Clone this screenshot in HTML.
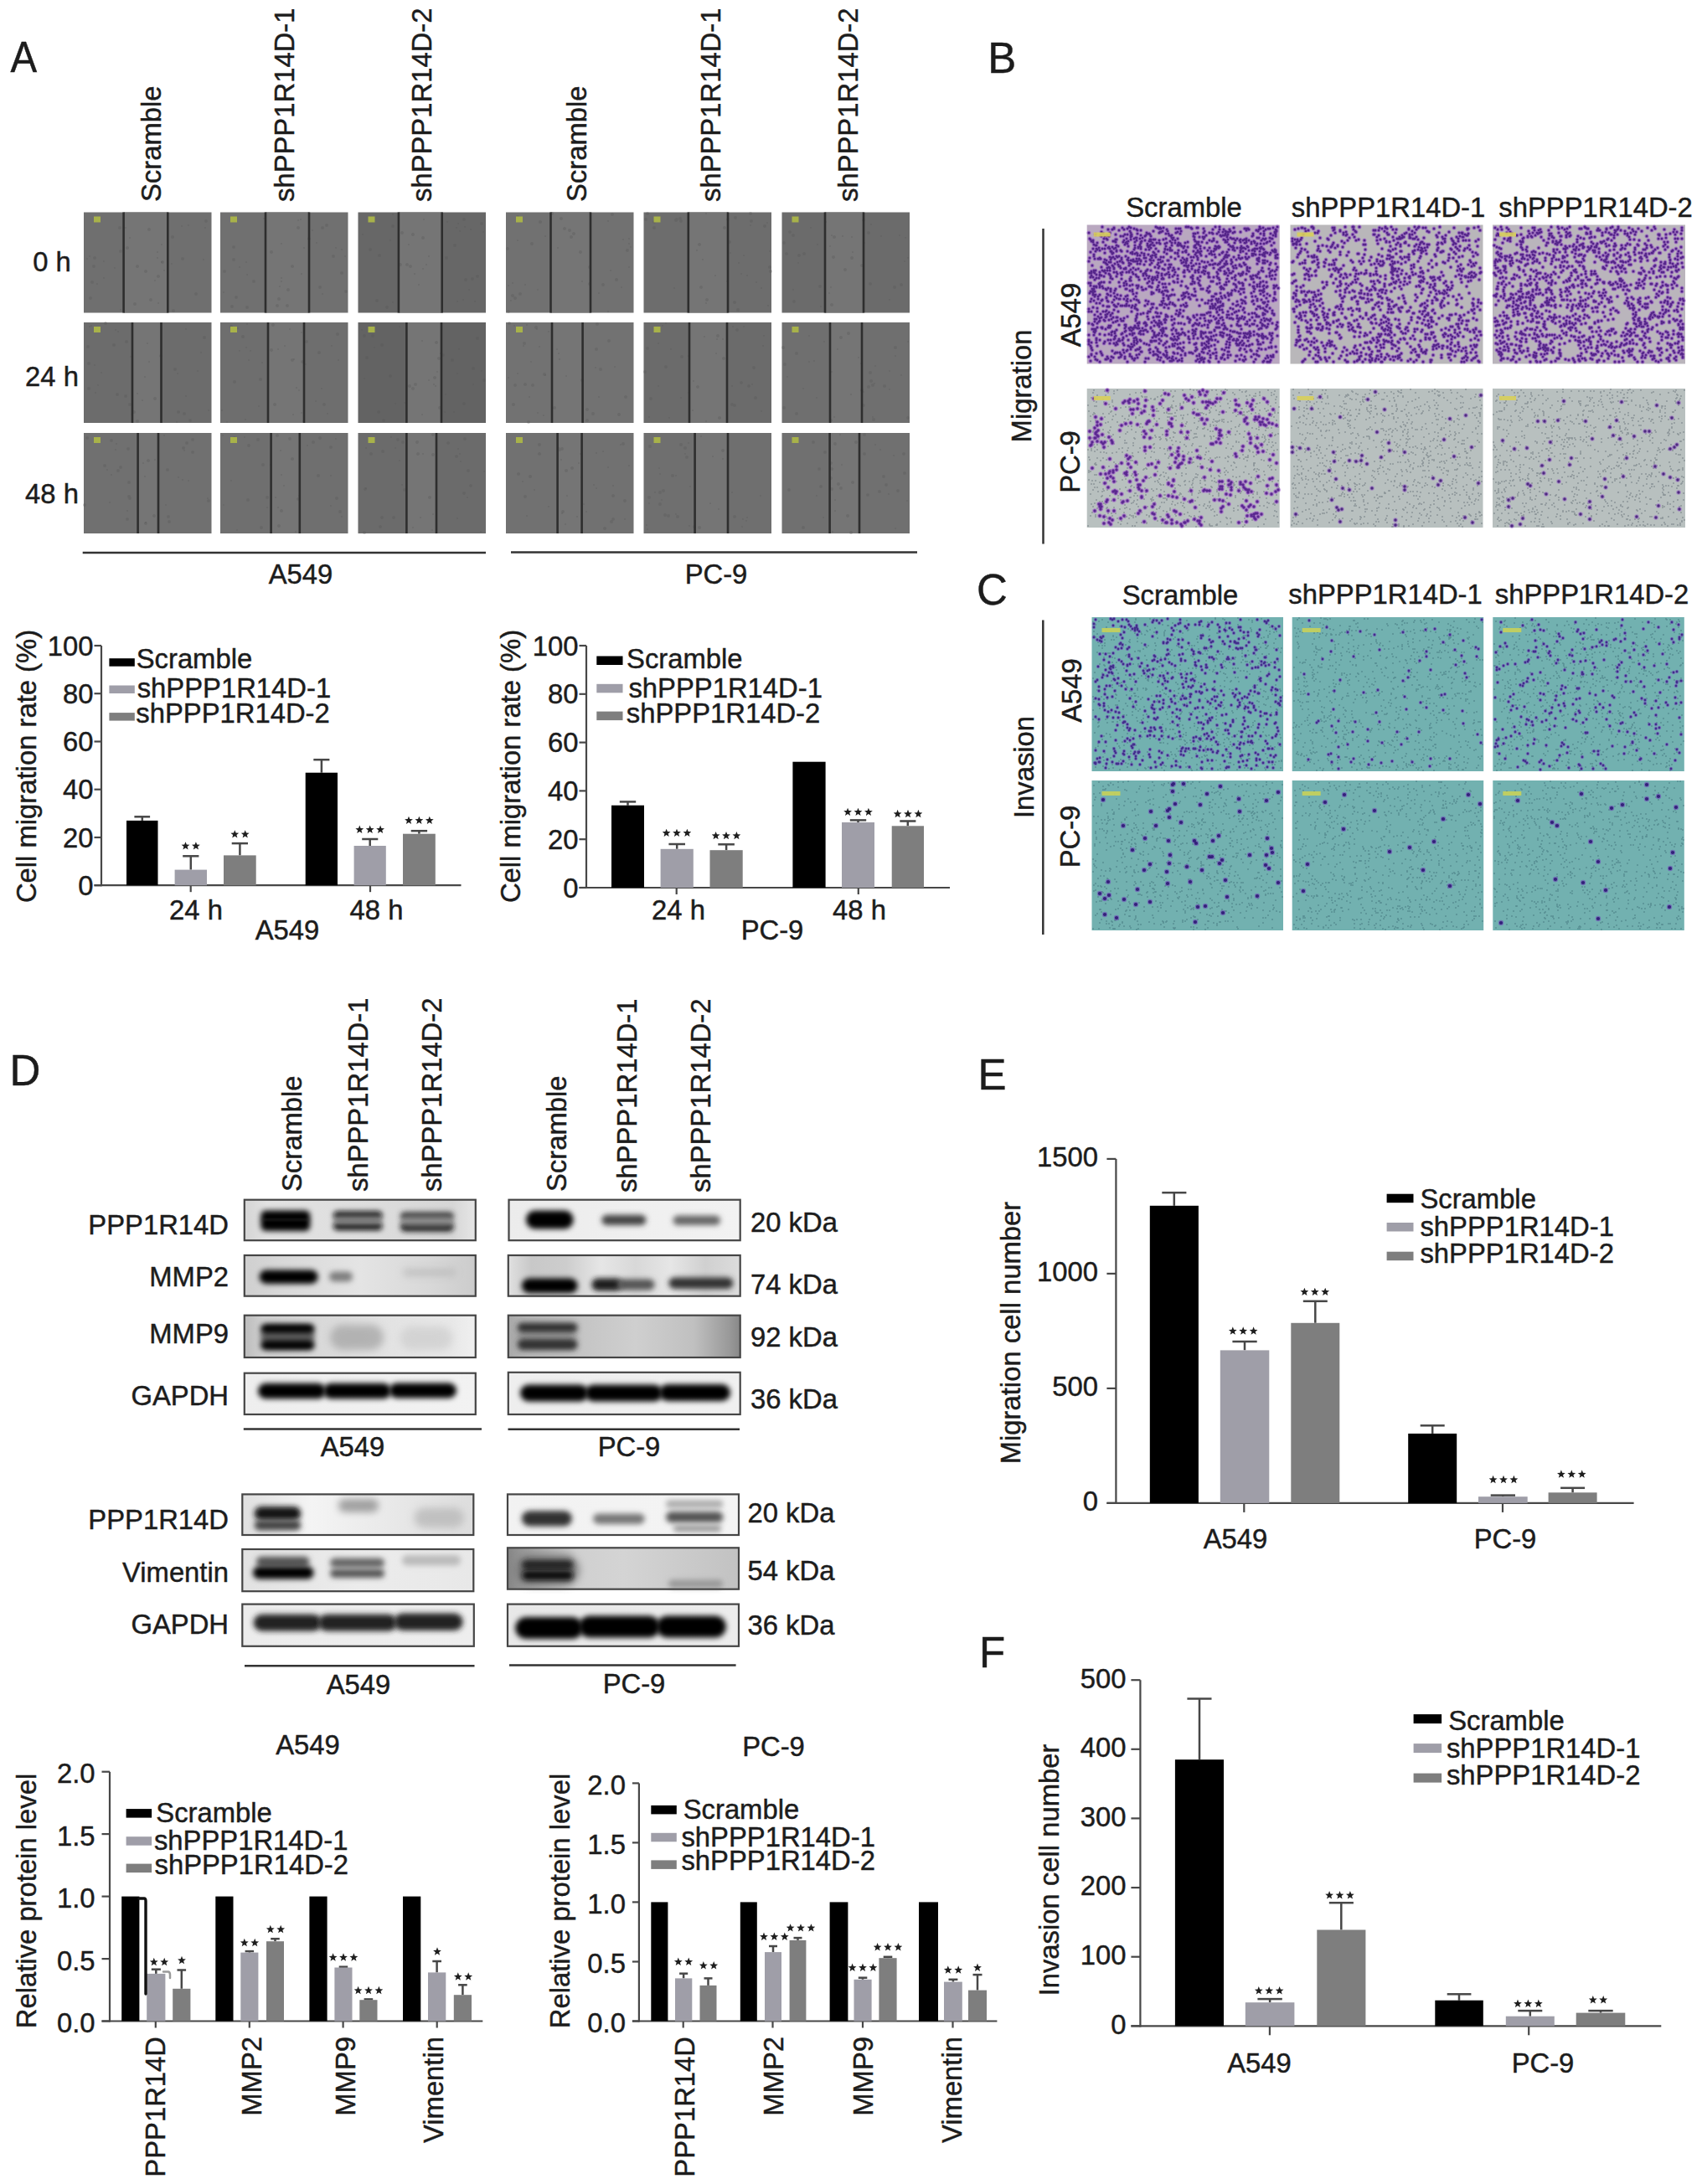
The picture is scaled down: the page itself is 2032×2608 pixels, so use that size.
<!DOCTYPE html><html><head><meta charset="utf-8"><style>html,body{margin:0;padding:0;background:#fff;}body{width:2032px;height:2608px;overflow:hidden;font-family:"Liberation Sans",sans-serif;}svg{display:block}</style></head><body><svg width="2032" height="2608" viewBox="0 0 2032 2608" font-family="'Liberation Sans', sans-serif"><defs><filter id="blur3" x="-30%" y="-100%" width="160%" height="300%"><feGaussianBlur stdDeviation="3"/></filter><filter id="blur5" x="-30%" y="-100%" width="160%" height="300%"><feGaussianBlur stdDeviation="5"/></filter><filter id="blur8" x="-30%" y="-100%" width="160%" height="300%"><feGaussianBlur stdDeviation="8"/></filter><filter id="bl1_5" x="-50%" y="-100%" width="200%" height="300%"><feGaussianBlur stdDeviation="1.5"/></filter><filter id="bl2" x="-50%" y="-100%" width="200%" height="300%"><feGaussianBlur stdDeviation="2"/></filter><filter id="bl3" x="-50%" y="-100%" width="200%" height="300%"><feGaussianBlur stdDeviation="3"/></filter><filter id="bl4" x="-50%" y="-100%" width="200%" height="300%"><feGaussianBlur stdDeviation="4"/></filter><filter id="bl5" x="-50%" y="-100%" width="200%" height="300%"><feGaussianBlur stdDeviation="5"/></filter><filter id="bl6" x="-50%" y="-100%" width="200%" height="300%"><feGaussianBlur stdDeviation="6"/></filter><filter id="bl8" x="-50%" y="-100%" width="200%" height="300%"><feGaussianBlur stdDeviation="8"/></filter><linearGradient id="g1" x1="0" y1="0" x2="1" y2="0"><stop offset="0" stop-color="#d4d4d4"/><stop offset="0.1" stop-color="#e2e2e2"/><stop offset="0.5" stop-color="#dedede"/><stop offset="0.9" stop-color="#d6d6d6"/><stop offset="1" stop-color="#e6e6e6"/></linearGradient><linearGradient id="g2" x1="0" y1="0" x2="1" y2="0"><stop offset="0" stop-color="#cfcfcf"/><stop offset="0.15" stop-color="#d8d8d8"/><stop offset="0.5" stop-color="#e4e4e4"/><stop offset="0.8" stop-color="#d8d8d8"/><stop offset="1" stop-color="#cccccc"/></linearGradient><linearGradient id="g3" x1="0" y1="0" x2="1" y2="0"><stop offset="0" stop-color="#bcbcbc"/><stop offset="0.08" stop-color="#d0d0d0"/><stop offset="0.3" stop-color="#d8d8d8"/><stop offset="0.6" stop-color="#e2e2e2"/><stop offset="0.9" stop-color="#e8e8e8"/><stop offset="1" stop-color="#f0f0f0"/></linearGradient><linearGradient id="g4" x1="0" y1="0" x2="1" y2="0"><stop offset="0" stop-color="#eeeeee"/><stop offset="1" stop-color="#f2f2f2"/></linearGradient><linearGradient id="g5" x1="0" y1="0" x2="1" y2="0"><stop offset="0" stop-color="#e0e0e0"/><stop offset="0.3" stop-color="#f4f4f4"/><stop offset="0.6" stop-color="#eaeaea"/><stop offset="1" stop-color="#dddddd"/></linearGradient><linearGradient id="g6" x1="0" y1="0" x2="1" y2="0"><stop offset="0" stop-color="#e2e2e2"/><stop offset="0.5" stop-color="#ececec"/><stop offset="1" stop-color="#e8e8e8"/></linearGradient><linearGradient id="g7" x1="0" y1="0" x2="1" y2="0"><stop offset="0" stop-color="#ececec"/><stop offset="1" stop-color="#eeeeee"/></linearGradient><linearGradient id="g8" x1="0" y1="0" x2="1" y2="0"><stop offset="0" stop-color="#ececec"/><stop offset="1" stop-color="#f2f2f2"/></linearGradient><linearGradient id="g9" x1="0" y1="0" x2="1" y2="0"><stop offset="0" stop-color="#e0e0e0"/><stop offset="0.1" stop-color="#c8c8c8"/><stop offset="0.25" stop-color="#cdcdcd"/><stop offset="0.4" stop-color="#e6e6e6"/><stop offset="0.55" stop-color="#d8d8d8"/><stop offset="0.7" stop-color="#e6e6e6"/><stop offset="0.85" stop-color="#d0d0d0"/><stop offset="1" stop-color="#dcdcdc"/></linearGradient><linearGradient id="g10" x1="0" y1="0" x2="1" y2="0"><stop offset="0" stop-color="#a8a8a8"/><stop offset="0.08" stop-color="#b8b8b8"/><stop offset="0.3" stop-color="#c4c4c4"/><stop offset="0.55" stop-color="#cfcfcf"/><stop offset="0.8" stop-color="#c0c0c0"/><stop offset="0.95" stop-color="#9a9a9a"/><stop offset="1" stop-color="#888"/></linearGradient><linearGradient id="g11" x1="0" y1="0" x2="1" y2="0"><stop offset="0" stop-color="#eeeeee"/><stop offset="1" stop-color="#f0f0f0"/></linearGradient><linearGradient id="g12" x1="0" y1="0" x2="1" y2="0"><stop offset="0" stop-color="#f2f2f2"/><stop offset="1" stop-color="#f4f4f4"/></linearGradient><linearGradient id="g13" x1="0" y1="0" x2="1" y2="0"><stop offset="0" stop-color="#858585"/><stop offset="0.12" stop-color="#a8a8a8"/><stop offset="0.3" stop-color="#d0d0d0"/><stop offset="0.5" stop-color="#d4d4d4"/><stop offset="0.7" stop-color="#cdcdcd"/><stop offset="1" stop-color="#c2c2c2"/></linearGradient><linearGradient id="g14" x1="0" y1="0" x2="1" y2="0"><stop offset="0" stop-color="#e8e8e8"/><stop offset="1" stop-color="#ececec"/></linearGradient></defs><rect width="2032" height="2608" fill="#fff"/><text transform="translate(12.6,86.4) scale(0.93,1.03)" font-size="51" text-anchor="start" fill="#1c1c1c" stroke="#1c1c1c" stroke-width="0.45">A</text>
<text transform="translate(1179.3,87.0) scale(1,1.03)" font-size="51" text-anchor="start" fill="#1c1c1c" stroke="#1c1c1c" stroke-width="0.45">B</text>
<text transform="translate(1166.0,722.0) scale(1,1.03)" font-size="51" text-anchor="start" fill="#1c1c1c" stroke="#1c1c1c" stroke-width="0.45">C</text>
<text transform="translate(11.5,1296.3) scale(1,1.03)" font-size="51" text-anchor="start" fill="#1c1c1c" stroke="#1c1c1c" stroke-width="0.45">D</text>
<text transform="translate(1167.5,1300.5) scale(1,1.03)" font-size="51" text-anchor="start" fill="#1c1c1c" stroke="#1c1c1c" stroke-width="0.45">E</text>
<text transform="translate(1168.9,1990.5) scale(1,1.03)" font-size="51" text-anchor="start" fill="#1c1c1c" stroke="#1c1c1c" stroke-width="0.45">F</text>
<rect x="100.0" y="253.5" width="152.5" height="120.0" fill="#6f6f6f"/>
<rect x="147.6" y="253.5" width="52.7" height="120.0" fill="#757575"/>
<path d="M150 272h0M189 362h0M107 306h0M137 320h0M225 269h0M196 323h0M188 301h0M185 335h0M116 339h0M155 284h0M144 370h0M124 312h0M188 308h0M243 310h0M104 309h0M193 313h0M217 270h0M245 272h0M124 332h0M193 292h0M205 315h0" stroke="#555" stroke-width="2" stroke-linecap="round" opacity="0.3"/>
<path d="M112 318h0M108 356h0M164 318h0M189 330h0M194 313h0M218 309h0M206 283h0M180 358h0M178 274h0M246 264h0M152 296h0M110 337h0M144 300h0M161 363h0M113 308h0M234 351h0M207 371h0M174 324h0M143 272h0" stroke="#555" stroke-width="4" stroke-linecap="round" opacity="0.3"/>
<line x1="147.6" y1="253.5" x2="147.6" y2="373.5" stroke="#2e2e2e" stroke-width="2.6"/>
<line x1="200.3" y1="253.5" x2="200.3" y2="373.5" stroke="#2e2e2e" stroke-width="2.6"/>
<rect x="112.0" y="258.5" width="8.0" height="7.0" fill="#a8b24a"/>
<rect x="263.0" y="253.5" width="152.5" height="120.0" fill="#707070"/>
<rect x="317.0" y="253.5" width="52.0" height="120.0" fill="#757575"/>
<path d="M333 357h0M324 301h0M349 318h0M356 272h0M408 326h0M282 355h0M279 295h0M295 367h0M369 285h0M344 346h0M413 348h0M303 336h0M331 365h0M279 310h0M390 269h0M382 343h0M398 306h0M277 366h0M268 324h0M385 272h0M343 365h0" stroke="#555" stroke-width="4" stroke-linecap="round" opacity="0.3"/>
<path d="M359 262h0M412 306h0M315 261h0M356 263h0M336 291h0M336 336h0M286 319h0M378 290h0M401 296h0M360 327h0M385 351h0M294 313h0M408 298h0M295 328h0M336 332h0M334 342h0M373 275h0M363 296h0M267 349h0" stroke="#555" stroke-width="2" stroke-linecap="round" opacity="0.3"/>
<line x1="317.0" y1="253.5" x2="317.0" y2="373.5" stroke="#2e2e2e" stroke-width="2.6"/>
<line x1="369.0" y1="253.5" x2="369.0" y2="373.5" stroke="#2e2e2e" stroke-width="2.6"/>
<rect x="275.0" y="258.5" width="8.0" height="7.0" fill="#a8b24a"/>
<rect x="427.5" y="253.5" width="152.5" height="120.0" fill="#676767"/>
<rect x="475.9" y="253.5" width="51.8" height="120.0" fill="#757575"/>
<path d="M577 277h0M433 280h0M553 358h0M509 316h0M560 346h0M545 272h0M500 340h0M547 267h0M466 287h0M505 321h0M495 327h0M567 360h0M555 271h0M488 292h0M546 360h0M562 274h0M512 306h0M506 262h0M469 361h0M534 265h0M549 276h0M469 256h0" stroke="#555" stroke-width="2" stroke-linecap="round" opacity="0.3"/>
<path d="M543 293h0M554 262h0M564 333h0M478 316h0M533 308h0M505 284h0M493 280h0M570 330h0M450 359h0M462 367h0M453 305h0M480 278h0M442 298h0M486 316h0M575 267h0M469 270h0M556 334h0M490 318h0" stroke="#555" stroke-width="4" stroke-linecap="round" opacity="0.3"/>
<line x1="475.9" y1="253.5" x2="475.9" y2="373.5" stroke="#2e2e2e" stroke-width="2.6"/>
<line x1="527.7" y1="253.5" x2="527.7" y2="373.5" stroke="#2e2e2e" stroke-width="2.6"/>
<rect x="439.5" y="258.5" width="8.0" height="7.0" fill="#a8b24a"/>
<rect x="604.0" y="253.5" width="152.5" height="120.0" fill="#717171"/>
<rect x="657.5" y="253.5" width="47.5" height="120.0" fill="#757575"/>
<path d="M726 264h0M744 286h0M612 338h0M751 285h0M726 372h0M607 341h0M751 291h0M753 295h0M666 296h0M695 336h0M751 319h0M610 359h0M618 287h0M642 346h0M651 282h0M627 340h0M715 350h0M742 343h0M729 323h0" stroke="#555" stroke-width="2" stroke-linecap="round" opacity="0.3"/>
<path d="M615 356h0M607 372h0M635 291h0M685 279h0M680 275h0M682 283h0M621 351h0M704 319h0M731 256h0M670 261h0M736 334h0M674 273h0M606 297h0M659 255h0M645 265h0M693 301h0M704 339h0M720 340h0M612 353h0M618 259h0M749 299h0" stroke="#555" stroke-width="4" stroke-linecap="round" opacity="0.3"/>
<line x1="657.5" y1="253.5" x2="657.5" y2="373.5" stroke="#2e2e2e" stroke-width="2.6"/>
<line x1="705.0" y1="253.5" x2="705.0" y2="373.5" stroke="#2e2e2e" stroke-width="2.6"/>
<rect x="616.0" y="258.5" width="8.0" height="7.0" fill="#a8b24a"/>
<rect x="768.5" y="253.5" width="152.5" height="120.0" fill="#6d6d6d"/>
<rect x="821.8" y="253.5" width="47.2" height="120.0" fill="#757575"/>
<path d="M854 329h0M843 255h0M882 314h0M805 344h0M885 327h0M868 336h0M916 266h0M839 310h0M917 365h0M919 300h0M903 337h0M872 302h0M832 299h0M896 269h0M909 344h0M888 305h0M892 329h0M843 362h0" stroke="#555" stroke-width="2" stroke-linecap="round" opacity="0.3"/>
<path d="M869 262h0M807 263h0M881 370h0M897 264h0M781 272h0M771 262h0M871 289h0M919 319h0M813 264h0M781 265h0M913 270h0M844 358h0M773 255h0M896 255h0M877 361h0M808 262h0M920 324h0M812 261h0M865 272h0M835 292h0M878 260h0M837 343h0" stroke="#555" stroke-width="4" stroke-linecap="round" opacity="0.3"/>
<line x1="821.8" y1="253.5" x2="821.8" y2="373.5" stroke="#2e2e2e" stroke-width="2.6"/>
<line x1="869.0" y1="253.5" x2="869.0" y2="373.5" stroke="#2e2e2e" stroke-width="2.6"/>
<rect x="780.5" y="258.5" width="8.0" height="7.0" fill="#a8b24a"/>
<rect x="933.5" y="253.5" width="152.5" height="120.0" fill="#6b6b6b"/>
<rect x="985.0" y="253.5" width="46.0" height="120.0" fill="#757575"/>
<path d="M960 303h0M979 342h0M996 283h0M1031 263h0M1017 308h0M1068 343h0M1009 322h0M948 360h0M995 307h0M954 305h0M993 364h0M1076 340h0M1029 317h0M936 290h0M939 303h0M943 277h0M947 281h0M1039 339h0M1037 278h0" stroke="#555" stroke-width="4" stroke-linecap="round" opacity="0.3"/>
<path d="M1018 301h0M1084 308h0M1017 283h0M986 265h0M990 350h0M992 343h0M991 294h0M953 314h0M1062 358h0M1080 312h0M1081 284h0M968 272h0M947 346h0M1052 282h0M1032 290h0M1040 268h0M980 366h0M993 281h0M976 292h0M1006 282h0M1074 281h0" stroke="#555" stroke-width="2" stroke-linecap="round" opacity="0.3"/>
<line x1="985.0" y1="253.5" x2="985.0" y2="373.5" stroke="#2e2e2e" stroke-width="2.6"/>
<line x1="1031.0" y1="253.5" x2="1031.0" y2="373.5" stroke="#2e2e2e" stroke-width="2.6"/>
<rect x="945.5" y="258.5" width="8.0" height="7.0" fill="#a8b24a"/>
<rect x="100.0" y="385.0" width="152.5" height="120.0" fill="#6c6c6c"/>
<rect x="158.0" y="385.0" width="34.5" height="120.0" fill="#757575"/>
<path d="M212 446h0M176 410h0M117 460h0M236 443h0M109 389h0M164 470h0M211 504h0M113 436h0M114 469h0M157 495h0M107 390h0M222 393h0M156 426h0M240 421h0M121 445h0M222 473h0M170 478h0M178 432h0M138 394h0M173 450h0M249 490h0M141 396h0" stroke="#555" stroke-width="2" stroke-linecap="round" opacity="0.3"/>
<path d="M136 412h0M244 403h0M160 492h0M151 408h0M106 464h0M227 502h0M126 386h0M185 476h0M155 483h0M150 473h0M106 434h0M213 492h0M140 471h0M105 414h0M209 441h0M220 494h0M192 425h0M164 503h0" stroke="#555" stroke-width="4" stroke-linecap="round" opacity="0.3"/>
<line x1="158.0" y1="385.0" x2="158.0" y2="505.0" stroke="#2e2e2e" stroke-width="2.6"/>
<line x1="192.5" y1="385.0" x2="192.5" y2="505.0" stroke="#2e2e2e" stroke-width="2.6"/>
<rect x="112.0" y="390.0" width="8.0" height="7.0" fill="#a8b24a"/>
<rect x="263.0" y="385.0" width="152.5" height="120.0" fill="#6e6e6e"/>
<rect x="320.0" y="385.0" width="43.0" height="120.0" fill="#757575"/>
<path d="M290 402h0M381 421h0M349 430h0M280 456h0M387 483h0M366 408h0M276 390h0M324 418h0M311 453h0M326 388h0M361 432h0M328 483h0M403 399h0" stroke="#555" stroke-width="4" stroke-linecap="round" opacity="0.3"/>
<path d="M357 466h0M294 415h0M299 419h0M313 433h0M340 413h0M362 503h0M265 490h0M391 494h0M396 413h0M293 501h0M404 430h0M332 417h0M297 430h0M271 504h0M354 463h0M346 393h0M384 464h0M360 397h0M365 435h0M295 387h0M351 429h0M284 392h0M360 493h0M350 495h0M286 419h0M377 479h0M309 485h0" stroke="#555" stroke-width="2" stroke-linecap="round" opacity="0.3"/>
<line x1="320.0" y1="385.0" x2="320.0" y2="505.0" stroke="#2e2e2e" stroke-width="2.6"/>
<line x1="363.0" y1="385.0" x2="363.0" y2="505.0" stroke="#2e2e2e" stroke-width="2.6"/>
<rect x="275.0" y="390.0" width="8.0" height="7.0" fill="#a8b24a"/>
<rect x="427.5" y="385.0" width="152.5" height="120.0" fill="#636363"/>
<rect x="485.4" y="385.0" width="41.6" height="120.0" fill="#757575"/>
<path d="M575 443h0M520 461h0M565 459h0M447 415h0M435 452h0M526 422h0M504 407h0M522 444h0M483 481h0M546 446h0M542 492h0M432 394h0M472 482h0M532 471h0M504 495h0M518 459h0M477 390h0M531 492h0M548 417h0M512 454h0" stroke="#555" stroke-width="2" stroke-linecap="round" opacity="0.3"/>
<path d="M525 487h0M521 409h0M456 412h0M570 404h0M529 424h0M519 451h0M493 464h0M496 459h0M554 482h0M445 401h0M435 401h0M458 502h0M438 427h0M452 492h0M565 440h0M489 461h0M524 428h0M466 449h0M540 430h0M578 454h0" stroke="#555" stroke-width="4" stroke-linecap="round" opacity="0.3"/>
<line x1="485.4" y1="385.0" x2="485.4" y2="505.0" stroke="#2e2e2e" stroke-width="2.6"/>
<line x1="527.0" y1="385.0" x2="527.0" y2="505.0" stroke="#2e2e2e" stroke-width="2.6"/>
<rect x="439.5" y="390.0" width="8.0" height="7.0" fill="#a8b24a"/>
<rect x="604.0" y="385.0" width="152.5" height="120.0" fill="#727272"/>
<rect x="659.0" y="385.0" width="36.6" height="120.0" fill="#757575"/>
<path d="M655 396h0M632 474h0M715 474h0M668 429h0M625 413h0M651 448h0M667 422h0M629 388h0M711 439h0M665 417h0M642 493h0M614 389h0M641 393h0M607 451h0M649 496h0M618 446h0M644 414h0M634 432h0M676 449h0M734 438h0" stroke="#555" stroke-width="2" stroke-linecap="round" opacity="0.3"/>
<path d="M650 447h0M701 502h0M627 459h0M608 386h0M636 460h0M701 489h0M613 483h0M695 454h0M626 410h0M727 407h0M615 460h0M713 387h0M717 441h0M631 504h0M640 391h0M739 495h0M712 417h0M708 494h0M747 474h0M662 487h0" stroke="#555" stroke-width="4" stroke-linecap="round" opacity="0.3"/>
<line x1="659.0" y1="385.0" x2="659.0" y2="505.0" stroke="#2e2e2e" stroke-width="2.6"/>
<line x1="695.6" y1="385.0" x2="695.6" y2="505.0" stroke="#2e2e2e" stroke-width="2.6"/>
<rect x="616.0" y="390.0" width="8.0" height="7.0" fill="#a8b24a"/>
<rect x="768.5" y="385.0" width="152.5" height="120.0" fill="#6b6b6b"/>
<rect x="823.0" y="385.0" width="45.0" height="120.0" fill="#757575"/>
<path d="M855 422h0M828 455h0M791 389h0M863 405h0M875 390h0M874 461h0M799 499h0M786 410h0M775 498h0M841 402h0M898 459h0M888 390h0M822 469h0M795 386h0M813 475h0M856 405h0M911 413h0M786 461h0M843 503h0M909 491h0M801 417h0M827 490h0M912 401h0M822 425h0" stroke="#555" stroke-width="2" stroke-linecap="round" opacity="0.3"/>
<path d="M880 394h0M902 475h0M894 461h0M814 426h0M773 416h0M777 476h0M885 457h0M877 484h0M770 444h0M874 483h0M859 499h0M864 428h0M833 462h0M900 439h0M795 438h0M857 401h0" stroke="#555" stroke-width="4" stroke-linecap="round" opacity="0.3"/>
<line x1="823.0" y1="385.0" x2="823.0" y2="505.0" stroke="#2e2e2e" stroke-width="2.6"/>
<line x1="868.0" y1="385.0" x2="868.0" y2="505.0" stroke="#2e2e2e" stroke-width="2.6"/>
<rect x="780.5" y="390.0" width="8.0" height="7.0" fill="#a8b24a"/>
<rect x="933.5" y="385.0" width="152.5" height="120.0" fill="#6f6f6f"/>
<rect x="991.0" y="385.0" width="38.0" height="120.0" fill="#757575"/>
<path d="M1031 468h0M975 475h0M1025 427h0M984 408h0M959 464h0M1045 437h0M966 432h0M1062 465h0M1000 417h0M1062 443h0M1028 434h0M1069 425h0M993 444h0M940 450h0M1042 498h0M1016 471h0M996 498h0M1084 408h0M1044 458h0M972 431h0M1076 448h0M966 401h0" stroke="#555" stroke-width="2" stroke-linecap="round" opacity="0.3"/>
<path d="M1043 501h0M992 502h0M951 494h0M936 487h0M1039 445h0M1004 403h0M935 415h0M1040 455h0M1037 462h0M1069 415h0M1042 460h0M1013 398h0M1031 484h0M937 435h0M1029 466h0M951 422h0M1084 499h0M1056 461h0" stroke="#555" stroke-width="4" stroke-linecap="round" opacity="0.3"/>
<line x1="991.0" y1="385.0" x2="991.0" y2="505.0" stroke="#2e2e2e" stroke-width="2.6"/>
<line x1="1029.0" y1="385.0" x2="1029.0" y2="505.0" stroke="#2e2e2e" stroke-width="2.6"/>
<rect x="945.5" y="390.0" width="8.0" height="7.0" fill="#a8b24a"/>
<rect x="100.0" y="517.0" width="152.5" height="120.0" fill="#707070"/>
<rect x="164.6" y="517.0" width="24.4" height="120.0" fill="#757575"/>
<path d="M198 603h0M171 553h0M218 573h0M173 569h0M196 520h0M139 530h0M220 538h0M131 600h0M213 570h0M185 549h0M225 574h0M138 537h0M165 636h0M128 561h0M174 624h0M133 567h0M152 610h0M248 595h0" stroke="#555" stroke-width="2" stroke-linecap="round" opacity="0.3"/>
<path d="M154 593h0M141 562h0M249 598h0M101 603h0M155 595h0M200 561h0M230 525h0M219 535h0M133 526h0M230 540h0M153 536h0M202 623h0M174 625h0M125 556h0M201 617h0M104 523h0M223 529h0M152 620h0M144 558h0M184 616h0M154 576h0M177 550h0" stroke="#555" stroke-width="4" stroke-linecap="round" opacity="0.3"/>
<line x1="164.6" y1="517.0" x2="164.6" y2="637.0" stroke="#2e2e2e" stroke-width="2.6"/>
<line x1="189.0" y1="517.0" x2="189.0" y2="637.0" stroke="#2e2e2e" stroke-width="2.6"/>
<rect x="112.0" y="522.0" width="8.0" height="7.0" fill="#a8b24a"/>
<rect x="263.0" y="517.0" width="152.5" height="120.0" fill="#6f6f6f"/>
<rect x="323.6" y="517.0" width="34.2" height="120.0" fill="#757575"/>
<path d="M314 555h0M382 523h0M346 524h0M280 523h0M356 596h0M296 597h0M402 595h0M395 534h0M349 548h0M380 568h0M331 520h0M297 532h0M374 528h0M333 628h0M312 630h0M319 594h0M336 610h0M406 611h0M308 525h0" stroke="#555" stroke-width="4" stroke-linecap="round" opacity="0.3"/>
<path d="M283 633h0M357 592h0M358 539h0M395 568h0M292 522h0M329 594h0M339 580h0M353 635h0M336 567h0M276 574h0M358 568h0M367 532h0M267 603h0M332 606h0M319 606h0M401 524h0M266 520h0M323 555h0M408 617h0M335 538h0M395 604h0" stroke="#555" stroke-width="2" stroke-linecap="round" opacity="0.3"/>
<line x1="323.6" y1="517.0" x2="323.6" y2="637.0" stroke="#2e2e2e" stroke-width="2.6"/>
<line x1="357.8" y1="517.0" x2="357.8" y2="637.0" stroke="#2e2e2e" stroke-width="2.6"/>
<rect x="275.0" y="522.0" width="8.0" height="7.0" fill="#a8b24a"/>
<rect x="427.5" y="517.0" width="152.5" height="120.0" fill="#6b6b6b"/>
<rect x="485.4" y="517.0" width="35.6" height="120.0" fill="#757575"/>
<path d="M554 589h0M470 618h0M481 528h0M475 525h0M499 542h0M517 519h0M498 528h0M545 545h0M562 580h0M457 539h0M483 585h0M435 636h0M559 562h0M443 542h0M517 543h0M436 584h0M535 529h0M513 594h0M456 618h0M454 629h0M555 524h0" stroke="#555" stroke-width="4" stroke-linecap="round" opacity="0.3"/>
<path d="M516 633h0M485 599h0M550 551h0M477 550h0M517 614h0M472 535h0M549 542h0M505 542h0M546 619h0M547 536h0M480 579h0M493 630h0M467 522h0M578 563h0M502 618h0M558 594h0M574 635h0M437 583h0M437 535h0" stroke="#555" stroke-width="2" stroke-linecap="round" opacity="0.3"/>
<line x1="485.4" y1="517.0" x2="485.4" y2="637.0" stroke="#2e2e2e" stroke-width="2.6"/>
<line x1="521.0" y1="517.0" x2="521.0" y2="637.0" stroke="#2e2e2e" stroke-width="2.6"/>
<rect x="439.5" y="522.0" width="8.0" height="7.0" fill="#a8b24a"/>
<rect x="604.0" y="517.0" width="152.5" height="120.0" fill="#717171"/>
<rect x="665.6" y="517.0" width="29.0" height="120.0" fill="#757575"/>
<path d="M746 598h0M676 562h0M722 631h0M732 592h0M671 536h0M667 536h0M644 531h0M644 542h0M744 530h0M668 537h0M627 593h0M672 611h0M633 569h0M730 623h0M683 559h0M732 620h0M619 566h0" stroke="#555" stroke-width="4" stroke-linecap="round" opacity="0.3"/>
<path d="M694 570h0M624 575h0M671 613h0M675 626h0M629 616h0M746 620h0M751 556h0M677 592h0M655 605h0M712 583h0M691 553h0M741 531h0M700 611h0M689 617h0M670 549h0M726 558h0M638 585h0M732 580h0M712 541h0M720 539h0M697 602h0M693 542h0M709 579h0" stroke="#555" stroke-width="2" stroke-linecap="round" opacity="0.3"/>
<line x1="665.6" y1="517.0" x2="665.6" y2="637.0" stroke="#2e2e2e" stroke-width="2.6"/>
<line x1="694.6" y1="517.0" x2="694.6" y2="637.0" stroke="#2e2e2e" stroke-width="2.6"/>
<rect x="616.0" y="522.0" width="8.0" height="7.0" fill="#a8b24a"/>
<rect x="768.5" y="517.0" width="152.5" height="120.0" fill="#6f6f6f"/>
<rect x="829.6" y="517.0" width="39.4" height="120.0" fill="#757575"/>
<path d="M790 597h0M775 601h0M823 628h0M887 620h0M837 521h0M773 632h0M807 614h0M772 627h0M848 601h0M822 529h0M858 608h0M788 566h0M851 545h0M874 588h0M892 618h0M807 568h0M824 581h0M818 542h0M886 629h0M891 622h0M908 592h0M863 548h0M787 559h0M782 588h0" stroke="#555" stroke-width="2" stroke-linecap="round" opacity="0.3"/>
<path d="M798 616h0M788 602h0M813 531h0M863 538h0M809 617h0M776 533h0M792 586h0M794 615h0M829 629h0M820 546h0M877 617h0M818 535h0M803 568h0M775 594h0M835 630h0M788 588h0" stroke="#555" stroke-width="4" stroke-linecap="round" opacity="0.3"/>
<line x1="829.6" y1="517.0" x2="829.6" y2="637.0" stroke="#2e2e2e" stroke-width="2.6"/>
<line x1="869.0" y1="517.0" x2="869.0" y2="637.0" stroke="#2e2e2e" stroke-width="2.6"/>
<rect x="780.5" y="522.0" width="8.0" height="7.0" fill="#a8b24a"/>
<rect x="933.5" y="517.0" width="152.5" height="120.0" fill="#707070"/>
<rect x="990.6" y="517.0" width="35.4" height="120.0" fill="#757575"/>
<path d="M1001 578h0M1072 586h0M971 528h0M1032 542h0M1004 583h0M985 540h0M1080 565h0M959 630h0M1018 576h0M1012 616h0M1036 591h0M1058 579h0M997 530h0M1050 587h0M992 571h0M978 560h0M993 584h0M1032 519h0M992 553h0M1055 569h0M1022 528h0M1079 542h0M942 585h0M980 581h0M1016 636h0M993 560h0" stroke="#555" stroke-width="4" stroke-linecap="round" opacity="0.3"/>
<path d="M1061 590h0M1005 555h0M1067 544h0M1051 537h0M1026 559h0M1045 531h0M1083 598h0M997 597h0M975 592h0M994 635h0M997 610h0M983 618h0M1069 631h0M1003 519h0" stroke="#555" stroke-width="2" stroke-linecap="round" opacity="0.3"/>
<line x1="990.6" y1="517.0" x2="990.6" y2="637.0" stroke="#2e2e2e" stroke-width="2.6"/>
<line x1="1026.0" y1="517.0" x2="1026.0" y2="637.0" stroke="#2e2e2e" stroke-width="2.6"/>
<rect x="945.5" y="522.0" width="8.0" height="7.0" fill="#a8b24a"/>
<text transform="translate(192.0,241.0) rotate(-90) scale(1,1.025)" font-size="32.8" text-anchor="start" fill="#1c1c1c" stroke="#1c1c1c" stroke-width="0.45">Scramble</text>
<text transform="translate(350.7,241.0) rotate(-90) scale(1,1.025)" font-size="32.8" text-anchor="start" fill="#1c1c1c" stroke="#1c1c1c" stroke-width="0.45">shPPP1R14D-1</text>
<text transform="translate(515.3,241.0) rotate(-90) scale(1,1.025)" font-size="32.8" text-anchor="start" fill="#1c1c1c" stroke="#1c1c1c" stroke-width="0.45">shPPP1R14D-2</text>
<text transform="translate(699.8,241.0) rotate(-90) scale(1,1.025)" font-size="32.8" text-anchor="start" fill="#1c1c1c" stroke="#1c1c1c" stroke-width="0.45">Scramble</text>
<text transform="translate(860.2,241.0) rotate(-90) scale(1,1.025)" font-size="32.8" text-anchor="start" fill="#1c1c1c" stroke="#1c1c1c" stroke-width="0.45">shPPP1R14D-1</text>
<text transform="translate(1024.1,241.0) rotate(-90) scale(1,1.025)" font-size="32.8" text-anchor="start" fill="#1c1c1c" stroke="#1c1c1c" stroke-width="0.45">shPPP1R14D-2</text>
<text transform="translate(62.0,324.0) scale(1,1.025)" font-size="32.8" text-anchor="middle" fill="#1c1c1c" stroke="#1c1c1c" stroke-width="0.45">0 h</text>
<text transform="translate(62.0,461.2) scale(1,1.025)" font-size="32.8" text-anchor="middle" fill="#1c1c1c" stroke="#1c1c1c" stroke-width="0.45">24 h</text>
<text transform="translate(62.0,600.5) scale(1,1.025)" font-size="32.8" text-anchor="middle" fill="#1c1c1c" stroke="#1c1c1c" stroke-width="0.45">48 h</text>
<line x1="98.7" y1="660.0" x2="580.0" y2="660.0" stroke="#333" stroke-width="2.5"/>
<line x1="610.0" y1="659.5" x2="1095.0" y2="659.5" stroke="#333" stroke-width="2.5"/>
<text transform="translate(359.0,697.0) scale(1,1.025)" font-size="32.8" text-anchor="middle" fill="#1c1c1c" stroke="#1c1c1c" stroke-width="0.45">A549</text>
<text transform="translate(855.0,697.0) scale(1,1.025)" font-size="32.8" text-anchor="middle" fill="#1c1c1c" stroke="#1c1c1c" stroke-width="0.45">PC-9</text>
<line x1="121.0" y1="771.0" x2="121.0" y2="1058.3" stroke="#474747" stroke-width="2.2"/>
<line x1="112.5" y1="1057.2" x2="550.5" y2="1057.2" stroke="#474747" stroke-width="2.2"/>
<line x1="112.5" y1="1057.2" x2="121.0" y2="1057.2" stroke="#474747" stroke-width="2.2"/>
<text transform="translate(111.5,1068.7) scale(1,1.025)" font-size="32.8" text-anchor="end" fill="#1c1c1c" stroke="#1c1c1c" stroke-width="0.45">0</text>
<line x1="112.5" y1="1000.0" x2="121.0" y2="1000.0" stroke="#474747" stroke-width="2.2"/>
<text transform="translate(111.5,1011.5) scale(1,1.025)" font-size="32.8" text-anchor="end" fill="#1c1c1c" stroke="#1c1c1c" stroke-width="0.45">20</text>
<line x1="112.5" y1="942.7" x2="121.0" y2="942.7" stroke="#474747" stroke-width="2.2"/>
<text transform="translate(111.5,954.2) scale(1,1.025)" font-size="32.8" text-anchor="end" fill="#1c1c1c" stroke="#1c1c1c" stroke-width="0.45">40</text>
<line x1="112.5" y1="885.5" x2="121.0" y2="885.5" stroke="#474747" stroke-width="2.2"/>
<text transform="translate(111.5,897.0) scale(1,1.025)" font-size="32.8" text-anchor="end" fill="#1c1c1c" stroke="#1c1c1c" stroke-width="0.45">60</text>
<line x1="112.5" y1="828.2" x2="121.0" y2="828.2" stroke="#474747" stroke-width="2.2"/>
<text transform="translate(111.5,839.7) scale(1,1.025)" font-size="32.8" text-anchor="end" fill="#1c1c1c" stroke="#1c1c1c" stroke-width="0.45">80</text>
<line x1="112.5" y1="771.0" x2="121.0" y2="771.0" stroke="#474747" stroke-width="2.2"/>
<text transform="translate(111.5,782.5) scale(1,1.025)" font-size="32.8" text-anchor="end" fill="#1c1c1c" stroke="#1c1c1c" stroke-width="0.45">100</text>
<line x1="227.7" y1="1057.2" x2="227.7" y2="1065.2" stroke="#474747" stroke-width="2.2"/>
<line x1="442.0" y1="1057.2" x2="442.0" y2="1065.2" stroke="#474747" stroke-width="2.2"/>
<line x1="169.8" y1="979.9" x2="169.8" y2="975.3" stroke="#474747" stroke-width="2.5"/>
<line x1="160.4" y1="975.3" x2="179.1" y2="975.3" stroke="#474747" stroke-width="2.5"/>
<rect x="151.0" y="979.9" width="37.5" height="77.3" fill="#000"/>
<line x1="227.8" y1="1038.6" x2="227.8" y2="1022.3" stroke="#474747" stroke-width="2.5"/>
<line x1="218.2" y1="1022.3" x2="237.4" y2="1022.3" stroke="#474747" stroke-width="2.5"/>
<rect x="208.6" y="1038.6" width="38.4" height="18.6" fill="#9f9ea8"/>
<line x1="286.4" y1="1021.4" x2="286.4" y2="1007.1" stroke="#474747" stroke-width="2.5"/>
<line x1="276.7" y1="1007.1" x2="296.0" y2="1007.1" stroke="#474747" stroke-width="2.5"/>
<rect x="267.0" y="1021.4" width="38.7" height="35.8" fill="#7e7e7e"/>
<line x1="383.9" y1="922.7" x2="383.9" y2="907.2" stroke="#474747" stroke-width="2.5"/>
<line x1="374.3" y1="907.2" x2="393.4" y2="907.2" stroke="#474747" stroke-width="2.5"/>
<rect x="364.7" y="922.7" width="38.3" height="134.5" fill="#000"/>
<line x1="441.7" y1="1010.0" x2="441.7" y2="1002.0" stroke="#474747" stroke-width="2.5"/>
<line x1="432.2" y1="1002.0" x2="451.3" y2="1002.0" stroke="#474747" stroke-width="2.5"/>
<rect x="422.6" y="1010.0" width="38.2" height="47.2" fill="#9f9ea8"/>
<line x1="500.4" y1="995.7" x2="500.4" y2="992.2" stroke="#474747" stroke-width="2.5"/>
<line x1="490.7" y1="992.2" x2="510.1" y2="992.2" stroke="#474747" stroke-width="2.5"/>
<rect x="481.0" y="995.7" width="38.8" height="61.5" fill="#7e7e7e"/>
<rect x="130.4" y="786.2" width="30.4" height="9.5" fill="#000"/>
<text transform="translate(162.7,797.5) scale(1,1.025)" font-size="32.8" text-anchor="start" fill="#1c1c1c" stroke="#1c1c1c" stroke-width="0.45">Scramble</text>
<rect x="130.4" y="818.5" width="30.4" height="9.5" fill="#9f9ea8"/>
<text transform="translate(163.7,833.0) scale(1,1.025)" font-size="32.8" text-anchor="start" fill="#1c1c1c" stroke="#1c1c1c" stroke-width="0.45">shPPP1R14D-1</text>
<rect x="130.4" y="851.1" width="30.4" height="9.5" fill="#7e7e7e"/>
<text transform="translate(162.3,863.4) scale(1,1.025)" font-size="32.8" text-anchor="start" fill="#1c1c1c" stroke="#1c1c1c" stroke-width="0.45">shPPP1R14D-2</text>
<path d="M221.5,1005.2L222.8,1008.6L226.4,1008.8L223.6,1011.1L224.6,1014.6L221.5,1012.6L218.4,1014.6L219.4,1011.1L216.6,1008.8L220.2,1008.6ZM233.9,1005.2L235.2,1008.6L238.8,1008.8L236.0,1011.1L237.0,1014.6L233.9,1012.6L230.8,1014.6L231.8,1011.1L229.0,1008.8L232.6,1008.6Z" fill="#1e1e1e"/>
<path d="M280.3,991.2L281.6,994.6L285.2,994.8L282.4,997.1L283.4,1000.6L280.3,998.6L277.2,1000.6L278.2,997.1L275.4,994.8L279.0,994.6ZM292.7,991.2L294.0,994.6L297.6,994.8L294.8,997.1L295.8,1000.6L292.7,998.6L289.6,1000.6L290.6,997.1L287.8,994.8L291.4,994.6Z" fill="#1e1e1e"/>
<path d="M429.3,985.6L430.6,989.0L434.2,989.2L431.4,991.5L432.4,995.0L429.3,993.0L426.2,995.0L427.2,991.5L424.4,989.2L428.0,989.0ZM441.7,985.6L443.0,989.0L446.6,989.2L443.8,991.5L444.8,995.0L441.7,993.0L438.6,995.0L439.6,991.5L436.8,989.2L440.4,989.0ZM454.1,985.6L455.4,989.0L459.0,989.2L456.2,991.5L457.2,995.0L454.1,993.0L451.0,995.0L452.0,991.5L449.2,989.2L452.8,989.0Z" fill="#1e1e1e"/>
<path d="M488.0,974.7L489.3,978.1L492.9,978.3L490.1,980.6L491.1,984.1L488.0,982.1L484.9,984.1L485.9,980.6L483.1,978.3L486.7,978.1ZM500.4,974.7L501.7,978.1L505.3,978.3L502.5,980.6L503.5,984.1L500.4,982.1L497.3,984.1L498.3,980.6L495.5,978.3L499.1,978.1ZM512.8,974.7L514.1,978.1L517.7,978.3L514.9,980.6L515.9,984.1L512.8,982.1L509.7,984.1L510.7,980.6L507.9,978.3L511.5,978.1Z" fill="#1e1e1e"/>
<text transform="translate(42.5,915.0) rotate(-90) scale(1,1.025)" font-size="32.8" text-anchor="middle" fill="#1c1c1c" stroke="#1c1c1c" stroke-width="0.45">Cell migration rate (%)</text>
<text transform="translate(234.0,1097.5) scale(1,1.025)" font-size="32.8" text-anchor="middle" fill="#1c1c1c" stroke="#1c1c1c" stroke-width="0.45">24 h</text>
<text transform="translate(449.5,1097.5) scale(1,1.025)" font-size="32.8" text-anchor="middle" fill="#1c1c1c" stroke="#1c1c1c" stroke-width="0.45">48 h</text>
<text transform="translate(343.0,1121.5) scale(1,1.025)" font-size="32.8" text-anchor="middle" fill="#1c1c1c" stroke="#1c1c1c" stroke-width="0.45">A549</text>
<line x1="700.0" y1="771.0" x2="700.0" y2="1061.1" stroke="#474747" stroke-width="2.2"/>
<line x1="691.5" y1="1060.0" x2="1134.0" y2="1060.0" stroke="#474747" stroke-width="2.2"/>
<line x1="691.5" y1="1060.0" x2="700.0" y2="1060.0" stroke="#474747" stroke-width="2.2"/>
<text transform="translate(690.5,1071.5) scale(1,1.025)" font-size="32.8" text-anchor="end" fill="#1c1c1c" stroke="#1c1c1c" stroke-width="0.45">0</text>
<line x1="691.5" y1="1002.2" x2="700.0" y2="1002.2" stroke="#474747" stroke-width="2.2"/>
<text transform="translate(690.5,1013.7) scale(1,1.025)" font-size="32.8" text-anchor="end" fill="#1c1c1c" stroke="#1c1c1c" stroke-width="0.45">20</text>
<line x1="691.5" y1="944.4" x2="700.0" y2="944.4" stroke="#474747" stroke-width="2.2"/>
<text transform="translate(690.5,955.9) scale(1,1.025)" font-size="32.8" text-anchor="end" fill="#1c1c1c" stroke="#1c1c1c" stroke-width="0.45">40</text>
<line x1="691.5" y1="886.6" x2="700.0" y2="886.6" stroke="#474747" stroke-width="2.2"/>
<text transform="translate(690.5,898.1) scale(1,1.025)" font-size="32.8" text-anchor="end" fill="#1c1c1c" stroke="#1c1c1c" stroke-width="0.45">60</text>
<line x1="691.5" y1="828.8" x2="700.0" y2="828.8" stroke="#474747" stroke-width="2.2"/>
<text transform="translate(690.5,840.3) scale(1,1.025)" font-size="32.8" text-anchor="end" fill="#1c1c1c" stroke="#1c1c1c" stroke-width="0.45">80</text>
<line x1="691.5" y1="771.0" x2="700.0" y2="771.0" stroke="#474747" stroke-width="2.2"/>
<text transform="translate(690.5,782.5) scale(1,1.025)" font-size="32.8" text-anchor="end" fill="#1c1c1c" stroke="#1c1c1c" stroke-width="0.45">100</text>
<line x1="807.7" y1="1060.0" x2="807.7" y2="1068.0" stroke="#474747" stroke-width="2.2"/>
<line x1="1024.8" y1="1060.0" x2="1024.8" y2="1068.0" stroke="#474747" stroke-width="2.2"/>
<line x1="749.5" y1="961.7" x2="749.5" y2="957.4" stroke="#474747" stroke-width="2.5"/>
<line x1="739.8" y1="957.4" x2="759.2" y2="957.4" stroke="#474747" stroke-width="2.5"/>
<rect x="730.0" y="961.7" width="39.0" height="98.3" fill="#000"/>
<line x1="808.2" y1="1013.8" x2="808.2" y2="1008.0" stroke="#474747" stroke-width="2.5"/>
<line x1="798.4" y1="1008.0" x2="818.0" y2="1008.0" stroke="#474747" stroke-width="2.5"/>
<rect x="788.6" y="1013.8" width="39.2" height="46.2" fill="#9f9ea8"/>
<line x1="867.1" y1="1015.2" x2="867.1" y2="1008.3" stroke="#474747" stroke-width="2.5"/>
<line x1="857.3" y1="1008.3" x2="876.9" y2="1008.3" stroke="#474747" stroke-width="2.5"/>
<rect x="847.5" y="1015.2" width="39.2" height="44.8" fill="#7e7e7e"/>
<rect x="946.4" y="909.7" width="39.2" height="150.3" fill="#000"/>
<line x1="1024.5" y1="982.0" x2="1024.5" y2="979.4" stroke="#474747" stroke-width="2.5"/>
<line x1="1014.8" y1="979.4" x2="1034.2" y2="979.4" stroke="#474747" stroke-width="2.5"/>
<rect x="1005.0" y="982.0" width="39.0" height="78.0" fill="#9f9ea8"/>
<line x1="1083.8" y1="986.3" x2="1083.8" y2="980.5" stroke="#474747" stroke-width="2.5"/>
<line x1="1074.3" y1="980.5" x2="1093.4" y2="980.5" stroke="#474747" stroke-width="2.5"/>
<rect x="1064.7" y="986.3" width="38.3" height="73.7" fill="#7e7e7e"/>
<rect x="712.3" y="783.5" width="31.2" height="10.5" fill="#000"/>
<text transform="translate(748.1,798.2) scale(1,1.025)" font-size="32.8" text-anchor="start" fill="#1c1c1c" stroke="#1c1c1c" stroke-width="0.45">Scramble</text>
<rect x="712.3" y="816.8" width="31.2" height="10.5" fill="#9f9ea8"/>
<text transform="translate(750.4,832.9) scale(1,1.025)" font-size="32.8" text-anchor="start" fill="#1c1c1c" stroke="#1c1c1c" stroke-width="0.45">shPPP1R14D-1</text>
<rect x="712.3" y="849.6" width="31.2" height="10.5" fill="#7e7e7e"/>
<text transform="translate(747.8,863.4) scale(1,1.025)" font-size="32.8" text-anchor="start" fill="#1c1c1c" stroke="#1c1c1c" stroke-width="0.45">shPPP1R14D-2</text>
<path d="M795.6,989.7L796.9,993.1L800.5,993.3L797.7,995.6L798.7,999.1L795.6,997.1L792.5,999.1L793.5,995.6L790.7,993.3L794.3,993.1ZM808.0,989.7L809.3,993.1L812.9,993.3L810.1,995.6L811.1,999.1L808.0,997.1L804.9,999.1L805.9,995.6L803.1,993.3L806.7,993.1ZM820.4,989.7L821.7,993.1L825.3,993.3L822.5,995.6L823.5,999.1L820.4,997.1L817.3,999.1L818.3,995.6L815.5,993.3L819.1,993.1Z" fill="#1e1e1e"/>
<path d="M854.6,992.9L855.9,996.3L859.5,996.5L856.7,998.8L857.7,1002.3L854.6,1000.3L851.5,1002.3L852.5,998.8L849.7,996.5L853.3,996.3ZM867.0,992.9L868.3,996.3L871.9,996.5L869.1,998.8L870.1,1002.3L867.0,1000.3L863.9,1002.3L864.9,998.8L862.1,996.5L865.7,996.3ZM879.4,992.9L880.7,996.3L884.3,996.5L881.5,998.8L882.5,1002.3L879.4,1000.3L876.3,1002.3L877.3,998.8L874.5,996.5L878.1,996.3Z" fill="#1e1e1e"/>
<path d="M1012.1,964.7L1013.4,968.1L1017.0,968.3L1014.2,970.6L1015.2,974.1L1012.1,972.1L1009.0,974.1L1010.0,970.6L1007.2,968.3L1010.8,968.1ZM1024.5,964.7L1025.8,968.1L1029.4,968.3L1026.6,970.6L1027.6,974.1L1024.5,972.1L1021.4,974.1L1022.4,970.6L1019.6,968.3L1023.2,968.1ZM1036.9,964.7L1038.2,968.1L1041.8,968.3L1039.0,970.6L1040.0,974.1L1036.9,972.1L1033.8,974.1L1034.8,970.6L1032.0,968.3L1035.6,968.1Z" fill="#1e1e1e"/>
<path d="M1071.6,966.8L1072.9,970.2L1076.5,970.4L1073.7,972.7L1074.7,976.2L1071.6,974.2L1068.5,976.2L1069.5,972.7L1066.7,970.4L1070.3,970.2ZM1084.0,966.8L1085.3,970.2L1088.9,970.4L1086.1,972.7L1087.1,976.2L1084.0,974.2L1080.9,976.2L1081.9,972.7L1079.1,970.4L1082.7,970.2ZM1096.4,966.8L1097.7,970.2L1101.3,970.4L1098.5,972.7L1099.5,976.2L1096.4,974.2L1093.3,976.2L1094.3,972.7L1091.5,970.4L1095.1,970.2Z" fill="#1e1e1e"/>
<text transform="translate(621.0,915.0) rotate(-90) scale(1,1.025)" font-size="32.8" text-anchor="middle" fill="#1c1c1c" stroke="#1c1c1c" stroke-width="0.45">Cell migration rate (%)</text>
<text transform="translate(810.0,1097.5) scale(1,1.025)" font-size="32.8" text-anchor="middle" fill="#1c1c1c" stroke="#1c1c1c" stroke-width="0.45">24 h</text>
<text transform="translate(1026.0,1097.5) scale(1,1.025)" font-size="32.8" text-anchor="middle" fill="#1c1c1c" stroke="#1c1c1c" stroke-width="0.45">48 h</text>
<text transform="translate(922.0,1121.5) scale(1,1.025)" font-size="32.8" text-anchor="middle" fill="#1c1c1c" stroke="#1c1c1c" stroke-width="0.45">PC-9</text>
<text transform="translate(1413.5,258.7) scale(1,1.025)" font-size="32.8" text-anchor="middle" fill="#1c1c1c" stroke="#1c1c1c" stroke-width="0.45">Scramble</text>
<text transform="translate(1657.5,258.7) scale(1,1.025)" font-size="32.8" text-anchor="middle" fill="#1c1c1c" stroke="#1c1c1c" stroke-width="0.45">shPPP1R14D-1</text>
<text transform="translate(1905.0,258.7) scale(1,1.025)" font-size="32.8" text-anchor="middle" fill="#1c1c1c" stroke="#1c1c1c" stroke-width="0.45">shPPP1R14D-2</text>
<line x1="1245.5" y1="273.0" x2="1245.5" y2="649.5" stroke="#333" stroke-width="2.5"/>
<text transform="translate(1230.5,461.0) rotate(-90) scale(1,1.025)" font-size="32.8" text-anchor="middle" fill="#1c1c1c" stroke="#1c1c1c" stroke-width="0.45">Migration</text>
<text transform="translate(1290.0,376.0) rotate(-90) scale(1,1.025)" font-size="32.8" text-anchor="middle" fill="#1c1c1c" stroke="#1c1c1c" stroke-width="0.45">A549</text>
<text transform="translate(1289.0,551.5) rotate(-90) scale(1,1.025)" font-size="32.8" text-anchor="middle" fill="#1c1c1c" stroke="#1c1c1c" stroke-width="0.45">PC-9</text>
<rect x="1297.7" y="268.5" width="230.0" height="166.0" fill="#b9a8c0"/>
<rect x="1540.5" y="268.5" width="230.0" height="166.0" fill="#b9b7ba"/>
<rect x="1782.0" y="268.5" width="230.0" height="166.0" fill="#bab5bc"/>
<path d="M1309 297h0M1344 320h0M1386 277h0M1370 374h0M1340 406h0M1429 387h0M1357 341h0M1454 327h0M1300 406h0M1475 317h0M1309 409h0M1437 278h0M1355 289h0M1479 305h0M1506 392h0M1319 383h0M1389 392h0M1487 316h0M1510 383h0M1467 405h0M1442 344h0M1312 384h0M1397 353h0M1509 291h0M1472 278h0M1459 401h0M1359 359h0M1519 374h0M1423 311h0M1313 328h0M1393 303h0M1370 293h0M1459 379h0M1353 310h0M1379 319h0M1500 293h0M1427 325h0M1484 359h0M1472 298h0M1450 367h0M1404 395h0M1488 289h0M1365 329h0M1346 280h0M1363 302h0M1458 343h0M1325 323h0M1406 329h0M1338 282h0M1302 431h0M1469 284h0M1462 429h0M1427 288h0M1410 341h0M1422 272h0M1508 375h0M1442 422h0M1447 311h0M1355 293h0M1306 396h0M1489 319h0M1509 298h0M1477 405h0M1467 323h0M1341 404h0M1372 330h0M1424 330h0M1488 309h0M1309 362h0M1442 403h0M1459 417h0M1513 351h0M1413 296h0M1367 365h0M1318 382h0M1337 342h0M1519 285h0M1309 342h0M1343 388h0M1300 407h0M1493 398h0M1396 316h0M1449 354h0M1395 325h0M1399 378h0M1486 417h0M1337 318h0M1400 362h0M1378 302h0M1319 323h0M1404 428h0M1505 411h0M1520 426h0M1440 402h0M1313 380h0M1437 319h0M1429 425h0M1408 375h0M1367 326h0M1500 275h0M1342 380h0M1401 284h0M1449 331h0M1431 338h0M1326 300h0M1501 359h0M1325 410h0M1321 356h0M1357 350h0M1425 307h0M1429 289h0M1416 366h0M1318 337h0M1316 342h0M1495 360h0M1461 393h0M1326 431h0M1463 287h0M1487 334h0M1338 426h0M1427 396h0M1331 396h0M1313 309h0M1384 273h0M1434 305h0M1367 385h0M1396 414h0M1440 412h0M1427 419h0M1496 298h0M1468 326h0M1472 381h0M1486 290h0M1384 390h0M1514 387h0M1310 368h0M1322 359h0M1481 289h0M1509 380h0M1357 302h0M1401 406h0M1431 289h0M1304 288h0M1481 301h0M1425 317h0M1455 332h0M1332 412h0M1421 382h0M1482 424h0M1303 326h0M1334 352h0M1497 400h0M1308 300h0M1485 381h0M1388 348h0M1335 407h0M1389 412h0M1438 283h0M1374 306h0M1502 366h0M1310 298h0M1381 346h0M1430 333h0M1380 271h0M1431 325h0M1304 345h0M1523 278h0M1333 379h0M1361 315h0M1413 313h0M1524 276h0M1426 395h0M1497 396h0M1443 373h0M1382 316h0M1479 412h0M1512 381h0M1368 394h0M1467 353h0M1443 327h0M1424 336h0M1313 325h0M1383 310h0M1353 327h0M1330 272h0M1497 344h0M1400 363h0M1368 298h0M1315 319h0M1369 388h0M1424 422h0M1377 420h0M1432 283h0M1340 365h0M1523 328h0M1475 340h0M1496 281h0M1409 416h0M1362 312h0M1305 297h0M1360 385h0M1349 335h0M1446 302h0M1466 427h0M1436 283h0M1483 412h0M1377 293h0M1342 357h0M1498 374h0M1508 305h0M1374 392h0M1446 336h0M1453 325h0M1313 338h0M1310 372h0M1375 351h0M1435 312h0M1404 273h0M1509 362h0M1523 280h0M1438 388h0M1374 286h0M1335 294h0M1473 285h0M1484 339h0M1448 368h0M1374 391h0M1358 386h0M1472 396h0M1370 396h0M1521 344h0M1330 272h0M1407 377h0M1475 329h0M1523 307h0M1471 285h0M1306 292h0M1313 352h0M1425 300h0M1512 330h0M1333 299h0M1466 420h0M1336 275h0M1476 310h0M1522 351h0M1443 326h0M1481 345h0M1373 417h0M1324 389h0M1314 375h0M1391 410h0M1313 362h0M1392 419h0M1513 372h0M1350 311h0M1359 341h0M1352 303h0M1471 375h0M1367 432h0M1428 296h0M1495 411h0M1360 392h0M1486 316h0M1375 349h0M1501 297h0M1454 367h0M1402 364h0M1499 304h0M1499 329h0M1476 410h0M1341 410h0M1525 319h0M1305 289h0M1520 272h0M1506 295h0M1466 286h0M1338 381h0M1320 326h0M1507 387h0M1499 429h0M1307 309h0M1479 382h0M1308 352h0M1352 340h0M1323 274h0M1524 322h0M1498 290h0M1410 293h0M1397 299h0M1455 294h0M1467 352h0M1325 328h0M1412 419h0M1379 305h0M1518 414h0M1465 315h0M1340 313h0M1315 277h0M1382 272h0M1455 376h0M1390 322h0M1394 428h0M1387 333h0M1392 294h0M1525 271h0M1437 421h0M1357 369h0M1385 310h0M1345 289h0M1490 398h0M1505 279h0M1457 323h0M1446 359h0M1371 428h0M1468 409h0M1415 366h0M1525 308h0M1442 391h0M1385 386h0M1389 356h0M1438 380h0M1373 372h0M1422 307h0M1438 313h0M1505 347h0M1463 355h0M1407 306h0M1332 421h0M1419 355h0M1419 402h0M1354 298h0M1485 345h0M1444 405h0M1502 411h0M1309 332h0M1488 403h0M1328 295h0M1357 287h0M1380 401h0M1418 344h0M1389 432h0M1457 343h0M1408 400h0M1471 295h0M1453 330h0M1417 309h0M1383 326h0M1386 273h0M1345 363h0M1313 299h0M1462 315h0M1373 310h0M1488 285h0M1443 410h0M1345 339h0M1479 371h0M1384 278h0M1400 330h0M1461 318h0M1392 376h0M1483 328h0M1387 364h0M1509 302h0M1519 386h0M1384 378h0M1374 282h0M1471 332h0M1419 351h0M1503 393h0M1305 367h0M1393 347h0M1501 342h0M1411 353h0M1486 379h0M1467 336h0M1309 381h0M1425 395h0M1474 290h0M1350 283h0M1484 287h0M1320 393h0M1427 279h0M1454 386h0M1409 279h0M1456 338h0M1432 432h0M1484 412h0M1333 325h0M1417 271h0M1523 315h0M1359 321h0M1357 410h0M1425 353h0M1395 279h0M1369 411h0M1481 409h0M1358 303h0M1311 357h0M1384 346h0M1410 365h0M1382 400h0M1345 419h0M1425 279h0M1427 323h0M1362 399h0M1366 386h0M1481 366h0M1402 422h0M1400 413h0M1313 341h0M1444 278h0M1495 282h0M1434 300h0M1508 361h0M1481 351h0M1452 380h0M1366 305h0M1489 294h0M1507 304h0M1322 286h0M1477 425h0M1393 377h0M1358 417h0M1455 296h0M1313 383h0M1309 406h0M1366 308h0M1431 322h0M1426 295h0M1506 323h0M1490 295h0M1480 429h0M1388 276h0M1386 374h0M1350 359h0M1321 346h0M1464 340h0M1453 289h0M1487 290h0M1508 432h0M1512 356h0M1365 327h0M1469 351h0M1510 286h0M1409 410h0M1435 358h0M1320 293h0M1361 415h0M1491 307h0M1509 276h0M1435 427h0M1378 423h0M1448 279h0M1375 343h0M1356 391h0M1340 398h0M1367 282h0M1426 286h0M1424 398h0M1434 345h0M1307 354h0M1322 375h0M1330 364h0M1379 331h0M1450 297h0M1338 423h0M1375 407h0M1497 348h0M1333 286h0M1498 289h0M1412 357h0M1326 346h0M1337 357h0M1414 330h0M1344 336h0M1346 291h0M1354 412h0M1413 415h0M1303 423h0M1410 399h0M1429 382h0M1352 392h0M1334 313h0M1307 334h0M1417 318h0M1501 284h0M1430 308h0M1434 398h0M1460 281h0M1355 368h0M1522 277h0M1439 383h0M1484 326h0M1483 345h0M1508 272h0M1512 337h0M1392 285h0M1355 389h0M1453 295h0M1378 293h0M1344 306h0M1479 348h0M1412 397h0M1505 392h0M1444 303h0M1441 408h0M1477 285h0M1462 327h0M1336 427h0M1452 391h0M1330 405h0M1511 417h0M1468 405h0M1481 366h0M1398 404h0M1477 412h0M1513 289h0M1519 398h0M1357 406h0M1352 303h0M1403 309h0M1411 418h0M1455 386h0M1388 397h0M1479 381h0M1513 404h0M1392 285h0M1447 406h0M1376 367h0M1489 399h0M1301 350h0M1303 288h0M1483 338h0M1436 345h0M1376 305h0M1380 407h0M1440 318h0M1320 314h0M1458 342h0M1449 401h0M1327 381h0M1309 404h0M1341 314h0M1516 329h0M1350 415h0M1438 415h0M1389 351h0M1516 353h0M1523 301h0M1487 297h0M1419 271h0M1339 424h0M1402 402h0M1356 328h0M1323 360h0M1495 354h0M1385 421h0M1502 378h0M1317 372h0M1400 426h0M1381 378h0M1443 331h0M1418 380h0M1505 351h0M1382 429h0M1313 406h0M1454 361h0M1401 392h0M1501 389h0M1469 276h0M1373 293h0M1515 415h0M1332 366h0M1430 278h0M1388 392h0M1445 316h0M1472 318h0M1423 339h0M1521 376h0M1482 380h0M1386 427h0M1460 382h0M1362 297h0M1430 404h0M1479 327h0M1331 354h0M1498 297h0M1467 298h0M1370 279h0M1367 333h0M1518 426h0M1342 321h0M1513 302h0M1372 342h0M1324 313h0M1389 333h0M1517 314h0M1346 418h0M1401 406h0M1444 397h0M1371 295h0M1471 347h0M1426 379h0M1470 315h0M1382 419h0M1419 317h0M1442 313h0M1474 277h0M1487 362h0M1380 423h0M1360 310h0M1315 359h0M1470 380h0M1393 401h0M1325 320h0M1445 427h0M1443 383h0M1475 334h0M1512 391h0M1377 334h0M1482 327h0M1342 412h0M1420 355h0M1451 417h0M1330 325h0M1315 337h0M1413 409h0M1451 364h0M1391 363h0M1362 407h0M1478 406h0M1334 379h0M1470 352h0M1503 416h0M1468 403h0M1446 413h0M1329 385h0M1459 370h0M1362 281h0M1436 404h0M1361 305h0M1350 286h0M1452 428h0M1481 329h0M1458 282h0M1489 323h0M1300 372h0M1331 315h0M1313 343h0M1425 401h0M1309 405h0M1325 307h0M1442 326h0M1375 363h0M1349 399h0M1347 406h0M1482 358h0M1307 397h0M1306 352h0M1396 281h0M1442 388h0M1432 335h0M1415 366h0M1351 411h0M1525 401h0M1517 324h0M1523 282h0M1408 292h0M1402 381h0M1460 344h0M1377 301h0M1391 316h0M1344 390h0M1416 342h0M1459 302h0M1360 361h0M1458 428h0M1469 424h0M1508 388h0M1462 281h0M1346 273h0M1495 387h0M1442 313h0M1380 297h0M1443 431h0M1369 278h0M1339 328h0M1503 401h0M1403 287h0M1324 295h0M1475 347h0M1407 404h0M1329 288h0M1427 353h0M1347 311h0M1304 418h0M1460 424h0M1521 341h0M1465 333h0M1483 407h0M1330 273h0M1348 365h0M1385 272h0M1487 398h0M1404 278h0M1501 357h0M1316 323h0M1441 414h0M1409 374h0M1346 310h0M1504 332h0M1323 366h0M1328 303h0M1403 365h0M1444 385h0M1399 281h0M1463 279h0M1461 309h0M1446 383h0M1406 293h0M1505 368h0M1314 309h0M1523 308h0M1388 398h0M1486 373h0M1467 277h0M1321 429h0M1481 277h0M1311 309h0M1510 306h0M1452 421h0M1444 419h0M1359 295h0M1304 393h0M1323 428h0M1460 301h0M1482 297h0M1501 419h0M1300 408h0M1425 404h0M1413 371h0M1434 400h0M1317 279h0M1423 318h0M1389 272h0M1468 274h0M1487 402h0M1403 290h0M1447 304h0M1397 288h0M1520 359h0M1379 286h0M1465 408h0M1491 287h0M1383 320h0M1472 294h0M1437 429h0M1473 272h0M1317 289h0M1456 367h0M1438 376h0M1507 389h0M1480 418h0M1489 387h0M1307 381h0M1492 340h0M1498 300h0M1513 342h0M1459 311h0M1368 327h0M1373 286h0M1400 429h0M1448 422h0M1472 406h0M1524 392h0M1362 311h0M1393 274h0M1352 414h0M1508 324h0M1474 396h0M1501 399h0M1371 372h0M1336 357h0M1447 358h0M1512 337h0M1506 382h0M1518 285h0M1348 317h0M1505 273h0M1359 386h0M1523 299h0M1399 382h0M1456 391h0M1470 311h0M1358 275h0M1456 304h0M1358 427h0M1445 366h0M1448 367h0M1457 320h0M1314 281h0M1303 329h0M1332 289h0M1411 428h0M1455 315h0M1474 299h0M1322 320h0M1392 382h0M1400 388h0M1488 275h0M1487 307h0M1493 401h0M1451 315h0M1302 301h0M1504 296h0M1449 366h0M1449 300h0M1332 286h0M1522 333h0M1447 363h0M1350 281h0M1303 409h0M1329 427h0M1382 388h0M1331 398h0M1357 330h0M1418 289h0M1480 317h0M1386 394h0M1350 302h0M1349 333h0M1382 374h0M1406 411h0M1311 378h0M1489 309h0M1306 342h0M1326 345h0M1461 286h0M1326 348h0M1339 308h0M1399 290h0M1315 329h0M1406 422h0M1425 282h0M1350 391h0M1427 411h0M1517 409h0M1354 298h0M1495 305h0M1318 313h0M1509 345h0M1465 283h0M1402 322h0M1346 378h0M1381 290h0M1522 349h0M1340 272h0M1447 354h0M1305 347h0M1467 358h0M1353 351h0M1436 376h0M1332 401h0M1513 390h0M1493 330h0M1504 300h0M1351 367h0M1503 284h0M1349 276h0M1399 293h0M1343 392h0M1432 423h0M1391 381h0M1303 424h0M1352 348h0M1415 424h0M1411 431h0M1440 306h0M1488 303h0M1526 344h0M1351 426h0M1372 336h0M1377 379h0M1305 331h0M1336 405h0M1300 369h0M1358 344h0M1427 386h0M1331 309h0M1327 426h0M1333 293h0M1313 308h0M1338 365h0M1402 337h0M1500 378h0M1494 426h0M1360 423h0M1392 279h0M1506 287h0M1304 317h0M1395 356h0M1492 401h0M1447 354h0M1326 310h0M1448 365h0M1481 416h0M1517 302h0M1341 383h0M1357 309h0M1316 391h0M1441 347h0M1452 400h0M1302 348h0M1453 385h0M1446 300h0M1516 398h0M1352 340h0M1516 304h0M1392 426h0M1503 308h0M1466 329h0M1450 395h0M1329 307h0M1348 314h0M1308 293h0M1391 339h0M1317 365h0M1513 364h0M1380 385h0M1399 299h0M1409 273h0M1452 297h0M1383 426h0M1473 406h0M1445 373h0M1459 427h0M1344 395h0M1368 312h0M1485 368h0M1492 412h0M1433 303h0M1303 357h0M1464 315h0M1316 271h0M1339 383h0M1301 308h0M1360 386h0M1523 274h0M1333 325h0M1418 322h0M1394 348h0M1358 279h0M1319 297h0M1320 372h0M1457 313h0M1479 389h0M1377 350h0M1342 421h0M1426 279h0M1334 383h0M1387 387h0M1352 400h0M1481 286h0M1432 301h0M1460 401h0M1479 308h0M1321 378h0M1427 293h0M1343 365h0M1324 373h0M1354 312h0M1395 357h0M1463 276h0M1463 306h0M1365 374h0M1456 370h0M1504 304h0M1370 378h0M1359 296h0M1351 395h0M1487 387h0M1516 399h0M1370 322h0M1463 280h0M1437 285h0M1311 354h0M1334 421h0M1498 345h0M1344 290h0M1414 355h0M1382 387h0M1419 396h0M1324 282h0M1387 349h0M1357 379h0M1350 322h0M1407 386h0M1474 331h0M1401 421h0M1511 371h0M1323 344h0M1444 316h0M1308 429h0M1505 291h0M1405 371h0M1367 282h0M1469 395h0M1399 284h0M1389 286h0M1517 279h0M1365 395h0M1330 288h0M1316 297h0M1420 405h0M1338 299h0M1473 339h0M1376 290h0M1355 428h0M1326 313h0M1467 415h0M1504 347h0M1516 368h0M1365 346h0M1462 389h0M1329 302h0M1516 288h0M1484 325h0M1356 312h0M1406 431h0M1333 409h0M1372 298h0M1468 326h0M1342 338h0M1485 410h0M1430 272h0M1472 369h0M1503 425h0M1374 408h0M1485 314h0M1382 331h0M1379 332h0M1325 307h0M1505 337h0M1443 414h0M1470 310h0M1508 401h0M1524 388h0M1470 402h0M1357 377h0M1386 407h0M1330 358h0M1376 403h0M1378 407h0M1491 413h0M1331 422h0M1468 380h0M1447 278h0M1496 359h0M1403 325h0M1477 397h0M1496 305h0M1377 311h0M1322 323h0M1306 400h0M1351 282h0M1315 391h0M1345 345h0M1391 400h0M1515 321h0M1443 415h0M1406 416h0M1466 321h0M1497 363h0M1324 366h0M1487 355h0M1450 304h0M1382 329h0M1516 383h0M1328 419h0M1433 341h0M1462 340h0M1321 355h0M1485 398h0M1380 307h0M1468 400h0M1349 414h0M1524 341h0M1386 385h0M1510 303h0M1368 324h0M1465 301h0M1423 352h0M1451 294h0M1516 432h0M1427 399h0M1341 418h0M1424 394h0M1496 329h0M1509 304h0M1305 352h0M1503 416h0M1516 353h0M1510 361h0M1395 368h0M1358 315h0M1395 354h0M1406 285h0M1301 326h0M1462 392h0M1353 312h0M1416 299h0M1436 417h0M1345 365h0M1463 392h0M1461 386h0M1361 406h0M1509 279h0M1513 342h0M1319 282h0M1480 380h0M1332 345h0M1444 432h0M1376 395h0M1355 303h0M1336 337h0M1439 320h0M1336 306h0M1319 302h0M1399 428h0M1410 424h0M1406 303h0M1433 294h0M1338 282h0M1458 427h0M1391 328h0M1396 328h0M1456 334h0M1334 411h0M1429 272h0M1492 389h0M1380 373h0M1508 336h0M1397 319h0M1425 378h0M1466 424h0M1333 330h0M1492 399h0M1433 380h0M1377 424h0M1424 336h0M1341 289h0M1503 400h0M1306 323h0M1502 327h0M1420 421h0M1444 348h0M1375 333h0M1437 398h0M1359 331h0M1387 329h0M1506 358h0M1362 324h0M1485 296h0M1456 274h0M1343 280h0M1482 294h0M1351 280h0M1359 389h0M1462 418h0M1514 360h0M1508 285h0M1509 341h0M1343 392h0M1494 333h0M1435 429h0M1308 280h0M1328 274h0M1460 373h0M1325 297h0M1519 329h0M1521 341h0M1388 312h0M1352 428h0M1525 385h0M1339 300h0M1334 327h0M1466 280h0M1420 381h0M1307 342h0M1478 364h0M1402 413h0M1436 325h0M1389 423h0M1494 419h0M1426 294h0M1339 333h0M1456 271h0M1481 398h0M1416 271h0M1480 338h0M1451 363h0M1464 337h0M1517 425h0M1510 370h0M1371 332h0M1360 417h0M1479 398h0M1485 431h0M1455 322h0M1471 313h0M1438 296h0M1494 350h0M1362 420h0M1333 394h0M1429 417h0M1432 340h0M1511 285h0M1475 287h0M1362 289h0M1497 342h0M1464 312h0M1465 376h0M1322 351h0M1463 305h0M1448 316h0M1383 420h0M1513 432h0M1396 363h0M1482 393h0M1403 410h0M1390 424h0M1407 290h0M1469 294h0M1453 279h0M1523 358h0M1467 292h0M1444 331h0M1356 403h0M1307 348h0M1319 408h0M1502 276h0M1464 326h0M1511 301h0M1331 402h0M1327 301h0M1413 325h0M1337 421h0M1407 398h0M1356 418h0M1350 417h0M1438 428h0M1474 373h0M1420 409h0M1400 286h0M1506 401h0M1454 391h0M1352 346h0M1486 426h0M1508 297h0M1454 360h0M1391 298h0M1331 347h0M1411 314h0M1433 297h0M1500 330h0M1517 430h0M1331 365h0M1518 333h0M1423 321h0M1306 304h0M1328 317h0M1442 362h0M1514 382h0M1382 424h0M1443 359h0M1495 379h0M1381 368h0M1368 428h0M1520 281h0M1302 360h0M1346 353h0M1326 406h0M1451 381h0M1509 431h0M1453 386h0M1300 278h0M1396 427h0M1370 363h0M1302 338h0M1504 366h0M1486 273h0M1346 300h0M1488 287h0M1510 314h0M1499 354h0M1457 281h0M1487 429h0M1325 391h0M1361 294h0M1382 378h0M1515 432h0M1336 388h0M1424 329h0M1503 312h0M1332 296h0M1333 366h0M1481 296h0M1413 364h0M1426 337h0M1423 273h0M1313 339h0M1353 393h0M1354 404h0M1354 285h0M1473 307h0M1451 406h0M1402 352h0M1508 368h0M1341 282h0M1318 324h0M1320 376h0M1395 320h0M1415 422h0M1355 296h0M1369 323h0M1505 385h0M1397 297h0M1310 290h0M1491 375h0M1335 372h0M1414 325h0M1323 391h0M1462 353h0M1449 285h0M1504 271h0M1350 335h0M1345 285h0M1455 432h0M1375 314h0M1451 307h0M1390 382h0M1397 296h0M1316 358h0M1524 420h0M1413 350h0M1451 351h0M1482 318h0M1511 402h0M1407 293h0M1409 291h0M1455 383h0M1430 429h0M1310 386h0M1481 289h0M1372 279h0M1431 388h0M1378 383h0M1383 386h0M1301 285h0M1464 411h0M1444 296h0M1497 387h0M1326 332h0M1451 271h0M1309 328h0M1497 432h0M1372 418h0M1477 411h0M1433 428h0M1445 424h0M1428 302h0M1417 349h0M1376 331h0M1415 366h0M1350 315h0M1413 352h0M1394 378h0M1342 357h0M1362 395h0M1459 397h0M1417 311h0M1509 353h0M1384 318h0M1391 385h0M1485 349h0M1465 305h0M1402 328h0M1369 329h0M1470 389h0M1347 308h0M1477 377h0M1453 373h0M1456 315h0M1313 329h0M1307 426h0M1418 379h0M1518 401h0M1352 325h0M1324 399h0M1466 350h0M1383 314h0M1410 386h0M1502 408h0M1496 342h0M1395 321h0M1520 300h0M1335 316h0M1508 409h0M1375 408h0M1501 340h0M1343 396h0M1384 290h0M1504 342h0M1390 367h0M1357 274h0M1388 332h0M1302 331h0M1472 324h0M1453 372h0M1342 274h0M1452 369h0M1366 303h0M1493 418h0M1352 365h0M1430 323h0M1308 323h0M1445 368h0M1415 290h0M1370 338h0M1382 417h0M1326 430h0M1354 409h0M1355 366h0M1385 277h0M1480 402h0M1361 396h0M1408 430h0M1312 332h0M1351 372h0M1476 407h0M1424 333h0M1480 287h0M1358 392h0M1399 431h0M1320 345h0M1348 271h0M1321 285h0M1383 341h0M1414 317h0M1458 354h0M1522 298h0M1415 350h0M1384 410h0M1347 413h0M1381 325h0M1439 362h0M1364 284h0M1516 330h0M1326 377h0M1420 324h0M1374 407h0M1376 338h0M1516 329h0M1391 297h0M1449 378h0M1401 336h0M1352 398h0M1403 405h0M1384 389h0M1306 306h0M1517 381h0M1452 351h0M1406 302h0M1358 375h0M1330 370h0M1338 353h0M1371 360h0M1409 370h0M1330 321h0M1453 359h0M1439 397h0M1429 306h0M1400 405h0M1428 393h0M1382 343h0M1519 404h0M1447 288h0M1438 276h0M1511 428h0M1464 314h0M1491 299h0M1487 355h0M1303 415h0M1399 405h0M1455 357h0M1495 303h0M1503 325h0M1306 325h0M1315 282h0M1441 290h0M1336 318h0M1363 420h0M1504 411h0M1523 342h0M1480 316h0M1509 402h0M1465 307h0M1438 410h0M1332 384h0M1405 398h0M1403 302h0M1516 316h0M1468 405h0M1356 383h0M1389 307h0M1349 425h0M1306 393h0M1468 412h0M1380 304h0M1378 389h0M1448 336h0M1418 295h0M1507 347h0M1414 398h0M1344 388h0M1380 402h0M1321 315h0M1443 349h0M1385 364h0M1349 341h0M1300 400h0M1357 405h0M1328 396h0M1366 410h0M1477 380h0M1484 341h0M1452 425h0M1342 287h0M1393 353h0M1333 306h0M1496 333h0M1333 300h0M1430 301h0M1407 358h0M1399 352h0M1489 273h0M1510 303h0M1308 395h0M1429 358h0M1476 320h0M1464 307h0M1429 376h0M1384 348h0M1314 375h0M1456 295h0M1424 389h0M1323 406h0M1496 279h0M1356 284h0M1357 284h0M1410 311h0M1368 345h0M1384 398h0M1463 289h0M1350 272h0M1374 288h0M1457 397h0M1525 304h0M1308 393h0M1393 421h0M1388 321h0M1316 424h0M1473 405h0M1407 299h0M1392 415h0M1392 378h0M1426 345h0M1430 310h0M1426 411h0M1318 330h0M1499 429h0M1303 372h0M1443 407h0M1406 292h0M1368 386h0M1464 304h0M1445 377h0M1448 274h0M1400 323h0M1435 325h0M1329 379h0M1365 399h0M1326 389h0M1315 422h0M1305 388h0M1383 300h0M1389 352h0M1393 290h0M1418 319h0M1518 333h0M1398 307h0M1519 323h0M1446 405h0M1389 393h0M1363 288h0M1309 343h0M1497 303h0M1399 394h0M1362 295h0M1503 309h0M1426 338h0M1307 342h0M1507 320h0M1432 386h0M1314 420h0M1324 319h0M1461 274h0M1385 291h0M1407 273h0M1334 307h0M1318 285h0M1344 354h0M1331 404h0M1394 311h0M1354 407h0M1310 391h0M1435 410h0M1322 281h0M1456 366h0M1463 316h0M1412 301h0M1398 316h0M1432 319h0M1362 375h0M1319 400h0M1412 308h0M1326 353h0M1414 387h0M1384 337h0M1501 315h0M1513 312h0M1484 370h0M1346 432h0M1446 402h0M1426 283h0M1495 299h0M1358 370h0M1344 345h0M1461 286h0M1449 287h0M1407 376h0M1455 277h0M1343 426h0M1388 339h0M1384 383h0M1467 376h0M1391 363h0M1416 301h0M1514 427h0M1475 431h0M1405 406h0M1354 391h0M1461 423h0M1488 413h0M1360 398h0M1407 321h0M1383 400h0M1490 407h0M1451 298h0M1335 363h0M1348 325h0M1323 296h0M1462 307h0M1491 324h0M1492 320h0M1360 334h0M1302 341h0M1386 273h0M1494 331h0M1300 426h0M1351 311h0M1305 287h0M1460 365h0M1414 310h0M1523 414h0M1491 274h0M1460 402h0M1457 360h0M1483 296h0M1422 314h0M1390 301h0M1460 363h0M1476 372h0M1435 420h0M1483 362h0M1373 421h0M1384 287h0M1375 385h0M1510 375h0M1449 422h0M1476 343h0M1404 394h0M1372 288h0M1440 402h0M1356 381h0M1501 291h0M1330 350h0M1400 399h0M1442 299h0M1519 299h0M1317 344h0M1304 348h0M1393 425h0M1393 408h0M1476 365h0M1353 320h0M1414 323h0M1437 432h0M1345 325h0M1302 286h0M1312 339h0M1489 384h0M1518 406h0M1432 365h0M1386 313h0M1440 281h0M1422 331h0M1411 336h0M1465 400h0M1435 289h0M1435 412h0M1523 393h0M1310 413h0M1450 315h0M1508 404h0M1502 311h0M1430 332h0M1367 394h0M1439 324h0M1422 421h0M1428 418h0M1428 431h0M1306 345h0M1425 388h0M1519 371h0M1408 373h0M1420 385h0M1514 273h0M1372 412h0M1313 399h0M1307 376h0M1481 309h0M1386 307h0M1459 356h0M1437 323h0M1432 425h0M1476 425h0M1356 354h0M1387 327h0M1481 299h0M1426 396h0M1511 274h0M1337 407h0M1389 359h0M1509 281h0M1374 296h0M1330 320h0M1458 365h0M1327 400h0M1414 294h0M1485 403h0M1349 423h0M1483 308h0M1300 411h0M1486 286h0M1473 396h0M1443 405h0M1522 324h0M1488 420h0M1371 381h0M1454 408h0M1428 315h0M1357 358h0M1330 410h0M1501 310h0M1457 380h0M1327 397h0M1473 320h0M1322 316h0M1474 346h0M1484 296h0M1324 327h0M1499 297h0M1316 392h0M1320 379h0M1319 310h0M1450 412h0M1392 343h0M1307 326h0M1354 398h0M1461 398h0M1420 384h0M1328 333h0M1366 316h0M1467 305h0M1373 316h0M1495 374h0M1512 343h0M1428 410h0M1358 312h0M1323 352h0M1473 296h0M1397 431h0M1501 331h0M1328 374h0M1467 420h0M1449 320h0M1416 317h0M1400 346h0M1506 417h0M1509 348h0M1518 293h0M1508 374h0M1497 337h0M1524 275h0M1491 403h0M1384 405h0M1348 392h0M1406 337h0M1481 389h0M1320 429h0M1350 331h0M1393 364h0M1501 424h0M1443 330h0M1324 282h0M1417 365h0M1401 430h0M1393 327h0M1394 298h0M1512 366h0M1422 339h0M1356 322h0M1427 304h0M1312 296h0M1378 397h0M1501 309h0M1476 342h0M1421 357h0M1315 379h0M1455 332h0M1507 403h0M1368 281h0M1425 377h0M1350 278h0M1410 276h0M1466 372h0M1363 343h0M1352 301h0M1341 403h0M1402 386h0M1378 401h0M1434 376h0M1388 362h0M1343 428h0M1452 357h0M1444 287h0M1375 308h0M1490 273h0M1400 411h0M1477 387h0M1368 308h0M1459 319h0M1463 327h0M1472 363h0M1484 430h0M1385 430h0M1302 413h0M1306 359h0M1387 395h0M1371 304h0M1477 360h0M1470 350h0M1308 395h0M1349 347h0M1300 312h0M1450 394h0M1444 342h0M1465 379h0M1346 357h0M1435 389h0M1344 321h0M1377 286h0M1378 389h0M1430 299h0M1465 289h0M1469 294h0M1321 311h0M1416 314h0M1500 423h0M1364 392h0M1457 361h0M1357 424h0M1516 273h0M1374 323h0M1345 340h0M1503 274h0M1489 321h0M1303 416h0M1361 305h0M1326 330h0M1327 300h0M1356 364h0M1401 320h0M1419 396h0M1463 326h0M1507 399h0M1427 348h0M1374 292h0M1500 369h0M1307 384h0M1354 357h0M1488 327h0M1412 378h0M1522 301h0M1460 277h0M1362 290h0M1333 356h0M1339 399h0M1321 371h0M1494 291h0M1349 394h0M1406 422h0M1376 335h0M1516 326h0M1518 415h0M1345 359h0M1512 290h0M1492 396h0M1469 368h0M1322 426h0M1477 388h0M1371 381h0M1392 392h0M1309 422h0M1387 401h0M1406 402h0M1368 359h0M1305 350h0M1318 410h0M1453 339h0M1520 424h0M1516 284h0M1459 388h0M1437 273h0M1508 342h0M1434 402h0M1362 275h0M1508 314h0M1309 293h0M1525 390h0M1347 294h0M1503 378h0M1431 292h0M1393 424h0M1300 338h0M1313 432h0M1465 277h0M1457 350h0M1411 294h0M1415 400h0M1360 309h0M1404 375h0M1428 415h0M1415 354h0M1523 305h0M1303 324h0M1370 291h0M1394 276h0M1508 349h0M1498 383h0M1465 393h0M1368 389h0M1346 360h0M1434 396h0M1338 326h0M1486 401h0M1521 290h0M1347 288h0M1463 391h0M1446 397h0M1416 362h0M1508 376h0M1448 366h0M1411 393h0M1429 291h0M1396 339h0M1397 361h0M1381 334h0M1396 331h0M1519 285h0M1304 387h0M1389 343h0M1433 330h0M1354 273h0M1497 423h0M1364 346h0M1373 280h0M1501 406h0M1354 312h0M1457 400h0M1406 333h0M1480 410h0M1494 289h0M1434 430h0M1461 345h0M1332 280h0M1465 282h0M1483 378h0M1407 415h0M1510 370h0M1322 366h0M1395 311h0M1510 389h0M1327 308h0M1377 363h0M1373 342h0M1484 300h0M1462 324h0M1513 425h0M1374 369h0M1325 337h0M1441 374h0M1377 276h0M1328 361h0M1338 320h0M1439 416h0M1416 312h0M1432 315h0M1477 296h0M1359 342h0M1505 297h0M1343 292h0M1348 324h0M1389 394h0M1391 347h0M1389 396h0M1504 339h0M1508 311h0M1521 356h0M1454 332h0M1361 292h0M1500 329h0M1458 345h0M1419 304h0M1340 325h0M1454 359h0M1300 386h0M1398 282h0M1358 305h0M1486 360h0M1374 311h0M1366 316h0M1378 399h0M1478 384h0M1500 376h0M1325 278h0M1337 312h0M1419 404h0M1432 340h0M1354 430h0M1470 326h0M1310 430h0M1358 408h0M1326 376h0M1380 415h0M1367 287h0M1345 401h0M1521 375h0M1454 316h0M1361 285h0M1522 278h0M1438 327h0M1342 341h0M1510 311h0M1415 300h0M1497 288h0M1339 310h0M1464 415h0M1406 277h0M1487 273h0M1372 294h0M1436 397h0M1329 318h0M1492 382h0M1324 382h0M1479 337h0M1330 297h0M1391 291h0M1387 360h0" stroke="#9f6cc6" stroke-width="5.0" stroke-linecap="round" opacity="0.85"/>
<path d="M1309 297h0M1344 320h0M1386 277h0M1370 374h0M1340 406h0M1429 387h0M1357 341h0M1454 327h0M1300 406h0M1475 317h0M1309 409h0M1437 278h0M1355 289h0M1479 305h0M1506 392h0M1319 383h0M1389 392h0M1487 316h0M1510 383h0M1467 405h0M1442 344h0M1312 384h0M1397 353h0M1509 291h0M1472 278h0M1459 401h0M1359 359h0M1519 374h0M1423 311h0M1313 328h0M1393 303h0M1370 293h0M1459 379h0M1353 310h0M1379 319h0M1500 293h0M1427 325h0M1484 359h0M1472 298h0M1450 367h0M1404 395h0M1488 289h0M1365 329h0M1346 280h0M1363 302h0M1458 343h0M1325 323h0M1406 329h0M1338 282h0M1302 431h0M1469 284h0M1462 429h0M1427 288h0M1410 341h0M1422 272h0M1508 375h0M1442 422h0M1447 311h0M1355 293h0M1306 396h0M1489 319h0M1509 298h0M1477 405h0M1467 323h0M1341 404h0M1372 330h0M1424 330h0M1488 309h0M1309 362h0M1442 403h0M1459 417h0M1513 351h0M1413 296h0M1367 365h0M1318 382h0M1337 342h0M1519 285h0M1309 342h0M1343 388h0M1300 407h0M1493 398h0M1396 316h0M1449 354h0M1395 325h0M1399 378h0M1486 417h0M1337 318h0M1400 362h0M1378 302h0M1319 323h0M1404 428h0M1505 411h0M1520 426h0M1440 402h0M1313 380h0M1437 319h0M1429 425h0M1408 375h0M1367 326h0M1500 275h0M1342 380h0M1401 284h0M1449 331h0M1431 338h0M1326 300h0M1501 359h0M1325 410h0M1321 356h0M1357 350h0M1425 307h0M1429 289h0M1416 366h0M1318 337h0M1316 342h0M1495 360h0M1461 393h0M1326 431h0M1463 287h0M1487 334h0M1338 426h0M1427 396h0M1331 396h0M1313 309h0M1384 273h0M1434 305h0M1367 385h0M1396 414h0M1440 412h0M1427 419h0M1496 298h0M1468 326h0M1472 381h0M1486 290h0M1384 390h0M1514 387h0M1310 368h0M1322 359h0M1481 289h0M1509 380h0M1357 302h0M1401 406h0M1431 289h0M1304 288h0M1481 301h0M1425 317h0M1455 332h0M1332 412h0M1421 382h0M1482 424h0M1303 326h0M1334 352h0M1497 400h0M1308 300h0M1485 381h0M1388 348h0M1335 407h0M1389 412h0M1438 283h0M1374 306h0M1502 366h0M1310 298h0M1381 346h0M1430 333h0M1380 271h0M1431 325h0M1304 345h0M1523 278h0M1333 379h0M1361 315h0M1413 313h0M1524 276h0M1426 395h0M1497 396h0M1443 373h0M1382 316h0M1479 412h0M1512 381h0M1368 394h0M1467 353h0M1443 327h0M1424 336h0M1313 325h0M1383 310h0M1353 327h0M1330 272h0M1497 344h0M1400 363h0M1368 298h0M1315 319h0M1369 388h0M1424 422h0M1377 420h0M1432 283h0M1340 365h0M1523 328h0M1475 340h0M1496 281h0M1409 416h0M1362 312h0M1305 297h0M1360 385h0M1349 335h0M1446 302h0M1466 427h0M1436 283h0M1483 412h0M1377 293h0M1342 357h0M1498 374h0M1508 305h0M1374 392h0M1446 336h0M1453 325h0M1313 338h0M1310 372h0M1375 351h0M1435 312h0M1404 273h0M1509 362h0M1523 280h0M1438 388h0M1374 286h0M1335 294h0M1473 285h0M1484 339h0M1448 368h0M1374 391h0M1358 386h0M1472 396h0M1370 396h0M1521 344h0M1330 272h0M1407 377h0M1475 329h0M1523 307h0M1471 285h0M1306 292h0M1313 352h0M1425 300h0M1512 330h0M1333 299h0M1466 420h0M1336 275h0M1476 310h0M1522 351h0M1443 326h0M1481 345h0M1373 417h0M1324 389h0M1314 375h0M1391 410h0M1313 362h0M1392 419h0M1513 372h0M1350 311h0M1359 341h0M1352 303h0M1471 375h0M1367 432h0M1428 296h0M1495 411h0M1360 392h0M1486 316h0M1375 349h0M1501 297h0M1454 367h0M1402 364h0M1499 304h0M1499 329h0M1476 410h0M1341 410h0M1525 319h0M1305 289h0M1520 272h0M1506 295h0M1466 286h0M1338 381h0M1320 326h0M1507 387h0M1499 429h0M1307 309h0M1479 382h0M1308 352h0M1352 340h0M1323 274h0M1524 322h0M1498 290h0M1410 293h0M1397 299h0M1455 294h0M1467 352h0M1325 328h0M1412 419h0M1379 305h0M1518 414h0M1465 315h0M1340 313h0M1315 277h0M1382 272h0M1455 376h0M1390 322h0M1394 428h0M1387 333h0M1392 294h0M1525 271h0M1437 421h0M1357 369h0M1385 310h0M1345 289h0M1490 398h0M1505 279h0M1457 323h0M1446 359h0M1371 428h0M1468 409h0M1415 366h0M1525 308h0M1442 391h0M1385 386h0M1389 356h0M1438 380h0M1373 372h0M1422 307h0M1438 313h0M1505 347h0M1463 355h0M1407 306h0M1332 421h0M1419 355h0M1419 402h0M1354 298h0M1485 345h0M1444 405h0M1502 411h0M1309 332h0M1488 403h0M1328 295h0M1357 287h0M1380 401h0M1418 344h0M1389 432h0M1457 343h0M1408 400h0M1471 295h0M1453 330h0M1417 309h0M1383 326h0M1386 273h0M1345 363h0M1313 299h0M1462 315h0M1373 310h0M1488 285h0M1443 410h0M1345 339h0M1479 371h0M1384 278h0M1400 330h0M1461 318h0M1392 376h0M1483 328h0M1387 364h0M1509 302h0M1519 386h0M1384 378h0M1374 282h0M1471 332h0M1419 351h0M1503 393h0M1305 367h0M1393 347h0M1501 342h0M1411 353h0M1486 379h0M1467 336h0M1309 381h0M1425 395h0M1474 290h0M1350 283h0M1484 287h0M1320 393h0M1427 279h0M1454 386h0M1409 279h0M1456 338h0M1432 432h0M1484 412h0M1333 325h0M1417 271h0M1523 315h0M1359 321h0M1357 410h0M1425 353h0M1395 279h0M1369 411h0M1481 409h0M1358 303h0M1311 357h0M1384 346h0M1410 365h0M1382 400h0M1345 419h0M1425 279h0M1427 323h0M1362 399h0M1366 386h0M1481 366h0M1402 422h0M1400 413h0M1313 341h0M1444 278h0M1495 282h0M1434 300h0M1508 361h0M1481 351h0M1452 380h0M1366 305h0M1489 294h0M1507 304h0M1322 286h0M1477 425h0M1393 377h0M1358 417h0M1455 296h0M1313 383h0M1309 406h0M1366 308h0M1431 322h0M1426 295h0M1506 323h0M1490 295h0M1480 429h0M1388 276h0M1386 374h0M1350 359h0M1321 346h0M1464 340h0M1453 289h0M1487 290h0M1508 432h0M1512 356h0M1365 327h0M1469 351h0M1510 286h0M1409 410h0M1435 358h0M1320 293h0M1361 415h0M1491 307h0M1509 276h0M1435 427h0M1378 423h0M1448 279h0M1375 343h0M1356 391h0M1340 398h0M1367 282h0M1426 286h0M1424 398h0M1434 345h0M1307 354h0M1322 375h0M1330 364h0M1379 331h0M1450 297h0M1338 423h0M1375 407h0M1497 348h0M1333 286h0M1498 289h0M1412 357h0M1326 346h0M1337 357h0M1414 330h0M1344 336h0M1346 291h0M1354 412h0M1413 415h0M1303 423h0M1410 399h0M1429 382h0M1352 392h0M1334 313h0M1307 334h0M1417 318h0M1501 284h0M1430 308h0M1434 398h0M1460 281h0M1355 368h0M1522 277h0M1439 383h0M1484 326h0M1483 345h0M1508 272h0M1512 337h0M1392 285h0M1355 389h0M1453 295h0M1378 293h0M1344 306h0M1479 348h0M1412 397h0M1505 392h0M1444 303h0M1441 408h0M1477 285h0M1462 327h0M1336 427h0M1452 391h0M1330 405h0M1511 417h0M1468 405h0M1481 366h0M1398 404h0M1477 412h0M1513 289h0M1519 398h0M1357 406h0M1352 303h0M1403 309h0M1411 418h0M1455 386h0M1388 397h0M1479 381h0M1513 404h0M1392 285h0M1447 406h0M1376 367h0M1489 399h0M1301 350h0M1303 288h0M1483 338h0M1436 345h0M1376 305h0M1380 407h0M1440 318h0M1320 314h0M1458 342h0M1449 401h0M1327 381h0M1309 404h0M1341 314h0M1516 329h0M1350 415h0M1438 415h0M1389 351h0M1516 353h0M1523 301h0M1487 297h0M1419 271h0M1339 424h0M1402 402h0M1356 328h0M1323 360h0M1495 354h0M1385 421h0M1502 378h0M1317 372h0M1400 426h0M1381 378h0M1443 331h0M1418 380h0M1505 351h0M1382 429h0M1313 406h0M1454 361h0M1401 392h0M1501 389h0M1469 276h0M1373 293h0M1515 415h0M1332 366h0M1430 278h0M1388 392h0M1445 316h0M1472 318h0M1423 339h0M1521 376h0M1482 380h0M1386 427h0M1460 382h0M1362 297h0M1430 404h0M1479 327h0M1331 354h0M1498 297h0M1467 298h0M1370 279h0M1367 333h0M1518 426h0M1342 321h0M1513 302h0M1372 342h0M1324 313h0M1389 333h0M1517 314h0M1346 418h0M1401 406h0M1444 397h0M1371 295h0M1471 347h0M1426 379h0M1470 315h0M1382 419h0M1419 317h0M1442 313h0M1474 277h0M1487 362h0M1380 423h0M1360 310h0M1315 359h0M1470 380h0M1393 401h0M1325 320h0M1445 427h0M1443 383h0M1475 334h0M1512 391h0M1377 334h0M1482 327h0M1342 412h0M1420 355h0M1451 417h0M1330 325h0M1315 337h0M1413 409h0M1451 364h0M1391 363h0M1362 407h0M1478 406h0M1334 379h0M1470 352h0M1503 416h0M1468 403h0M1446 413h0M1329 385h0M1459 370h0M1362 281h0M1436 404h0M1361 305h0M1350 286h0M1452 428h0M1481 329h0M1458 282h0M1489 323h0M1300 372h0M1331 315h0M1313 343h0M1425 401h0M1309 405h0M1325 307h0M1442 326h0M1375 363h0M1349 399h0M1347 406h0M1482 358h0M1307 397h0M1306 352h0M1396 281h0M1442 388h0M1432 335h0M1415 366h0M1351 411h0M1525 401h0M1517 324h0M1523 282h0M1408 292h0M1402 381h0M1460 344h0M1377 301h0M1391 316h0M1344 390h0M1416 342h0M1459 302h0M1360 361h0M1458 428h0M1469 424h0M1508 388h0M1462 281h0M1346 273h0M1495 387h0M1442 313h0M1380 297h0M1443 431h0M1369 278h0M1339 328h0M1503 401h0M1403 287h0M1324 295h0M1475 347h0M1407 404h0M1329 288h0M1427 353h0M1347 311h0M1304 418h0M1460 424h0M1521 341h0M1465 333h0M1483 407h0M1330 273h0M1348 365h0M1385 272h0M1487 398h0M1404 278h0M1501 357h0M1316 323h0M1441 414h0M1409 374h0M1346 310h0M1504 332h0M1323 366h0M1328 303h0M1403 365h0M1444 385h0M1399 281h0M1463 279h0M1461 309h0M1446 383h0M1406 293h0M1505 368h0M1314 309h0M1523 308h0M1388 398h0M1486 373h0M1467 277h0M1321 429h0M1481 277h0M1311 309h0M1510 306h0M1452 421h0M1444 419h0M1359 295h0M1304 393h0M1323 428h0M1460 301h0M1482 297h0M1501 419h0M1300 408h0M1425 404h0M1413 371h0M1434 400h0M1317 279h0M1423 318h0M1389 272h0M1468 274h0M1487 402h0M1403 290h0M1447 304h0M1397 288h0M1520 359h0M1379 286h0M1465 408h0M1491 287h0M1383 320h0M1472 294h0M1437 429h0M1473 272h0M1317 289h0M1456 367h0M1438 376h0M1507 389h0M1480 418h0M1489 387h0M1307 381h0M1492 340h0M1498 300h0M1513 342h0M1459 311h0M1368 327h0M1373 286h0M1400 429h0M1448 422h0M1472 406h0M1524 392h0M1362 311h0M1393 274h0M1352 414h0M1508 324h0M1474 396h0M1501 399h0M1371 372h0M1336 357h0M1447 358h0M1512 337h0M1506 382h0M1518 285h0M1348 317h0M1505 273h0M1359 386h0M1523 299h0M1399 382h0M1456 391h0M1470 311h0M1358 275h0M1456 304h0M1358 427h0M1445 366h0M1448 367h0M1457 320h0M1314 281h0M1303 329h0M1332 289h0M1411 428h0M1455 315h0M1474 299h0M1322 320h0M1392 382h0M1400 388h0M1488 275h0M1487 307h0M1493 401h0M1451 315h0M1302 301h0M1504 296h0M1449 366h0M1449 300h0M1332 286h0M1522 333h0M1447 363h0M1350 281h0M1303 409h0M1329 427h0M1382 388h0M1331 398h0M1357 330h0M1418 289h0M1480 317h0M1386 394h0M1350 302h0M1349 333h0M1382 374h0M1406 411h0M1311 378h0M1489 309h0M1306 342h0M1326 345h0M1461 286h0M1326 348h0M1339 308h0M1399 290h0M1315 329h0M1406 422h0M1425 282h0M1350 391h0M1427 411h0M1517 409h0M1354 298h0M1495 305h0M1318 313h0M1509 345h0M1465 283h0M1402 322h0M1346 378h0M1381 290h0M1522 349h0M1340 272h0M1447 354h0M1305 347h0M1467 358h0M1353 351h0M1436 376h0M1332 401h0M1513 390h0M1493 330h0M1504 300h0M1351 367h0M1503 284h0M1349 276h0M1399 293h0M1343 392h0M1432 423h0M1391 381h0M1303 424h0M1352 348h0M1415 424h0M1411 431h0M1440 306h0M1488 303h0M1526 344h0M1351 426h0M1372 336h0M1377 379h0M1305 331h0M1336 405h0M1300 369h0M1358 344h0M1427 386h0M1331 309h0M1327 426h0M1333 293h0M1313 308h0M1338 365h0M1402 337h0M1500 378h0M1494 426h0M1360 423h0M1392 279h0M1506 287h0M1304 317h0M1395 356h0M1492 401h0M1447 354h0M1326 310h0M1448 365h0M1481 416h0M1517 302h0M1341 383h0M1357 309h0M1316 391h0M1441 347h0M1452 400h0M1302 348h0M1453 385h0M1446 300h0M1516 398h0M1352 340h0M1516 304h0M1392 426h0M1503 308h0M1466 329h0M1450 395h0M1329 307h0M1348 314h0M1308 293h0M1391 339h0M1317 365h0M1513 364h0M1380 385h0M1399 299h0M1409 273h0M1452 297h0M1383 426h0M1473 406h0M1445 373h0M1459 427h0M1344 395h0M1368 312h0M1485 368h0M1492 412h0M1433 303h0M1303 357h0M1464 315h0M1316 271h0M1339 383h0M1301 308h0M1360 386h0M1523 274h0M1333 325h0M1418 322h0M1394 348h0M1358 279h0M1319 297h0M1320 372h0M1457 313h0M1479 389h0M1377 350h0M1342 421h0M1426 279h0M1334 383h0M1387 387h0M1352 400h0M1481 286h0M1432 301h0M1460 401h0M1479 308h0M1321 378h0M1427 293h0M1343 365h0M1324 373h0M1354 312h0M1395 357h0M1463 276h0M1463 306h0M1365 374h0M1456 370h0M1504 304h0M1370 378h0M1359 296h0M1351 395h0M1487 387h0M1516 399h0M1370 322h0M1463 280h0M1437 285h0M1311 354h0M1334 421h0M1498 345h0M1344 290h0M1414 355h0M1382 387h0M1419 396h0M1324 282h0M1387 349h0M1357 379h0M1350 322h0M1407 386h0M1474 331h0M1401 421h0M1511 371h0M1323 344h0M1444 316h0M1308 429h0M1505 291h0M1405 371h0M1367 282h0M1469 395h0M1399 284h0M1389 286h0M1517 279h0M1365 395h0M1330 288h0M1316 297h0M1420 405h0M1338 299h0M1473 339h0M1376 290h0M1355 428h0M1326 313h0M1467 415h0M1504 347h0M1516 368h0M1365 346h0M1462 389h0M1329 302h0M1516 288h0M1484 325h0M1356 312h0M1406 431h0M1333 409h0M1372 298h0M1468 326h0M1342 338h0M1485 410h0M1430 272h0M1472 369h0M1503 425h0M1374 408h0M1485 314h0M1382 331h0M1379 332h0M1325 307h0M1505 337h0M1443 414h0M1470 310h0M1508 401h0M1524 388h0M1470 402h0M1357 377h0M1386 407h0M1330 358h0M1376 403h0M1378 407h0M1491 413h0M1331 422h0M1468 380h0M1447 278h0M1496 359h0M1403 325h0M1477 397h0M1496 305h0M1377 311h0M1322 323h0M1306 400h0M1351 282h0M1315 391h0M1345 345h0M1391 400h0M1515 321h0M1443 415h0M1406 416h0M1466 321h0M1497 363h0M1324 366h0M1487 355h0M1450 304h0M1382 329h0M1516 383h0M1328 419h0M1433 341h0M1462 340h0M1321 355h0M1485 398h0M1380 307h0M1468 400h0M1349 414h0M1524 341h0M1386 385h0M1510 303h0M1368 324h0M1465 301h0M1423 352h0M1451 294h0M1516 432h0M1427 399h0M1341 418h0M1424 394h0M1496 329h0M1509 304h0M1305 352h0M1503 416h0M1516 353h0M1510 361h0M1395 368h0M1358 315h0M1395 354h0M1406 285h0M1301 326h0M1462 392h0M1353 312h0M1416 299h0M1436 417h0M1345 365h0M1463 392h0M1461 386h0M1361 406h0M1509 279h0M1513 342h0M1319 282h0M1480 380h0M1332 345h0M1444 432h0M1376 395h0M1355 303h0M1336 337h0M1439 320h0M1336 306h0M1319 302h0M1399 428h0M1410 424h0M1406 303h0M1433 294h0M1338 282h0M1458 427h0M1391 328h0M1396 328h0M1456 334h0M1334 411h0M1429 272h0M1492 389h0M1380 373h0M1508 336h0M1397 319h0M1425 378h0M1466 424h0M1333 330h0M1492 399h0M1433 380h0M1377 424h0M1424 336h0M1341 289h0M1503 400h0M1306 323h0M1502 327h0M1420 421h0M1444 348h0M1375 333h0M1437 398h0M1359 331h0M1387 329h0M1506 358h0M1362 324h0M1485 296h0M1456 274h0M1343 280h0M1482 294h0M1351 280h0M1359 389h0M1462 418h0M1514 360h0M1508 285h0M1509 341h0M1343 392h0M1494 333h0M1435 429h0M1308 280h0M1328 274h0M1460 373h0M1325 297h0M1519 329h0M1521 341h0M1388 312h0M1352 428h0M1525 385h0M1339 300h0M1334 327h0M1466 280h0M1420 381h0M1307 342h0M1478 364h0M1402 413h0M1436 325h0M1389 423h0M1494 419h0M1426 294h0M1339 333h0M1456 271h0M1481 398h0M1416 271h0M1480 338h0M1451 363h0M1464 337h0M1517 425h0M1510 370h0M1371 332h0M1360 417h0M1479 398h0M1485 431h0M1455 322h0M1471 313h0M1438 296h0M1494 350h0M1362 420h0M1333 394h0M1429 417h0M1432 340h0M1511 285h0M1475 287h0M1362 289h0M1497 342h0M1464 312h0M1465 376h0M1322 351h0M1463 305h0M1448 316h0M1383 420h0M1513 432h0M1396 363h0M1482 393h0M1403 410h0M1390 424h0M1407 290h0M1469 294h0M1453 279h0M1523 358h0M1467 292h0M1444 331h0M1356 403h0M1307 348h0M1319 408h0M1502 276h0M1464 326h0M1511 301h0M1331 402h0M1327 301h0M1413 325h0M1337 421h0M1407 398h0M1356 418h0M1350 417h0M1438 428h0M1474 373h0M1420 409h0M1400 286h0M1506 401h0M1454 391h0M1352 346h0M1486 426h0M1508 297h0M1454 360h0M1391 298h0M1331 347h0M1411 314h0M1433 297h0M1500 330h0M1517 430h0M1331 365h0M1518 333h0M1423 321h0M1306 304h0M1328 317h0M1442 362h0M1514 382h0M1382 424h0M1443 359h0M1495 379h0M1381 368h0M1368 428h0M1520 281h0M1302 360h0M1346 353h0M1326 406h0M1451 381h0M1509 431h0M1453 386h0M1300 278h0M1396 427h0M1370 363h0M1302 338h0M1504 366h0M1486 273h0M1346 300h0M1488 287h0M1510 314h0M1499 354h0M1457 281h0M1487 429h0M1325 391h0M1361 294h0M1382 378h0M1515 432h0M1336 388h0M1424 329h0M1503 312h0M1332 296h0M1333 366h0M1481 296h0M1413 364h0M1426 337h0M1423 273h0M1313 339h0M1353 393h0M1354 404h0M1354 285h0M1473 307h0M1451 406h0M1402 352h0M1508 368h0M1341 282h0M1318 324h0M1320 376h0M1395 320h0M1415 422h0M1355 296h0M1369 323h0M1505 385h0M1397 297h0M1310 290h0M1491 375h0M1335 372h0M1414 325h0M1323 391h0M1462 353h0M1449 285h0M1504 271h0M1350 335h0M1345 285h0M1455 432h0M1375 314h0M1451 307h0M1390 382h0M1397 296h0M1316 358h0M1524 420h0M1413 350h0M1451 351h0M1482 318h0M1511 402h0M1407 293h0M1409 291h0M1455 383h0M1430 429h0M1310 386h0M1481 289h0M1372 279h0M1431 388h0M1378 383h0M1383 386h0M1301 285h0M1464 411h0M1444 296h0M1497 387h0M1326 332h0M1451 271h0M1309 328h0M1497 432h0M1372 418h0M1477 411h0M1433 428h0M1445 424h0M1428 302h0M1417 349h0M1376 331h0M1415 366h0M1350 315h0M1413 352h0M1394 378h0M1342 357h0M1362 395h0M1459 397h0M1417 311h0M1509 353h0M1384 318h0M1391 385h0M1485 349h0M1465 305h0M1402 328h0M1369 329h0M1470 389h0M1347 308h0M1477 377h0M1453 373h0M1456 315h0M1313 329h0M1307 426h0M1418 379h0M1518 401h0M1352 325h0M1324 399h0M1466 350h0M1383 314h0M1410 386h0M1502 408h0M1496 342h0M1395 321h0M1520 300h0M1335 316h0M1508 409h0M1375 408h0M1501 340h0M1343 396h0M1384 290h0M1504 342h0M1390 367h0M1357 274h0M1388 332h0M1302 331h0M1472 324h0M1453 372h0M1342 274h0M1452 369h0M1366 303h0M1493 418h0M1352 365h0M1430 323h0M1308 323h0M1445 368h0M1415 290h0M1370 338h0M1382 417h0M1326 430h0M1354 409h0M1355 366h0M1385 277h0M1480 402h0M1361 396h0M1408 430h0M1312 332h0M1351 372h0M1476 407h0M1424 333h0M1480 287h0M1358 392h0M1399 431h0M1320 345h0M1348 271h0M1321 285h0M1383 341h0M1414 317h0M1458 354h0M1522 298h0M1415 350h0M1384 410h0M1347 413h0M1381 325h0M1439 362h0M1364 284h0M1516 330h0M1326 377h0M1420 324h0M1374 407h0M1376 338h0M1516 329h0M1391 297h0M1449 378h0M1401 336h0M1352 398h0M1403 405h0M1384 389h0M1306 306h0M1517 381h0M1452 351h0M1406 302h0M1358 375h0M1330 370h0M1338 353h0M1371 360h0M1409 370h0M1330 321h0M1453 359h0M1439 397h0M1429 306h0M1400 405h0M1428 393h0M1382 343h0M1519 404h0M1447 288h0M1438 276h0M1511 428h0M1464 314h0M1491 299h0M1487 355h0M1303 415h0M1399 405h0M1455 357h0M1495 303h0M1503 325h0M1306 325h0M1315 282h0M1441 290h0M1336 318h0M1363 420h0M1504 411h0M1523 342h0M1480 316h0M1509 402h0M1465 307h0M1438 410h0M1332 384h0M1405 398h0M1403 302h0M1516 316h0M1468 405h0M1356 383h0M1389 307h0M1349 425h0M1306 393h0M1468 412h0M1380 304h0M1378 389h0M1448 336h0M1418 295h0M1507 347h0M1414 398h0M1344 388h0M1380 402h0M1321 315h0M1443 349h0M1385 364h0M1349 341h0M1300 400h0M1357 405h0M1328 396h0M1366 410h0M1477 380h0M1484 341h0M1452 425h0M1342 287h0M1393 353h0M1333 306h0M1496 333h0M1333 300h0M1430 301h0M1407 358h0M1399 352h0M1489 273h0M1510 303h0M1308 395h0M1429 358h0M1476 320h0M1464 307h0M1429 376h0M1384 348h0M1314 375h0M1456 295h0M1424 389h0M1323 406h0M1496 279h0M1356 284h0M1357 284h0M1410 311h0M1368 345h0M1384 398h0M1463 289h0M1350 272h0M1374 288h0M1457 397h0M1525 304h0M1308 393h0M1393 421h0M1388 321h0M1316 424h0M1473 405h0M1407 299h0M1392 415h0M1392 378h0M1426 345h0M1430 310h0M1426 411h0M1318 330h0M1499 429h0M1303 372h0M1443 407h0M1406 292h0M1368 386h0M1464 304h0M1445 377h0M1448 274h0M1400 323h0M1435 325h0M1329 379h0M1365 399h0M1326 389h0M1315 422h0M1305 388h0M1383 300h0M1389 352h0M1393 290h0M1418 319h0M1518 333h0M1398 307h0M1519 323h0M1446 405h0M1389 393h0M1363 288h0M1309 343h0M1497 303h0M1399 394h0M1362 295h0M1503 309h0M1426 338h0M1307 342h0M1507 320h0M1432 386h0M1314 420h0M1324 319h0M1461 274h0M1385 291h0M1407 273h0M1334 307h0M1318 285h0M1344 354h0M1331 404h0M1394 311h0M1354 407h0M1310 391h0M1435 410h0M1322 281h0M1456 366h0M1463 316h0M1412 301h0M1398 316h0M1432 319h0M1362 375h0M1319 400h0M1412 308h0M1326 353h0M1414 387h0M1384 337h0M1501 315h0M1513 312h0M1484 370h0M1346 432h0M1446 402h0M1426 283h0M1495 299h0M1358 370h0M1344 345h0M1461 286h0M1449 287h0M1407 376h0M1455 277h0M1343 426h0M1388 339h0M1384 383h0M1467 376h0M1391 363h0M1416 301h0M1514 427h0M1475 431h0M1405 406h0M1354 391h0M1461 423h0M1488 413h0M1360 398h0M1407 321h0M1383 400h0M1490 407h0M1451 298h0M1335 363h0M1348 325h0M1323 296h0M1462 307h0M1491 324h0M1492 320h0M1360 334h0M1302 341h0M1386 273h0M1494 331h0M1300 426h0M1351 311h0M1305 287h0M1460 365h0M1414 310h0M1523 414h0M1491 274h0M1460 402h0M1457 360h0M1483 296h0M1422 314h0M1390 301h0M1460 363h0M1476 372h0M1435 420h0M1483 362h0M1373 421h0M1384 287h0M1375 385h0M1510 375h0M1449 422h0M1476 343h0M1404 394h0M1372 288h0M1440 402h0M1356 381h0M1501 291h0M1330 350h0M1400 399h0M1442 299h0M1519 299h0M1317 344h0M1304 348h0M1393 425h0M1393 408h0M1476 365h0M1353 320h0M1414 323h0M1437 432h0M1345 325h0M1302 286h0M1312 339h0M1489 384h0M1518 406h0M1432 365h0M1386 313h0M1440 281h0M1422 331h0M1411 336h0M1465 400h0M1435 289h0M1435 412h0M1523 393h0M1310 413h0M1450 315h0M1508 404h0M1502 311h0M1430 332h0M1367 394h0M1439 324h0M1422 421h0M1428 418h0M1428 431h0M1306 345h0M1425 388h0M1519 371h0M1408 373h0M1420 385h0M1514 273h0M1372 412h0M1313 399h0M1307 376h0M1481 309h0M1386 307h0M1459 356h0M1437 323h0M1432 425h0M1476 425h0M1356 354h0M1387 327h0M1481 299h0M1426 396h0M1511 274h0M1337 407h0M1389 359h0M1509 281h0M1374 296h0M1330 320h0M1458 365h0M1327 400h0M1414 294h0M1485 403h0M1349 423h0M1483 308h0M1300 411h0M1486 286h0M1473 396h0M1443 405h0M1522 324h0M1488 420h0M1371 381h0M1454 408h0M1428 315h0M1357 358h0M1330 410h0M1501 310h0M1457 380h0M1327 397h0M1473 320h0M1322 316h0M1474 346h0M1484 296h0M1324 327h0M1499 297h0M1316 392h0M1320 379h0M1319 310h0M1450 412h0M1392 343h0M1307 326h0M1354 398h0M1461 398h0M1420 384h0M1328 333h0M1366 316h0M1467 305h0M1373 316h0M1495 374h0M1512 343h0M1428 410h0M1358 312h0M1323 352h0M1473 296h0M1397 431h0M1501 331h0M1328 374h0M1467 420h0M1449 320h0M1416 317h0M1400 346h0M1506 417h0M1509 348h0M1518 293h0M1508 374h0M1497 337h0M1524 275h0M1491 403h0M1384 405h0M1348 392h0M1406 337h0M1481 389h0M1320 429h0M1350 331h0M1393 364h0M1501 424h0M1443 330h0M1324 282h0M1417 365h0M1401 430h0M1393 327h0M1394 298h0M1512 366h0M1422 339h0M1356 322h0M1427 304h0M1312 296h0M1378 397h0M1501 309h0M1476 342h0M1421 357h0M1315 379h0M1455 332h0M1507 403h0M1368 281h0M1425 377h0M1350 278h0M1410 276h0M1466 372h0M1363 343h0M1352 301h0M1341 403h0M1402 386h0M1378 401h0M1434 376h0M1388 362h0M1343 428h0M1452 357h0M1444 287h0M1375 308h0M1490 273h0M1400 411h0M1477 387h0M1368 308h0M1459 319h0M1463 327h0M1472 363h0M1484 430h0M1385 430h0M1302 413h0M1306 359h0M1387 395h0M1371 304h0M1477 360h0M1470 350h0M1308 395h0M1349 347h0M1300 312h0M1450 394h0M1444 342h0M1465 379h0M1346 357h0M1435 389h0M1344 321h0M1377 286h0M1378 389h0M1430 299h0M1465 289h0M1469 294h0M1321 311h0M1416 314h0M1500 423h0M1364 392h0M1457 361h0M1357 424h0M1516 273h0M1374 323h0M1345 340h0M1503 274h0M1489 321h0M1303 416h0M1361 305h0M1326 330h0M1327 300h0M1356 364h0M1401 320h0M1419 396h0M1463 326h0M1507 399h0M1427 348h0M1374 292h0M1500 369h0M1307 384h0M1354 357h0M1488 327h0M1412 378h0M1522 301h0M1460 277h0M1362 290h0M1333 356h0M1339 399h0M1321 371h0M1494 291h0M1349 394h0M1406 422h0M1376 335h0M1516 326h0M1518 415h0M1345 359h0M1512 290h0M1492 396h0M1469 368h0M1322 426h0M1477 388h0M1371 381h0M1392 392h0M1309 422h0M1387 401h0M1406 402h0M1368 359h0M1305 350h0M1318 410h0M1453 339h0M1520 424h0M1516 284h0M1459 388h0M1437 273h0M1508 342h0M1434 402h0M1362 275h0M1508 314h0M1309 293h0M1525 390h0M1347 294h0M1503 378h0M1431 292h0M1393 424h0M1300 338h0M1313 432h0M1465 277h0M1457 350h0M1411 294h0M1415 400h0M1360 309h0M1404 375h0M1428 415h0M1415 354h0M1523 305h0M1303 324h0M1370 291h0M1394 276h0M1508 349h0M1498 383h0M1465 393h0M1368 389h0M1346 360h0M1434 396h0M1338 326h0M1486 401h0M1521 290h0M1347 288h0M1463 391h0M1446 397h0M1416 362h0M1508 376h0M1448 366h0M1411 393h0M1429 291h0M1396 339h0M1397 361h0M1381 334h0M1396 331h0M1519 285h0M1304 387h0M1389 343h0M1433 330h0M1354 273h0M1497 423h0M1364 346h0M1373 280h0M1501 406h0M1354 312h0M1457 400h0M1406 333h0M1480 410h0M1494 289h0M1434 430h0M1461 345h0M1332 280h0M1465 282h0M1483 378h0M1407 415h0M1510 370h0M1322 366h0M1395 311h0M1510 389h0M1327 308h0M1377 363h0M1373 342h0M1484 300h0M1462 324h0M1513 425h0M1374 369h0M1325 337h0M1441 374h0M1377 276h0M1328 361h0M1338 320h0M1439 416h0M1416 312h0M1432 315h0M1477 296h0M1359 342h0M1505 297h0M1343 292h0M1348 324h0M1389 394h0M1391 347h0M1389 396h0M1504 339h0M1508 311h0M1521 356h0M1454 332h0M1361 292h0M1500 329h0M1458 345h0M1419 304h0M1340 325h0M1454 359h0M1300 386h0M1398 282h0M1358 305h0M1486 360h0M1374 311h0M1366 316h0M1378 399h0M1478 384h0M1500 376h0M1325 278h0M1337 312h0M1419 404h0M1432 340h0M1354 430h0M1470 326h0M1310 430h0M1358 408h0M1326 376h0M1380 415h0M1367 287h0M1345 401h0M1521 375h0M1454 316h0M1361 285h0M1522 278h0M1438 327h0M1342 341h0M1510 311h0M1415 300h0M1497 288h0M1339 310h0M1464 415h0M1406 277h0M1487 273h0M1372 294h0M1436 397h0M1329 318h0M1492 382h0M1324 382h0M1479 337h0M1330 297h0M1391 291h0M1387 360h0" stroke="#55268a" stroke-width="3.0" stroke-linecap="round" opacity="1.0"/>
<path d="M1667 336h0M1723 285h0M1617 422h0M1738 420h0M1715 357h0M1720 363h0M1569 312h0M1565 412h0M1615 337h0M1664 287h0M1702 399h0M1722 413h0M1699 331h0M1647 402h0M1619 323h0M1658 391h0M1742 328h0M1699 336h0M1737 394h0M1668 329h0M1611 284h0M1587 427h0M1551 402h0M1662 360h0M1664 337h0M1668 285h0M1750 287h0M1574 379h0M1687 401h0M1699 421h0M1554 272h0M1596 397h0M1577 357h0M1717 296h0M1662 416h0M1711 335h0M1651 316h0M1760 397h0M1696 320h0M1708 349h0M1723 329h0M1742 381h0M1644 362h0M1724 356h0M1760 272h0M1745 386h0M1653 408h0M1689 278h0M1615 313h0M1644 283h0M1643 320h0M1679 327h0M1763 425h0M1707 404h0M1560 291h0M1765 406h0M1759 306h0M1593 274h0M1604 280h0M1662 319h0M1610 390h0M1698 386h0M1649 346h0M1607 277h0M1648 370h0M1585 410h0M1741 409h0M1727 350h0M1582 314h0M1709 430h0M1568 272h0M1622 327h0M1678 289h0M1617 320h0M1582 427h0M1676 404h0M1557 358h0M1708 430h0M1754 287h0M1627 432h0M1663 426h0M1600 275h0M1756 313h0M1669 329h0M1673 422h0M1756 413h0M1601 403h0M1637 423h0M1600 330h0M1674 309h0M1703 376h0M1564 420h0M1559 383h0M1768 400h0M1646 399h0M1762 421h0M1663 315h0M1660 429h0M1708 379h0M1733 337h0M1669 408h0M1588 410h0M1548 358h0M1672 294h0M1751 342h0M1584 337h0M1676 340h0M1543 285h0M1704 292h0M1742 299h0M1596 366h0M1764 304h0M1559 383h0M1567 307h0M1642 430h0M1616 322h0M1650 297h0M1722 300h0M1565 372h0M1645 419h0M1566 391h0M1694 330h0M1571 370h0M1714 347h0M1649 382h0M1680 339h0M1745 432h0M1668 324h0M1593 373h0M1709 311h0M1699 432h0M1631 423h0M1641 376h0M1738 303h0M1621 430h0M1557 320h0M1650 391h0M1685 421h0M1694 271h0M1559 276h0M1640 275h0M1661 373h0M1588 409h0M1636 426h0M1623 371h0M1665 313h0M1719 271h0M1599 322h0M1742 352h0M1610 369h0M1725 288h0M1719 334h0M1661 339h0M1642 431h0M1750 419h0M1709 384h0M1574 276h0M1730 380h0M1685 321h0M1603 420h0M1663 274h0M1619 327h0M1558 429h0M1747 402h0M1725 398h0M1721 290h0M1546 286h0M1733 405h0M1659 309h0M1736 290h0M1616 271h0M1724 365h0M1766 396h0M1752 427h0M1561 392h0M1594 323h0M1620 431h0M1556 341h0M1571 432h0M1655 384h0M1660 395h0M1619 337h0M1711 384h0M1743 321h0M1734 390h0M1672 337h0M1671 283h0M1564 321h0M1570 278h0M1705 389h0M1682 304h0M1706 404h0M1682 307h0M1670 334h0M1603 295h0M1581 313h0M1658 280h0M1675 398h0M1722 291h0M1568 307h0M1691 292h0M1547 351h0M1544 312h0M1629 304h0M1543 313h0M1598 323h0M1636 329h0M1616 274h0M1732 390h0M1654 271h0M1595 416h0M1646 304h0M1728 415h0M1570 352h0M1669 290h0M1615 371h0M1695 372h0M1683 332h0M1558 273h0M1732 411h0M1747 283h0M1716 298h0M1621 303h0M1737 403h0M1601 364h0M1695 308h0M1629 287h0M1723 300h0M1573 316h0M1687 374h0M1661 409h0M1713 304h0M1663 298h0M1597 294h0M1560 327h0M1743 377h0M1562 306h0M1676 356h0M1549 286h0M1670 368h0M1561 396h0M1597 366h0M1662 326h0M1756 335h0M1638 358h0M1732 430h0M1716 358h0M1705 374h0M1759 428h0M1714 306h0M1671 342h0M1595 397h0M1592 385h0M1653 340h0M1702 388h0M1766 432h0M1723 313h0M1644 328h0M1548 347h0M1663 320h0M1566 349h0M1558 298h0M1643 327h0M1656 356h0M1630 292h0M1669 428h0M1606 327h0M1615 391h0M1654 399h0M1544 292h0M1589 330h0M1642 364h0M1760 374h0M1677 405h0M1618 276h0M1759 357h0M1674 281h0M1711 331h0M1688 316h0M1750 330h0M1605 415h0M1593 314h0M1653 429h0M1569 305h0M1722 283h0M1636 397h0M1704 399h0M1569 415h0M1623 402h0M1649 415h0M1651 312h0M1577 351h0M1554 297h0M1740 363h0M1738 295h0M1651 346h0M1567 313h0M1751 388h0M1658 369h0M1737 425h0M1677 279h0M1740 297h0M1597 293h0M1658 365h0M1647 347h0M1574 387h0M1664 321h0M1731 423h0M1751 430h0M1558 333h0M1644 312h0M1711 417h0M1574 352h0M1761 414h0M1644 287h0M1646 354h0M1720 301h0M1606 430h0M1545 369h0M1564 392h0M1638 420h0M1593 413h0M1594 278h0M1762 328h0M1704 276h0M1659 358h0M1565 364h0M1643 324h0M1730 382h0M1570 288h0M1602 374h0M1761 427h0M1738 291h0M1721 394h0M1649 432h0M1678 290h0M1591 292h0M1680 372h0M1736 272h0M1722 416h0M1670 369h0M1544 369h0M1681 395h0M1659 289h0M1593 376h0M1722 359h0M1623 427h0M1674 309h0M1670 409h0M1626 341h0M1673 430h0M1687 300h0M1674 323h0M1649 386h0M1547 353h0M1613 368h0M1728 346h0M1685 317h0M1600 353h0M1663 307h0M1715 351h0M1623 312h0M1732 417h0M1755 311h0M1559 373h0M1548 409h0M1696 325h0M1642 381h0M1696 365h0M1566 306h0M1600 276h0M1668 419h0M1648 354h0M1606 346h0M1754 350h0M1622 303h0M1752 394h0M1562 275h0M1701 367h0M1690 352h0M1645 406h0M1679 278h0M1571 417h0M1666 297h0M1702 420h0M1738 375h0M1725 285h0M1647 402h0M1702 272h0M1557 361h0M1758 371h0M1741 288h0M1673 300h0M1553 377h0M1689 417h0M1716 283h0M1739 358h0M1702 299h0M1765 358h0M1692 385h0M1646 315h0M1638 386h0M1594 296h0M1652 377h0M1558 314h0M1762 314h0M1652 411h0M1718 278h0M1701 371h0M1652 378h0M1660 300h0M1700 291h0M1658 386h0M1654 333h0M1667 274h0M1748 376h0M1578 409h0M1679 391h0M1714 407h0M1600 337h0M1697 350h0M1666 413h0M1558 328h0M1620 422h0M1746 428h0M1605 354h0M1566 329h0M1559 352h0M1759 394h0M1625 315h0M1753 279h0M1733 409h0M1662 411h0M1745 323h0M1691 283h0M1560 416h0M1625 347h0M1762 302h0M1686 280h0M1669 390h0M1578 394h0M1761 404h0M1721 424h0M1704 359h0M1729 401h0M1685 379h0M1737 397h0M1608 432h0M1556 280h0M1617 283h0M1757 329h0M1630 409h0M1663 373h0M1642 345h0M1759 315h0M1661 348h0M1574 294h0M1657 400h0M1640 280h0M1754 293h0M1742 278h0M1689 294h0M1601 339h0M1713 341h0M1637 336h0M1660 316h0M1758 301h0M1572 359h0M1622 387h0M1551 380h0M1625 421h0M1610 341h0M1614 357h0M1606 379h0M1646 361h0M1705 376h0M1576 300h0M1584 378h0M1620 418h0M1595 310h0M1584 294h0M1697 364h0M1639 369h0M1691 342h0M1563 330h0M1756 331h0M1687 285h0M1717 411h0M1600 304h0M1572 382h0M1658 425h0M1760 412h0M1756 406h0M1548 291h0M1763 412h0M1682 371h0M1641 339h0M1575 359h0M1605 290h0M1739 364h0M1741 318h0M1673 315h0M1730 304h0M1561 349h0M1661 403h0M1588 301h0M1686 276h0M1561 385h0M1655 289h0M1649 423h0M1631 361h0M1637 352h0M1552 414h0M1673 327h0M1667 303h0M1550 390h0M1579 362h0M1546 274h0M1580 376h0M1681 431h0M1692 355h0M1552 406h0M1650 306h0M1592 384h0M1582 382h0M1682 386h0M1757 318h0M1697 335h0M1678 313h0M1748 427h0M1757 325h0M1728 380h0M1732 400h0M1645 335h0M1722 377h0M1664 412h0M1550 273h0M1648 286h0M1733 285h0M1742 307h0M1573 393h0M1696 337h0M1677 360h0M1647 337h0M1698 289h0M1699 421h0M1715 358h0M1622 286h0M1563 358h0M1741 411h0M1584 392h0M1725 348h0M1736 301h0M1618 354h0M1707 343h0M1637 307h0M1652 385h0M1624 378h0M1654 272h0M1760 317h0M1666 426h0M1589 281h0M1589 295h0M1735 354h0M1552 315h0M1658 299h0M1595 367h0M1568 355h0M1689 285h0M1666 321h0M1711 370h0M1584 385h0M1726 281h0M1637 316h0M1648 412h0M1669 391h0M1715 315h0M1682 331h0M1650 356h0M1693 298h0M1732 297h0M1625 425h0M1550 394h0M1579 392h0M1544 291h0M1621 390h0M1654 427h0M1733 298h0M1750 415h0M1670 356h0M1587 370h0M1616 395h0M1672 405h0M1562 408h0M1657 373h0M1596 383h0M1574 319h0M1712 273h0M1617 348h0M1650 392h0M1559 353h0M1601 366h0M1745 329h0M1741 390h0M1603 360h0M1753 373h0M1568 355h0M1654 379h0M1608 418h0M1683 282h0M1728 414h0M1611 386h0M1737 413h0M1558 406h0M1599 400h0M1698 346h0M1759 363h0M1709 379h0M1633 351h0M1657 305h0M1700 382h0M1658 363h0M1693 272h0M1643 428h0M1600 404h0M1723 400h0M1739 312h0M1753 331h0M1644 425h0M1666 381h0M1567 271h0M1602 288h0M1729 311h0M1759 380h0M1586 386h0M1614 356h0M1560 405h0M1720 365h0M1699 326h0M1571 323h0M1710 362h0M1573 310h0M1650 273h0M1553 343h0M1573 415h0M1572 392h0M1767 370h0M1630 429h0M1601 425h0M1613 339h0M1614 376h0M1742 382h0M1584 431h0M1706 353h0M1735 288h0M1678 398h0M1718 380h0M1557 348h0M1603 369h0M1632 344h0M1664 366h0M1744 316h0M1734 419h0M1571 329h0M1767 320h0M1558 311h0M1656 273h0M1600 347h0M1697 296h0M1570 324h0M1723 413h0M1552 401h0M1733 376h0M1749 393h0M1553 286h0M1689 294h0M1693 379h0M1595 348h0M1590 412h0M1685 382h0M1683 280h0M1743 397h0M1659 366h0M1654 393h0M1663 315h0M1659 305h0M1544 355h0M1739 387h0M1673 345h0M1658 382h0M1696 290h0M1601 321h0M1623 350h0M1609 432h0M1708 331h0M1701 420h0M1579 372h0M1759 331h0M1741 401h0M1636 327h0M1647 388h0M1745 419h0M1716 299h0M1572 376h0M1635 311h0M1698 324h0M1548 406h0M1713 413h0M1576 427h0M1690 359h0M1607 339h0M1764 294h0M1676 283h0M1762 392h0M1726 392h0M1583 310h0M1551 360h0M1561 301h0M1582 420h0M1579 293h0M1629 401h0M1565 398h0M1665 400h0M1619 277h0M1565 388h0M1657 394h0M1587 316h0M1590 408h0M1701 296h0M1706 277h0M1648 312h0M1715 387h0M1697 302h0M1552 374h0M1699 272h0M1732 416h0M1624 355h0M1690 420h0M1653 276h0M1666 338h0M1618 334h0M1592 321h0M1711 414h0M1646 407h0M1571 354h0M1711 397h0M1630 298h0M1760 369h0M1690 327h0M1568 363h0M1634 415h0M1692 393h0M1671 392h0M1573 432h0M1674 367h0M1585 285h0M1702 388h0M1693 312h0M1653 395h0M1687 418h0M1563 396h0M1545 372h0M1663 283h0M1637 379h0M1739 283h0M1658 399h0M1569 415h0M1755 326h0M1590 294h0M1592 338h0M1702 422h0M1669 425h0M1639 377h0M1543 338h0M1548 292h0M1725 289h0M1549 288h0M1695 336h0M1563 348h0M1627 432h0M1553 300h0M1559 360h0M1760 396h0M1568 358h0M1623 429h0M1702 368h0M1600 341h0M1662 332h0M1670 285h0M1638 430h0M1633 352h0M1713 402h0M1709 332h0M1703 303h0M1682 273h0M1586 299h0M1622 390h0M1547 412h0M1563 424h0M1757 370h0M1732 423h0M1644 409h0M1550 397h0M1689 396h0M1576 284h0M1661 369h0M1698 300h0M1671 427h0M1695 342h0M1637 346h0M1582 416h0M1624 412h0M1670 416h0M1745 386h0M1644 310h0M1670 321h0M1730 277h0M1686 325h0M1637 358h0M1765 431h0M1623 426h0M1587 398h0M1652 394h0M1667 292h0M1646 281h0M1583 429h0M1628 292h0M1641 280h0M1680 307h0M1592 374h0M1752 273h0M1704 365h0M1653 339h0M1545 327h0M1661 325h0M1767 326h0M1734 402h0M1722 350h0M1655 407h0M1569 307h0M1545 350h0M1645 425h0M1753 336h0M1655 288h0M1713 355h0M1580 413h0M1552 302h0M1650 432h0M1574 314h0M1721 325h0M1752 274h0M1596 321h0M1734 287h0M1695 414h0M1763 401h0M1554 349h0M1592 290h0M1597 390h0M1672 292h0M1607 281h0M1752 393h0M1649 426h0M1764 304h0M1600 301h0M1684 367h0M1660 396h0M1662 321h0M1694 424h0M1554 349h0M1574 392h0M1640 406h0M1694 426h0M1673 367h0M1763 401h0M1619 287h0M1751 281h0M1751 422h0M1692 424h0M1680 391h0M1677 307h0M1560 391h0M1645 291h0M1669 313h0M1712 403h0M1641 344h0M1640 328h0M1718 414h0M1610 386h0M1591 272h0M1697 396h0M1617 432h0M1705 323h0M1714 407h0M1574 418h0M1641 315h0M1628 356h0M1662 318h0M1556 373h0M1705 383h0M1632 409h0M1546 291h0M1547 360h0M1661 307h0M1661 271h0M1558 377h0M1657 358h0M1697 419h0M1569 404h0M1615 420h0M1721 427h0M1713 334h0M1661 397h0M1556 358h0M1671 387h0M1620 369h0M1709 332h0M1697 417h0M1626 356h0M1652 406h0M1604 317h0M1631 376h0M1577 429h0M1656 389h0M1672 285h0M1764 366h0M1646 275h0M1598 325h0M1689 299h0M1652 314h0M1670 382h0M1660 392h0M1683 284h0M1754 327h0M1735 308h0M1689 271h0M1729 343h0M1645 351h0M1627 308h0M1699 372h0M1555 314h0M1753 316h0M1757 430h0M1572 307h0M1581 343h0M1607 380h0M1743 282h0M1548 289h0M1572 369h0M1742 414h0M1574 297h0M1746 383h0M1715 281h0M1682 274h0M1709 399h0M1615 271h0M1708 432h0M1683 330h0M1617 402h0M1761 330h0M1592 432h0M1639 342h0M1613 388h0M1762 393h0M1702 405h0M1750 425h0M1663 333h0M1544 356h0M1623 271h0M1767 320h0M1753 273h0M1624 397h0M1695 380h0M1653 285h0M1730 394h0M1650 362h0M1724 351h0M1650 349h0M1709 390h0M1618 396h0M1627 380h0M1628 416h0M1755 396h0M1629 327h0M1640 368h0M1550 359h0M1752 281h0M1706 387h0M1713 339h0M1569 409h0M1741 387h0M1625 350h0M1646 429h0M1684 429h0M1748 299h0M1717 332h0M1678 362h0M1710 319h0M1696 330h0M1719 350h0M1688 432h0M1606 271h0M1745 356h0M1689 405h0M1744 333h0M1766 334h0M1707 405h0M1624 339h0M1625 326h0M1636 408h0M1556 431h0M1721 361h0M1688 319h0M1715 412h0M1629 351h0M1592 311h0M1687 301h0M1543 328h0M1672 300h0M1665 323h0M1602 390h0M1624 391h0M1712 331h0M1550 407h0M1667 364h0M1635 417h0M1745 367h0M1683 337h0M1672 405h0M1572 407h0M1613 311h0M1551 288h0M1603 356h0M1755 298h0M1608 331h0M1687 328h0M1694 295h0M1552 364h0M1706 292h0M1553 379h0M1579 337h0M1562 328h0M1741 418h0M1713 374h0M1675 353h0M1732 319h0M1634 381h0M1760 326h0M1640 336h0M1590 328h0M1721 301h0M1650 317h0M1673 396h0M1569 349h0M1585 375h0M1696 306h0M1595 320h0M1617 415h0M1740 399h0M1632 345h0M1563 334h0M1587 407h0M1611 349h0M1554 382h0M1659 400h0M1706 391h0M1654 329h0M1560 360h0M1717 290h0M1565 382h0M1649 399h0M1635 430h0M1740 323h0M1664 366h0M1644 403h0M1702 403h0M1600 352h0M1665 365h0M1578 409h0M1668 390h0M1710 371h0M1749 280h0M1592 275h0M1573 299h0M1665 344h0M1647 272h0M1662 312h0M1579 390h0M1740 323h0M1689 393h0M1652 415h0M1576 387h0M1747 416h0M1734 341h0M1658 408h0M1628 312h0M1550 304h0M1574 421h0M1612 328h0M1763 382h0M1608 424h0M1638 428h0M1604 278h0M1746 283h0M1721 367h0M1765 361h0M1756 421h0M1691 274h0M1698 394h0M1586 286h0M1558 359h0M1566 408h0M1636 432h0M1708 340h0M1584 340h0M1680 410h0M1744 323h0M1548 378h0M1698 375h0M1724 402h0M1684 404h0M1571 424h0M1693 286h0M1581 374h0M1612 422h0M1606 349h0M1656 423h0M1671 424h0M1742 392h0M1666 278h0M1592 376h0M1569 375h0M1621 333h0M1728 407h0M1711 343h0M1664 430h0M1746 278h0M1569 377h0M1587 393h0M1698 297h0M1748 432h0M1691 430h0M1724 347h0M1729 423h0M1700 284h0M1580 344h0M1574 347h0M1565 388h0M1591 422h0M1567 373h0M1688 303h0M1682 310h0M1618 413h0M1554 348h0M1659 340h0M1543 288h0M1733 344h0M1608 344h0M1554 284h0M1730 394h0M1587 322h0M1560 322h0M1660 392h0M1657 408h0M1768 362h0M1552 292h0M1695 292h0M1746 279h0M1555 432h0M1634 360h0M1677 290h0M1618 330h0M1709 397h0M1699 300h0M1647 419h0M1767 275h0M1699 345h0M1662 407h0M1564 367h0M1614 393h0M1704 338h0M1577 394h0M1701 362h0M1711 424h0M1598 382h0M1725 314h0M1747 321h0M1759 365h0M1762 414h0M1719 331h0M1646 366h0M1724 338h0M1746 306h0M1660 294h0M1581 318h0M1671 371h0M1632 400h0M1666 381h0M1562 324h0M1547 296h0M1735 292h0M1677 332h0M1694 412h0M1730 427h0M1715 316h0M1617 355h0M1734 287h0M1744 379h0M1677 336h0M1643 386h0M1741 285h0M1726 336h0M1593 272h0M1639 368h0M1555 272h0M1600 336h0M1637 385h0M1607 328h0M1656 309h0M1640 392h0M1657 280h0M1621 363h0M1595 333h0M1669 330h0M1584 412h0M1557 417h0M1564 360h0M1666 337h0M1684 414h0M1615 280h0M1588 413h0M1678 393h0M1631 323h0M1698 363h0M1749 297h0M1620 382h0M1567 374h0M1617 383h0M1610 301h0M1603 388h0M1703 418h0M1600 387h0M1653 342h0M1549 307h0M1712 345h0M1765 271h0M1633 357h0M1555 412h0M1576 365h0M1604 332h0M1648 317h0M1581 379h0M1684 284h0M1762 288h0M1593 316h0M1625 350h0M1747 287h0M1672 372h0M1601 328h0M1643 414h0M1718 348h0M1558 328h0M1727 341h0M1631 374h0M1552 375h0M1697 289h0M1637 409h0M1602 356h0M1621 360h0M1631 326h0M1751 383h0M1768 325h0M1648 330h0M1738 330h0M1696 299h0M1665 314h0M1749 330h0M1758 362h0M1620 360h0M1753 383h0M1729 362h0M1682 293h0M1611 394h0M1662 322h0M1767 396h0M1696 407h0M1700 333h0M1758 417h0M1694 341h0M1656 278h0M1648 401h0M1547 335h0M1599 369h0M1623 369h0M1745 337h0M1568 273h0M1731 346h0M1642 275h0M1566 271h0M1745 278h0M1615 347h0M1672 307h0M1688 374h0M1765 286h0M1609 287h0M1608 305h0M1726 399h0M1548 366h0M1639 404h0M1663 328h0M1655 347h0M1585 379h0M1731 376h0M1545 336h0M1716 292h0M1657 381h0M1663 324h0M1546 385h0M1580 368h0M1661 388h0M1568 428h0M1712 412h0M1584 387h0M1635 424h0M1642 346h0M1704 295h0M1745 324h0M1743 294h0M1570 366h0M1597 342h0M1588 388h0M1709 382h0M1573 278h0M1674 284h0M1704 359h0M1729 353h0M1608 280h0M1701 378h0M1750 331h0M1574 425h0M1715 416h0M1654 350h0M1630 398h0M1599 428h0M1590 316h0M1730 308h0M1706 315h0M1635 347h0M1752 296h0M1548 342h0M1710 359h0" stroke="#9f6cc6" stroke-width="5.0" stroke-linecap="round" opacity="0.85"/>
<path d="M1667 336h0M1723 285h0M1617 422h0M1738 420h0M1715 357h0M1720 363h0M1569 312h0M1565 412h0M1615 337h0M1664 287h0M1702 399h0M1722 413h0M1699 331h0M1647 402h0M1619 323h0M1658 391h0M1742 328h0M1699 336h0M1737 394h0M1668 329h0M1611 284h0M1587 427h0M1551 402h0M1662 360h0M1664 337h0M1668 285h0M1750 287h0M1574 379h0M1687 401h0M1699 421h0M1554 272h0M1596 397h0M1577 357h0M1717 296h0M1662 416h0M1711 335h0M1651 316h0M1760 397h0M1696 320h0M1708 349h0M1723 329h0M1742 381h0M1644 362h0M1724 356h0M1760 272h0M1745 386h0M1653 408h0M1689 278h0M1615 313h0M1644 283h0M1643 320h0M1679 327h0M1763 425h0M1707 404h0M1560 291h0M1765 406h0M1759 306h0M1593 274h0M1604 280h0M1662 319h0M1610 390h0M1698 386h0M1649 346h0M1607 277h0M1648 370h0M1585 410h0M1741 409h0M1727 350h0M1582 314h0M1709 430h0M1568 272h0M1622 327h0M1678 289h0M1617 320h0M1582 427h0M1676 404h0M1557 358h0M1708 430h0M1754 287h0M1627 432h0M1663 426h0M1600 275h0M1756 313h0M1669 329h0M1673 422h0M1756 413h0M1601 403h0M1637 423h0M1600 330h0M1674 309h0M1703 376h0M1564 420h0M1559 383h0M1768 400h0M1646 399h0M1762 421h0M1663 315h0M1660 429h0M1708 379h0M1733 337h0M1669 408h0M1588 410h0M1548 358h0M1672 294h0M1751 342h0M1584 337h0M1676 340h0M1543 285h0M1704 292h0M1742 299h0M1596 366h0M1764 304h0M1559 383h0M1567 307h0M1642 430h0M1616 322h0M1650 297h0M1722 300h0M1565 372h0M1645 419h0M1566 391h0M1694 330h0M1571 370h0M1714 347h0M1649 382h0M1680 339h0M1745 432h0M1668 324h0M1593 373h0M1709 311h0M1699 432h0M1631 423h0M1641 376h0M1738 303h0M1621 430h0M1557 320h0M1650 391h0M1685 421h0M1694 271h0M1559 276h0M1640 275h0M1661 373h0M1588 409h0M1636 426h0M1623 371h0M1665 313h0M1719 271h0M1599 322h0M1742 352h0M1610 369h0M1725 288h0M1719 334h0M1661 339h0M1642 431h0M1750 419h0M1709 384h0M1574 276h0M1730 380h0M1685 321h0M1603 420h0M1663 274h0M1619 327h0M1558 429h0M1747 402h0M1725 398h0M1721 290h0M1546 286h0M1733 405h0M1659 309h0M1736 290h0M1616 271h0M1724 365h0M1766 396h0M1752 427h0M1561 392h0M1594 323h0M1620 431h0M1556 341h0M1571 432h0M1655 384h0M1660 395h0M1619 337h0M1711 384h0M1743 321h0M1734 390h0M1672 337h0M1671 283h0M1564 321h0M1570 278h0M1705 389h0M1682 304h0M1706 404h0M1682 307h0M1670 334h0M1603 295h0M1581 313h0M1658 280h0M1675 398h0M1722 291h0M1568 307h0M1691 292h0M1547 351h0M1544 312h0M1629 304h0M1543 313h0M1598 323h0M1636 329h0M1616 274h0M1732 390h0M1654 271h0M1595 416h0M1646 304h0M1728 415h0M1570 352h0M1669 290h0M1615 371h0M1695 372h0M1683 332h0M1558 273h0M1732 411h0M1747 283h0M1716 298h0M1621 303h0M1737 403h0M1601 364h0M1695 308h0M1629 287h0M1723 300h0M1573 316h0M1687 374h0M1661 409h0M1713 304h0M1663 298h0M1597 294h0M1560 327h0M1743 377h0M1562 306h0M1676 356h0M1549 286h0M1670 368h0M1561 396h0M1597 366h0M1662 326h0M1756 335h0M1638 358h0M1732 430h0M1716 358h0M1705 374h0M1759 428h0M1714 306h0M1671 342h0M1595 397h0M1592 385h0M1653 340h0M1702 388h0M1766 432h0M1723 313h0M1644 328h0M1548 347h0M1663 320h0M1566 349h0M1558 298h0M1643 327h0M1656 356h0M1630 292h0M1669 428h0M1606 327h0M1615 391h0M1654 399h0M1544 292h0M1589 330h0M1642 364h0M1760 374h0M1677 405h0M1618 276h0M1759 357h0M1674 281h0M1711 331h0M1688 316h0M1750 330h0M1605 415h0M1593 314h0M1653 429h0M1569 305h0M1722 283h0M1636 397h0M1704 399h0M1569 415h0M1623 402h0M1649 415h0M1651 312h0M1577 351h0M1554 297h0M1740 363h0M1738 295h0M1651 346h0M1567 313h0M1751 388h0M1658 369h0M1737 425h0M1677 279h0M1740 297h0M1597 293h0M1658 365h0M1647 347h0M1574 387h0M1664 321h0M1731 423h0M1751 430h0M1558 333h0M1644 312h0M1711 417h0M1574 352h0M1761 414h0M1644 287h0M1646 354h0M1720 301h0M1606 430h0M1545 369h0M1564 392h0M1638 420h0M1593 413h0M1594 278h0M1762 328h0M1704 276h0M1659 358h0M1565 364h0M1643 324h0M1730 382h0M1570 288h0M1602 374h0M1761 427h0M1738 291h0M1721 394h0M1649 432h0M1678 290h0M1591 292h0M1680 372h0M1736 272h0M1722 416h0M1670 369h0M1544 369h0M1681 395h0M1659 289h0M1593 376h0M1722 359h0M1623 427h0M1674 309h0M1670 409h0M1626 341h0M1673 430h0M1687 300h0M1674 323h0M1649 386h0M1547 353h0M1613 368h0M1728 346h0M1685 317h0M1600 353h0M1663 307h0M1715 351h0M1623 312h0M1732 417h0M1755 311h0M1559 373h0M1548 409h0M1696 325h0M1642 381h0M1696 365h0M1566 306h0M1600 276h0M1668 419h0M1648 354h0M1606 346h0M1754 350h0M1622 303h0M1752 394h0M1562 275h0M1701 367h0M1690 352h0M1645 406h0M1679 278h0M1571 417h0M1666 297h0M1702 420h0M1738 375h0M1725 285h0M1647 402h0M1702 272h0M1557 361h0M1758 371h0M1741 288h0M1673 300h0M1553 377h0M1689 417h0M1716 283h0M1739 358h0M1702 299h0M1765 358h0M1692 385h0M1646 315h0M1638 386h0M1594 296h0M1652 377h0M1558 314h0M1762 314h0M1652 411h0M1718 278h0M1701 371h0M1652 378h0M1660 300h0M1700 291h0M1658 386h0M1654 333h0M1667 274h0M1748 376h0M1578 409h0M1679 391h0M1714 407h0M1600 337h0M1697 350h0M1666 413h0M1558 328h0M1620 422h0M1746 428h0M1605 354h0M1566 329h0M1559 352h0M1759 394h0M1625 315h0M1753 279h0M1733 409h0M1662 411h0M1745 323h0M1691 283h0M1560 416h0M1625 347h0M1762 302h0M1686 280h0M1669 390h0M1578 394h0M1761 404h0M1721 424h0M1704 359h0M1729 401h0M1685 379h0M1737 397h0M1608 432h0M1556 280h0M1617 283h0M1757 329h0M1630 409h0M1663 373h0M1642 345h0M1759 315h0M1661 348h0M1574 294h0M1657 400h0M1640 280h0M1754 293h0M1742 278h0M1689 294h0M1601 339h0M1713 341h0M1637 336h0M1660 316h0M1758 301h0M1572 359h0M1622 387h0M1551 380h0M1625 421h0M1610 341h0M1614 357h0M1606 379h0M1646 361h0M1705 376h0M1576 300h0M1584 378h0M1620 418h0M1595 310h0M1584 294h0M1697 364h0M1639 369h0M1691 342h0M1563 330h0M1756 331h0M1687 285h0M1717 411h0M1600 304h0M1572 382h0M1658 425h0M1760 412h0M1756 406h0M1548 291h0M1763 412h0M1682 371h0M1641 339h0M1575 359h0M1605 290h0M1739 364h0M1741 318h0M1673 315h0M1730 304h0M1561 349h0M1661 403h0M1588 301h0M1686 276h0M1561 385h0M1655 289h0M1649 423h0M1631 361h0M1637 352h0M1552 414h0M1673 327h0M1667 303h0M1550 390h0M1579 362h0M1546 274h0M1580 376h0M1681 431h0M1692 355h0M1552 406h0M1650 306h0M1592 384h0M1582 382h0M1682 386h0M1757 318h0M1697 335h0M1678 313h0M1748 427h0M1757 325h0M1728 380h0M1732 400h0M1645 335h0M1722 377h0M1664 412h0M1550 273h0M1648 286h0M1733 285h0M1742 307h0M1573 393h0M1696 337h0M1677 360h0M1647 337h0M1698 289h0M1699 421h0M1715 358h0M1622 286h0M1563 358h0M1741 411h0M1584 392h0M1725 348h0M1736 301h0M1618 354h0M1707 343h0M1637 307h0M1652 385h0M1624 378h0M1654 272h0M1760 317h0M1666 426h0M1589 281h0M1589 295h0M1735 354h0M1552 315h0M1658 299h0M1595 367h0M1568 355h0M1689 285h0M1666 321h0M1711 370h0M1584 385h0M1726 281h0M1637 316h0M1648 412h0M1669 391h0M1715 315h0M1682 331h0M1650 356h0M1693 298h0M1732 297h0M1625 425h0M1550 394h0M1579 392h0M1544 291h0M1621 390h0M1654 427h0M1733 298h0M1750 415h0M1670 356h0M1587 370h0M1616 395h0M1672 405h0M1562 408h0M1657 373h0M1596 383h0M1574 319h0M1712 273h0M1617 348h0M1650 392h0M1559 353h0M1601 366h0M1745 329h0M1741 390h0M1603 360h0M1753 373h0M1568 355h0M1654 379h0M1608 418h0M1683 282h0M1728 414h0M1611 386h0M1737 413h0M1558 406h0M1599 400h0M1698 346h0M1759 363h0M1709 379h0M1633 351h0M1657 305h0M1700 382h0M1658 363h0M1693 272h0M1643 428h0M1600 404h0M1723 400h0M1739 312h0M1753 331h0M1644 425h0M1666 381h0M1567 271h0M1602 288h0M1729 311h0M1759 380h0M1586 386h0M1614 356h0M1560 405h0M1720 365h0M1699 326h0M1571 323h0M1710 362h0M1573 310h0M1650 273h0M1553 343h0M1573 415h0M1572 392h0M1767 370h0M1630 429h0M1601 425h0M1613 339h0M1614 376h0M1742 382h0M1584 431h0M1706 353h0M1735 288h0M1678 398h0M1718 380h0M1557 348h0M1603 369h0M1632 344h0M1664 366h0M1744 316h0M1734 419h0M1571 329h0M1767 320h0M1558 311h0M1656 273h0M1600 347h0M1697 296h0M1570 324h0M1723 413h0M1552 401h0M1733 376h0M1749 393h0M1553 286h0M1689 294h0M1693 379h0M1595 348h0M1590 412h0M1685 382h0M1683 280h0M1743 397h0M1659 366h0M1654 393h0M1663 315h0M1659 305h0M1544 355h0M1739 387h0M1673 345h0M1658 382h0M1696 290h0M1601 321h0M1623 350h0M1609 432h0M1708 331h0M1701 420h0M1579 372h0M1759 331h0M1741 401h0M1636 327h0M1647 388h0M1745 419h0M1716 299h0M1572 376h0M1635 311h0M1698 324h0M1548 406h0M1713 413h0M1576 427h0M1690 359h0M1607 339h0M1764 294h0M1676 283h0M1762 392h0M1726 392h0M1583 310h0M1551 360h0M1561 301h0M1582 420h0M1579 293h0M1629 401h0M1565 398h0M1665 400h0M1619 277h0M1565 388h0M1657 394h0M1587 316h0M1590 408h0M1701 296h0M1706 277h0M1648 312h0M1715 387h0M1697 302h0M1552 374h0M1699 272h0M1732 416h0M1624 355h0M1690 420h0M1653 276h0M1666 338h0M1618 334h0M1592 321h0M1711 414h0M1646 407h0M1571 354h0M1711 397h0M1630 298h0M1760 369h0M1690 327h0M1568 363h0M1634 415h0M1692 393h0M1671 392h0M1573 432h0M1674 367h0M1585 285h0M1702 388h0M1693 312h0M1653 395h0M1687 418h0M1563 396h0M1545 372h0M1663 283h0M1637 379h0M1739 283h0M1658 399h0M1569 415h0M1755 326h0M1590 294h0M1592 338h0M1702 422h0M1669 425h0M1639 377h0M1543 338h0M1548 292h0M1725 289h0M1549 288h0M1695 336h0M1563 348h0M1627 432h0M1553 300h0M1559 360h0M1760 396h0M1568 358h0M1623 429h0M1702 368h0M1600 341h0M1662 332h0M1670 285h0M1638 430h0M1633 352h0M1713 402h0M1709 332h0M1703 303h0M1682 273h0M1586 299h0M1622 390h0M1547 412h0M1563 424h0M1757 370h0M1732 423h0M1644 409h0M1550 397h0M1689 396h0M1576 284h0M1661 369h0M1698 300h0M1671 427h0M1695 342h0M1637 346h0M1582 416h0M1624 412h0M1670 416h0M1745 386h0M1644 310h0M1670 321h0M1730 277h0M1686 325h0M1637 358h0M1765 431h0M1623 426h0M1587 398h0M1652 394h0M1667 292h0M1646 281h0M1583 429h0M1628 292h0M1641 280h0M1680 307h0M1592 374h0M1752 273h0M1704 365h0M1653 339h0M1545 327h0M1661 325h0M1767 326h0M1734 402h0M1722 350h0M1655 407h0M1569 307h0M1545 350h0M1645 425h0M1753 336h0M1655 288h0M1713 355h0M1580 413h0M1552 302h0M1650 432h0M1574 314h0M1721 325h0M1752 274h0M1596 321h0M1734 287h0M1695 414h0M1763 401h0M1554 349h0M1592 290h0M1597 390h0M1672 292h0M1607 281h0M1752 393h0M1649 426h0M1764 304h0M1600 301h0M1684 367h0M1660 396h0M1662 321h0M1694 424h0M1554 349h0M1574 392h0M1640 406h0M1694 426h0M1673 367h0M1763 401h0M1619 287h0M1751 281h0M1751 422h0M1692 424h0M1680 391h0M1677 307h0M1560 391h0M1645 291h0M1669 313h0M1712 403h0M1641 344h0M1640 328h0M1718 414h0M1610 386h0M1591 272h0M1697 396h0M1617 432h0M1705 323h0M1714 407h0M1574 418h0M1641 315h0M1628 356h0M1662 318h0M1556 373h0M1705 383h0M1632 409h0M1546 291h0M1547 360h0M1661 307h0M1661 271h0M1558 377h0M1657 358h0M1697 419h0M1569 404h0M1615 420h0M1721 427h0M1713 334h0M1661 397h0M1556 358h0M1671 387h0M1620 369h0M1709 332h0M1697 417h0M1626 356h0M1652 406h0M1604 317h0M1631 376h0M1577 429h0M1656 389h0M1672 285h0M1764 366h0M1646 275h0M1598 325h0M1689 299h0M1652 314h0M1670 382h0M1660 392h0M1683 284h0M1754 327h0M1735 308h0M1689 271h0M1729 343h0M1645 351h0M1627 308h0M1699 372h0M1555 314h0M1753 316h0M1757 430h0M1572 307h0M1581 343h0M1607 380h0M1743 282h0M1548 289h0M1572 369h0M1742 414h0M1574 297h0M1746 383h0M1715 281h0M1682 274h0M1709 399h0M1615 271h0M1708 432h0M1683 330h0M1617 402h0M1761 330h0M1592 432h0M1639 342h0M1613 388h0M1762 393h0M1702 405h0M1750 425h0M1663 333h0M1544 356h0M1623 271h0M1767 320h0M1753 273h0M1624 397h0M1695 380h0M1653 285h0M1730 394h0M1650 362h0M1724 351h0M1650 349h0M1709 390h0M1618 396h0M1627 380h0M1628 416h0M1755 396h0M1629 327h0M1640 368h0M1550 359h0M1752 281h0M1706 387h0M1713 339h0M1569 409h0M1741 387h0M1625 350h0M1646 429h0M1684 429h0M1748 299h0M1717 332h0M1678 362h0M1710 319h0M1696 330h0M1719 350h0M1688 432h0M1606 271h0M1745 356h0M1689 405h0M1744 333h0M1766 334h0M1707 405h0M1624 339h0M1625 326h0M1636 408h0M1556 431h0M1721 361h0M1688 319h0M1715 412h0M1629 351h0M1592 311h0M1687 301h0M1543 328h0M1672 300h0M1665 323h0M1602 390h0M1624 391h0M1712 331h0M1550 407h0M1667 364h0M1635 417h0M1745 367h0M1683 337h0M1672 405h0M1572 407h0M1613 311h0M1551 288h0M1603 356h0M1755 298h0M1608 331h0M1687 328h0M1694 295h0M1552 364h0M1706 292h0M1553 379h0M1579 337h0M1562 328h0M1741 418h0M1713 374h0M1675 353h0M1732 319h0M1634 381h0M1760 326h0M1640 336h0M1590 328h0M1721 301h0M1650 317h0M1673 396h0M1569 349h0M1585 375h0M1696 306h0M1595 320h0M1617 415h0M1740 399h0M1632 345h0M1563 334h0M1587 407h0M1611 349h0M1554 382h0M1659 400h0M1706 391h0M1654 329h0M1560 360h0M1717 290h0M1565 382h0M1649 399h0M1635 430h0M1740 323h0M1664 366h0M1644 403h0M1702 403h0M1600 352h0M1665 365h0M1578 409h0M1668 390h0M1710 371h0M1749 280h0M1592 275h0M1573 299h0M1665 344h0M1647 272h0M1662 312h0M1579 390h0M1740 323h0M1689 393h0M1652 415h0M1576 387h0M1747 416h0M1734 341h0M1658 408h0M1628 312h0M1550 304h0M1574 421h0M1612 328h0M1763 382h0M1608 424h0M1638 428h0M1604 278h0M1746 283h0M1721 367h0M1765 361h0M1756 421h0M1691 274h0M1698 394h0M1586 286h0M1558 359h0M1566 408h0M1636 432h0M1708 340h0M1584 340h0M1680 410h0M1744 323h0M1548 378h0M1698 375h0M1724 402h0M1684 404h0M1571 424h0M1693 286h0M1581 374h0M1612 422h0M1606 349h0M1656 423h0M1671 424h0M1742 392h0M1666 278h0M1592 376h0M1569 375h0M1621 333h0M1728 407h0M1711 343h0M1664 430h0M1746 278h0M1569 377h0M1587 393h0M1698 297h0M1748 432h0M1691 430h0M1724 347h0M1729 423h0M1700 284h0M1580 344h0M1574 347h0M1565 388h0M1591 422h0M1567 373h0M1688 303h0M1682 310h0M1618 413h0M1554 348h0M1659 340h0M1543 288h0M1733 344h0M1608 344h0M1554 284h0M1730 394h0M1587 322h0M1560 322h0M1660 392h0M1657 408h0M1768 362h0M1552 292h0M1695 292h0M1746 279h0M1555 432h0M1634 360h0M1677 290h0M1618 330h0M1709 397h0M1699 300h0M1647 419h0M1767 275h0M1699 345h0M1662 407h0M1564 367h0M1614 393h0M1704 338h0M1577 394h0M1701 362h0M1711 424h0M1598 382h0M1725 314h0M1747 321h0M1759 365h0M1762 414h0M1719 331h0M1646 366h0M1724 338h0M1746 306h0M1660 294h0M1581 318h0M1671 371h0M1632 400h0M1666 381h0M1562 324h0M1547 296h0M1735 292h0M1677 332h0M1694 412h0M1730 427h0M1715 316h0M1617 355h0M1734 287h0M1744 379h0M1677 336h0M1643 386h0M1741 285h0M1726 336h0M1593 272h0M1639 368h0M1555 272h0M1600 336h0M1637 385h0M1607 328h0M1656 309h0M1640 392h0M1657 280h0M1621 363h0M1595 333h0M1669 330h0M1584 412h0M1557 417h0M1564 360h0M1666 337h0M1684 414h0M1615 280h0M1588 413h0M1678 393h0M1631 323h0M1698 363h0M1749 297h0M1620 382h0M1567 374h0M1617 383h0M1610 301h0M1603 388h0M1703 418h0M1600 387h0M1653 342h0M1549 307h0M1712 345h0M1765 271h0M1633 357h0M1555 412h0M1576 365h0M1604 332h0M1648 317h0M1581 379h0M1684 284h0M1762 288h0M1593 316h0M1625 350h0M1747 287h0M1672 372h0M1601 328h0M1643 414h0M1718 348h0M1558 328h0M1727 341h0M1631 374h0M1552 375h0M1697 289h0M1637 409h0M1602 356h0M1621 360h0M1631 326h0M1751 383h0M1768 325h0M1648 330h0M1738 330h0M1696 299h0M1665 314h0M1749 330h0M1758 362h0M1620 360h0M1753 383h0M1729 362h0M1682 293h0M1611 394h0M1662 322h0M1767 396h0M1696 407h0M1700 333h0M1758 417h0M1694 341h0M1656 278h0M1648 401h0M1547 335h0M1599 369h0M1623 369h0M1745 337h0M1568 273h0M1731 346h0M1642 275h0M1566 271h0M1745 278h0M1615 347h0M1672 307h0M1688 374h0M1765 286h0M1609 287h0M1608 305h0M1726 399h0M1548 366h0M1639 404h0M1663 328h0M1655 347h0M1585 379h0M1731 376h0M1545 336h0M1716 292h0M1657 381h0M1663 324h0M1546 385h0M1580 368h0M1661 388h0M1568 428h0M1712 412h0M1584 387h0M1635 424h0M1642 346h0M1704 295h0M1745 324h0M1743 294h0M1570 366h0M1597 342h0M1588 388h0M1709 382h0M1573 278h0M1674 284h0M1704 359h0M1729 353h0M1608 280h0M1701 378h0M1750 331h0M1574 425h0M1715 416h0M1654 350h0M1630 398h0M1599 428h0M1590 316h0M1730 308h0M1706 315h0M1635 347h0M1752 296h0M1548 342h0M1710 359h0" stroke="#55268a" stroke-width="3.0" stroke-linecap="round" opacity="1.0"/>
<path d="M2001 430h0M1938 313h0M1875 281h0M1873 392h0M1855 300h0M1906 416h0M1836 402h0M1879 342h0M1982 319h0M1885 429h0M1853 358h0M1931 325h0M1926 339h0M1972 361h0M1948 363h0M1866 323h0M1787 395h0M1903 348h0M1943 281h0M1812 387h0M1980 353h0M2003 410h0M1876 326h0M1882 395h0M1888 387h0M2008 392h0M1900 391h0M1896 365h0M1912 361h0M1807 362h0M1994 310h0M1959 312h0M1945 316h0M1919 396h0M1791 407h0M1909 391h0M1824 282h0M1836 373h0M1875 394h0M1817 369h0M1930 309h0M1908 420h0M1935 305h0M1950 370h0M1870 383h0M1956 381h0M1833 427h0M1990 341h0M1993 431h0M1862 301h0M1839 350h0M1817 309h0M1949 274h0M1922 337h0M1944 312h0M1892 305h0M1788 411h0M1867 318h0M1995 330h0M1906 293h0M1969 419h0M1836 279h0M1813 376h0M1907 330h0M1945 306h0M1921 338h0M1816 396h0M1826 400h0M1956 341h0M1886 304h0M1821 394h0M1882 295h0M1820 361h0M1960 276h0M1993 384h0M1972 339h0M1883 286h0M1843 412h0M1848 416h0M1972 420h0M1816 339h0M1972 321h0M1839 274h0M1905 360h0M1832 312h0M1927 298h0M1962 412h0M1879 292h0M1944 361h0M1845 311h0M1948 419h0M1863 365h0M1834 346h0M1915 320h0M1921 358h0M1794 290h0M1878 294h0M1907 367h0M1925 414h0M1921 395h0M1810 412h0M1994 366h0M1971 360h0M1882 296h0M1893 386h0M1964 415h0M1901 424h0M1868 274h0M1880 358h0M1959 308h0M1790 388h0M1815 355h0M1959 307h0M2000 280h0M1818 367h0M1830 278h0M1905 327h0M1874 335h0M1983 317h0M1940 362h0M1848 418h0M1842 319h0M1828 384h0M1932 271h0M1794 403h0M1980 285h0M1834 340h0M1972 321h0M2000 285h0M1989 280h0M1920 428h0M1947 419h0M1863 425h0M1988 315h0M1958 419h0M1832 334h0M1958 363h0M1991 341h0M1885 298h0M1846 412h0M1843 416h0M1965 363h0M1852 271h0M1811 405h0M2001 426h0M1847 422h0M1884 330h0M1989 403h0M1937 317h0M1827 363h0M1855 305h0M1982 330h0M1785 272h0M1909 275h0M1910 275h0M1890 371h0M1906 306h0M1974 428h0M1968 421h0M2004 330h0M1907 338h0M1962 298h0M1835 344h0M1907 431h0M1860 271h0M1901 368h0M1974 324h0M1921 425h0M2004 362h0M1807 360h0M1822 316h0M1851 331h0M1878 428h0M1903 359h0M1875 359h0M1968 355h0M1900 327h0M1826 305h0M1804 317h0M1793 338h0M1913 289h0M1955 344h0M1925 340h0M1964 381h0M1811 359h0M1844 391h0M1868 307h0M1792 430h0M1811 311h0M1994 279h0M1877 341h0M1938 397h0M2004 322h0M1803 305h0M1785 314h0M1924 415h0M1806 314h0M1985 366h0M1874 282h0M1797 306h0M1923 280h0M1898 403h0M1785 317h0M1877 369h0M1950 380h0M1882 325h0M1926 345h0M1994 356h0M1916 378h0M1893 350h0M1853 351h0M2004 402h0M1878 340h0M1882 312h0M1893 363h0M1807 377h0M1944 302h0M1840 277h0M1891 380h0M1877 366h0M1921 278h0M1796 353h0M1993 385h0M1885 313h0M1814 375h0M1957 334h0M1803 315h0M1944 395h0M1789 304h0M1985 385h0M1804 317h0M1873 348h0M1790 420h0M1904 313h0M1913 422h0M1946 410h0M1981 378h0M1797 321h0M1915 338h0M1833 281h0M1980 379h0M1852 347h0M1837 417h0M1965 424h0M1871 353h0M1857 327h0M1999 428h0M2009 418h0M1895 377h0M1989 340h0M1992 400h0M1848 329h0M1940 297h0M1842 302h0M1808 418h0M2009 403h0M1898 391h0M1939 342h0M1902 291h0M1839 326h0M1838 412h0M1961 422h0M1960 302h0M1894 406h0M1966 307h0M1893 366h0M1786 310h0M1952 378h0M1885 363h0M1903 327h0M1803 391h0M1959 341h0M1958 405h0M1940 401h0M2002 277h0M1997 344h0M1960 390h0M1806 366h0M1804 389h0M1861 331h0M1846 402h0M1929 319h0M1951 301h0M1965 368h0M1957 370h0M2007 383h0M1889 366h0M1965 403h0M2002 382h0M1898 334h0M1794 397h0M1881 334h0M1796 351h0M1987 315h0M1952 393h0M1900 328h0M1989 372h0M1965 305h0M1890 309h0M1965 367h0M1873 333h0M1832 305h0M1940 321h0M1808 333h0M1886 431h0M1871 336h0M2004 387h0M1888 335h0M1823 368h0M1862 378h0M1961 336h0M1870 283h0M1832 371h0M1966 293h0M2005 419h0M1867 358h0M1936 324h0M1867 387h0M1894 341h0M1911 289h0M1890 318h0M1822 355h0M1943 356h0M1897 379h0M1879 430h0M1832 272h0M1912 383h0M1870 335h0M1861 310h0M1963 410h0M1847 362h0M1888 292h0M1950 357h0M2008 418h0M1988 313h0M1809 402h0M1943 279h0M1804 411h0M1900 343h0M2004 398h0M1835 385h0M1871 346h0M1855 307h0M1852 315h0M1911 402h0M1937 296h0M1999 421h0M1974 324h0M1972 374h0M1791 332h0M1942 359h0M1998 399h0M1973 429h0M1862 418h0M1785 400h0M1804 351h0M1884 282h0M1928 398h0M1835 310h0M1958 356h0M1788 320h0M1997 315h0M1849 344h0M1984 402h0M1871 378h0M1790 281h0M1794 409h0M1826 279h0M1803 283h0M1849 364h0M1932 317h0M1900 324h0M1915 288h0M1925 271h0M1993 304h0M1909 301h0M1884 313h0M1929 397h0M1975 428h0M1887 360h0M1863 317h0M1899 428h0M1797 392h0M1857 367h0M1844 387h0M1785 286h0M1989 284h0M1874 379h0M1792 421h0M1831 426h0M1882 365h0M1920 285h0M1898 392h0M1962 390h0M1899 277h0M1957 287h0M1999 371h0M1950 369h0M1912 412h0M1798 332h0M1833 367h0M1845 419h0M1947 340h0M1868 389h0M1966 282h0M1991 410h0M1790 296h0M1991 403h0M1850 400h0M1915 311h0M1939 338h0M1816 408h0M1946 310h0M1881 381h0M1868 312h0M1903 424h0M1805 311h0M1893 430h0M2008 272h0M1929 293h0M2009 427h0M1801 416h0M1846 429h0M1814 416h0M1900 354h0M1825 350h0M1956 361h0M2006 357h0M1988 292h0M1951 368h0M1984 325h0M1889 402h0M1842 331h0M1975 376h0M1895 273h0M1957 338h0M1838 333h0M1815 407h0M1964 427h0M1936 297h0M1880 432h0M1784 326h0M1818 298h0M1846 371h0M1799 411h0M1881 299h0M1807 356h0M1863 352h0M1808 328h0M1898 284h0M1897 407h0M1917 291h0M1927 284h0M1816 272h0M1904 299h0M1847 290h0M1986 294h0M1936 401h0M1886 365h0M1859 403h0M1816 348h0M1825 349h0M1796 343h0M1991 360h0M1924 395h0M1928 424h0M1816 313h0M1945 365h0M1979 396h0M1859 298h0M1846 335h0M1932 373h0M1924 280h0M1986 385h0M1989 370h0M1930 414h0M1953 373h0M1793 274h0M1946 408h0M1871 305h0M1884 407h0M1955 292h0M1830 304h0M1952 311h0M1985 337h0M1828 338h0M1816 413h0M1789 338h0M1870 277h0M1834 431h0M1978 339h0M1981 418h0M1978 388h0M1912 353h0M1946 368h0M2004 300h0M1976 317h0M1872 364h0M2003 310h0M1976 377h0M1992 319h0M1934 414h0M1984 384h0M1974 373h0M1909 302h0M1901 429h0M1998 277h0M1853 309h0M1974 300h0M1957 302h0M1861 428h0M1812 365h0M1846 393h0M1799 380h0M1842 426h0M1858 379h0M1790 423h0M1927 419h0M1952 280h0M1985 378h0M1863 282h0M1931 280h0M1838 278h0M1823 392h0M1844 430h0M1847 400h0M1950 375h0M1921 293h0M1971 420h0M1904 301h0M1803 312h0M2004 322h0M1847 356h0M1792 398h0M1960 320h0M1791 416h0M1967 394h0M1832 425h0M1929 276h0M2006 384h0M1928 275h0M1832 399h0M1787 302h0M1800 365h0M1815 398h0M1886 397h0M1990 428h0M1827 330h0M1963 324h0M1996 325h0M1926 312h0M1947 316h0M1879 388h0M1971 293h0M1823 305h0M1957 380h0M1946 401h0M1837 351h0M1785 328h0M1920 313h0M1964 305h0M1884 381h0M1834 378h0M1874 278h0M1808 376h0M1970 381h0M1979 378h0M1960 406h0M1919 357h0M1820 309h0M1803 288h0M1873 318h0M1911 405h0M1845 415h0M1972 302h0M1917 302h0M1799 306h0M1830 272h0M1790 401h0M1980 410h0M1801 274h0M1978 331h0M1862 384h0M1904 324h0M1818 289h0M1945 417h0M1793 307h0M1879 402h0M1815 358h0M1967 363h0M1862 421h0M1961 432h0M1852 349h0M1886 407h0M1924 360h0M1900 415h0M1864 292h0M1824 310h0M1806 429h0M1909 400h0M1887 355h0M1876 391h0M1980 432h0M1893 339h0M1971 339h0M1830 348h0M1853 312h0M1959 327h0M1925 320h0M1810 397h0M1959 385h0M1922 299h0M1897 405h0M1961 366h0M1927 298h0M1796 408h0M1788 312h0M1874 384h0M1941 411h0M1994 314h0M1807 426h0M1914 350h0M1797 418h0M1839 395h0M1830 314h0M1815 357h0M1848 363h0M1946 307h0M1814 354h0M1874 343h0M1867 297h0M1888 313h0M1869 429h0M1876 401h0M1812 368h0M1845 308h0M1853 335h0M1929 337h0M1979 296h0M1977 341h0M1963 334h0M1842 415h0M1945 425h0M1951 427h0M1863 319h0M1984 406h0M1985 341h0M1822 298h0M1852 338h0M1871 345h0M1792 326h0M1899 279h0M1893 417h0M1932 424h0M1978 351h0M1789 280h0M1914 407h0M1859 292h0M1956 358h0M1890 291h0M1909 363h0M1945 417h0M1801 405h0M1857 338h0M1862 401h0M1884 282h0M1891 295h0M1788 279h0M1870 344h0M1784 293h0M1988 359h0M2006 358h0M2000 383h0M1872 279h0M1817 399h0M1934 319h0M1821 374h0M1994 311h0M2009 357h0M1831 300h0M1945 421h0M1830 309h0M1816 304h0M1835 338h0M1838 378h0M1838 314h0M1879 298h0M1796 285h0M1785 380h0M1795 348h0M1985 370h0M1853 336h0M1881 322h0M1831 324h0M1807 370h0M1829 353h0M1941 351h0M1951 397h0M1885 305h0M1794 383h0M1867 318h0M1891 408h0M1975 311h0M1919 422h0M1889 339h0M2000 410h0M1993 385h0M1835 278h0M1789 420h0M1907 414h0M2000 309h0M2003 315h0M1824 315h0M2009 423h0M1864 349h0M1866 308h0M1900 422h0M1923 412h0M1828 353h0M1991 363h0M1963 401h0M1884 382h0M1940 342h0M1902 402h0M1983 430h0M1867 380h0M1908 408h0M1838 346h0M1842 401h0M1945 272h0M1959 326h0M1802 365h0M1923 340h0M1845 327h0M1837 402h0M1870 386h0M1936 410h0M1991 295h0M1843 287h0M1827 333h0M1946 419h0M1918 294h0M1869 294h0M1847 364h0M1897 298h0M1846 416h0M1926 368h0M1857 319h0M1956 273h0M1932 425h0M1928 278h0M1792 398h0M1826 339h0M1938 419h0M1890 335h0M1939 412h0M1939 421h0M1961 425h0M1841 380h0M1998 318h0M1854 421h0M2006 393h0M1864 404h0M1799 272h0M1798 325h0M1839 410h0M1885 408h0M1894 331h0M1861 278h0M1887 425h0M2004 421h0M1806 342h0M1972 295h0M1951 386h0M2007 279h0M1943 399h0M1824 283h0M2005 399h0M1823 341h0M1818 285h0M1893 358h0M1975 271h0M1864 282h0M1909 297h0M1859 428h0M1830 381h0M2003 285h0M1974 326h0M1829 377h0M1976 298h0M1829 352h0M1830 353h0M2008 275h0M1881 303h0M1822 366h0M1942 410h0M2002 324h0M1824 419h0M1921 414h0M1817 398h0M1811 292h0M1811 329h0M1878 377h0M1996 340h0M1915 337h0M1871 313h0M1785 312h0M1947 400h0M1939 342h0M1877 301h0M1839 432h0M1849 344h0M1834 425h0M1815 348h0M1787 345h0M1888 273h0M1818 351h0M1891 320h0M1796 323h0M1863 287h0M1919 306h0M1904 385h0M1787 351h0M1928 415h0M1940 406h0M1934 307h0M1968 393h0M1894 420h0M1795 418h0M1865 358h0M1964 298h0M1896 273h0M1792 425h0M1834 340h0M1811 422h0M1899 409h0M1846 346h0M1840 366h0M1944 363h0M1916 321h0M1999 274h0M1822 379h0M2004 408h0M1840 423h0M1887 363h0M1930 371h0M1983 416h0M1855 415h0M1855 381h0M1820 374h0M1852 432h0M1934 333h0M2001 289h0M1953 376h0M1788 345h0M1810 432h0M1807 373h0M1907 291h0M1995 363h0M1924 313h0M1819 323h0M1792 303h0M1896 334h0M1956 293h0M1831 355h0M1939 321h0M1870 400h0M1838 326h0M1952 304h0M1793 428h0M1991 322h0M1848 345h0M1832 398h0M1984 386h0M1874 407h0M1996 300h0M1935 298h0M2007 399h0M1877 391h0M1850 281h0M1900 283h0M1887 409h0M1910 353h0M1988 298h0M1889 343h0M1869 301h0M1871 358h0M1828 322h0M1903 423h0M1893 327h0M1792 354h0M1862 289h0M1891 370h0M1863 390h0M1927 281h0M1795 356h0M1921 361h0M1836 326h0M1836 372h0M1892 271h0M1955 401h0M2007 423h0M1943 346h0M1844 384h0M1879 323h0M1810 369h0M1945 395h0M1818 304h0M1928 291h0M1984 421h0M1927 313h0M1911 395h0M1989 396h0M1920 382h0M1854 288h0M1910 307h0M2003 306h0M1986 325h0M1827 364h0M1857 431h0M1924 287h0M1854 289h0M1896 356h0M1855 379h0M1885 403h0M1937 312h0M1972 275h0M1837 275h0M2008 285h0M1987 274h0M1942 399h0M1801 358h0M1903 301h0M1904 283h0M1852 379h0M1818 355h0M1814 413h0M1832 421h0M1992 427h0M1848 381h0M1800 428h0M1940 276h0M1815 288h0M1863 422h0M1962 323h0M1967 272h0M1907 334h0M1801 419h0M1933 432h0M1929 371h0M1813 348h0M1987 361h0M1928 345h0M1865 272h0M1833 301h0M1805 279h0M1955 432h0M1942 405h0M1977 309h0M1852 356h0M1835 312h0M1948 398h0M2006 377h0M1863 346h0M1916 366h0M1991 362h0M1791 323h0M1893 272h0M1883 289h0M1844 414h0M1991 289h0M1917 349h0M1796 319h0M1905 339h0M1913 281h0M1923 370h0M1827 362h0M1995 415h0M1923 355h0M1953 344h0M1950 365h0M1932 343h0M1884 332h0M1850 372h0M1982 302h0M1934 335h0M1786 329h0M1902 372h0M1993 377h0M1932 327h0M1964 291h0M1984 350h0M1886 383h0M1907 432h0M1811 281h0M1918 307h0M1835 432h0M1835 311h0M1814 429h0M2004 415h0M1805 411h0M1909 430h0M1884 341h0M1786 364h0M1838 413h0M1966 386h0M1995 364h0M1865 313h0M1856 404h0M1786 352h0M1899 296h0M1941 304h0M1952 298h0M1983 321h0M1814 321h0M2003 331h0M1873 392h0M1801 285h0M1981 323h0M1823 300h0M1952 429h0M1874 386h0M1888 304h0M1855 325h0M1841 399h0M1805 333h0M1950 276h0M2002 370h0M1931 302h0M1787 403h0M1829 283h0M1919 286h0M1817 354h0M1953 277h0M1943 291h0M1869 297h0M1802 357h0M1852 418h0M1930 324h0M1890 359h0M1879 343h0M1977 431h0M1950 410h0M1853 283h0M1834 351h0M1957 389h0M1991 397h0M1852 279h0M1893 324h0M1981 417h0M1906 396h0M1948 355h0M1884 425h0M1964 363h0M2007 295h0M1958 360h0M1857 291h0M1915 411h0M1824 416h0M2007 302h0M1909 349h0M1860 290h0M1844 423h0M1974 425h0M1897 351h0M1798 340h0M1915 431h0M1799 377h0M1795 428h0M1830 383h0M1927 304h0M1888 339h0M1824 335h0M1798 385h0M1900 294h0M1951 382h0M1807 332h0M1812 384h0M1981 281h0M1973 302h0M1904 386h0M1996 412h0M1818 386h0M1881 298h0M1888 422h0M1788 384h0M1907 413h0M1891 311h0M1850 279h0M1822 408h0M1819 419h0M1817 421h0M1796 377h0M1905 367h0M1993 307h0M2009 363h0M1967 311h0M2009 387h0M1891 306h0M1983 361h0M2008 414h0M1953 387h0M1822 405h0M1946 286h0M1800 287h0M1833 394h0M1957 383h0M1835 342h0M1843 390h0M1973 391h0M1857 364h0M1855 359h0M1904 295h0M1805 308h0M1953 401h0M1924 422h0M1880 307h0M1891 319h0M1870 397h0M1857 386h0M1918 274h0M1899 411h0M1930 408h0M1928 432h0M1793 339h0M1829 393h0M1850 378h0M1932 273h0M1923 324h0M1841 375h0M1927 305h0M1945 283h0M1796 414h0M1994 424h0M2009 391h0M1913 356h0M1905 423h0M2002 341h0M1830 358h0M1880 402h0M1992 371h0M1803 357h0M1813 357h0M1969 380h0M1890 296h0M1994 412h0M1894 279h0M1937 335h0M1874 332h0M1846 293h0M1931 354h0M1881 392h0M1898 297h0M1845 361h0M1865 395h0M1916 312h0M1812 372h0M1975 425h0M1969 404h0M1917 310h0M1851 410h0M1846 349h0M1908 273h0M1809 303h0M1964 398h0M1821 400h0M1917 412h0M1951 286h0M1958 386h0M1793 423h0M1850 346h0M1903 360h0M1913 281h0M1977 355h0M1806 352h0M1827 340h0M1947 393h0M1821 317h0M2003 372h0M1826 369h0M1840 283h0M1937 427h0M1800 392h0M1816 280h0M1788 274h0M1949 417h0M1787 295h0M1795 336h0M1857 302h0M1968 287h0M1927 294h0M2008 314h0M1886 378h0M2010 359h0M1798 359h0M1907 419h0M1960 309h0M1871 367h0M1870 281h0M2008 344h0M1816 295h0M1787 418h0M1816 362h0M1998 395h0M1918 317h0M1936 401h0M1831 308h0M1877 367h0M1985 366h0M1844 388h0M1818 288h0M1786 364h0M1915 346h0M1909 301h0M1832 365h0M1875 351h0M1991 346h0M1952 280h0M1895 279h0M1829 301h0M1871 296h0M1995 319h0M1853 282h0M1867 398h0M1907 415h0M1923 375h0M1881 406h0M1886 293h0M1835 400h0M1938 346h0M1931 339h0M1917 277h0M1889 338h0M1970 408h0M1835 379h0M1852 328h0M1965 329h0M1991 349h0M1792 410h0M1985 349h0M1889 428h0M1871 320h0M1815 419h0M1965 356h0M1949 406h0M1981 348h0M1881 375h0M1827 307h0M1938 431h0M1792 297h0M1853 383h0M1814 331h0M1924 393h0M2009 406h0M1827 361h0M1921 360h0M1935 412h0M1841 364h0M1971 376h0M1784 353h0M1969 303h0M1873 430h0M1887 359h0M1919 408h0M1887 416h0M1852 279h0M1894 278h0M1852 407h0M2003 303h0M1821 328h0M1886 293h0M1966 296h0M1810 351h0M1976 273h0M1828 282h0M1973 379h0M1839 416h0M1823 350h0M1949 368h0M1799 278h0M1826 424h0M1987 319h0M1795 373h0M1961 396h0M1960 405h0M1870 387h0M1787 383h0M1885 430h0M1962 344h0M1944 365h0M1923 272h0M1835 312h0M1943 419h0M1926 393h0M1928 294h0M1842 365h0M1954 338h0M1941 325h0M1855 298h0M1878 364h0M1809 421h0M1786 389h0M1862 422h0M1849 275h0M1935 342h0M1828 376h0M1913 278h0M1821 340h0M1804 355h0M1873 318h0M1954 390h0M1799 367h0M2008 369h0M2007 308h0M1834 323h0M1837 296h0M1842 352h0M1967 396h0M1793 395h0M1928 314h0M1786 410h0M1814 312h0M1853 400h0M1998 419h0M1797 309h0M1816 289h0M1814 322h0M1795 318h0M1977 310h0M1899 408h0M1788 388h0M1907 275h0M1985 399h0M1807 426h0M1914 373h0M1832 275h0M1943 386h0M1825 276h0M1914 320h0M1862 411h0M1912 290h0M1942 387h0M1912 425h0M1892 376h0M1797 319h0M1852 340h0M1900 289h0M1940 279h0M1841 365h0M1789 324h0M1967 389h0M1869 298h0M1954 411h0M1802 338h0M1908 383h0M1830 404h0M1922 400h0M1998 381h0M1936 319h0M1846 331h0M1967 367h0M1847 417h0M1901 429h0M2008 348h0M1936 336h0M1902 299h0M1867 337h0M1952 296h0M1829 375h0M1891 413h0M1788 342h0M1972 393h0M1864 354h0M1874 271h0M1802 307h0M1981 302h0M1849 361h0M1861 273h0M1964 332h0M1850 304h0M1896 295h0M1858 288h0M1827 356h0M1858 288h0M1981 280h0M1877 318h0M1797 318h0M1884 382h0M1843 332h0M1988 373h0M1885 305h0M1962 421h0M1838 408h0M1869 348h0M1790 310h0M1838 303h0M1971 425h0M1856 400h0M1852 365h0M1917 399h0M1902 350h0M1945 347h0M1914 319h0M1818 307h0M2003 366h0M1788 301h0M1916 353h0M2008 417h0M1800 401h0M2006 391h0M1999 332h0M1926 381h0M1964 387h0M1969 325h0M1964 367h0M2001 323h0M1924 410h0M1956 383h0M1817 296h0M1856 376h0M1791 377h0M1811 302h0M1847 359h0M1946 424h0M1917 419h0M1946 292h0M1866 306h0M1886 317h0M1979 416h0M1827 432h0M2001 333h0M1982 424h0M1957 326h0M1891 285h0M1819 399h0M1854 384h0M1881 386h0M1849 285h0M1935 312h0M1830 346h0M1896 415h0M1942 341h0M1884 368h0M1813 319h0M1920 423h0M1920 304h0M2003 399h0M1834 330h0M1792 394h0M1833 404h0M1946 396h0M1912 310h0M1918 273h0M1901 396h0M1816 341h0M1906 295h0M1830 369h0M1823 295h0M1834 422h0M1987 289h0M1914 337h0M1791 311h0M1931 274h0M2001 317h0M1863 424h0M1816 292h0M1891 321h0M1856 365h0M1999 338h0M1794 331h0M1977 341h0M1798 311h0M1835 327h0M1856 379h0M1947 278h0M1817 404h0M1982 398h0M1824 383h0M1801 380h0M1834 407h0M1975 346h0M1948 424h0M1986 375h0M1816 345h0M1803 285h0M1935 340h0M1831 424h0M1850 358h0M1895 300h0M2009 393h0M1986 319h0M1990 418h0M1997 299h0M1819 284h0M1804 384h0M1795 346h0M1864 389h0M1795 387h0M2001 319h0M1875 391h0M1853 408h0M2009 307h0M1890 294h0M1910 334h0M2004 388h0M2008 402h0M1970 332h0M1992 429h0M1823 351h0M1876 371h0M1918 313h0M1983 343h0M1959 387h0M1958 308h0M1794 402h0M1941 392h0M1965 303h0M1982 374h0M1997 361h0M1980 280h0M1821 360h0M1935 333h0M1800 414h0M1800 414h0M1837 385h0M1918 309h0M1858 310h0M1848 290h0M1941 313h0M1998 336h0M1843 387h0M1988 330h0M1950 324h0M2009 319h0M1792 271h0M1907 372h0M1849 338h0M1876 329h0M1827 359h0M1935 275h0M1983 313h0M1891 306h0M1936 336h0M1804 430h0M1880 324h0M1975 318h0M1963 339h0M1810 364h0M1847 303h0M2008 422h0M1891 401h0M1935 320h0M1813 365h0M1827 393h0M1918 306h0M1960 427h0M1892 428h0M1886 273h0M1888 328h0M1991 355h0M2001 297h0M1871 273h0M1796 386h0M1791 306h0M1785 384h0M1941 293h0M1994 411h0M1996 404h0M1908 384h0M1812 375h0M1864 325h0M1855 284h0M1967 394h0M1786 354h0M1789 359h0M1822 426h0M1856 355h0M1843 417h0M1786 320h0M1835 391h0M1868 410h0M1858 291h0M1887 284h0M1818 355h0M1914 305h0M1825 355h0M1885 349h0M1936 293h0M1787 281h0M1964 384h0M1819 324h0M1854 420h0M1877 386h0M1803 277h0M1835 374h0M1885 412h0M1970 378h0M2009 426h0M1984 285h0M1874 294h0" stroke="#9f6cc6" stroke-width="5.0" stroke-linecap="round" opacity="0.85"/>
<path d="M2001 430h0M1938 313h0M1875 281h0M1873 392h0M1855 300h0M1906 416h0M1836 402h0M1879 342h0M1982 319h0M1885 429h0M1853 358h0M1931 325h0M1926 339h0M1972 361h0M1948 363h0M1866 323h0M1787 395h0M1903 348h0M1943 281h0M1812 387h0M1980 353h0M2003 410h0M1876 326h0M1882 395h0M1888 387h0M2008 392h0M1900 391h0M1896 365h0M1912 361h0M1807 362h0M1994 310h0M1959 312h0M1945 316h0M1919 396h0M1791 407h0M1909 391h0M1824 282h0M1836 373h0M1875 394h0M1817 369h0M1930 309h0M1908 420h0M1935 305h0M1950 370h0M1870 383h0M1956 381h0M1833 427h0M1990 341h0M1993 431h0M1862 301h0M1839 350h0M1817 309h0M1949 274h0M1922 337h0M1944 312h0M1892 305h0M1788 411h0M1867 318h0M1995 330h0M1906 293h0M1969 419h0M1836 279h0M1813 376h0M1907 330h0M1945 306h0M1921 338h0M1816 396h0M1826 400h0M1956 341h0M1886 304h0M1821 394h0M1882 295h0M1820 361h0M1960 276h0M1993 384h0M1972 339h0M1883 286h0M1843 412h0M1848 416h0M1972 420h0M1816 339h0M1972 321h0M1839 274h0M1905 360h0M1832 312h0M1927 298h0M1962 412h0M1879 292h0M1944 361h0M1845 311h0M1948 419h0M1863 365h0M1834 346h0M1915 320h0M1921 358h0M1794 290h0M1878 294h0M1907 367h0M1925 414h0M1921 395h0M1810 412h0M1994 366h0M1971 360h0M1882 296h0M1893 386h0M1964 415h0M1901 424h0M1868 274h0M1880 358h0M1959 308h0M1790 388h0M1815 355h0M1959 307h0M2000 280h0M1818 367h0M1830 278h0M1905 327h0M1874 335h0M1983 317h0M1940 362h0M1848 418h0M1842 319h0M1828 384h0M1932 271h0M1794 403h0M1980 285h0M1834 340h0M1972 321h0M2000 285h0M1989 280h0M1920 428h0M1947 419h0M1863 425h0M1988 315h0M1958 419h0M1832 334h0M1958 363h0M1991 341h0M1885 298h0M1846 412h0M1843 416h0M1965 363h0M1852 271h0M1811 405h0M2001 426h0M1847 422h0M1884 330h0M1989 403h0M1937 317h0M1827 363h0M1855 305h0M1982 330h0M1785 272h0M1909 275h0M1910 275h0M1890 371h0M1906 306h0M1974 428h0M1968 421h0M2004 330h0M1907 338h0M1962 298h0M1835 344h0M1907 431h0M1860 271h0M1901 368h0M1974 324h0M1921 425h0M2004 362h0M1807 360h0M1822 316h0M1851 331h0M1878 428h0M1903 359h0M1875 359h0M1968 355h0M1900 327h0M1826 305h0M1804 317h0M1793 338h0M1913 289h0M1955 344h0M1925 340h0M1964 381h0M1811 359h0M1844 391h0M1868 307h0M1792 430h0M1811 311h0M1994 279h0M1877 341h0M1938 397h0M2004 322h0M1803 305h0M1785 314h0M1924 415h0M1806 314h0M1985 366h0M1874 282h0M1797 306h0M1923 280h0M1898 403h0M1785 317h0M1877 369h0M1950 380h0M1882 325h0M1926 345h0M1994 356h0M1916 378h0M1893 350h0M1853 351h0M2004 402h0M1878 340h0M1882 312h0M1893 363h0M1807 377h0M1944 302h0M1840 277h0M1891 380h0M1877 366h0M1921 278h0M1796 353h0M1993 385h0M1885 313h0M1814 375h0M1957 334h0M1803 315h0M1944 395h0M1789 304h0M1985 385h0M1804 317h0M1873 348h0M1790 420h0M1904 313h0M1913 422h0M1946 410h0M1981 378h0M1797 321h0M1915 338h0M1833 281h0M1980 379h0M1852 347h0M1837 417h0M1965 424h0M1871 353h0M1857 327h0M1999 428h0M2009 418h0M1895 377h0M1989 340h0M1992 400h0M1848 329h0M1940 297h0M1842 302h0M1808 418h0M2009 403h0M1898 391h0M1939 342h0M1902 291h0M1839 326h0M1838 412h0M1961 422h0M1960 302h0M1894 406h0M1966 307h0M1893 366h0M1786 310h0M1952 378h0M1885 363h0M1903 327h0M1803 391h0M1959 341h0M1958 405h0M1940 401h0M2002 277h0M1997 344h0M1960 390h0M1806 366h0M1804 389h0M1861 331h0M1846 402h0M1929 319h0M1951 301h0M1965 368h0M1957 370h0M2007 383h0M1889 366h0M1965 403h0M2002 382h0M1898 334h0M1794 397h0M1881 334h0M1796 351h0M1987 315h0M1952 393h0M1900 328h0M1989 372h0M1965 305h0M1890 309h0M1965 367h0M1873 333h0M1832 305h0M1940 321h0M1808 333h0M1886 431h0M1871 336h0M2004 387h0M1888 335h0M1823 368h0M1862 378h0M1961 336h0M1870 283h0M1832 371h0M1966 293h0M2005 419h0M1867 358h0M1936 324h0M1867 387h0M1894 341h0M1911 289h0M1890 318h0M1822 355h0M1943 356h0M1897 379h0M1879 430h0M1832 272h0M1912 383h0M1870 335h0M1861 310h0M1963 410h0M1847 362h0M1888 292h0M1950 357h0M2008 418h0M1988 313h0M1809 402h0M1943 279h0M1804 411h0M1900 343h0M2004 398h0M1835 385h0M1871 346h0M1855 307h0M1852 315h0M1911 402h0M1937 296h0M1999 421h0M1974 324h0M1972 374h0M1791 332h0M1942 359h0M1998 399h0M1973 429h0M1862 418h0M1785 400h0M1804 351h0M1884 282h0M1928 398h0M1835 310h0M1958 356h0M1788 320h0M1997 315h0M1849 344h0M1984 402h0M1871 378h0M1790 281h0M1794 409h0M1826 279h0M1803 283h0M1849 364h0M1932 317h0M1900 324h0M1915 288h0M1925 271h0M1993 304h0M1909 301h0M1884 313h0M1929 397h0M1975 428h0M1887 360h0M1863 317h0M1899 428h0M1797 392h0M1857 367h0M1844 387h0M1785 286h0M1989 284h0M1874 379h0M1792 421h0M1831 426h0M1882 365h0M1920 285h0M1898 392h0M1962 390h0M1899 277h0M1957 287h0M1999 371h0M1950 369h0M1912 412h0M1798 332h0M1833 367h0M1845 419h0M1947 340h0M1868 389h0M1966 282h0M1991 410h0M1790 296h0M1991 403h0M1850 400h0M1915 311h0M1939 338h0M1816 408h0M1946 310h0M1881 381h0M1868 312h0M1903 424h0M1805 311h0M1893 430h0M2008 272h0M1929 293h0M2009 427h0M1801 416h0M1846 429h0M1814 416h0M1900 354h0M1825 350h0M1956 361h0M2006 357h0M1988 292h0M1951 368h0M1984 325h0M1889 402h0M1842 331h0M1975 376h0M1895 273h0M1957 338h0M1838 333h0M1815 407h0M1964 427h0M1936 297h0M1880 432h0M1784 326h0M1818 298h0M1846 371h0M1799 411h0M1881 299h0M1807 356h0M1863 352h0M1808 328h0M1898 284h0M1897 407h0M1917 291h0M1927 284h0M1816 272h0M1904 299h0M1847 290h0M1986 294h0M1936 401h0M1886 365h0M1859 403h0M1816 348h0M1825 349h0M1796 343h0M1991 360h0M1924 395h0M1928 424h0M1816 313h0M1945 365h0M1979 396h0M1859 298h0M1846 335h0M1932 373h0M1924 280h0M1986 385h0M1989 370h0M1930 414h0M1953 373h0M1793 274h0M1946 408h0M1871 305h0M1884 407h0M1955 292h0M1830 304h0M1952 311h0M1985 337h0M1828 338h0M1816 413h0M1789 338h0M1870 277h0M1834 431h0M1978 339h0M1981 418h0M1978 388h0M1912 353h0M1946 368h0M2004 300h0M1976 317h0M1872 364h0M2003 310h0M1976 377h0M1992 319h0M1934 414h0M1984 384h0M1974 373h0M1909 302h0M1901 429h0M1998 277h0M1853 309h0M1974 300h0M1957 302h0M1861 428h0M1812 365h0M1846 393h0M1799 380h0M1842 426h0M1858 379h0M1790 423h0M1927 419h0M1952 280h0M1985 378h0M1863 282h0M1931 280h0M1838 278h0M1823 392h0M1844 430h0M1847 400h0M1950 375h0M1921 293h0M1971 420h0M1904 301h0M1803 312h0M2004 322h0M1847 356h0M1792 398h0M1960 320h0M1791 416h0M1967 394h0M1832 425h0M1929 276h0M2006 384h0M1928 275h0M1832 399h0M1787 302h0M1800 365h0M1815 398h0M1886 397h0M1990 428h0M1827 330h0M1963 324h0M1996 325h0M1926 312h0M1947 316h0M1879 388h0M1971 293h0M1823 305h0M1957 380h0M1946 401h0M1837 351h0M1785 328h0M1920 313h0M1964 305h0M1884 381h0M1834 378h0M1874 278h0M1808 376h0M1970 381h0M1979 378h0M1960 406h0M1919 357h0M1820 309h0M1803 288h0M1873 318h0M1911 405h0M1845 415h0M1972 302h0M1917 302h0M1799 306h0M1830 272h0M1790 401h0M1980 410h0M1801 274h0M1978 331h0M1862 384h0M1904 324h0M1818 289h0M1945 417h0M1793 307h0M1879 402h0M1815 358h0M1967 363h0M1862 421h0M1961 432h0M1852 349h0M1886 407h0M1924 360h0M1900 415h0M1864 292h0M1824 310h0M1806 429h0M1909 400h0M1887 355h0M1876 391h0M1980 432h0M1893 339h0M1971 339h0M1830 348h0M1853 312h0M1959 327h0M1925 320h0M1810 397h0M1959 385h0M1922 299h0M1897 405h0M1961 366h0M1927 298h0M1796 408h0M1788 312h0M1874 384h0M1941 411h0M1994 314h0M1807 426h0M1914 350h0M1797 418h0M1839 395h0M1830 314h0M1815 357h0M1848 363h0M1946 307h0M1814 354h0M1874 343h0M1867 297h0M1888 313h0M1869 429h0M1876 401h0M1812 368h0M1845 308h0M1853 335h0M1929 337h0M1979 296h0M1977 341h0M1963 334h0M1842 415h0M1945 425h0M1951 427h0M1863 319h0M1984 406h0M1985 341h0M1822 298h0M1852 338h0M1871 345h0M1792 326h0M1899 279h0M1893 417h0M1932 424h0M1978 351h0M1789 280h0M1914 407h0M1859 292h0M1956 358h0M1890 291h0M1909 363h0M1945 417h0M1801 405h0M1857 338h0M1862 401h0M1884 282h0M1891 295h0M1788 279h0M1870 344h0M1784 293h0M1988 359h0M2006 358h0M2000 383h0M1872 279h0M1817 399h0M1934 319h0M1821 374h0M1994 311h0M2009 357h0M1831 300h0M1945 421h0M1830 309h0M1816 304h0M1835 338h0M1838 378h0M1838 314h0M1879 298h0M1796 285h0M1785 380h0M1795 348h0M1985 370h0M1853 336h0M1881 322h0M1831 324h0M1807 370h0M1829 353h0M1941 351h0M1951 397h0M1885 305h0M1794 383h0M1867 318h0M1891 408h0M1975 311h0M1919 422h0M1889 339h0M2000 410h0M1993 385h0M1835 278h0M1789 420h0M1907 414h0M2000 309h0M2003 315h0M1824 315h0M2009 423h0M1864 349h0M1866 308h0M1900 422h0M1923 412h0M1828 353h0M1991 363h0M1963 401h0M1884 382h0M1940 342h0M1902 402h0M1983 430h0M1867 380h0M1908 408h0M1838 346h0M1842 401h0M1945 272h0M1959 326h0M1802 365h0M1923 340h0M1845 327h0M1837 402h0M1870 386h0M1936 410h0M1991 295h0M1843 287h0M1827 333h0M1946 419h0M1918 294h0M1869 294h0M1847 364h0M1897 298h0M1846 416h0M1926 368h0M1857 319h0M1956 273h0M1932 425h0M1928 278h0M1792 398h0M1826 339h0M1938 419h0M1890 335h0M1939 412h0M1939 421h0M1961 425h0M1841 380h0M1998 318h0M1854 421h0M2006 393h0M1864 404h0M1799 272h0M1798 325h0M1839 410h0M1885 408h0M1894 331h0M1861 278h0M1887 425h0M2004 421h0M1806 342h0M1972 295h0M1951 386h0M2007 279h0M1943 399h0M1824 283h0M2005 399h0M1823 341h0M1818 285h0M1893 358h0M1975 271h0M1864 282h0M1909 297h0M1859 428h0M1830 381h0M2003 285h0M1974 326h0M1829 377h0M1976 298h0M1829 352h0M1830 353h0M2008 275h0M1881 303h0M1822 366h0M1942 410h0M2002 324h0M1824 419h0M1921 414h0M1817 398h0M1811 292h0M1811 329h0M1878 377h0M1996 340h0M1915 337h0M1871 313h0M1785 312h0M1947 400h0M1939 342h0M1877 301h0M1839 432h0M1849 344h0M1834 425h0M1815 348h0M1787 345h0M1888 273h0M1818 351h0M1891 320h0M1796 323h0M1863 287h0M1919 306h0M1904 385h0M1787 351h0M1928 415h0M1940 406h0M1934 307h0M1968 393h0M1894 420h0M1795 418h0M1865 358h0M1964 298h0M1896 273h0M1792 425h0M1834 340h0M1811 422h0M1899 409h0M1846 346h0M1840 366h0M1944 363h0M1916 321h0M1999 274h0M1822 379h0M2004 408h0M1840 423h0M1887 363h0M1930 371h0M1983 416h0M1855 415h0M1855 381h0M1820 374h0M1852 432h0M1934 333h0M2001 289h0M1953 376h0M1788 345h0M1810 432h0M1807 373h0M1907 291h0M1995 363h0M1924 313h0M1819 323h0M1792 303h0M1896 334h0M1956 293h0M1831 355h0M1939 321h0M1870 400h0M1838 326h0M1952 304h0M1793 428h0M1991 322h0M1848 345h0M1832 398h0M1984 386h0M1874 407h0M1996 300h0M1935 298h0M2007 399h0M1877 391h0M1850 281h0M1900 283h0M1887 409h0M1910 353h0M1988 298h0M1889 343h0M1869 301h0M1871 358h0M1828 322h0M1903 423h0M1893 327h0M1792 354h0M1862 289h0M1891 370h0M1863 390h0M1927 281h0M1795 356h0M1921 361h0M1836 326h0M1836 372h0M1892 271h0M1955 401h0M2007 423h0M1943 346h0M1844 384h0M1879 323h0M1810 369h0M1945 395h0M1818 304h0M1928 291h0M1984 421h0M1927 313h0M1911 395h0M1989 396h0M1920 382h0M1854 288h0M1910 307h0M2003 306h0M1986 325h0M1827 364h0M1857 431h0M1924 287h0M1854 289h0M1896 356h0M1855 379h0M1885 403h0M1937 312h0M1972 275h0M1837 275h0M2008 285h0M1987 274h0M1942 399h0M1801 358h0M1903 301h0M1904 283h0M1852 379h0M1818 355h0M1814 413h0M1832 421h0M1992 427h0M1848 381h0M1800 428h0M1940 276h0M1815 288h0M1863 422h0M1962 323h0M1967 272h0M1907 334h0M1801 419h0M1933 432h0M1929 371h0M1813 348h0M1987 361h0M1928 345h0M1865 272h0M1833 301h0M1805 279h0M1955 432h0M1942 405h0M1977 309h0M1852 356h0M1835 312h0M1948 398h0M2006 377h0M1863 346h0M1916 366h0M1991 362h0M1791 323h0M1893 272h0M1883 289h0M1844 414h0M1991 289h0M1917 349h0M1796 319h0M1905 339h0M1913 281h0M1923 370h0M1827 362h0M1995 415h0M1923 355h0M1953 344h0M1950 365h0M1932 343h0M1884 332h0M1850 372h0M1982 302h0M1934 335h0M1786 329h0M1902 372h0M1993 377h0M1932 327h0M1964 291h0M1984 350h0M1886 383h0M1907 432h0M1811 281h0M1918 307h0M1835 432h0M1835 311h0M1814 429h0M2004 415h0M1805 411h0M1909 430h0M1884 341h0M1786 364h0M1838 413h0M1966 386h0M1995 364h0M1865 313h0M1856 404h0M1786 352h0M1899 296h0M1941 304h0M1952 298h0M1983 321h0M1814 321h0M2003 331h0M1873 392h0M1801 285h0M1981 323h0M1823 300h0M1952 429h0M1874 386h0M1888 304h0M1855 325h0M1841 399h0M1805 333h0M1950 276h0M2002 370h0M1931 302h0M1787 403h0M1829 283h0M1919 286h0M1817 354h0M1953 277h0M1943 291h0M1869 297h0M1802 357h0M1852 418h0M1930 324h0M1890 359h0M1879 343h0M1977 431h0M1950 410h0M1853 283h0M1834 351h0M1957 389h0M1991 397h0M1852 279h0M1893 324h0M1981 417h0M1906 396h0M1948 355h0M1884 425h0M1964 363h0M2007 295h0M1958 360h0M1857 291h0M1915 411h0M1824 416h0M2007 302h0M1909 349h0M1860 290h0M1844 423h0M1974 425h0M1897 351h0M1798 340h0M1915 431h0M1799 377h0M1795 428h0M1830 383h0M1927 304h0M1888 339h0M1824 335h0M1798 385h0M1900 294h0M1951 382h0M1807 332h0M1812 384h0M1981 281h0M1973 302h0M1904 386h0M1996 412h0M1818 386h0M1881 298h0M1888 422h0M1788 384h0M1907 413h0M1891 311h0M1850 279h0M1822 408h0M1819 419h0M1817 421h0M1796 377h0M1905 367h0M1993 307h0M2009 363h0M1967 311h0M2009 387h0M1891 306h0M1983 361h0M2008 414h0M1953 387h0M1822 405h0M1946 286h0M1800 287h0M1833 394h0M1957 383h0M1835 342h0M1843 390h0M1973 391h0M1857 364h0M1855 359h0M1904 295h0M1805 308h0M1953 401h0M1924 422h0M1880 307h0M1891 319h0M1870 397h0M1857 386h0M1918 274h0M1899 411h0M1930 408h0M1928 432h0M1793 339h0M1829 393h0M1850 378h0M1932 273h0M1923 324h0M1841 375h0M1927 305h0M1945 283h0M1796 414h0M1994 424h0M2009 391h0M1913 356h0M1905 423h0M2002 341h0M1830 358h0M1880 402h0M1992 371h0M1803 357h0M1813 357h0M1969 380h0M1890 296h0M1994 412h0M1894 279h0M1937 335h0M1874 332h0M1846 293h0M1931 354h0M1881 392h0M1898 297h0M1845 361h0M1865 395h0M1916 312h0M1812 372h0M1975 425h0M1969 404h0M1917 310h0M1851 410h0M1846 349h0M1908 273h0M1809 303h0M1964 398h0M1821 400h0M1917 412h0M1951 286h0M1958 386h0M1793 423h0M1850 346h0M1903 360h0M1913 281h0M1977 355h0M1806 352h0M1827 340h0M1947 393h0M1821 317h0M2003 372h0M1826 369h0M1840 283h0M1937 427h0M1800 392h0M1816 280h0M1788 274h0M1949 417h0M1787 295h0M1795 336h0M1857 302h0M1968 287h0M1927 294h0M2008 314h0M1886 378h0M2010 359h0M1798 359h0M1907 419h0M1960 309h0M1871 367h0M1870 281h0M2008 344h0M1816 295h0M1787 418h0M1816 362h0M1998 395h0M1918 317h0M1936 401h0M1831 308h0M1877 367h0M1985 366h0M1844 388h0M1818 288h0M1786 364h0M1915 346h0M1909 301h0M1832 365h0M1875 351h0M1991 346h0M1952 280h0M1895 279h0M1829 301h0M1871 296h0M1995 319h0M1853 282h0M1867 398h0M1907 415h0M1923 375h0M1881 406h0M1886 293h0M1835 400h0M1938 346h0M1931 339h0M1917 277h0M1889 338h0M1970 408h0M1835 379h0M1852 328h0M1965 329h0M1991 349h0M1792 410h0M1985 349h0M1889 428h0M1871 320h0M1815 419h0M1965 356h0M1949 406h0M1981 348h0M1881 375h0M1827 307h0M1938 431h0M1792 297h0M1853 383h0M1814 331h0M1924 393h0M2009 406h0M1827 361h0M1921 360h0M1935 412h0M1841 364h0M1971 376h0M1784 353h0M1969 303h0M1873 430h0M1887 359h0M1919 408h0M1887 416h0M1852 279h0M1894 278h0M1852 407h0M2003 303h0M1821 328h0M1886 293h0M1966 296h0M1810 351h0M1976 273h0M1828 282h0M1973 379h0M1839 416h0M1823 350h0M1949 368h0M1799 278h0M1826 424h0M1987 319h0M1795 373h0M1961 396h0M1960 405h0M1870 387h0M1787 383h0M1885 430h0M1962 344h0M1944 365h0M1923 272h0M1835 312h0M1943 419h0M1926 393h0M1928 294h0M1842 365h0M1954 338h0M1941 325h0M1855 298h0M1878 364h0M1809 421h0M1786 389h0M1862 422h0M1849 275h0M1935 342h0M1828 376h0M1913 278h0M1821 340h0M1804 355h0M1873 318h0M1954 390h0M1799 367h0M2008 369h0M2007 308h0M1834 323h0M1837 296h0M1842 352h0M1967 396h0M1793 395h0M1928 314h0M1786 410h0M1814 312h0M1853 400h0M1998 419h0M1797 309h0M1816 289h0M1814 322h0M1795 318h0M1977 310h0M1899 408h0M1788 388h0M1907 275h0M1985 399h0M1807 426h0M1914 373h0M1832 275h0M1943 386h0M1825 276h0M1914 320h0M1862 411h0M1912 290h0M1942 387h0M1912 425h0M1892 376h0M1797 319h0M1852 340h0M1900 289h0M1940 279h0M1841 365h0M1789 324h0M1967 389h0M1869 298h0M1954 411h0M1802 338h0M1908 383h0M1830 404h0M1922 400h0M1998 381h0M1936 319h0M1846 331h0M1967 367h0M1847 417h0M1901 429h0M2008 348h0M1936 336h0M1902 299h0M1867 337h0M1952 296h0M1829 375h0M1891 413h0M1788 342h0M1972 393h0M1864 354h0M1874 271h0M1802 307h0M1981 302h0M1849 361h0M1861 273h0M1964 332h0M1850 304h0M1896 295h0M1858 288h0M1827 356h0M1858 288h0M1981 280h0M1877 318h0M1797 318h0M1884 382h0M1843 332h0M1988 373h0M1885 305h0M1962 421h0M1838 408h0M1869 348h0M1790 310h0M1838 303h0M1971 425h0M1856 400h0M1852 365h0M1917 399h0M1902 350h0M1945 347h0M1914 319h0M1818 307h0M2003 366h0M1788 301h0M1916 353h0M2008 417h0M1800 401h0M2006 391h0M1999 332h0M1926 381h0M1964 387h0M1969 325h0M1964 367h0M2001 323h0M1924 410h0M1956 383h0M1817 296h0M1856 376h0M1791 377h0M1811 302h0M1847 359h0M1946 424h0M1917 419h0M1946 292h0M1866 306h0M1886 317h0M1979 416h0M1827 432h0M2001 333h0M1982 424h0M1957 326h0M1891 285h0M1819 399h0M1854 384h0M1881 386h0M1849 285h0M1935 312h0M1830 346h0M1896 415h0M1942 341h0M1884 368h0M1813 319h0M1920 423h0M1920 304h0M2003 399h0M1834 330h0M1792 394h0M1833 404h0M1946 396h0M1912 310h0M1918 273h0M1901 396h0M1816 341h0M1906 295h0M1830 369h0M1823 295h0M1834 422h0M1987 289h0M1914 337h0M1791 311h0M1931 274h0M2001 317h0M1863 424h0M1816 292h0M1891 321h0M1856 365h0M1999 338h0M1794 331h0M1977 341h0M1798 311h0M1835 327h0M1856 379h0M1947 278h0M1817 404h0M1982 398h0M1824 383h0M1801 380h0M1834 407h0M1975 346h0M1948 424h0M1986 375h0M1816 345h0M1803 285h0M1935 340h0M1831 424h0M1850 358h0M1895 300h0M2009 393h0M1986 319h0M1990 418h0M1997 299h0M1819 284h0M1804 384h0M1795 346h0M1864 389h0M1795 387h0M2001 319h0M1875 391h0M1853 408h0M2009 307h0M1890 294h0M1910 334h0M2004 388h0M2008 402h0M1970 332h0M1992 429h0M1823 351h0M1876 371h0M1918 313h0M1983 343h0M1959 387h0M1958 308h0M1794 402h0M1941 392h0M1965 303h0M1982 374h0M1997 361h0M1980 280h0M1821 360h0M1935 333h0M1800 414h0M1800 414h0M1837 385h0M1918 309h0M1858 310h0M1848 290h0M1941 313h0M1998 336h0M1843 387h0M1988 330h0M1950 324h0M2009 319h0M1792 271h0M1907 372h0M1849 338h0M1876 329h0M1827 359h0M1935 275h0M1983 313h0M1891 306h0M1936 336h0M1804 430h0M1880 324h0M1975 318h0M1963 339h0M1810 364h0M1847 303h0M2008 422h0M1891 401h0M1935 320h0M1813 365h0M1827 393h0M1918 306h0M1960 427h0M1892 428h0M1886 273h0M1888 328h0M1991 355h0M2001 297h0M1871 273h0M1796 386h0M1791 306h0M1785 384h0M1941 293h0M1994 411h0M1996 404h0M1908 384h0M1812 375h0M1864 325h0M1855 284h0M1967 394h0M1786 354h0M1789 359h0M1822 426h0M1856 355h0M1843 417h0M1786 320h0M1835 391h0M1868 410h0M1858 291h0M1887 284h0M1818 355h0M1914 305h0M1825 355h0M1885 349h0M1936 293h0M1787 281h0M1964 384h0M1819 324h0M1854 420h0M1877 386h0M1803 277h0M1835 374h0M1885 412h0M1970 378h0M2009 426h0M1984 285h0M1874 294h0" stroke="#55268a" stroke-width="3.0" stroke-linecap="round" opacity="1.0"/>
<rect x="1297.7" y="464.0" width="230.0" height="166.0" fill="#b8c0bf"/>
<path d="M1438 548h0M1400 487h0M1391 542h0M1393 493h0M1308 499h0M1317 584h0M1321 549h0M1455 477h0M1369 560h0M1491 566h0M1345 606h0M1432 611h0M1387 472h0M1306 525h0M1356 516h0M1509 528h0M1518 469h0M1457 623h0M1501 560h0M1437 469h0M1306 466h0M1523 477h0M1497 555h0M1470 578h0M1402 497h0M1470 512h0M1378 530h0M1448 592h0M1380 612h0M1403 583h0M1404 527h0M1445 628h0M1499 486h0M1427 605h0M1520 532h0M1486 496h0M1319 522h0M1447 574h0M1457 528h0M1321 617h0M1412 499h0M1483 578h0M1314 550h0M1327 491h0M1526 518h0M1306 578h0M1334 504h0M1352 628h0M1386 579h0M1324 569h0M1465 466h0M1469 592h0M1526 510h0M1366 465h0M1497 553h0M1444 493h0M1350 558h0M1414 622h0M1421 471h0M1435 582h0M1413 496h0M1394 498h0M1404 541h0M1504 604h0M1443 539h0M1501 590h0M1319 559h0M1347 479h0M1383 491h0M1425 572h0M1372 503h0M1464 519h0M1299 484h0M1403 614h0M1312 513h0M1470 503h0M1476 582h0M1363 490h0M1395 571h0M1385 578h0M1423 552h0M1375 596h0M1352 544h0M1326 561h0M1445 515h0M1328 616h0M1426 621h0M1362 610h0M1393 624h0M1416 566h0M1436 512h0M1498 504h0M1497 545h0M1361 510h0M1412 593h0M1319 498h0M1401 516h0M1351 601h0M1316 608h0M1395 494h0M1453 546h0M1455 590h0M1300 564h0M1316 592h0M1344 486h0M1348 486h0M1488 473h0M1380 522h0M1412 604h0M1381 608h0M1438 520h0M1387 600h0M1345 562h0M1367 547h0M1524 506h0M1422 514h0M1321 600h0M1509 604h0M1374 489h0M1354 598h0M1309 480h0M1521 616h0M1474 471h0M1384 554h0M1424 577h0M1512 507h0M1489 527h0M1499 532h0M1427 618h0M1455 592h0M1319 562h0M1386 617h0M1446 522h0M1478 584h0M1482 587h0M1508 474h0M1329 519h0M1415 509h0M1333 540h0M1480 538h0M1362 506h0M1514 483h0M1330 530h0M1484 585h0M1304 523h0M1421 465h0M1303 602h0M1409 589h0M1440 535h0M1424 600h0M1423 579h0M1402 579h0M1410 600h0M1308 617h0M1396 513h0M1480 583h0M1462 559h0M1330 552h0M1390 493h0M1378 535h0M1455 580h0M1305 605h0M1445 604h0M1413 481h0M1424 582h0M1504 469h0M1497 554h0M1391 620h0M1430 510h0M1425 523h0M1414 522h0M1302 563h0M1414 531h0M1385 568h0M1496 594h0M1395 570h0M1448 504h0M1447 628h0M1453 504h0M1418 612h0M1337 584h0M1310 537h0M1476 570h0M1346 559h0M1343 607h0M1444 606h0M1459 471h0M1354 523h0M1300 546h0M1506 615h0M1458 467h0M1403 493h0M1347 509h0M1346 538h0M1384 572h0M1318 536h0M1381 584h0M1390 625h0M1513 531h0M1523 481h0M1326 492h0M1366 466h0M1519 575h0M1432 586h0M1418 495h0M1307 485h0M1445 477h0M1397 487h0M1355 613h0M1451 547h0M1380 549h0M1376 523h0M1476 558h0M1445 492h0M1445 479h0M1438 623h0M1330 467h0M1466 504h0M1489 477h0M1424 489h0M1518 511h0M1335 592h0M1368 591h0M1433 557h0M1362 469h0M1419 520h0M1416 520h0M1496 590h0M1463 599h0M1474 542h0M1469 479h0M1300 491h0M1367 474h0M1320 505h0M1366 560h0M1444 599h0M1472 544h0M1372 617h0M1494 570h0M1322 606h0M1386 511h0M1430 557h0M1332 554h0M1415 555h0M1358 592h0M1487 546h0M1356 589h0M1307 567h0M1525 537h0M1456 502h0M1407 550h0M1363 624h0M1438 573h0M1382 563h0M1355 589h0M1524 474h0M1494 494h0M1512 491h0M1406 601h0M1327 528h0M1377 509h0M1430 567h0M1344 518h0M1451 485h0M1409 580h0M1524 581h0M1389 595h0M1374 596h0M1505 575h0M1512 540h0M1324 483h0M1453 471h0M1438 488h0M1478 495h0M1473 610h0M1455 589h0M1423 589h0M1343 618h0M1355 524h0M1349 608h0M1482 488h0M1501 519h0M1433 544h0M1484 496h0M1360 496h0M1305 585h0M1397 494h0M1392 565h0M1411 568h0M1455 495h0M1310 582h0M1359 477h0M1334 466h0M1465 619h0M1325 592h0M1442 471h0M1453 477h0M1429 495h0M1414 575h0M1409 489h0M1394 502h0M1308 555h0M1343 500h0M1380 549h0M1374 546h0M1470 536h0M1410 590h0M1427 475h0M1355 628h0M1507 534h0M1426 499h0M1388 620h0M1363 473h0M1504 468h0M1341 566h0M1460 523h0M1387 593h0M1358 555h0M1464 586h0M1325 486h0M1524 502h0M1525 617h0M1324 494h0M1412 500h0M1518 472h0M1527 486h0M1377 597h0M1382 474h0M1447 582h0M1379 476h0M1443 477h0M1428 518h0M1417 504h0M1412 518h0M1456 495h0M1392 521h0M1472 493h0M1489 492h0M1398 486h0M1386 524h0M1438 511h0M1299 537h0M1483 623h0M1436 570h0M1400 599h0M1462 578h0M1497 561h0M1322 527h0M1305 469h0M1462 564h0M1385 525h0M1394 625h0M1502 629h0M1403 614h0M1513 508h0M1346 625h0M1452 480h0M1487 597h0M1399 620h0M1481 589h0M1465 477h0M1381 503h0M1389 466h0M1464 618h0M1408 591h0M1495 621h0M1383 549h0M1351 616h0M1418 620h0M1394 538h0M1376 594h0M1439 503h0M1464 600h0M1486 619h0M1372 616h0M1455 495h0M1374 476h0M1407 579h0M1367 622h0M1512 511h0M1389 579h0M1510 521h0M1480 518h0M1499 530h0M1465 595h0M1388 519h0M1449 501h0M1421 583h0M1346 516h0M1459 503h0M1470 624h0M1427 598h0M1520 602h0M1415 625h0M1401 540h0M1429 547h0M1409 528h0M1514 520h0M1372 571h0M1323 469h0M1324 565h0M1468 518h0M1452 508h0M1446 581h0M1517 556h0M1457 565h0M1437 494h0M1361 535h0M1515 525h0M1444 590h0M1381 592h0M1413 601h0M1378 500h0M1361 612h0M1519 495h0M1456 492h0M1485 522h0M1489 546h0M1400 580h0M1473 552h0M1365 561h0M1366 596h0M1403 541h0M1385 617h0M1402 610h0M1469 515h0M1359 566h0M1487 468h0M1485 548h0M1476 575h0M1500 512h0M1321 576h0M1393 525h0M1522 467h0M1393 596h0M1418 518h0M1319 615h0M1439 579h0M1349 594h0M1356 617h0M1461 501h0M1384 500h0M1368 559h0M1409 482h0M1500 563h0M1395 547h0M1438 602h0M1326 510h0M1413 544h0M1480 547h0M1376 614h0M1463 465h0M1473 577h0M1414 621h0M1313 576h0M1309 597h0M1476 528h0M1302 503h0M1401 479h0M1342 612h0M1353 570h0M1426 505h0M1323 504h0M1339 622h0M1410 513h0M1503 510h0M1484 596h0M1368 542h0M1511 525h0M1447 466h0M1323 567h0M1521 498h0M1522 520h0M1449 521h0M1328 480h0M1355 589h0M1425 466h0M1479 528h0M1354 582h0M1522 603h0M1399 494h0M1350 581h0M1495 475h0M1369 624h0M1357 602h0M1318 601h0M1327 521h0M1340 497h0M1523 529h0M1335 595h0M1399 526h0M1368 505h0M1445 547h0M1394 536h0M1363 516h0M1306 479h0M1325 574h0M1340 535h0M1482 533h0M1385 535h0M1435 493h0M1299 628h0M1347 535h0M1475 594h0M1344 572h0M1316 599h0M1508 519h0M1452 490h0M1367 583h0M1397 609h0M1518 556h0M1487 586h0M1510 523h0M1394 558h0M1377 531h0M1440 540h0M1305 559h0M1468 487h0M1309 485h0M1431 543h0M1509 563h0M1515 520h0M1441 559h0M1328 541h0M1382 574h0M1324 557h0M1491 515h0M1359 540h0M1491 537h0M1308 553h0M1509 550h0M1485 564h0M1417 515h0M1510 527h0M1480 579h0M1345 529h0M1404 502h0M1467 546h0M1338 552h0M1303 475h0M1425 546h0M1492 472h0M1514 466h0M1478 604h0M1442 604h0M1446 609h0M1303 536h0M1491 505h0M1403 517h0M1504 472h0M1446 551h0M1434 533h0M1300 573h0M1503 561h0M1368 492h0M1498 553h0M1349 486h0M1430 489h0M1470 623h0M1511 620h0M1416 533h0M1444 490h0M1340 573h0M1303 578h0M1504 496h0M1433 588h0M1488 485h0M1305 516h0M1511 525h0M1449 532h0M1501 617h0M1317 547h0M1305 495h0M1330 606h0M1353 529h0M1425 483h0M1386 585h0M1310 547h0M1318 480h0M1511 514h0M1488 467h0M1488 502h0M1382 622h0M1338 597h0M1432 500h0M1408 558h0M1426 616h0M1323 613h0M1513 537h0M1455 568h0M1486 627h0M1327 613h0M1415 524h0M1371 478h0M1403 603h0M1390 569h0M1492 538h0M1310 537h0M1393 492h0M1523 519h0M1356 498h0M1308 615h0M1329 497h0M1352 566h0M1363 519h0M1369 477h0M1515 528h0M1428 566h0M1504 594h0M1437 604h0M1453 481h0M1433 496h0M1499 473h0M1433 577h0M1440 607h0M1446 524h0M1354 481h0M1472 469h0M1442 471h0M1514 556h0M1319 621h0M1469 619h0M1415 525h0M1473 579h0M1403 467h0M1393 597h0M1452 576h0M1423 549h0M1324 517h0M1450 571h0M1414 546h0M1300 562h0M1480 507h0M1334 619h0M1372 525h0M1446 568h0M1453 585h0M1490 546h0M1518 497h0M1327 598h0M1395 547h0M1331 561h0M1470 581h0M1516 558h0M1475 510h0M1485 492h0M1343 603h0M1469 592h0M1429 522h0M1353 532h0M1503 513h0M1526 574h0M1311 587h0M1375 598h0M1401 625h0M1349 615h0M1464 535h0M1385 605h0M1467 582h0M1439 543h0M1420 575h0M1389 564h0M1395 512h0M1349 471h0M1500 501h0M1501 588h0M1343 569h0M1338 487h0M1446 487h0M1444 627h0M1491 592h0M1333 560h0M1422 599h0M1466 482h0M1396 545h0M1476 527h0M1443 549h0M1373 514h0M1370 605h0M1522 491h0M1489 550h0M1480 466h0M1394 488h0M1369 474h0M1372 571h0M1526 493h0M1442 513h0M1419 540h0M1353 545h0M1424 552h0M1507 530h0M1301 522h0M1461 504h0M1413 480h0M1416 506h0M1392 624h0M1424 574h0M1524 591h0M1351 509h0M1521 601h0M1466 564h0M1487 557h0M1509 574h0M1323 533h0M1351 601h0M1335 624h0M1304 612h0M1399 621h0M1465 626h0M1416 559h0M1343 526h0M1346 586h0M1446 569h0M1488 623h0M1435 571h0M1453 615h0M1357 552h0M1307 554h0M1431 589h0M1379 520h0M1307 494h0M1411 565h0M1398 467h0M1313 506h0M1363 585h0M1456 569h0M1302 590h0M1423 532h0M1473 607h0M1310 476h0M1466 582h0M1404 626h0M1525 581h0M1472 569h0M1433 493h0M1455 525h0M1444 626h0M1362 488h0M1497 473h0M1384 607h0M1381 554h0M1423 591h0M1352 541h0M1457 485h0M1353 600h0M1500 543h0M1514 490h0M1330 574h0M1475 519h0M1510 478h0M1503 494h0M1422 617h0M1476 497h0M1338 626h0M1459 519h0M1326 627h0M1307 512h0M1438 574h0M1306 493h0M1430 594h0M1516 542h0M1412 466h0M1405 622h0M1429 512h0M1396 498h0M1305 515h0M1364 594h0M1433 502h0M1469 519h0M1440 507h0M1438 521h0M1474 553h0M1435 500h0M1443 467h0M1345 551h0M1486 515h0M1399 602h0M1309 567h0M1301 549h0M1429 466h0M1410 496h0M1450 611h0M1459 606h0M1390 621h0M1377 611h0M1405 490h0M1490 612h0M1437 512h0M1456 480h0M1499 573h0M1415 574h0M1322 619h0M1318 540h0M1492 539h0M1518 561h0M1369 615h0M1473 580h0M1351 580h0M1316 587h0M1414 606h0M1421 585h0M1509 626h0M1395 472h0M1479 509h0M1375 584h0M1330 470h0M1472 561h0M1372 495h0M1420 552h0M1512 595h0M1499 470h0M1389 487h0M1480 577h0M1515 580h0M1426 518h0M1521 538h0M1527 583h0M1497 556h0M1379 600h0M1429 570h0M1480 569h0M1456 480h0M1450 575h0M1367 485h0M1475 510h0M1358 553h0M1343 546h0M1318 586h0M1383 576h0M1306 514h0M1489 546h0M1359 479h0M1351 568h0M1372 513h0M1506 549h0M1401 522h0M1352 481h0M1368 588h0M1385 522h0M1323 516h0M1364 515h0M1507 522h0M1381 491h0M1522 610h0M1490 544h0M1453 503h0M1503 529h0M1369 625h0M1495 511h0M1367 517h0M1312 524h0M1390 536h0M1459 501h0M1466 530h0M1317 571h0M1404 616h0M1390 591h0M1307 601h0M1414 614h0M1431 474h0M1345 542h0M1325 514h0M1418 599h0M1375 539h0M1348 619h0M1519 528h0M1491 491h0M1510 475h0M1456 546h0M1432 533h0M1399 486h0M1499 571h0M1469 581h0M1321 577h0M1352 550h0M1445 509h0M1308 502h0M1466 545h0M1433 554h0M1444 600h0M1308 574h0M1314 540h0M1329 485h0M1445 521h0M1357 624h0M1350 550h0M1513 600h0M1483 468h0M1496 540h0M1309 555h0M1521 471h0M1416 627h0M1387 485h0M1400 531h0M1309 515h0M1344 582h0M1348 496h0M1478 492h0M1466 551h0M1483 495h0M1336 554h0M1320 472h0M1420 525h0M1445 507h0M1420 616h0M1449 508h0M1385 590h0M1397 538h0M1310 531h0M1328 478h0M1424 621h0M1484 629h0M1522 493h0M1524 611h0M1457 596h0M1351 513h0M1353 616h0M1337 608h0M1302 616h0M1377 586h0M1387 625h0M1321 541h0M1307 539h0M1465 522h0M1319 467h0M1386 567h0M1484 543h0M1453 596h0M1304 574h0M1307 534h0M1455 578h0M1311 507h0M1470 556h0M1310 607h0M1321 607h0M1378 540h0M1318 624h0M1323 468h0M1374 570h0M1503 575h0M1391 591h0M1500 482h0M1399 556h0M1423 540h0M1320 602h0M1394 558h0M1404 485h0M1523 561h0M1504 481h0M1341 600h0M1343 529h0M1463 547h0M1342 504h0M1424 530h0M1328 501h0M1315 593h0M1440 495h0M1507 503h0M1509 587h0M1345 617h0M1379 575h0M1474 579h0M1419 587h0M1393 611h0M1501 577h0M1379 477h0M1433 574h0M1389 610h0M1384 522h0M1313 599h0M1498 560h0M1347 501h0M1426 488h0M1353 618h0M1514 584h0M1317 477h0M1518 534h0M1515 601h0M1451 503h0M1423 553h0M1340 540h0M1510 567h0M1363 612h0M1452 627h0M1501 599h0M1475 592h0M1514 511h0M1404 485h0M1463 468h0M1392 524h0M1354 592h0M1453 587h0M1395 487h0M1510 488h0M1448 608h0M1425 552h0M1310 472h0M1397 607h0M1526 624h0M1448 597h0M1526 581h0M1474 492h0M1409 484h0M1490 615h0M1337 522h0M1508 573h0M1393 526h0M1306 531h0M1446 558h0M1464 492h0M1302 497h0M1494 521h0M1404 497h0M1359 605h0M1431 617h0M1485 495h0M1466 602h0M1453 626h0M1411 551h0M1464 562h0M1399 484h0M1478 609h0M1452 523h0M1411 505h0M1399 590h0M1479 476h0M1401 473h0M1415 579h0M1396 554h0M1360 578h0M1453 627h0M1452 466h0M1307 582h0M1519 517h0M1513 606h0M1523 508h0M1430 496h0M1503 575h0M1427 522h0M1317 494h0M1390 587h0M1390 600h0M1393 573h0M1434 619h0M1336 536h0M1432 603h0M1322 585h0M1301 526h0M1412 539h0M1397 523h0M1402 517h0M1504 490h0M1491 515h0M1348 497h0M1455 503h0M1317 513h0M1448 515h0M1501 482h0M1333 575h0M1450 616h0M1498 521h0M1303 538h0M1356 499h0M1417 480h0M1378 477h0M1418 542h0M1427 570h0M1381 488h0M1350 594h0M1511 501h0M1388 511h0M1372 501h0M1463 567h0M1400 474h0M1332 495h0M1386 473h0M1358 597h0M1332 613h0M1497 587h0M1517 485h0M1397 620h0M1364 510h0M1391 595h0M1328 527h0M1388 624h0M1404 566h0M1336 508h0M1472 533h0M1477 515h0M1428 629h0M1369 467h0M1439 574h0M1483 488h0M1307 498h0M1499 493h0M1315 498h0M1431 503h0M1356 469h0M1364 474h0M1434 582h0" stroke="#4d5862" stroke-width="2" stroke-linecap="round" opacity="0.4"/>
<rect x="1540.5" y="464.0" width="230.0" height="166.0" fill="#b8c0bf"/>
<path d="M1710 467h0M1664 580h0M1699 552h0M1589 495h0M1740 625h0M1762 573h0M1680 581h0M1685 506h0M1655 525h0M1724 511h0M1762 512h0M1649 593h0M1563 608h0M1635 524h0M1591 507h0M1665 574h0M1672 577h0M1663 554h0M1733 502h0M1744 487h0M1688 592h0M1700 600h0M1624 617h0M1702 506h0M1698 550h0M1726 505h0M1551 589h0M1738 573h0M1736 504h0M1629 603h0M1668 566h0M1767 497h0M1606 536h0M1694 475h0M1686 511h0M1544 618h0M1750 617h0M1754 595h0M1586 482h0M1654 490h0M1697 602h0M1754 603h0M1683 602h0M1623 490h0M1673 510h0M1727 628h0M1717 517h0M1643 534h0M1611 594h0M1606 516h0M1580 579h0M1646 606h0M1662 629h0M1595 539h0M1564 537h0M1737 520h0M1655 607h0M1747 622h0M1635 522h0M1593 550h0M1703 616h0M1721 532h0M1769 563h0M1690 533h0M1663 629h0M1681 581h0M1700 547h0M1746 474h0M1669 473h0M1710 505h0M1716 488h0M1590 582h0M1610 493h0M1681 525h0M1587 514h0M1594 551h0M1725 598h0M1643 598h0M1625 547h0M1573 621h0M1629 563h0M1706 623h0M1751 579h0M1660 554h0M1565 613h0M1601 539h0M1568 503h0M1694 602h0M1616 594h0M1543 578h0M1737 561h0M1725 542h0M1636 494h0M1572 505h0M1644 494h0M1743 546h0M1544 472h0M1689 573h0M1594 546h0M1761 496h0M1752 541h0M1674 617h0M1605 553h0M1739 589h0M1743 621h0M1696 485h0M1676 629h0M1587 608h0M1588 563h0M1701 483h0M1706 485h0M1633 491h0M1579 553h0M1762 471h0M1630 471h0M1664 500h0M1560 620h0M1582 544h0M1747 570h0M1684 465h0M1583 507h0M1603 531h0M1599 472h0M1659 525h0M1691 607h0M1593 485h0M1680 600h0M1707 533h0M1739 476h0M1625 483h0M1560 549h0M1668 488h0M1642 572h0M1742 542h0M1718 574h0M1761 598h0M1687 626h0M1667 613h0M1606 499h0M1582 566h0M1576 534h0M1730 521h0M1693 576h0M1603 537h0M1578 520h0M1739 489h0M1719 575h0M1614 477h0M1658 602h0M1573 475h0M1641 473h0M1657 560h0M1700 537h0M1744 481h0M1587 505h0M1594 563h0M1551 489h0M1683 524h0M1543 535h0M1671 580h0M1767 505h0M1674 568h0M1612 573h0M1766 528h0M1574 547h0M1655 619h0M1555 625h0M1635 499h0M1675 537h0M1558 536h0M1716 615h0M1617 511h0M1669 552h0M1652 563h0M1627 477h0M1698 493h0M1734 590h0M1698 582h0M1722 491h0M1610 579h0M1575 569h0M1745 607h0M1717 484h0M1601 547h0M1716 578h0M1659 479h0M1696 557h0M1708 527h0M1740 500h0M1665 599h0M1567 572h0M1564 619h0M1633 586h0M1687 521h0M1672 552h0M1738 534h0M1676 507h0M1573 532h0M1629 474h0M1579 547h0M1637 491h0M1624 480h0M1657 573h0M1568 476h0M1756 556h0M1707 606h0M1606 474h0M1633 625h0M1668 489h0M1612 529h0M1719 472h0M1633 601h0M1672 578h0M1611 503h0M1701 562h0M1582 470h0M1581 497h0M1693 557h0M1549 566h0M1624 572h0M1626 538h0M1675 474h0M1691 592h0M1749 616h0M1565 541h0M1710 568h0M1562 478h0M1704 614h0M1620 625h0M1618 501h0M1611 549h0M1765 597h0M1736 503h0M1748 585h0M1691 580h0M1679 495h0M1670 593h0M1724 523h0M1555 611h0M1616 558h0M1763 499h0M1640 498h0M1565 559h0M1583 515h0M1637 479h0M1658 496h0M1653 544h0M1708 539h0M1583 557h0M1726 500h0M1605 488h0M1713 494h0M1696 588h0M1601 493h0M1650 532h0M1761 487h0M1713 484h0M1752 567h0M1609 506h0M1724 604h0M1725 599h0M1689 487h0M1706 619h0M1680 582h0M1713 624h0M1641 563h0M1599 517h0M1559 601h0M1667 504h0M1584 550h0M1560 488h0M1584 536h0M1582 585h0M1675 515h0M1746 512h0M1712 602h0M1673 561h0M1644 610h0M1758 590h0M1727 550h0M1578 480h0M1636 510h0M1589 560h0M1553 551h0M1584 612h0M1732 599h0M1640 626h0M1580 488h0M1634 512h0M1764 620h0M1694 619h0M1542 540h0M1720 527h0M1558 590h0M1734 578h0M1572 535h0M1562 494h0M1567 499h0M1672 525h0M1701 580h0M1608 489h0M1560 480h0M1733 583h0M1655 515h0M1673 491h0M1710 581h0M1653 589h0M1573 627h0M1585 473h0M1732 519h0M1718 607h0M1574 511h0M1732 623h0M1708 616h0M1674 563h0M1766 558h0M1720 513h0M1573 556h0M1572 592h0M1557 497h0M1625 529h0M1668 627h0M1667 532h0M1612 502h0M1732 466h0M1769 575h0M1767 478h0M1767 612h0M1601 592h0M1723 580h0M1548 544h0M1693 596h0M1679 532h0M1569 482h0M1609 591h0M1738 583h0M1576 587h0M1667 485h0M1624 556h0M1754 593h0M1742 501h0M1706 545h0M1598 513h0M1622 542h0M1645 560h0M1653 550h0M1675 544h0M1663 514h0M1611 534h0M1692 513h0M1718 473h0M1566 590h0M1755 547h0M1618 569h0M1594 549h0M1590 532h0M1716 507h0M1662 516h0M1757 600h0M1617 577h0M1704 480h0M1594 573h0M1581 556h0M1630 611h0M1675 539h0M1766 592h0M1623 533h0M1618 584h0M1615 468h0M1613 496h0M1719 552h0M1576 614h0M1544 465h0M1697 615h0M1679 484h0M1623 566h0M1580 609h0M1649 512h0M1762 617h0M1664 470h0M1667 483h0M1578 566h0M1595 616h0M1562 590h0M1591 526h0M1745 530h0M1759 567h0M1558 582h0M1548 533h0M1686 612h0M1728 567h0M1640 570h0M1570 581h0M1718 495h0M1639 562h0M1632 521h0M1663 494h0M1744 626h0M1575 537h0M1712 550h0M1712 598h0M1731 595h0M1706 553h0M1749 539h0M1554 565h0M1726 519h0M1628 599h0M1594 506h0M1714 535h0M1628 480h0M1620 587h0M1699 562h0M1712 524h0M1687 541h0M1716 577h0M1603 556h0M1577 514h0M1545 571h0M1659 586h0M1695 613h0M1686 504h0M1713 470h0M1605 585h0M1680 505h0M1741 528h0M1760 602h0M1617 604h0M1717 596h0M1550 594h0M1572 584h0M1719 531h0M1681 549h0M1602 486h0M1690 513h0M1627 593h0M1632 608h0M1646 623h0M1654 577h0M1581 584h0M1748 530h0M1731 508h0M1545 476h0M1680 574h0M1638 568h0M1560 500h0M1741 612h0M1548 615h0M1618 602h0M1556 595h0M1542 627h0M1575 565h0M1751 546h0M1740 546h0M1681 588h0M1765 589h0M1680 563h0M1671 545h0M1656 624h0M1668 539h0M1734 553h0M1665 575h0M1593 503h0M1612 622h0M1604 496h0M1546 568h0M1544 537h0M1765 509h0M1729 563h0M1586 595h0M1587 624h0M1739 568h0M1545 590h0M1608 556h0M1769 518h0M1666 512h0M1681 513h0M1723 565h0M1684 587h0M1742 517h0M1632 513h0M1545 625h0M1691 494h0M1756 538h0M1610 582h0M1698 628h0M1665 528h0M1642 628h0M1684 564h0M1744 473h0M1676 628h0M1740 560h0M1769 615h0M1737 524h0M1644 610h0M1751 588h0M1551 577h0M1624 620h0M1708 539h0M1577 515h0M1701 608h0M1648 556h0M1559 609h0M1688 604h0M1659 561h0M1634 521h0M1695 601h0M1733 469h0M1732 481h0M1560 484h0M1578 471h0M1604 479h0M1629 591h0M1667 609h0M1683 557h0M1678 606h0M1651 512h0M1582 523h0M1756 572h0M1722 535h0M1550 511h0M1576 493h0M1544 577h0M1645 620h0M1690 543h0M1606 568h0M1679 529h0M1759 585h0M1690 469h0M1653 497h0M1751 591h0M1737 516h0M1556 530h0M1706 550h0M1572 524h0M1619 477h0M1700 548h0M1687 626h0M1701 534h0M1767 552h0M1619 489h0M1724 551h0M1630 577h0M1761 620h0M1607 472h0M1625 626h0M1761 533h0M1708 544h0M1699 556h0M1729 562h0M1593 576h0M1572 604h0M1706 589h0M1581 613h0M1653 469h0M1619 523h0M1587 574h0M1748 507h0M1649 593h0M1559 523h0M1741 554h0M1699 540h0M1567 622h0M1568 603h0M1716 558h0M1609 577h0M1617 550h0M1584 587h0M1767 495h0M1766 493h0M1737 488h0M1566 471h0M1625 618h0M1721 561h0M1619 604h0M1571 508h0M1738 518h0M1750 539h0M1697 530h0M1695 577h0M1665 479h0M1692 587h0M1680 518h0M1685 617h0M1568 620h0M1596 583h0M1564 518h0M1662 537h0M1700 609h0M1572 572h0M1614 620h0M1550 478h0M1700 624h0M1607 482h0M1706 518h0M1569 564h0M1609 471h0M1675 516h0M1717 542h0M1736 525h0M1594 494h0M1626 558h0M1653 588h0M1592 614h0M1722 594h0M1702 577h0M1658 586h0M1763 486h0M1675 536h0M1612 535h0M1595 543h0M1751 547h0M1629 617h0M1608 473h0M1769 625h0M1668 514h0M1737 591h0M1616 598h0M1663 609h0M1565 545h0M1768 488h0M1606 564h0M1724 559h0M1557 487h0M1554 566h0M1687 559h0M1721 513h0M1703 512h0M1591 523h0M1716 533h0M1755 553h0M1595 611h0M1567 468h0M1651 496h0M1579 600h0M1628 625h0M1628 522h0M1643 623h0M1637 484h0M1550 534h0M1605 593h0M1554 529h0M1557 491h0M1693 622h0M1672 469h0M1659 527h0M1747 581h0M1589 554h0M1602 590h0M1752 600h0M1758 559h0M1674 580h0M1617 625h0M1621 518h0M1675 504h0M1625 554h0M1666 569h0M1704 579h0M1600 485h0M1584 576h0M1714 497h0M1548 594h0M1663 626h0M1674 491h0M1543 622h0M1570 597h0M1640 526h0M1638 575h0M1588 558h0M1719 609h0M1711 526h0M1637 487h0M1626 549h0M1661 575h0M1656 616h0M1739 561h0M1562 562h0M1556 505h0M1575 538h0M1668 582h0M1560 578h0M1687 579h0M1549 561h0M1649 494h0M1591 522h0M1651 502h0M1572 602h0M1588 494h0M1550 549h0M1544 583h0M1712 478h0M1756 616h0M1618 581h0M1542 535h0M1549 606h0M1752 555h0M1765 503h0M1749 536h0M1550 615h0M1609 495h0M1676 609h0M1704 544h0M1585 599h0M1580 562h0M1551 567h0M1628 480h0M1719 558h0M1704 541h0M1664 475h0M1559 572h0M1554 557h0M1632 489h0M1768 590h0M1702 569h0M1671 532h0M1612 511h0M1644 591h0M1607 544h0M1547 592h0M1610 472h0M1764 526h0M1651 558h0M1650 477h0M1664 539h0M1652 514h0M1612 490h0M1684 555h0M1612 496h0M1597 580h0M1713 582h0M1741 598h0M1697 536h0M1558 540h0M1574 586h0M1716 467h0M1755 596h0M1562 465h0M1717 501h0M1762 614h0M1754 614h0M1623 494h0M1766 612h0M1598 550h0M1635 492h0M1652 477h0M1749 555h0M1746 629h0M1742 616h0M1738 549h0M1633 536h0M1739 618h0M1590 565h0M1675 520h0M1671 596h0M1610 509h0M1605 590h0M1669 499h0M1558 536h0M1764 580h0M1635 470h0M1751 541h0M1746 530h0M1571 566h0M1766 474h0M1577 504h0M1706 562h0M1670 628h0M1542 528h0M1739 576h0M1721 551h0M1735 572h0M1605 482h0M1688 575h0M1673 469h0M1692 486h0M1712 549h0M1708 611h0M1603 619h0M1584 586h0M1567 518h0M1699 491h0M1668 530h0M1769 484h0M1555 519h0M1613 598h0M1618 578h0M1664 498h0M1618 541h0M1717 521h0M1594 618h0M1681 521h0M1758 493h0M1698 510h0M1654 589h0M1652 525h0M1754 556h0M1620 497h0M1548 505h0M1643 488h0M1622 494h0M1679 561h0M1715 488h0M1632 487h0M1751 553h0M1626 591h0M1741 507h0M1713 465h0M1642 488h0M1688 553h0M1682 628h0M1725 553h0M1650 593h0M1613 518h0M1665 478h0M1725 586h0M1658 540h0M1583 482h0M1694 489h0M1669 534h0M1738 622h0M1722 498h0M1560 480h0M1680 497h0M1644 607h0M1581 566h0M1722 584h0M1724 623h0M1677 489h0M1681 480h0M1552 504h0M1717 472h0M1745 619h0M1641 551h0M1609 544h0M1755 615h0M1618 626h0M1762 511h0M1619 470h0M1647 547h0M1731 515h0M1723 577h0M1647 559h0M1713 516h0M1715 501h0M1747 616h0M1762 596h0M1756 476h0M1685 496h0M1552 479h0M1555 573h0M1732 547h0M1675 608h0M1645 563h0M1609 559h0M1658 513h0M1718 468h0M1662 538h0M1580 580h0M1638 513h0M1721 543h0M1760 574h0M1593 595h0M1698 554h0M1708 603h0M1588 551h0M1614 530h0M1650 504h0M1654 621h0M1623 606h0M1631 501h0M1572 543h0M1669 467h0M1716 606h0M1615 517h0M1682 551h0M1722 617h0M1697 513h0M1628 597h0M1621 471h0M1642 485h0M1614 528h0M1618 598h0M1615 610h0M1638 610h0M1734 575h0M1747 481h0M1554 571h0M1622 520h0M1750 465h0M1766 611h0M1622 551h0M1630 608h0M1554 536h0M1564 507h0M1587 532h0M1599 592h0M1647 601h0M1692 535h0M1662 485h0M1675 590h0M1576 575h0M1546 599h0M1564 471h0M1635 484h0M1703 543h0M1672 509h0M1636 466h0M1554 536h0M1699 553h0M1593 542h0M1614 590h0M1647 593h0M1670 626h0M1729 579h0M1740 469h0M1641 594h0M1545 607h0M1558 525h0M1737 588h0M1758 516h0M1686 479h0M1561 517h0M1629 579h0M1602 580h0M1767 616h0M1577 541h0M1568 489h0M1551 469h0M1678 508h0M1616 587h0M1682 493h0M1687 606h0M1675 473h0M1679 524h0M1697 494h0M1706 570h0M1656 473h0M1655 566h0M1551 588h0M1752 523h0M1694 475h0M1734 616h0M1559 507h0M1682 501h0M1548 626h0M1706 490h0M1767 493h0M1552 518h0M1631 554h0M1744 473h0M1680 612h0M1769 569h0M1591 502h0M1761 474h0M1551 486h0M1642 615h0M1743 556h0M1562 573h0M1710 549h0M1687 587h0M1559 538h0M1590 594h0M1546 579h0M1591 621h0M1680 528h0M1579 613h0M1766 570h0M1561 488h0M1727 562h0M1748 600h0M1542 509h0M1627 474h0M1575 600h0M1604 500h0M1612 508h0M1690 477h0M1757 622h0M1646 566h0M1654 519h0M1606 552h0M1642 505h0M1583 466h0M1568 575h0M1742 628h0M1682 542h0M1687 534h0M1599 499h0M1667 491h0M1730 535h0M1683 534h0M1545 557h0M1574 567h0M1551 549h0M1547 583h0M1723 469h0M1746 526h0M1721 511h0M1658 607h0M1679 621h0M1648 551h0M1547 617h0M1731 580h0M1716 592h0M1646 470h0M1603 588h0M1645 595h0M1695 593h0M1663 593h0M1757 600h0M1556 560h0M1670 468h0M1584 514h0M1705 557h0M1764 518h0M1599 620h0M1549 557h0M1619 530h0M1730 591h0M1631 547h0M1580 507h0M1552 498h0M1630 477h0M1569 616h0M1566 485h0M1649 528h0M1732 607h0M1623 489h0M1662 521h0M1623 584h0M1662 494h0M1579 476h0M1550 623h0M1543 534h0M1698 570h0M1567 505h0M1574 488h0M1614 610h0M1589 569h0M1687 560h0M1559 569h0M1743 591h0M1627 580h0M1673 466h0M1609 502h0M1746 486h0M1622 535h0M1749 604h0M1702 536h0M1614 467h0M1585 475h0M1644 495h0M1569 539h0M1658 519h0M1643 472h0M1707 487h0M1715 481h0M1716 526h0M1706 468h0M1759 487h0M1700 522h0M1741 496h0M1627 479h0M1556 496h0M1660 512h0M1759 583h0M1754 488h0M1546 487h0M1623 578h0M1762 620h0M1564 480h0M1750 565h0M1651 538h0M1613 542h0M1620 579h0M1734 540h0M1612 476h0M1610 506h0M1724 475h0M1681 516h0M1677 513h0M1548 538h0M1766 574h0M1712 589h0M1579 466h0M1652 534h0M1701 535h0M1572 480h0M1710 568h0M1705 546h0M1650 527h0M1722 621h0M1685 540h0M1591 505h0M1597 534h0M1728 478h0M1678 552h0M1551 499h0M1576 553h0M1678 509h0M1661 468h0M1748 526h0" stroke="#4d5862" stroke-width="2" stroke-linecap="round" opacity="0.4"/>
<rect x="1782.0" y="464.0" width="230.0" height="166.0" fill="#b8c0bf"/>
<path d="M1908 592h0M1889 501h0M1788 510h0M1933 488h0M1841 466h0M1854 562h0M1957 539h0M1933 504h0M1789 576h0M1804 502h0M1988 497h0M1941 511h0M1948 478h0M2007 537h0M1950 542h0M1797 587h0M1819 555h0M1944 506h0M1894 484h0M1912 524h0M1788 609h0M1860 608h0M1904 515h0M1870 611h0M1953 593h0M1935 469h0M1976 514h0M1911 589h0M1998 492h0M1813 538h0M1881 597h0M1796 489h0M1866 611h0M1842 502h0M1959 513h0M1938 599h0M2007 527h0M1797 551h0M1853 511h0M1861 597h0M1957 554h0M1933 547h0M1887 482h0M1938 543h0M1863 616h0M1976 547h0M1876 523h0M1824 481h0M1825 609h0M1986 590h0M1921 628h0M1903 622h0M1972 557h0M1795 529h0M1968 487h0M1848 476h0M1802 626h0M1792 621h0M1861 500h0M1804 539h0M1907 586h0M1911 469h0M1999 501h0M1887 522h0M1975 627h0M1803 599h0M1796 481h0M1971 503h0M1953 484h0M1938 475h0M2005 561h0M1914 563h0M1998 571h0M1985 537h0M1988 591h0M1885 467h0M1907 609h0M1865 570h0M2004 561h0M1984 487h0M2008 577h0M1795 513h0M1874 531h0M1828 469h0M1893 606h0M1882 582h0M1952 597h0M1804 497h0M1815 564h0M1810 566h0M1864 485h0M1987 525h0M1840 575h0M1880 613h0M1998 612h0M1819 589h0M1867 558h0M1925 576h0M1957 570h0M1845 550h0M1788 512h0M1985 485h0M1826 612h0M1938 500h0M1817 515h0M1972 565h0M1835 528h0M1920 511h0M2002 620h0M1884 496h0M1899 477h0M1882 615h0M1869 542h0M1930 572h0M1928 614h0M1997 492h0M1818 601h0M1985 604h0M1998 626h0M1914 562h0M1887 541h0M1804 569h0M1935 604h0M1842 530h0M1791 553h0M1903 481h0M1992 501h0M1920 628h0M1900 518h0M1955 610h0M1974 505h0M1852 509h0M1789 603h0M1872 626h0M1983 503h0M1787 558h0M1944 517h0M1900 603h0M1824 486h0M1986 591h0M1879 593h0M1944 627h0M1907 581h0M1991 517h0M1894 579h0M1935 603h0M1980 535h0M1929 519h0M1853 560h0M2005 478h0M1843 563h0M1960 523h0M1914 549h0M1954 628h0M1798 479h0M1859 520h0M1849 523h0M1829 597h0M1832 584h0M1872 534h0M1792 491h0M1835 628h0M1980 603h0M1852 623h0M1917 563h0M1797 628h0M1911 580h0M1971 550h0M1796 585h0M1867 502h0M1939 548h0M1827 476h0M1961 587h0M1910 628h0M1937 466h0M1786 564h0M1820 591h0M1879 627h0M1903 511h0M1847 523h0M1833 527h0M1887 525h0M1964 628h0M1972 617h0M1980 613h0M1963 550h0M1788 628h0M1927 510h0M1961 499h0M1825 566h0M1801 613h0M1980 575h0M2006 476h0M1851 591h0M1787 589h0M1792 561h0M1804 565h0M1795 600h0M1787 603h0M2006 517h0M1946 465h0M1793 532h0M1832 493h0M1948 576h0M1964 628h0M1813 588h0M1924 560h0M1853 625h0M1855 565h0M1810 621h0M1946 621h0M1849 538h0M1912 480h0M1843 494h0M1996 581h0M1904 537h0M1818 572h0M1939 471h0M1940 479h0M1954 577h0M1957 508h0M1925 472h0M1928 572h0M1894 595h0M1853 576h0M1900 616h0M1971 569h0M1934 512h0M1874 475h0M1890 563h0M1943 620h0M1899 532h0M1802 607h0M1832 478h0M1799 514h0M1962 475h0M1879 611h0M1970 596h0M1829 489h0M1876 555h0M1924 481h0M1993 552h0M1873 556h0M1828 541h0M1807 551h0M1985 606h0M1891 547h0M1931 538h0M1860 565h0M1833 476h0M1811 478h0M1868 483h0M1791 544h0M1861 585h0M1899 491h0M1936 553h0M1942 593h0M2004 580h0M1879 571h0M2004 543h0M1785 586h0M1861 585h0M1824 509h0M1793 599h0M1954 591h0M1958 608h0M1882 608h0M1805 466h0M2010 597h0M1972 469h0M1948 479h0M1866 465h0M1810 490h0M1948 561h0M1810 528h0M1877 601h0M1933 520h0M1834 614h0M1846 536h0M1937 617h0M1855 509h0M1813 497h0M1815 499h0M1921 613h0M1882 500h0M1876 569h0M1810 557h0M1844 571h0M1988 488h0M1869 506h0M1849 544h0M1834 592h0M1999 505h0M1919 501h0M1898 475h0M1836 497h0M1909 500h0M1984 485h0M1890 625h0M1962 503h0M1885 480h0M1986 585h0M1786 545h0M1817 616h0M1878 598h0M1996 506h0M1911 468h0M1969 521h0M1942 479h0M1789 586h0M1859 614h0M1815 531h0M2000 468h0M1916 597h0M1890 491h0M1948 499h0M1799 552h0M1950 508h0M1836 612h0M1981 498h0M1856 504h0M1846 601h0M1826 548h0M1923 465h0M1809 594h0M1931 468h0M1862 550h0M1853 516h0M2009 559h0M1957 619h0M1837 628h0M1962 486h0M1829 473h0M1990 479h0M1975 554h0M1805 504h0M1960 613h0M1890 602h0M2005 552h0M1796 575h0M1877 567h0M1881 626h0M1881 525h0M1970 617h0M2007 578h0M1798 574h0M1904 578h0M2010 516h0M1994 602h0M1896 498h0M1842 482h0M1969 500h0M1828 623h0M1996 510h0M1880 533h0M1977 618h0M1962 627h0M1918 623h0M1881 615h0M2009 618h0M1793 575h0M1877 524h0M1950 520h0M1877 523h0M1915 571h0M1997 562h0M1801 518h0M1928 498h0M1915 467h0M1797 609h0M1921 557h0M2004 484h0M1970 526h0M1819 617h0M1956 620h0M1893 485h0M1876 467h0M1899 547h0M1989 526h0M2003 627h0M1987 624h0M1971 627h0M1848 560h0M1967 481h0M1842 472h0M1987 591h0M1900 608h0M1871 528h0M1883 601h0M1880 523h0M1950 524h0M1810 490h0M1956 574h0M1945 561h0M1920 545h0M1850 597h0M1802 577h0M1887 479h0M1957 571h0M1863 500h0M1827 588h0M1936 566h0M2005 572h0M1822 533h0M1992 516h0M1974 468h0M1943 529h0M1838 582h0M1790 491h0M1959 557h0M1967 569h0M1783 528h0M1894 528h0M1813 615h0M1813 474h0M1807 537h0M1817 486h0M1799 556h0M1981 564h0M1943 517h0M1799 538h0M1856 532h0M1886 482h0M1859 468h0M1933 609h0M1942 620h0M1830 542h0M1840 602h0M1983 594h0M1957 586h0M1908 484h0M1886 506h0M1897 521h0M1958 486h0M1930 528h0M2008 569h0M1789 549h0M1867 528h0M1952 620h0M1869 520h0M2003 574h0M1818 586h0M1958 599h0M1824 568h0M1950 539h0M1885 506h0M1856 605h0M1922 469h0M1783 572h0M1932 588h0M1872 625h0M1840 615h0M1996 511h0M1975 581h0M1793 613h0M1845 505h0M1998 516h0M1830 608h0M1821 573h0M1940 495h0M1835 565h0M1926 480h0M1973 492h0M1924 598h0M1808 620h0M1812 592h0M1795 594h0M1815 573h0M1897 491h0M1803 544h0M1855 601h0M1903 485h0M1944 493h0M1967 626h0M1934 511h0M2008 623h0M1856 545h0M1811 612h0M1914 502h0M1975 552h0M1944 496h0M1927 621h0M1908 563h0M1985 583h0M1962 580h0M1846 510h0M1837 541h0M1873 610h0M1821 482h0M1985 579h0M2010 525h0M1877 587h0M1890 496h0M1847 536h0M1839 571h0M1931 552h0M1959 500h0M1939 475h0M1858 617h0M1928 574h0M2011 550h0M1845 603h0M1930 556h0M1958 627h0M1926 488h0M1795 555h0M1824 571h0M1867 533h0M1853 603h0M1911 569h0M1887 558h0M2010 570h0M1939 504h0M1885 565h0M2001 476h0M1978 611h0M1786 605h0M1924 619h0M1890 527h0M1993 514h0M1863 489h0M1897 613h0M1828 471h0M1798 582h0M1948 518h0M1841 611h0M1945 595h0M1863 542h0M1834 546h0M1815 558h0M1873 513h0M1787 473h0M1829 577h0M1842 588h0M1865 475h0M1902 492h0M1803 508h0M1899 532h0M1872 569h0M1789 500h0M1841 517h0M1855 601h0M1784 613h0M1861 510h0M1975 581h0M1916 582h0M2011 621h0M1997 538h0M1923 570h0M1786 576h0M1893 617h0M1916 628h0M1930 497h0M1852 508h0M1827 596h0M1971 568h0M1925 475h0M1833 605h0M1799 484h0M1903 467h0M1807 595h0M1968 490h0M1815 555h0M1956 503h0M1894 522h0M1936 515h0M1842 491h0M1838 489h0M1944 606h0M1786 479h0M2004 519h0M1937 517h0M1988 485h0M1839 565h0M1844 527h0M1824 480h0M1859 560h0M1853 541h0M1866 610h0M1896 532h0M1804 502h0M1911 477h0M1977 559h0M1914 486h0M1966 578h0M1970 519h0M1933 556h0M1858 591h0M1789 578h0M1801 625h0M1849 607h0M1796 501h0M1892 560h0M1932 525h0M1911 554h0M1927 510h0M2006 527h0M2006 625h0M1900 617h0M2004 500h0M1934 576h0M1820 520h0M1787 492h0M1936 615h0M1912 581h0M1788 563h0M1855 501h0M1989 580h0M1994 557h0M1841 629h0M1970 488h0M1859 491h0M1877 611h0M1917 599h0M1881 547h0M1944 466h0M1967 539h0M1983 529h0M1991 602h0M1928 600h0M1882 584h0M2002 583h0M1950 467h0M1877 504h0M2000 479h0M1940 628h0M1973 578h0M1896 601h0M1853 521h0M1960 491h0M1992 520h0M1943 469h0M1821 628h0M1797 625h0M1965 566h0M1942 544h0M1843 496h0M1830 562h0M1873 525h0M1853 530h0M1972 517h0M1919 559h0M1943 607h0M1818 491h0M1853 526h0M1879 506h0M1787 537h0M1966 555h0M1805 607h0M1791 481h0M1788 620h0M1791 577h0M1992 537h0M1981 537h0M1838 623h0M1936 611h0M1982 492h0M1868 533h0M1924 604h0M1808 474h0M1878 563h0M1832 623h0M1785 534h0M1977 478h0M1935 559h0M1803 574h0M1783 495h0M1791 604h0M1826 559h0M1954 609h0M1849 574h0M1922 496h0M2009 487h0M1832 611h0M1953 617h0M1949 625h0M1789 618h0M1877 479h0M1852 572h0M1923 565h0M1829 611h0M1842 626h0M1961 527h0M2007 473h0M1948 627h0M1795 553h0M1940 506h0M1971 596h0M2002 475h0M1956 623h0M1861 594h0M1815 493h0M1851 487h0M1913 483h0M1980 598h0M1906 614h0M1947 589h0M1949 593h0M1831 548h0M1901 490h0M1814 502h0M1821 546h0M1833 510h0M1839 574h0M1949 546h0M1970 583h0M1868 547h0M1884 551h0M1789 471h0M1814 544h0M1822 509h0M1857 592h0M1868 564h0M1944 518h0M1890 495h0M2003 518h0M1843 629h0M1870 576h0M1784 532h0M1799 624h0M1864 488h0M1790 595h0M1814 473h0M1969 500h0M1958 590h0M1883 591h0M1788 595h0M1885 479h0M2005 605h0M1794 528h0M1887 484h0M1868 525h0M1994 592h0M1860 479h0M1996 500h0M1883 547h0M1932 613h0M1934 571h0M1863 620h0M1871 498h0M1931 626h0M1912 473h0M1941 544h0M1937 605h0M1860 479h0M1873 523h0M1944 483h0M1802 561h0M1924 522h0M1951 556h0M1869 596h0M1875 503h0M1832 498h0M1988 626h0M1966 489h0M1787 478h0M1977 603h0M1951 496h0M1792 501h0M1873 552h0M1899 467h0M2002 471h0M1874 523h0M1879 582h0M2008 505h0M1926 608h0M1870 518h0M1994 498h0M1892 509h0M1804 580h0M1958 484h0M2009 561h0M1935 515h0M1810 481h0M2009 547h0M1937 530h0M1979 538h0M1897 620h0M1894 516h0M1876 600h0M1915 497h0M1840 565h0M2008 622h0M2007 604h0M1824 507h0M1836 496h0M1787 600h0M1835 609h0M2001 570h0M2000 490h0M1972 557h0M1817 521h0M1977 549h0M1829 560h0M2003 472h0M1814 561h0M1825 577h0M1820 605h0M1948 518h0M1802 621h0M1809 538h0M1836 577h0M1991 628h0M1938 567h0M1808 580h0M1849 498h0M1875 503h0M1982 471h0M1992 588h0M2006 543h0M1808 535h0M1783 537h0M1884 495h0M1937 534h0M1891 601h0M1962 623h0M1824 583h0M1920 604h0M1992 469h0M1821 473h0M1972 578h0M1912 528h0M1837 551h0M1895 474h0M1954 555h0M1822 601h0M1797 481h0M1843 556h0M1819 469h0M1835 568h0M1807 573h0M1985 588h0M1909 479h0M1932 479h0M1891 467h0M1799 595h0M1978 543h0M1825 572h0M1827 594h0M1944 616h0M1876 569h0M2007 612h0M1808 469h0M1993 518h0M1986 581h0M1819 488h0M1913 610h0M1953 556h0M1895 510h0M1891 574h0M1998 599h0M1848 618h0M1934 492h0M1875 496h0M1941 580h0M1797 606h0M1812 590h0M1958 536h0M1852 541h0M1833 619h0M1995 560h0M1851 535h0M1923 506h0M2003 562h0M1913 580h0M1913 626h0M1830 505h0M1951 538h0M2001 481h0M1887 542h0M1864 531h0M1843 492h0M1801 599h0M1977 516h0M1955 531h0M1837 472h0M1972 566h0M1934 492h0M1946 542h0M2003 597h0M1955 526h0M1838 566h0M1827 585h0M1964 549h0M1982 540h0M2009 575h0M2001 466h0M1819 615h0M1880 590h0M1966 478h0M1916 561h0M1862 512h0M1800 502h0M1943 599h0M1939 549h0M1794 593h0M1898 479h0M1985 618h0M1943 587h0M1866 536h0M1810 522h0M1790 602h0M1888 574h0M1928 531h0M1895 570h0M1950 499h0M1966 572h0M1797 561h0M1796 584h0M1978 556h0M1953 547h0M1984 497h0M1865 578h0M1906 587h0M1899 508h0M1868 603h0M1910 552h0M1942 519h0M1901 475h0M1932 557h0M1838 587h0M1973 523h0M1792 476h0M1886 600h0M1809 491h0M1943 475h0M1997 498h0M1920 523h0M1830 540h0M1951 533h0M1904 577h0M1931 473h0M1974 559h0M1934 509h0M1890 503h0M1785 546h0M1959 508h0M1844 589h0M1885 585h0M1792 476h0M1884 577h0M1806 574h0M1908 570h0M1894 604h0M1959 466h0M1816 613h0M1997 537h0M1817 501h0M1891 525h0M1941 554h0M1822 546h0M1830 607h0M1812 469h0M1920 576h0M1815 574h0M1789 588h0M1972 501h0M1862 522h0M1814 570h0M1991 600h0M1790 622h0M1837 511h0M1972 581h0M1996 626h0M1899 557h0M1947 569h0M1875 569h0M1918 582h0M1965 518h0M1940 513h0M1795 472h0M1788 555h0M1987 605h0M1841 538h0M1833 596h0M1929 493h0M1867 542h0M1995 531h0M1838 620h0M1796 487h0M1922 544h0M1998 467h0M1846 478h0M1809 612h0M1833 614h0M1949 502h0M1923 496h0M1946 566h0M1803 594h0M1795 598h0M1871 523h0M1993 513h0M1908 539h0M1859 527h0M1823 482h0M1984 500h0M1943 513h0M1867 479h0M1984 627h0M1833 496h0M1998 605h0M1838 545h0M1920 575h0M2010 589h0M1998 577h0M1887 539h0M1910 566h0M1922 543h0M1964 610h0M1789 552h0M1927 559h0M1828 546h0M1813 528h0M1942 571h0M1955 541h0M1809 473h0M1816 466h0M1992 617h0M1899 589h0M2001 542h0M1968 483h0M1874 624h0M1845 518h0M1879 568h0M1935 531h0M2011 466h0M1878 530h0M1985 619h0M1804 549h0M1896 498h0M1978 549h0M1820 523h0M1919 472h0M1880 614h0M1917 539h0M1905 510h0M1982 556h0M1948 469h0M1996 581h0M1918 489h0M1896 484h0M1973 529h0M1927 521h0M1941 579h0M1983 619h0M1982 490h0M1803 533h0M1939 614h0M2006 627h0M1839 557h0M1836 565h0M1849 572h0M1892 586h0M1809 483h0M1969 567h0M1790 596h0M1957 595h0M1841 602h0M1994 608h0M1871 620h0M1919 601h0M1965 594h0M1851 579h0M1828 480h0M1866 483h0M1835 529h0M1966 602h0M1905 604h0M1922 476h0M1988 493h0M1951 556h0M1960 566h0M1793 588h0M1820 611h0M1799 521h0M1845 603h0M1987 536h0M1973 501h0M1891 490h0M1795 551h0M1951 561h0M1930 606h0M1790 501h0M1793 491h0M1924 543h0M1865 525h0M1866 468h0M1977 569h0M1883 569h0M1923 480h0M1915 605h0M1804 623h0M1790 510h0M1853 484h0M1992 580h0M1946 591h0M1942 541h0M1936 526h0M1789 584h0M2003 580h0" stroke="#4d5862" stroke-width="2" stroke-linecap="round" opacity="0.4"/>
<path d="M1461 469h0M1323 610h0M1314 608h0M1411 508h0M1421 599h0M1330 575h0M1493 485h0M1494 587h0M1430 622h0M1344 506h0M1446 530h0M1407 543h0M1367 534h0M1436 466h0M1404 611h0M1442 484h0M1427 606h0M1392 624h0M1338 619h0M1456 517h0M1489 616h0M1484 533h0M1393 624h0M1399 509h0M1349 586h0M1497 614h0M1325 563h0M1339 553h0M1368 478h0M1308 498h0M1436 480h0M1499 498h0M1360 584h0M1322 571h0M1328 529h0M1459 575h0M1353 489h0M1373 534h0M1450 597h0M1354 479h0M1495 489h0M1404 547h0M1493 523h0M1481 493h0M1467 574h0M1339 508h0M1317 530h0M1459 581h0M1457 581h0M1456 575h0M1342 616h0M1445 481h0M1301 523h0M1370 504h0M1328 528h0M1441 501h0M1488 598h0M1459 584h0M1349 546h0M1347 554h0M1411 628h0M1406 558h0M1456 514h0M1483 604h0M1400 593h0M1469 591h0M1501 535h0M1405 594h0M1304 528h0M1327 526h0M1345 544h0M1440 487h0M1311 521h0M1481 576h0M1518 590h0M1330 610h0M1385 482h0M1379 619h0M1432 622h0M1350 505h0M1494 483h0M1315 528h0M1315 605h0M1431 495h0M1367 606h0M1445 561h0M1470 576h0M1359 613h0M1407 544h0M1456 597h0M1376 605h0M1470 582h0M1343 479h0M1304 559h0M1435 558h0M1520 489h0M1349 477h0M1517 520h0M1358 477h0M1516 572h0M1348 481h0M1363 586h0M1317 558h0M1312 602h0M1498 619h0M1493 524h0M1481 578h0M1407 556h0M1396 506h0M1519 506h0M1498 501h0M1361 610h0M1506 614h0M1448 482h0M1524 599h0M1346 598h0M1396 505h0M1430 546h0M1491 605h0M1526 585h0M1524 553h0M1485 582h0M1329 587h0M1457 529h0M1329 571h0M1411 553h0M1325 619h0M1437 586h0M1329 562h0M1434 627h0M1441 468h0M1520 543h0M1329 571h0M1322 597h0M1456 584h0M1366 515h0M1433 471h0M1458 607h0M1320 566h0M1330 597h0M1367 485h0M1497 617h0M1395 578h0M1358 488h0M1397 559h0M1458 611h0M1479 586h0M1399 543h0M1524 508h0M1457 514h0M1435 500h0M1359 582h0M1326 626h0M1306 476h0M1419 478h0M1393 519h0M1415 624h0M1313 605h0M1460 492h0M1496 478h0M1363 594h0M1367 467h0M1493 529h0M1491 518h0M1359 579h0M1467 602h0M1343 565h0M1485 606h0M1499 620h0M1421 548h0M1497 605h0M1324 624h0M1366 623h0M1315 500h0M1435 501h0M1308 523h0M1318 534h0M1418 622h0M1416 476h0M1325 548h0M1455 562h0M1432 468h0M1502 569h0M1399 625h0M1411 487h0M1438 506h0M1308 517h0M1318 625h0M1361 579h0M1467 579h0M1375 554h0M1310 504h0M1369 586h0M1368 518h0M1398 506h0M1310 520h0M1352 494h0M1350 558h0M1494 616h0M1324 522h0M1452 512h0M1308 518h0M1410 626h0M1425 481h0M1372 503h0M1328 621h0M1401 573h0M1363 493h0M1323 582h0M1452 528h0M1333 557h0M1420 552h0M1484 579h0M1380 558h0M1301 515h0M1414 596h0M1373 523h0M1350 489h0M1314 507h0M1486 501h0M1314 566h0M1345 564h0M1375 514h0M1345 567h0M1378 614h0M1367 538h0M1388 621h0M1513 580h0M1409 614h0M1488 623h0M1339 590h0M1487 584h0M1413 545h0M1455 524h0M1403 552h0M1371 555h0M1309 516h0M1516 495h0M1460 605h0M1438 570h0M1479 484h0M1357 573h0M1464 590h0M1469 578h0M1451 480h0M1320 482h0M1377 490h0M1479 624h0M1316 519h0M1377 496h0M1501 599h0M1395 617h0M1425 493h0M1307 610h0M1443 480h0M1470 585h0M1376 613h0M1414 472h0M1423 474h0M1359 482h0M1501 501h0M1456 520h0M1511 508h0M1385 592h0M1356 552h0M1413 549h0M1503 498h0M1341 481h0M1379 567h0M1429 495h0M1516 549h0M1502 540h0M1504 504h0M1486 503h0M1314 602h0M1483 538h0M1423 598h0M1322 466h0M1402 587h0M1507 504h0M1368 570h0M1519 506h0M1508 500h0M1433 547h0M1333 587h0M1303 531h0M1393 515h0M1513 480h0M1506 531h0M1356 567h0M1434 618h0M1519 506h0M1476 483h0M1508 539h0M1512 589h0M1409 554h0M1395 471h0M1311 514h0M1333 561h0M1366 522h0M1488 499h0M1324 565h0M1489 506h0M1302 532h0M1381 507h0M1444 586h0M1457 476h0M1406 539h0M1402 610h0M1460 598h0M1509 476h0M1501 523h0M1447 551h0M1326 569h0M1391 470h0M1307 511h0M1378 602h0M1329 564h0M1350 558h0M1366 491h0M1344 566h0M1513 501h0M1499 533h0M1331 586h0M1318 617h0M1417 523h0M1448 530h0M1310 527h0M1358 507h0M1407 535h0M1383 552h0M1395 489h0M1332 488h0M1376 486h0M1475 542h0M1440 480h0M1489 481h0M1438 585h0M1388 478h0M1401 574h0M1371 503h0M1363 593h0M1307 523h0M1502 617h0M1453 476h0M1341 599h0M1309 516h0M1505 507h0M1487 575h0M1441 586h0M1493 577h0M1422 586h0M1488 609h0M1519 571h0M1458 520h0M1439 472h0M1509 507h0M1394 615h0M1399 500h0M1395 577h0M1475 478h0M1399 621h0M1347 548h0M1499 613h0M1395 592h0M1355 564h0M1337 514h0M1524 579h0M1432 625h0M1414 624h0M1410 516h0M1340 600h0M1397 535h0M1347 479h0M1310 508h0M1332 589h0M1313 616h0M1489 585h0M1490 588h0M1523 587h0M1426 620h0M1319 528h0M1405 624h0M1319 577h0M1418 516h0M1429 538h0M1501 613h0M1467 516h0M1321 599h0M1476 545h0M1407 558h0M1494 615h0M1365 574h0M1399 580h0M1493 603h0M1475 490h0M1349 575h0M1491 585h0M1369 506h0M1515 505h0" stroke="#a466cc" stroke-width="5.6" stroke-linecap="round" opacity="0.75"/>
<path d="M1461 469h0M1323 610h0M1314 608h0M1411 508h0M1421 599h0M1330 575h0M1493 485h0M1494 587h0M1430 622h0M1344 506h0M1446 530h0M1407 543h0M1367 534h0M1436 466h0M1404 611h0M1442 484h0M1427 606h0M1392 624h0M1338 619h0M1456 517h0M1489 616h0M1484 533h0M1393 624h0M1399 509h0M1349 586h0M1497 614h0M1325 563h0M1339 553h0M1368 478h0M1308 498h0M1436 480h0M1499 498h0M1360 584h0M1322 571h0M1328 529h0M1459 575h0M1353 489h0M1373 534h0M1450 597h0M1354 479h0M1495 489h0M1404 547h0M1493 523h0M1481 493h0M1467 574h0M1339 508h0M1317 530h0M1459 581h0M1457 581h0M1456 575h0M1342 616h0M1445 481h0M1301 523h0M1370 504h0M1328 528h0M1441 501h0M1488 598h0M1459 584h0M1349 546h0M1347 554h0M1411 628h0M1406 558h0M1456 514h0M1483 604h0M1400 593h0M1469 591h0M1501 535h0M1405 594h0M1304 528h0M1327 526h0M1345 544h0M1440 487h0M1311 521h0M1481 576h0M1518 590h0M1330 610h0M1385 482h0M1379 619h0M1432 622h0M1350 505h0M1494 483h0M1315 528h0M1315 605h0M1431 495h0M1367 606h0M1445 561h0M1470 576h0M1359 613h0M1407 544h0M1456 597h0M1376 605h0M1470 582h0M1343 479h0M1304 559h0M1435 558h0M1520 489h0M1349 477h0M1517 520h0M1358 477h0M1516 572h0M1348 481h0M1363 586h0M1317 558h0M1312 602h0M1498 619h0M1493 524h0M1481 578h0M1407 556h0M1396 506h0M1519 506h0M1498 501h0M1361 610h0M1506 614h0M1448 482h0M1524 599h0M1346 598h0M1396 505h0M1430 546h0M1491 605h0M1526 585h0M1524 553h0M1485 582h0M1329 587h0M1457 529h0M1329 571h0M1411 553h0M1325 619h0M1437 586h0M1329 562h0M1434 627h0M1441 468h0M1520 543h0M1329 571h0M1322 597h0M1456 584h0M1366 515h0M1433 471h0M1458 607h0M1320 566h0M1330 597h0M1367 485h0M1497 617h0M1395 578h0M1358 488h0M1397 559h0M1458 611h0M1479 586h0M1399 543h0M1524 508h0M1457 514h0M1435 500h0M1359 582h0M1326 626h0M1306 476h0M1419 478h0M1393 519h0M1415 624h0M1313 605h0M1460 492h0M1496 478h0M1363 594h0M1367 467h0M1493 529h0M1491 518h0M1359 579h0M1467 602h0M1343 565h0M1485 606h0M1499 620h0M1421 548h0M1497 605h0M1324 624h0M1366 623h0M1315 500h0M1435 501h0M1308 523h0M1318 534h0M1418 622h0M1416 476h0M1325 548h0M1455 562h0M1432 468h0M1502 569h0M1399 625h0M1411 487h0M1438 506h0M1308 517h0M1318 625h0M1361 579h0M1467 579h0M1375 554h0M1310 504h0M1369 586h0M1368 518h0M1398 506h0M1310 520h0M1352 494h0M1350 558h0M1494 616h0M1324 522h0M1452 512h0M1308 518h0M1410 626h0M1425 481h0M1372 503h0M1328 621h0M1401 573h0M1363 493h0M1323 582h0M1452 528h0M1333 557h0M1420 552h0M1484 579h0M1380 558h0M1301 515h0M1414 596h0M1373 523h0M1350 489h0M1314 507h0M1486 501h0M1314 566h0M1345 564h0M1375 514h0M1345 567h0M1378 614h0M1367 538h0M1388 621h0M1513 580h0M1409 614h0M1488 623h0M1339 590h0M1487 584h0M1413 545h0M1455 524h0M1403 552h0M1371 555h0M1309 516h0M1516 495h0M1460 605h0M1438 570h0M1479 484h0M1357 573h0M1464 590h0M1469 578h0M1451 480h0M1320 482h0M1377 490h0M1479 624h0M1316 519h0M1377 496h0M1501 599h0M1395 617h0M1425 493h0M1307 610h0M1443 480h0M1470 585h0M1376 613h0M1414 472h0M1423 474h0M1359 482h0M1501 501h0M1456 520h0M1511 508h0M1385 592h0M1356 552h0M1413 549h0M1503 498h0M1341 481h0M1379 567h0M1429 495h0M1516 549h0M1502 540h0M1504 504h0M1486 503h0M1314 602h0M1483 538h0M1423 598h0M1322 466h0M1402 587h0M1507 504h0M1368 570h0M1519 506h0M1508 500h0M1433 547h0M1333 587h0M1303 531h0M1393 515h0M1513 480h0M1506 531h0M1356 567h0M1434 618h0M1519 506h0M1476 483h0M1508 539h0M1512 589h0M1409 554h0M1395 471h0M1311 514h0M1333 561h0M1366 522h0M1488 499h0M1324 565h0M1489 506h0M1302 532h0M1381 507h0M1444 586h0M1457 476h0M1406 539h0M1402 610h0M1460 598h0M1509 476h0M1501 523h0M1447 551h0M1326 569h0M1391 470h0M1307 511h0M1378 602h0M1329 564h0M1350 558h0M1366 491h0M1344 566h0M1513 501h0M1499 533h0M1331 586h0M1318 617h0M1417 523h0M1448 530h0M1310 527h0M1358 507h0M1407 535h0M1383 552h0M1395 489h0M1332 488h0M1376 486h0M1475 542h0M1440 480h0M1489 481h0M1438 585h0M1388 478h0M1401 574h0M1371 503h0M1363 593h0M1307 523h0M1502 617h0M1453 476h0M1341 599h0M1309 516h0M1505 507h0M1487 575h0M1441 586h0M1493 577h0M1422 586h0M1488 609h0M1519 571h0M1458 520h0M1439 472h0M1509 507h0M1394 615h0M1399 500h0M1395 577h0M1475 478h0M1399 621h0M1347 548h0M1499 613h0M1395 592h0M1355 564h0M1337 514h0M1524 579h0M1432 625h0M1414 624h0M1410 516h0M1340 600h0M1397 535h0M1347 479h0M1310 508h0M1332 589h0M1313 616h0M1489 585h0M1490 588h0M1523 587h0M1426 620h0M1319 528h0M1405 624h0M1319 577h0M1418 516h0M1429 538h0M1501 613h0M1467 516h0M1321 599h0M1476 545h0M1407 558h0M1494 615h0M1365 574h0M1399 580h0M1493 603h0M1475 490h0M1349 575h0M1491 585h0M1369 506h0M1515 505h0" stroke="#5a2890" stroke-width="3.4" stroke-linecap="round" opacity="1.0"/>
<path d="M1632 554h0M1750 496h0M1653 489h0M1611 585h0M1596 606h0M1658 529h0M1593 551h0M1619 551h0M1595 572h0M1768 472h0M1598 609h0M1547 614h0M1677 581h0M1736 545h0M1659 538h0M1638 583h0M1590 597h0M1545 488h0M1677 540h0M1644 516h0M1724 525h0M1711 571h0M1666 627h0M1611 550h0M1633 477h0M1602 608h0M1600 498h0M1562 536h0M1758 624h0M1720 574h0M1543 540h0M1625 550h0M1587 562h0M1642 468h0M1603 583h0M1592 540h0M1566 488h0M1666 621h0M1626 544h0M1717 579h0M1576 474h0M1731 500h0M1552 535h0M1765 577h0M1749 618h0M1649 546h0M1757 534h0M1600 623h0M1543 534h0M1677 585h0" stroke="#9a70c4" stroke-width="5.6" stroke-linecap="round" opacity="0.7"/>
<path d="M1632 554h0M1750 496h0M1653 489h0M1611 585h0M1596 606h0M1658 529h0M1593 551h0M1619 551h0M1595 572h0M1768 472h0M1598 609h0M1547 614h0M1677 581h0M1736 545h0M1659 538h0M1638 583h0M1590 597h0M1545 488h0M1677 540h0M1644 516h0M1724 525h0M1711 571h0M1666 627h0M1611 550h0M1633 477h0M1602 608h0M1600 498h0M1562 536h0M1758 624h0M1720 574h0M1543 540h0M1625 550h0M1587 562h0M1642 468h0M1603 583h0M1592 540h0M1566 488h0M1666 621h0M1626 544h0M1717 579h0M1576 474h0M1731 500h0M1552 535h0M1765 577h0M1749 618h0M1649 546h0M1757 534h0M1600 623h0M1543 534h0M1677 585h0" stroke="#4e2a80" stroke-width="3.4" stroke-linecap="round" opacity="1.0"/>
<path d="M2004 588h0M1846 590h0M1851 528h0M1805 628h0M1994 536h0M1996 499h0M1874 555h0M1876 547h0M1913 593h0M1916 572h0M1818 619h0M1801 605h0M1850 549h0M1860 502h0M1808 536h0M1868 596h0M1893 503h0M1898 599h0M1836 503h0M1954 617h0M1936 480h0M1930 502h0M1901 524h0M1980 604h0M1824 578h0M2005 608h0M1801 597h0M2003 573h0M2004 481h0M1815 626h0M1922 510h0M1964 515h0M1806 595h0M1861 575h0M1942 547h0M1827 580h0M1934 524h0M1951 521h0M1867 479h0M1986 566h0M1976 557h0M1887 614h0M1938 569h0M1969 515h0M1999 534h0M1926 520h0M2002 531h0M1898 620h0M1843 565h0M1977 618h0M1898 606h0M1844 503h0M1978 484h0M1823 535h0M1917 582h0M1794 526h0M1994 570h0M1841 556h0" stroke="#9a70c4" stroke-width="5.6" stroke-linecap="round" opacity="0.7"/>
<path d="M2004 588h0M1846 590h0M1851 528h0M1805 628h0M1994 536h0M1996 499h0M1874 555h0M1876 547h0M1913 593h0M1916 572h0M1818 619h0M1801 605h0M1850 549h0M1860 502h0M1808 536h0M1868 596h0M1893 503h0M1898 599h0M1836 503h0M1954 617h0M1936 480h0M1930 502h0M1901 524h0M1980 604h0M1824 578h0M2005 608h0M1801 597h0M2003 573h0M2004 481h0M1815 626h0M1922 510h0M1964 515h0M1806 595h0M1861 575h0M1942 547h0M1827 580h0M1934 524h0M1951 521h0M1867 479h0M1986 566h0M1976 557h0M1887 614h0M1938 569h0M1969 515h0M1999 534h0M1926 520h0M2002 531h0M1898 620h0M1843 565h0M1977 618h0M1898 606h0M1844 503h0M1978 484h0M1823 535h0M1917 582h0M1794 526h0M1994 570h0M1841 556h0" stroke="#4e2a80" stroke-width="3.4" stroke-linecap="round" opacity="1.0"/>
<rect x="1305.7" y="277.5" width="20.0" height="5.0" fill="#d8cf5a" opacity="0.9"/>
<rect x="1305.7" y="473.0" width="20.0" height="5.0" fill="#d8cf5a" opacity="0.9"/>
<rect x="1548.5" y="277.5" width="20.0" height="5.0" fill="#d8cf5a" opacity="0.9"/>
<rect x="1548.5" y="473.0" width="20.0" height="5.0" fill="#d8cf5a" opacity="0.9"/>
<rect x="1790.0" y="277.5" width="20.0" height="5.0" fill="#d8cf5a" opacity="0.9"/>
<rect x="1790.0" y="473.0" width="20.0" height="5.0" fill="#d8cf5a" opacity="0.9"/>
<text transform="translate(1409.0,721.5) scale(1,1.025)" font-size="32.8" text-anchor="middle" fill="#1c1c1c" stroke="#1c1c1c" stroke-width="0.45">Scramble</text>
<text transform="translate(1654.0,720.8) scale(1,1.025)" font-size="32.8" text-anchor="middle" fill="#1c1c1c" stroke="#1c1c1c" stroke-width="0.45">shPPP1R14D-1</text>
<text transform="translate(1900.5,720.8) scale(1,1.025)" font-size="32.8" text-anchor="middle" fill="#1c1c1c" stroke="#1c1c1c" stroke-width="0.45">shPPP1R14D-2</text>
<line x1="1245.3" y1="740.5" x2="1245.3" y2="1116.0" stroke="#333" stroke-width="2.5"/>
<text transform="translate(1234.0,916.0) rotate(-90) scale(1,1.025)" font-size="32.8" text-anchor="middle" fill="#1c1c1c" stroke="#1c1c1c" stroke-width="0.45">Invasion</text>
<text transform="translate(1290.5,824.5) rotate(-90) scale(1,1.025)" font-size="32.8" text-anchor="middle" fill="#1c1c1c" stroke="#1c1c1c" stroke-width="0.45">A549</text>
<text transform="translate(1288.5,999.0) rotate(-90) scale(1,1.025)" font-size="32.8" text-anchor="middle" fill="#1c1c1c" stroke="#1c1c1c" stroke-width="0.45">PC-9</text>
<rect x="1303.5" y="737.0" width="228.5" height="184.0" fill="#72b1b0"/>
<path d="M1475 798h0M1428 746h0M1394 906h0M1432 745h0M1321 876h0M1483 780h0M1531 831h0M1479 844h0M1455 751h0M1441 918h0M1423 920h0M1512 753h0M1407 804h0M1432 905h0M1529 779h0M1438 772h0M1493 750h0M1526 787h0M1342 814h0M1503 838h0M1511 919h0M1465 753h0M1316 771h0M1514 759h0M1473 913h0M1471 849h0M1336 837h0M1527 909h0M1320 754h0M1317 845h0M1481 801h0M1427 806h0M1476 858h0M1468 791h0M1390 914h0M1441 836h0M1471 824h0M1328 791h0M1481 905h0M1498 861h0M1514 761h0M1355 845h0M1507 896h0M1312 742h0M1329 759h0M1341 772h0M1530 909h0M1444 752h0M1478 809h0M1372 877h0M1455 829h0M1358 824h0M1499 782h0M1367 804h0M1435 872h0M1382 791h0M1466 786h0M1452 859h0M1471 880h0M1352 854h0M1363 807h0M1515 781h0M1342 872h0M1351 808h0M1426 780h0M1502 826h0M1332 824h0M1366 844h0M1517 891h0M1337 857h0M1370 898h0M1333 761h0M1391 753h0M1305 832h0M1402 825h0M1329 760h0M1357 785h0M1470 788h0M1341 753h0M1345 865h0M1463 755h0M1439 834h0M1429 894h0M1523 910h0M1464 798h0M1411 762h0M1457 889h0M1430 767h0M1360 895h0M1394 888h0M1489 790h0M1464 870h0M1511 878h0M1368 810h0M1321 749h0M1448 896h0M1522 749h0M1375 831h0M1323 843h0M1440 821h0M1496 863h0M1514 834h0M1320 859h0M1361 777h0M1405 894h0M1390 755h0M1455 886h0M1388 865h0M1511 774h0M1518 791h0M1404 903h0M1308 761h0M1329 893h0M1469 889h0M1356 831h0M1370 748h0M1373 752h0M1315 879h0M1336 857h0M1328 821h0M1445 885h0M1403 761h0M1375 809h0M1420 896h0M1349 786h0M1454 874h0M1485 759h0M1451 739h0M1465 809h0M1475 809h0M1362 863h0M1344 840h0M1422 887h0M1508 768h0M1346 916h0M1444 800h0M1490 917h0M1427 809h0M1408 773h0M1442 743h0M1367 874h0M1479 774h0M1411 850h0M1339 815h0M1399 901h0M1350 880h0M1398 917h0M1453 756h0M1448 856h0M1466 900h0M1351 910h0M1389 882h0M1463 790h0M1522 839h0M1408 883h0M1320 885h0M1322 863h0M1337 860h0M1457 918h0M1395 787h0M1410 832h0M1346 887h0M1504 908h0M1502 786h0M1436 748h0M1402 864h0M1483 878h0M1495 743h0M1512 807h0M1421 884h0M1430 760h0M1482 906h0M1453 851h0M1401 906h0M1462 845h0M1369 788h0M1530 774h0M1457 802h0M1384 811h0M1389 767h0M1387 803h0M1403 901h0M1503 883h0M1494 918h0M1394 859h0M1369 823h0M1428 798h0M1462 920h0M1425 894h0M1428 808h0M1424 781h0M1483 784h0M1381 838h0M1412 880h0M1455 870h0M1449 790h0M1394 747h0M1452 855h0M1389 875h0M1415 832h0M1329 862h0M1522 913h0M1387 803h0M1440 898h0M1467 882h0M1496 889h0M1462 796h0M1407 915h0M1338 907h0M1324 918h0M1429 913h0M1421 857h0M1472 776h0M1511 826h0M1526 888h0M1368 799h0M1461 846h0M1490 846h0M1382 809h0M1469 886h0M1368 918h0M1314 780h0M1361 913h0M1519 913h0M1454 828h0M1352 850h0M1465 904h0M1507 781h0M1317 780h0M1386 887h0M1422 918h0M1371 916h0M1489 868h0M1351 825h0M1329 895h0M1332 842h0M1450 820h0M1452 782h0M1319 764h0M1366 798h0M1392 829h0M1379 776h0M1442 865h0M1346 843h0M1447 909h0M1513 791h0M1403 834h0M1330 740h0M1434 879h0M1444 842h0M1425 893h0M1515 802h0M1407 823h0M1492 872h0M1413 877h0M1451 803h0M1349 793h0M1492 805h0M1370 754h0M1505 823h0M1310 779h0M1365 903h0M1406 817h0M1305 743h0M1412 828h0M1485 914h0M1516 757h0M1521 768h0M1318 879h0M1345 830h0M1367 917h0M1321 891h0M1420 851h0M1403 852h0M1313 793h0M1361 778h0M1325 877h0M1396 878h0M1318 908h0M1344 911h0M1417 897h0M1400 744h0M1432 747h0M1527 835h0M1431 895h0M1345 820h0M1399 856h0M1503 844h0M1528 823h0M1317 788h0M1371 813h0M1515 878h0M1448 844h0M1312 867h0M1336 909h0M1354 877h0M1382 762h0M1519 829h0M1396 903h0M1309 858h0M1331 897h0M1485 801h0M1424 784h0M1513 909h0M1316 879h0M1359 810h0M1422 783h0M1530 844h0M1501 740h0M1307 803h0M1353 901h0M1382 820h0M1348 907h0M1430 869h0M1327 754h0M1472 824h0M1502 812h0M1502 915h0M1451 845h0M1350 753h0M1358 822h0M1440 789h0M1447 890h0M1393 853h0M1413 813h0M1479 826h0M1451 795h0M1503 808h0M1474 787h0M1520 821h0M1392 872h0M1529 825h0M1441 781h0M1442 777h0M1356 847h0M1342 890h0M1388 824h0M1492 791h0M1409 833h0M1313 820h0M1425 889h0M1456 781h0M1473 832h0M1391 785h0M1431 815h0M1438 902h0M1415 806h0M1444 744h0M1517 844h0M1308 746h0M1435 904h0M1373 882h0M1443 864h0M1486 849h0M1337 893h0M1312 771h0M1380 846h0M1388 879h0M1518 748h0M1405 771h0M1392 915h0M1472 786h0M1444 759h0M1433 891h0M1328 818h0M1462 883h0M1401 763h0M1486 842h0M1362 874h0M1461 789h0M1418 775h0M1481 898h0M1317 780h0M1509 825h0M1440 895h0M1475 878h0M1313 846h0M1459 769h0M1478 746h0M1511 770h0M1494 868h0M1470 813h0M1393 783h0M1414 788h0M1395 810h0M1378 739h0M1446 774h0M1472 851h0M1501 837h0M1461 767h0M1321 914h0M1525 870h0M1523 826h0M1449 800h0M1467 883h0M1483 761h0M1356 740h0M1428 895h0M1436 781h0M1349 811h0M1474 793h0M1491 740h0M1380 771h0M1530 908h0M1462 820h0M1505 773h0M1483 901h0M1369 773h0M1379 740h0M1509 841h0M1460 877h0M1424 850h0M1308 893h0M1431 886h0M1373 739h0M1453 787h0M1359 793h0M1385 789h0M1319 807h0M1354 811h0M1436 855h0M1332 829h0M1310 834h0M1324 851h0M1409 794h0M1307 875h0M1311 868h0M1500 773h0M1378 755h0M1345 854h0M1365 858h0M1364 833h0M1463 749h0M1412 841h0M1445 851h0M1347 782h0M1347 912h0M1365 822h0M1510 892h0M1370 812h0M1373 804h0M1382 836h0M1384 812h0M1381 790h0M1458 778h0M1363 880h0M1328 785h0M1414 902h0M1473 802h0M1310 813h0M1496 831h0M1400 861h0M1388 845h0M1483 837h0M1318 835h0M1426 816h0M1405 752h0M1371 811h0M1449 789h0M1416 911h0M1409 800h0M1316 883h0M1482 791h0M1419 752h0M1516 754h0M1419 820h0M1524 830h0M1355 889h0M1374 843h0M1419 745h0M1416 776h0M1468 876h0M1314 768h0M1522 892h0M1503 792h0M1306 759h0M1423 905h0M1310 824h0M1510 766h0M1385 792h0M1403 802h0M1319 771h0M1508 855h0M1387 793h0M1381 799h0M1468 823h0M1379 750h0M1486 885h0M1467 898h0M1426 771h0M1407 772h0M1379 768h0M1489 844h0M1342 798h0M1462 740h0M1421 896h0M1324 845h0M1404 815h0M1464 897h0M1392 801h0M1478 738h0M1384 796h0M1356 739h0M1483 777h0M1433 890h0M1410 909h0M1389 878h0M1529 917h0M1463 805h0M1325 877h0M1444 773h0M1462 891h0M1417 823h0M1407 897h0M1420 835h0M1344 783h0M1460 842h0M1453 897h0M1351 913h0M1478 798h0M1342 748h0M1389 887h0M1509 761h0M1416 916h0M1453 878h0M1315 767h0M1380 912h0M1320 830h0M1480 763h0M1316 740h0M1492 880h0M1337 748h0M1436 757h0M1439 903h0M1355 743h0M1336 891h0M1452 908h0M1523 818h0M1307 912h0M1521 774h0M1451 738h0M1407 838h0M1318 785h0M1454 874h0M1420 899h0M1423 774h0M1332 797h0M1470 749h0M1391 816h0M1329 917h0M1406 910h0M1350 897h0M1443 847h0M1361 847h0M1310 757h0M1359 849h0M1326 851h0M1503 769h0M1439 777h0M1524 777h0M1420 771h0M1398 837h0M1341 854h0M1526 790h0M1512 879h0M1469 814h0M1528 877h0M1370 862h0M1512 835h0M1341 769h0M1363 860h0M1308 916h0M1425 886h0M1415 889h0M1329 806h0M1395 776h0M1511 853h0M1518 748h0M1394 844h0M1331 849h0M1512 783h0M1424 798h0M1348 766h0M1376 874h0M1487 870h0M1427 781h0M1514 832h0M1513 905h0M1333 800h0M1344 806h0M1523 793h0M1413 870h0M1403 799h0M1331 786h0M1385 868h0M1382 915h0M1462 813h0M1489 802h0M1408 822h0M1361 898h0M1388 809h0M1396 782h0M1328 862h0M1395 832h0M1399 803h0M1386 785h0M1390 759h0M1329 902h0M1440 896h0M1437 871h0M1376 815h0M1319 826h0M1487 785h0M1378 839h0M1359 832h0M1490 840h0M1392 870h0M1447 835h0M1322 858h0M1494 752h0M1363 768h0M1330 764h0M1359 795h0M1409 891h0M1457 913h0M1402 783h0M1379 798h0M1453 870h0M1486 901h0M1449 821h0M1337 919h0M1487 790h0M1399 776h0M1498 773h0M1521 903h0M1305 848h0M1397 871h0M1510 792h0M1358 766h0M1451 885h0M1484 760h0M1431 775h0M1493 793h0M1461 877h0M1333 791h0M1444 912h0M1365 775h0M1490 903h0M1319 768h0M1526 774h0M1461 887h0M1526 789h0M1501 818h0M1367 758h0M1521 755h0M1490 883h0M1403 881h0M1330 807h0M1358 861h0M1477 919h0M1419 798h0M1307 760h0M1502 795h0M1363 907h0M1394 846h0M1356 890h0M1409 853h0M1478 885h0M1412 866h0M1316 774h0M1392 850h0M1316 804h0M1477 877h0M1529 891h0M1334 842h0M1388 746h0M1398 898h0M1349 886h0M1306 754h0M1454 919h0M1312 862h0M1368 824h0M1408 865h0M1397 864h0M1382 786h0M1503 775h0M1337 816h0M1397 782h0M1529 881h0M1464 870h0M1486 847h0M1410 883h0M1306 838h0M1417 840h0M1425 885h0M1460 791h0M1380 882h0M1349 767h0M1432 850h0M1494 824h0M1369 853h0M1319 899h0M1405 831h0M1520 751h0M1509 869h0M1412 756h0M1485 762h0M1486 917h0M1491 782h0M1389 897h0M1362 835h0M1362 755h0M1477 843h0M1340 880h0M1346 876h0M1378 786h0M1484 788h0M1517 791h0M1460 863h0M1417 741h0M1402 796h0M1340 886h0M1423 771h0M1358 919h0M1460 781h0M1436 885h0M1443 760h0M1369 773h0M1496 866h0M1416 875h0M1328 913h0M1418 753h0M1410 852h0M1342 909h0M1361 882h0M1477 847h0M1326 880h0M1323 743h0M1349 907h0M1319 795h0M1452 876h0M1395 747h0M1416 878h0M1354 828h0M1438 879h0M1414 884h0M1351 831h0M1306 835h0M1518 894h0M1511 900h0M1506 739h0M1518 826h0M1504 789h0M1501 757h0M1448 802h0M1424 894h0M1461 804h0M1505 802h0M1371 771h0M1495 741h0M1463 746h0M1429 763h0M1365 854h0M1510 917h0M1415 802h0M1441 775h0M1363 757h0M1317 904h0M1481 897h0M1372 801h0M1333 830h0M1349 764h0M1355 778h0M1387 917h0M1467 775h0M1386 830h0M1479 873h0M1385 826h0M1471 891h0M1526 787h0M1341 867h0M1475 785h0M1311 767h0M1369 753h0M1461 836h0M1436 916h0M1344 818h0M1472 798h0M1336 819h0M1318 794h0M1342 854h0M1460 855h0M1523 763h0M1359 777h0M1439 883h0M1443 774h0M1524 754h0M1446 871h0M1451 796h0M1524 813h0M1386 905h0M1381 757h0M1492 890h0M1368 822h0M1311 888h0M1528 800h0M1474 834h0M1524 847h0M1311 891h0M1361 863h0M1441 906h0M1477 828h0M1367 783h0M1513 887h0M1514 771h0M1454 756h0M1334 862h0M1426 787h0M1465 897h0M1452 786h0M1417 887h0M1317 915h0M1491 906h0M1357 842h0M1405 909h0M1520 909h0M1332 834h0M1479 814h0M1353 841h0M1305 810h0M1492 830h0M1508 832h0M1344 770h0M1439 860h0M1429 872h0M1513 772h0M1512 774h0M1381 832h0M1429 919h0M1358 762h0M1494 754h0M1368 772h0M1357 857h0M1389 818h0M1485 840h0M1311 863h0M1516 894h0M1492 906h0M1327 764h0M1440 891h0M1418 820h0M1369 805h0M1426 864h0M1374 805h0M1322 835h0M1522 854h0M1465 881h0M1315 832h0M1390 828h0M1469 911h0M1506 762h0M1426 867h0M1343 822h0M1509 897h0M1485 890h0M1305 859h0M1397 778h0M1346 900h0M1347 751h0M1445 784h0M1349 825h0M1460 739h0M1325 780h0M1496 894h0M1327 813h0M1355 818h0M1418 915h0M1368 807h0M1371 834h0M1521 895h0M1518 851h0M1411 817h0M1408 868h0M1525 838h0M1355 828h0M1467 911h0M1345 782h0M1368 798h0M1499 877h0M1452 865h0M1350 900h0M1487 759h0M1463 746h0M1409 743h0M1525 848h0M1434 816h0M1467 892h0M1511 796h0M1415 885h0M1454 866h0M1508 874h0M1403 876h0M1488 876h0M1441 902h0M1405 880h0M1488 764h0M1323 780h0M1326 905h0M1515 746h0M1522 790h0M1353 793h0M1490 777h0M1401 871h0M1421 869h0M1511 842h0M1390 757h0M1425 812h0M1335 804h0M1430 885h0M1346 821h0M1526 887h0M1390 920h0M1497 887h0M1498 919h0M1307 745h0M1479 769h0M1346 864h0M1457 819h0M1407 828h0M1381 742h0M1400 871h0M1349 825h0M1366 802h0M1481 916h0M1516 749h0M1409 861h0M1385 887h0M1355 756h0M1428 900h0M1518 895h0M1439 893h0M1352 838h0M1324 855h0M1389 819h0M1341 847h0M1350 811h0M1355 831h0M1496 820h0M1334 888h0M1525 852h0" stroke="#3f6f78" stroke-width="2" stroke-linecap="round" opacity="0.5"/>
<rect x="1542.7" y="737.0" width="228.5" height="184.0" fill="#72b1b0"/>
<path d="M1711 765h0M1678 758h0M1637 872h0M1557 914h0M1763 850h0M1754 826h0M1689 895h0M1626 802h0M1691 861h0M1707 805h0M1628 906h0M1717 823h0M1723 909h0M1645 855h0M1550 760h0M1587 827h0M1583 759h0M1691 869h0M1742 901h0M1762 820h0M1565 884h0M1685 877h0M1600 907h0M1740 897h0M1675 918h0M1730 802h0M1567 875h0M1616 839h0M1732 761h0M1578 861h0M1642 914h0M1600 814h0M1718 830h0M1573 803h0M1569 805h0M1746 828h0M1729 853h0M1593 827h0M1617 741h0M1604 880h0M1577 859h0M1711 786h0M1643 826h0M1760 837h0M1702 884h0M1730 912h0M1763 788h0M1567 769h0M1602 755h0M1553 826h0M1715 806h0M1683 809h0M1622 771h0M1712 854h0M1554 901h0M1546 750h0M1750 829h0M1612 805h0M1660 836h0M1724 803h0M1595 885h0M1699 845h0M1682 913h0M1569 813h0M1590 839h0M1549 898h0M1637 786h0M1609 894h0M1664 823h0M1663 885h0M1680 754h0M1732 759h0M1552 917h0M1690 885h0M1560 814h0M1679 880h0M1715 877h0M1577 738h0M1568 898h0M1550 836h0M1714 889h0M1669 858h0M1568 808h0M1760 863h0M1663 803h0M1564 794h0M1712 854h0M1690 860h0M1638 827h0M1628 788h0M1595 799h0M1600 747h0M1674 742h0M1714 893h0M1608 831h0M1675 830h0M1699 820h0M1606 883h0M1724 852h0M1735 749h0M1641 810h0M1557 819h0M1685 783h0M1707 840h0M1594 803h0M1581 857h0M1589 854h0M1691 792h0M1752 911h0M1731 761h0M1599 842h0M1695 870h0M1591 912h0M1623 860h0M1707 780h0M1640 818h0M1688 779h0M1751 740h0M1607 849h0M1611 818h0M1592 752h0M1604 853h0M1641 831h0M1731 762h0M1592 847h0M1615 882h0M1561 860h0M1605 877h0M1604 845h0M1631 753h0M1619 745h0M1631 851h0M1579 851h0M1578 793h0M1623 911h0M1562 847h0M1578 785h0M1680 886h0M1551 772h0M1622 805h0M1590 758h0M1614 849h0M1688 752h0M1564 748h0M1665 809h0M1610 768h0M1653 807h0M1555 792h0M1664 810h0M1559 820h0M1553 803h0M1692 812h0M1544 869h0M1767 788h0M1750 917h0M1659 889h0M1632 837h0M1580 746h0M1663 784h0M1599 817h0M1755 814h0M1553 876h0M1612 748h0M1629 739h0M1759 878h0M1668 914h0M1694 870h0M1754 840h0M1769 903h0M1611 812h0M1730 852h0M1666 809h0M1619 794h0M1718 851h0M1694 818h0M1585 906h0M1653 891h0M1754 761h0M1728 853h0M1736 742h0M1611 751h0M1635 917h0M1628 889h0M1713 889h0M1660 843h0M1674 770h0M1741 919h0M1598 880h0M1724 805h0M1697 907h0M1732 918h0M1748 904h0M1746 814h0M1611 779h0M1581 879h0M1735 793h0M1602 804h0M1610 831h0M1725 768h0M1603 833h0M1694 791h0M1628 770h0M1591 873h0M1625 902h0M1663 822h0M1569 744h0M1715 857h0M1592 848h0M1694 917h0M1731 752h0M1591 868h0M1666 745h0M1750 837h0M1627 833h0M1609 813h0M1668 884h0M1654 797h0M1650 826h0M1632 815h0M1552 791h0M1645 865h0M1637 769h0M1594 835h0M1599 794h0M1633 783h0M1617 777h0M1742 878h0M1750 812h0M1696 753h0M1685 799h0M1699 753h0M1635 872h0M1564 910h0M1718 743h0M1759 798h0M1622 878h0M1688 743h0M1594 856h0M1642 903h0M1624 912h0M1711 891h0M1689 775h0M1642 898h0M1578 850h0M1679 760h0M1676 870h0M1602 783h0M1594 781h0M1588 795h0M1597 908h0M1738 803h0M1564 873h0M1701 780h0M1556 892h0M1646 885h0M1763 917h0M1717 785h0M1744 751h0M1659 869h0M1553 843h0M1589 912h0M1739 802h0M1697 821h0M1770 889h0M1636 757h0M1661 828h0M1581 855h0M1693 878h0M1702 844h0M1703 784h0M1567 851h0M1742 796h0M1753 906h0M1697 872h0M1680 869h0M1677 814h0M1708 852h0M1593 820h0M1578 793h0M1676 752h0M1760 896h0M1746 919h0M1732 752h0M1608 778h0M1695 895h0M1667 785h0M1748 779h0M1704 750h0M1728 759h0M1617 781h0M1687 775h0M1684 787h0M1608 904h0M1681 769h0M1746 810h0M1614 916h0M1752 835h0M1571 811h0M1744 892h0M1547 911h0M1689 787h0M1657 809h0M1745 786h0M1615 884h0M1657 747h0M1636 777h0M1684 806h0M1552 754h0M1570 899h0M1742 886h0M1651 771h0M1628 784h0M1753 886h0M1697 743h0M1647 886h0M1741 914h0M1680 834h0M1590 887h0M1687 914h0M1550 817h0M1621 749h0M1688 808h0M1754 743h0M1769 878h0M1748 867h0M1765 914h0M1738 870h0M1645 890h0M1562 866h0M1642 792h0M1590 914h0M1709 884h0M1679 789h0M1558 791h0M1677 805h0M1707 869h0M1700 908h0M1574 828h0M1674 905h0M1579 874h0M1629 910h0M1555 744h0M1715 843h0M1585 882h0M1603 873h0M1718 811h0M1601 788h0M1669 772h0M1721 779h0M1586 908h0M1667 845h0M1656 745h0M1554 900h0M1723 833h0M1729 809h0M1563 829h0M1622 892h0M1616 764h0M1604 890h0M1678 788h0M1726 802h0M1712 840h0M1756 774h0M1707 870h0M1740 789h0M1592 816h0M1761 739h0M1649 799h0M1655 798h0M1738 899h0M1742 828h0M1677 820h0M1608 831h0M1598 769h0M1713 906h0M1747 794h0M1569 912h0M1610 758h0M1760 860h0M1666 877h0M1595 758h0M1730 761h0M1709 774h0M1753 763h0M1707 883h0M1750 818h0M1578 797h0M1676 910h0M1658 775h0M1644 795h0M1608 863h0M1548 866h0M1548 826h0M1605 867h0M1735 759h0M1665 869h0M1767 817h0M1770 788h0M1744 790h0M1634 811h0M1651 915h0M1672 844h0M1739 858h0M1619 753h0M1587 820h0M1770 743h0M1565 899h0M1642 814h0M1612 790h0M1760 743h0M1689 808h0M1708 754h0M1623 862h0M1737 865h0M1569 778h0M1589 757h0M1591 795h0M1599 858h0M1602 835h0M1547 760h0M1736 880h0M1745 779h0M1693 919h0M1650 752h0M1548 785h0M1656 852h0M1729 779h0M1732 894h0M1728 752h0M1631 759h0M1644 751h0M1596 901h0M1630 808h0M1690 848h0M1675 859h0M1700 775h0M1653 853h0M1576 797h0M1591 918h0M1692 803h0M1588 739h0M1758 772h0M1725 905h0M1749 871h0M1684 914h0M1636 874h0M1749 813h0M1574 776h0M1610 875h0M1576 837h0M1579 756h0M1558 810h0M1691 825h0M1667 850h0M1564 896h0M1736 879h0M1547 811h0M1656 785h0M1768 871h0M1661 814h0M1553 902h0M1727 903h0M1684 754h0M1698 785h0M1606 869h0M1662 884h0M1727 876h0M1661 840h0M1730 918h0M1549 767h0M1646 830h0M1689 790h0M1655 786h0M1593 766h0M1726 805h0M1545 797h0M1678 903h0M1705 773h0M1640 853h0M1738 787h0M1643 764h0M1671 874h0M1699 920h0M1647 861h0M1701 745h0M1716 818h0M1550 901h0M1574 829h0M1631 833h0M1706 773h0M1720 769h0M1659 766h0M1599 758h0M1647 828h0M1765 904h0M1550 774h0M1668 880h0M1653 775h0M1580 918h0M1562 838h0M1736 811h0M1631 839h0M1679 914h0M1752 762h0M1579 750h0M1747 919h0M1550 809h0M1719 822h0M1754 808h0M1705 834h0M1648 783h0M1722 873h0M1754 768h0M1740 797h0M1670 853h0M1705 808h0M1578 891h0M1588 782h0M1579 920h0M1595 869h0M1739 778h0M1711 849h0M1608 806h0M1719 763h0M1694 784h0M1733 816h0M1565 907h0M1680 792h0M1551 823h0M1732 747h0M1726 851h0M1578 872h0M1581 739h0M1708 880h0M1732 757h0M1544 825h0M1699 777h0M1730 916h0M1751 851h0M1568 893h0M1594 773h0M1684 866h0M1583 861h0M1615 857h0M1724 759h0M1675 741h0M1666 834h0M1621 774h0M1592 871h0M1659 864h0M1621 804h0M1584 832h0M1744 834h0M1584 747h0M1573 755h0M1622 813h0M1677 882h0M1644 768h0M1549 740h0M1663 757h0M1572 875h0M1567 806h0M1572 920h0M1761 872h0M1548 756h0M1703 754h0M1601 780h0M1708 811h0M1597 911h0M1569 826h0M1639 802h0M1625 864h0M1572 775h0M1661 890h0M1600 756h0M1689 741h0M1689 912h0M1659 916h0M1650 803h0M1563 854h0M1679 865h0M1719 833h0M1737 754h0M1687 763h0M1575 824h0M1676 797h0M1550 769h0M1557 814h0M1632 880h0M1634 896h0M1575 761h0M1647 917h0M1643 792h0M1667 919h0M1577 872h0M1643 766h0M1699 905h0M1679 912h0M1682 886h0M1611 906h0M1689 756h0M1756 826h0M1722 806h0M1703 840h0M1658 839h0M1576 757h0M1567 888h0M1554 865h0M1699 838h0M1655 853h0M1707 866h0M1763 748h0M1567 810h0M1750 885h0M1550 884h0M1715 914h0M1717 820h0M1622 781h0M1687 767h0M1670 857h0M1730 859h0M1759 805h0M1619 795h0M1703 744h0M1637 760h0M1670 750h0M1619 808h0M1558 828h0M1704 903h0M1662 781h0M1556 829h0M1571 774h0M1551 738h0M1605 804h0M1557 809h0M1568 800h0M1682 803h0M1657 887h0M1571 782h0M1720 803h0M1706 764h0M1546 882h0M1626 918h0M1710 913h0M1633 739h0M1569 756h0M1574 796h0M1761 775h0M1716 779h0M1712 904h0M1759 864h0M1588 859h0M1715 863h0M1680 916h0M1654 899h0M1608 887h0M1618 786h0M1571 875h0M1634 757h0M1583 739h0M1566 797h0M1716 860h0M1692 901h0M1635 914h0M1730 802h0M1700 740h0M1620 919h0M1604 882h0M1681 853h0M1759 758h0M1674 775h0M1572 898h0M1685 908h0M1719 912h0M1726 770h0M1583 892h0M1740 828h0M1709 869h0M1588 751h0M1611 863h0M1767 906h0M1732 798h0M1760 819h0M1560 838h0M1719 777h0M1731 785h0M1602 917h0M1576 776h0M1594 886h0M1552 838h0M1691 917h0M1589 850h0M1569 837h0M1647 770h0M1589 758h0M1733 809h0M1551 868h0M1730 847h0M1725 909h0M1699 892h0M1638 817h0M1594 820h0M1625 830h0M1686 818h0M1607 877h0M1712 880h0M1546 887h0M1633 871h0M1567 803h0M1591 825h0M1581 862h0M1702 859h0M1733 822h0M1666 860h0M1623 904h0M1664 899h0M1567 886h0M1738 831h0M1548 900h0M1579 869h0M1714 755h0M1555 847h0M1719 851h0M1767 862h0M1718 761h0M1559 788h0M1614 853h0M1732 913h0M1638 870h0M1627 868h0M1697 916h0M1561 909h0M1752 755h0M1638 914h0M1728 834h0M1695 765h0M1555 839h0M1708 896h0M1574 795h0M1638 853h0M1561 857h0M1547 868h0M1654 845h0M1691 823h0M1566 900h0M1714 751h0M1557 825h0M1661 840h0M1720 786h0M1617 826h0M1571 772h0M1621 744h0M1750 835h0M1545 877h0M1643 852h0M1649 843h0M1610 775h0M1709 793h0M1700 901h0M1568 871h0M1652 836h0M1674 772h0M1585 857h0M1750 805h0M1652 871h0M1734 834h0M1683 865h0M1640 904h0M1734 815h0M1694 854h0M1558 887h0M1652 889h0M1585 740h0M1578 774h0M1680 744h0M1616 861h0M1760 851h0M1609 816h0M1578 844h0M1594 770h0M1606 856h0M1616 772h0M1755 893h0M1751 792h0M1669 895h0M1586 799h0M1715 820h0M1581 845h0M1704 820h0M1658 868h0M1550 811h0M1762 895h0M1702 781h0M1594 775h0M1558 861h0M1669 820h0M1766 774h0M1741 757h0M1573 831h0M1761 815h0M1739 905h0M1604 882h0M1561 819h0M1587 788h0M1681 766h0M1568 808h0M1739 916h0M1666 896h0M1713 889h0M1606 904h0M1742 791h0M1550 751h0M1722 820h0M1710 740h0M1669 916h0M1632 752h0M1748 910h0M1729 745h0M1602 888h0M1595 884h0M1663 792h0M1735 777h0M1765 750h0M1614 759h0M1695 818h0M1613 861h0M1754 814h0M1740 750h0M1646 871h0M1628 820h0M1594 857h0M1696 741h0M1556 791h0M1557 903h0M1692 779h0M1735 862h0M1635 820h0M1737 911h0M1668 746h0M1718 905h0M1765 786h0M1752 890h0M1611 752h0M1702 760h0M1572 779h0M1733 797h0M1645 823h0M1731 754h0M1712 875h0M1618 835h0M1545 837h0M1595 817h0M1712 920h0M1576 744h0M1638 906h0M1584 757h0M1587 855h0M1576 917h0M1729 771h0M1576 814h0M1655 915h0M1606 848h0M1574 908h0M1570 899h0M1615 794h0M1649 911h0M1671 790h0M1703 783h0M1608 753h0M1679 900h0M1694 887h0M1632 916h0M1682 772h0M1648 866h0M1736 843h0M1633 917h0M1630 883h0M1650 849h0M1700 754h0M1744 892h0M1703 837h0M1555 755h0M1609 828h0M1698 832h0M1672 848h0M1677 744h0M1741 769h0M1718 779h0M1665 880h0M1728 843h0M1595 791h0M1727 903h0M1553 829h0M1648 768h0M1588 837h0M1685 803h0M1721 860h0M1569 763h0M1569 788h0M1631 828h0M1664 774h0M1611 748h0M1614 753h0M1546 916h0M1708 864h0M1735 764h0M1620 880h0M1674 746h0M1603 773h0M1592 812h0M1672 756h0M1707 834h0M1587 903h0M1545 863h0M1617 912h0M1742 878h0M1607 809h0M1756 825h0M1710 770h0M1702 895h0M1724 908h0M1620 830h0M1736 768h0M1606 755h0M1730 763h0M1624 913h0M1564 864h0M1607 904h0M1560 902h0M1737 829h0M1635 904h0M1714 822h0M1665 892h0M1725 777h0M1667 833h0M1608 872h0M1693 823h0M1581 823h0M1661 829h0M1655 786h0M1702 752h0M1732 878h0M1707 824h0M1619 868h0M1765 862h0M1653 885h0M1706 895h0M1602 806h0M1616 741h0M1698 831h0" stroke="#3f6f78" stroke-width="2" stroke-linecap="round" opacity="0.5"/>
<rect x="1782.3" y="737.0" width="228.5" height="184.0" fill="#72b1b0"/>
<path d="M1983 863h0M1918 812h0M1899 801h0M1812 800h0M1823 783h0M1830 745h0M2006 862h0M1826 793h0M1796 742h0M1910 779h0M1846 784h0M1851 810h0M1867 889h0M1938 845h0M1872 828h0M1872 818h0M1876 780h0M1847 839h0M2005 842h0M1947 749h0M1989 739h0M1989 817h0M1836 859h0M2009 765h0M1846 868h0M1949 755h0M1966 842h0M1966 788h0M1988 779h0M1831 916h0M1915 868h0M1960 774h0M1986 769h0M1888 814h0M1990 915h0M1855 917h0M1803 812h0M1812 799h0M1954 757h0M1842 843h0M1855 908h0M1831 828h0M1805 891h0M1941 864h0M1991 817h0M1958 906h0M1907 798h0M1952 739h0M2009 792h0M1926 778h0M1837 886h0M1902 886h0M1994 745h0M1977 883h0M1949 866h0M1971 758h0M1938 874h0M1842 852h0M2002 825h0M1850 788h0M1892 868h0M1820 827h0M1987 799h0M1894 740h0M1915 781h0M1977 837h0M1949 865h0M1829 903h0M1901 915h0M1797 822h0M1908 763h0M1800 857h0M1790 907h0M1830 903h0M1940 752h0M1812 872h0M1814 866h0M1839 763h0M1887 814h0M1864 801h0M1898 846h0M1886 920h0M1978 863h0M1898 788h0M1819 816h0M1845 810h0M2004 749h0M1890 876h0M1945 799h0M1880 901h0M1964 783h0M1878 834h0M1918 744h0M1897 851h0M1955 909h0M1830 873h0M1791 835h0M1918 771h0M1974 784h0M1845 872h0M1803 822h0M1910 814h0M1802 895h0M1827 866h0M1921 883h0M1953 902h0M2009 867h0M1891 797h0M1997 873h0M1870 797h0M1822 758h0M1831 871h0M1997 847h0M1794 812h0M1957 804h0M1867 854h0M1795 882h0M1813 782h0M1918 895h0M1801 816h0M1934 798h0M1879 751h0M1929 784h0M1806 864h0M1841 775h0M1857 754h0M1845 882h0M1920 750h0M2005 742h0M1904 779h0M1977 905h0M1995 774h0M1919 812h0M2007 753h0M1954 897h0M1975 746h0M1953 770h0M1949 791h0M1880 745h0M1815 835h0M1814 763h0M1875 900h0M2005 757h0M1797 819h0M1974 842h0M1824 766h0M1824 892h0M1790 751h0M1946 779h0M1809 738h0M1835 883h0M1905 747h0M1933 833h0M1856 774h0M1816 868h0M1994 781h0M1826 856h0M2001 745h0M1876 750h0M1969 855h0M1983 763h0M1974 913h0M2000 841h0M2007 786h0M1813 776h0M1837 884h0M1816 868h0M1852 824h0M1972 867h0M1847 779h0M1917 778h0M1895 815h0M1901 912h0M1953 889h0M1932 901h0M1793 890h0M1992 852h0M1960 799h0M2006 831h0M1980 831h0M1880 794h0M1935 855h0M1928 817h0M1877 859h0M1785 795h0M1944 900h0M1856 790h0M1906 914h0M1789 783h0M1947 839h0M1990 911h0M1934 800h0M1827 741h0M1937 739h0M1813 903h0M1991 797h0M1793 911h0M1846 777h0M1961 776h0M1963 788h0M1929 795h0M1912 874h0M1954 811h0M1822 750h0M1831 881h0M1872 813h0M1990 833h0M1911 810h0M1868 797h0M1818 779h0M1849 914h0M1856 918h0M1854 828h0M1846 892h0M1983 912h0M1939 798h0M1832 842h0M1951 879h0M1993 909h0M1973 757h0M1916 839h0M1914 913h0M1788 890h0M1957 815h0M1827 850h0M1854 918h0M1978 831h0M1972 761h0M1956 883h0M1898 825h0M1826 758h0M1918 904h0M1903 772h0M1947 845h0M1835 747h0M1920 825h0M1936 822h0M1849 826h0M1790 793h0M1857 908h0M1909 765h0M1963 821h0M1842 767h0M1875 779h0M1996 775h0M1901 897h0M1976 876h0M1828 805h0M1906 859h0M1918 769h0M2005 814h0M2006 795h0M1893 877h0M1946 780h0M1985 891h0M1944 780h0M1937 820h0M1815 820h0M1804 844h0M1795 773h0M1948 772h0M1981 884h0M1906 772h0M1963 801h0M1905 897h0M1945 804h0M1945 801h0M2006 869h0M1802 751h0M1809 805h0M1992 824h0M1888 888h0M1841 913h0M1916 809h0M1941 878h0M1882 767h0M1966 834h0M1814 862h0M2007 794h0M1840 844h0M1887 843h0M1894 841h0M1933 774h0M1850 864h0M1811 796h0M1918 749h0M1858 760h0M1876 859h0M1978 912h0M1878 755h0M1952 883h0M1923 770h0M1979 881h0M1891 799h0M1986 758h0M1954 877h0M1989 903h0M2002 898h0M1852 877h0M1906 801h0M1825 815h0M1968 908h0M1856 769h0M2007 874h0M1934 826h0M1803 858h0M1997 886h0M1881 855h0M1903 880h0M1930 751h0M1826 869h0M1995 880h0M1952 869h0M1784 795h0M1973 819h0M1835 765h0M1817 825h0M1826 912h0M1878 889h0M1794 779h0M1845 831h0M1992 776h0M2002 777h0M1786 785h0M1932 849h0M1912 758h0M1903 848h0M1967 788h0M1965 801h0M1874 897h0M1905 819h0M1895 782h0M1798 906h0M1864 754h0M1887 865h0M2007 889h0M1839 814h0M1994 906h0M1788 782h0M1866 901h0M1867 828h0M1914 907h0M1931 798h0M1856 831h0M1848 826h0M1957 847h0M1953 809h0M1861 807h0M1950 895h0M1862 809h0M1847 880h0M2004 780h0M1986 866h0M1787 862h0M1947 846h0M1939 907h0M1806 895h0M1822 862h0M1788 798h0M1949 791h0M1934 757h0M2006 778h0M1804 886h0M1998 846h0M1986 776h0M1815 802h0M1946 796h0M1890 808h0M1788 777h0M1885 793h0M1932 743h0M1934 851h0M1867 793h0M1788 899h0M1966 901h0M1887 781h0M1858 833h0M1946 857h0M1887 897h0M1931 864h0M1817 813h0M1815 863h0M1861 792h0M1796 746h0M1977 767h0M1863 830h0M1822 814h0M1931 889h0M1921 884h0M1837 780h0M1835 831h0M1901 781h0M1975 749h0M1921 765h0M1858 802h0M1913 872h0M1852 779h0M1889 900h0M1797 835h0M1974 784h0M1863 788h0M1792 913h0M1901 785h0M1811 880h0M1934 767h0M1902 897h0M1891 820h0M1823 849h0M1899 761h0M1955 837h0M1954 761h0M1858 756h0M1884 824h0M1993 771h0M1875 827h0M1963 825h0M1804 900h0M1890 773h0M2004 740h0M1994 740h0M1798 902h0M1801 816h0M1993 785h0M1857 783h0M1929 863h0M1962 776h0M1856 789h0M1868 777h0M1960 836h0M1921 744h0M1880 894h0M1892 790h0M1846 740h0M1886 767h0M1902 811h0M1884 822h0M2009 813h0M1993 914h0M1933 900h0M1853 847h0M1923 773h0M1905 844h0M1999 755h0M1976 754h0M1963 799h0M1837 780h0M1866 762h0M1859 810h0M1978 901h0M1893 916h0M1913 807h0M1819 776h0M1883 893h0M1907 837h0M1865 909h0M1996 913h0M1926 903h0M1816 895h0M1934 795h0M1858 895h0M1860 918h0M1939 870h0M1932 828h0M1853 914h0M1960 912h0M1818 812h0M1824 782h0M1861 760h0M1990 748h0M1934 827h0M2002 743h0M1933 852h0M1856 913h0M1818 743h0M1899 899h0M1797 741h0M1859 746h0M1875 792h0M1864 764h0M1881 850h0M1888 915h0M1899 821h0M1956 848h0M1785 915h0M1958 904h0M1926 871h0M1789 806h0M2007 761h0M1968 780h0M1807 775h0M1800 858h0M1831 823h0M1903 764h0M1982 767h0M2005 765h0M1859 819h0M1929 880h0M1999 827h0M1997 769h0M1880 915h0M1869 846h0M1833 741h0M1925 852h0M1928 744h0M1884 754h0M1793 850h0M1827 850h0M1811 772h0M1881 772h0M1960 919h0M1949 920h0M1790 772h0M1982 879h0M1802 917h0M1889 755h0M1839 785h0M1949 902h0M1832 748h0M1948 787h0M1947 870h0M1803 782h0M1893 785h0M1900 764h0M1899 760h0M1914 898h0M1944 780h0M1913 852h0M1953 819h0M1793 773h0M1808 744h0M1920 865h0M1867 861h0M1822 907h0M1790 790h0M1983 792h0M1869 884h0M1796 912h0M1903 800h0M1936 792h0M1824 884h0M1806 760h0M1936 780h0M1927 799h0M2007 810h0M1795 837h0M1913 809h0M1821 749h0M1810 842h0M1958 870h0M1934 759h0M1798 904h0M1828 854h0M1816 883h0M1966 764h0M1850 853h0M1807 835h0M1795 829h0M1841 771h0M1835 861h0M1905 738h0M2003 894h0M1809 842h0M1914 810h0M1893 882h0M2008 854h0M1819 848h0M1962 805h0M1849 743h0M1955 818h0M1828 785h0M1804 917h0M1959 852h0M1957 894h0M1889 881h0M1877 810h0M1830 874h0M1883 780h0M1799 844h0M1846 819h0M1980 834h0M1814 842h0M1997 866h0M1902 916h0M1920 796h0M1871 742h0M1812 836h0M1955 820h0M1934 841h0M1823 745h0M1895 763h0M1827 803h0M1840 819h0M1907 805h0M1841 789h0M1944 779h0M1982 841h0M1962 773h0M1980 802h0M1806 825h0M1919 894h0M1845 902h0M1787 899h0M1925 794h0M1808 774h0M1972 744h0M1986 815h0M1978 856h0M1802 851h0M1932 908h0M1822 913h0M1871 786h0M1924 813h0M1912 848h0M1849 881h0M1894 752h0M1950 777h0M1866 792h0M1948 868h0M1959 878h0M1817 879h0M1804 818h0M1929 802h0M1797 803h0M1894 806h0M1916 915h0M2003 834h0M2008 760h0M1993 798h0M1861 905h0M1948 890h0M1910 772h0M1799 748h0M2004 768h0M1787 806h0M1847 751h0M1805 869h0M1796 846h0M1855 795h0M1872 910h0M1880 851h0M1906 813h0M1860 895h0M1969 885h0M1888 775h0M1920 769h0M1870 914h0M1936 818h0M1797 911h0M1955 771h0M1814 800h0M1847 787h0M1974 891h0M1818 890h0M1990 789h0M1964 844h0M1993 786h0M1845 806h0M1851 866h0M1865 855h0M1813 827h0M1935 748h0M1932 784h0M1938 857h0M1968 863h0M1951 813h0M1868 747h0M1887 807h0M1947 888h0M1955 893h0M1860 783h0M1900 882h0M1867 884h0M1954 873h0M1814 759h0M1952 768h0M1855 807h0M1894 779h0M1831 873h0M1850 843h0M1910 896h0M1917 797h0M1836 811h0M1856 826h0M1969 920h0M1860 790h0M1829 778h0M1794 882h0M1902 764h0M1784 823h0M1940 844h0M1977 811h0M2002 847h0M1831 851h0M1831 882h0M1855 774h0M1844 819h0M2003 826h0M1929 809h0M1892 814h0M1905 908h0M1992 770h0M1913 856h0M1957 886h0M1949 913h0M1902 886h0M1843 872h0M1908 838h0M1890 769h0M1965 829h0M1823 851h0M1883 807h0M1931 810h0M1793 850h0M1966 779h0M1892 886h0M1951 863h0M1795 775h0M1897 746h0M1914 868h0M1908 745h0M1975 837h0M1910 801h0M1841 812h0M1800 863h0M1888 809h0M1984 811h0M1924 874h0M1898 775h0M1825 839h0M1909 864h0M1882 826h0M1792 919h0M1935 750h0M1862 768h0M1919 818h0M1791 772h0M1978 803h0M1847 752h0M1784 769h0M1941 808h0M1786 742h0M1891 745h0M1990 873h0M1963 767h0M1791 837h0M1810 767h0M1912 901h0M2005 857h0M1939 826h0M1972 897h0M1925 755h0M1970 909h0M1887 919h0M1933 860h0M1966 807h0M1817 850h0M1994 920h0M1999 812h0M1808 883h0M1824 875h0M1850 855h0M1903 841h0M1994 820h0M1945 844h0M1818 746h0M1910 889h0M1873 907h0M1941 759h0M1951 791h0M1857 875h0M1786 780h0M1859 804h0M1986 858h0M1845 836h0M1873 911h0M1943 802h0M1902 858h0M1884 886h0M1902 817h0M1836 809h0M1896 782h0M1976 739h0M1828 866h0M2000 894h0M1986 895h0M1842 813h0M1901 758h0M1937 852h0M1914 918h0M1976 827h0M1882 847h0M1797 770h0M1900 773h0M1805 842h0M1805 788h0M1892 761h0M1991 862h0M1893 883h0M1915 820h0M1920 850h0M1956 789h0M1895 876h0M1810 817h0M1906 909h0M1881 819h0M1870 783h0M1952 757h0M1876 812h0M1884 916h0M1836 834h0M1905 869h0M1786 871h0M1934 789h0M1849 826h0M1859 747h0M1854 841h0M1984 896h0M1827 875h0M1796 887h0M1859 826h0M1833 757h0M1946 879h0M1969 802h0M1924 876h0M1791 749h0M1815 750h0M1837 761h0M1976 816h0M1829 747h0M1903 836h0M1973 806h0M1914 820h0M1922 871h0M1868 837h0M1800 814h0M1810 811h0M1928 774h0M1818 881h0M1946 828h0M1977 871h0M1991 773h0M1986 824h0M1877 788h0M2004 813h0M1887 815h0M1827 832h0M1986 758h0M1899 849h0M1859 836h0M1995 803h0M1990 740h0M1788 912h0M1846 847h0M1823 840h0M1990 813h0M1961 821h0M1896 853h0M1804 832h0M1985 902h0M1901 743h0M1880 827h0M1876 897h0M1862 904h0M1958 852h0M1897 854h0M1945 898h0M1873 810h0M1900 889h0M1808 770h0M1961 743h0M1789 880h0M1859 867h0M1824 829h0M1983 896h0M1956 781h0M1989 916h0M1887 768h0M1818 915h0M1931 877h0M1945 870h0M1801 801h0M1823 872h0M1932 783h0M1942 871h0M1903 772h0M1974 781h0M1872 917h0M1882 780h0M1867 795h0M1833 820h0M1853 793h0M1987 900h0M1934 854h0M1919 852h0M1900 776h0M1895 880h0M1872 853h0M1850 757h0M1843 829h0M1896 762h0M1932 787h0M1843 815h0M2010 885h0M1968 857h0M1946 890h0M1995 743h0M1930 815h0M1843 900h0M1969 894h0M1879 798h0M1964 778h0M1869 883h0M1809 803h0M1956 783h0M1986 845h0M1801 821h0M1899 912h0M1912 746h0M1815 879h0M1922 866h0M1886 842h0M1863 851h0M1873 746h0M1855 760h0M1971 804h0M1892 857h0M1859 827h0M1901 900h0M1918 758h0M1806 835h0M1943 813h0M1861 878h0M1848 897h0M1976 792h0M1888 901h0M1888 874h0M1843 813h0M1999 900h0M1842 863h0M1975 763h0M1928 859h0M1997 782h0M1921 883h0M1787 920h0M1829 755h0M1797 888h0M1801 890h0M1863 770h0M1819 812h0M1843 798h0" stroke="#3f6f78" stroke-width="2" stroke-linecap="round" opacity="0.5"/>
<rect x="1303.5" y="932.0" width="228.5" height="179.0" fill="#72b1b0"/>
<path d="M1478 1019h0M1511 1096h0M1389 1019h0M1316 990h0M1345 1013h0M1319 1068h0M1390 936h0M1384 964h0M1485 995h0M1457 1064h0M1480 981h0M1389 1022h0M1436 1063h0M1440 996h0M1426 1095h0M1500 963h0M1457 1101h0M1358 961h0M1417 969h0M1417 1069h0M1477 1006h0M1373 955h0M1426 988h0M1322 1052h0M1388 1064h0M1528 1089h0M1452 946h0M1362 1104h0M1513 1003h0M1419 1028h0M1434 944h0M1450 1078h0M1519 952h0M1415 1076h0M1378 991h0M1361 1019h0M1345 1087h0M1435 985h0M1305 962h0M1418 934h0M1307 1010h0M1496 960h0M1394 1069h0M1482 1026h0M1318 992h0M1519 1047h0M1514 993h0M1399 1024h0M1326 935h0M1378 1062h0M1454 1094h0M1476 1019h0M1425 951h0M1315 960h0M1357 1079h0M1510 958h0M1390 1107h0M1323 1054h0M1381 1037h0M1378 938h0M1462 1043h0M1356 1096h0M1366 1083h0M1441 1092h0M1306 948h0M1503 1106h0M1445 958h0M1515 984h0M1432 934h0M1323 937h0M1335 1085h0M1434 998h0M1314 1086h0M1513 1033h0M1375 967h0M1513 1044h0M1492 1020h0M1519 1108h0M1459 1086h0M1497 948h0M1385 1069h0M1345 944h0M1501 1048h0M1394 957h0M1339 1008h0M1503 1011h0M1316 1065h0M1517 1030h0M1509 1078h0M1415 1081h0M1370 1039h0M1456 1021h0M1321 1100h0M1504 1049h0M1423 996h0M1475 937h0M1387 978h0M1415 939h0M1463 960h0M1484 985h0M1519 1098h0M1501 976h0M1391 1040h0M1453 1042h0M1447 997h0M1440 1006h0M1314 1046h0M1414 998h0M1473 993h0M1395 1059h0M1307 1008h0M1318 1046h0M1333 954h0M1331 1109h0M1338 1013h0M1437 1067h0M1319 943h0M1356 1008h0M1468 1007h0M1377 954h0M1502 1042h0M1448 986h0M1472 990h0M1455 1078h0M1510 1039h0M1355 1098h0M1439 1104h0M1512 934h0M1488 945h0M1315 1065h0M1408 984h0M1506 980h0M1493 993h0M1314 1058h0M1443 1100h0M1308 952h0M1485 974h0M1512 937h0M1331 1050h0M1467 972h0M1490 1038h0M1357 1033h0M1507 969h0M1448 955h0M1481 981h0M1441 1049h0M1335 1098h0M1376 944h0M1343 978h0M1311 975h0M1346 1071h0M1354 1041h0M1497 972h0M1430 1008h0M1351 991h0M1444 958h0M1454 945h0M1467 1059h0M1503 1042h0M1444 1018h0M1446 939h0M1529 1009h0M1411 1060h0M1506 1046h0M1460 984h0M1341 1020h0M1419 987h0M1482 1054h0M1333 1035h0M1512 1054h0M1388 1017h0M1504 947h0M1348 1006h0M1320 1079h0M1425 985h0M1336 966h0M1475 1059h0M1519 974h0M1337 1081h0M1417 1007h0M1322 983h0M1470 1053h0M1474 958h0M1511 1069h0M1476 1024h0M1450 1052h0M1370 1071h0M1491 1079h0M1425 1086h0M1350 1016h0M1464 1014h0M1389 952h0M1512 1024h0M1493 992h0M1351 1025h0M1423 1069h0M1324 938h0M1450 1047h0M1467 1046h0M1391 1001h0M1454 1051h0M1414 1018h0M1393 1030h0M1335 1061h0M1415 1088h0M1412 943h0M1346 985h0M1415 952h0M1364 998h0M1446 1094h0M1476 987h0M1445 992h0M1359 1068h0M1468 1054h0M1412 1007h0M1397 1006h0M1338 997h0M1429 1081h0M1402 1100h0M1408 1071h0M1489 1002h0M1496 977h0M1413 1086h0M1463 1021h0M1359 1026h0M1358 995h0M1528 1060h0M1339 1005h0M1391 1058h0M1490 985h0M1405 980h0M1390 1051h0M1444 965h0M1476 1080h0M1389 1001h0M1354 1039h0M1387 1047h0M1461 1058h0M1327 1100h0M1351 1003h0M1406 975h0M1350 1108h0M1469 1010h0M1523 990h0M1355 1007h0M1315 961h0M1435 979h0M1430 1025h0M1359 1104h0M1407 1031h0M1402 1005h0M1330 985h0M1321 984h0M1444 1033h0M1442 1108h0M1462 1076h0M1343 1037h0M1449 1102h0M1370 1028h0M1381 977h0M1496 969h0M1444 970h0M1398 1082h0M1313 1086h0M1365 989h0M1403 1065h0M1335 1076h0M1456 949h0M1350 1011h0M1421 1050h0M1431 999h0M1487 1020h0M1381 984h0M1355 1053h0M1529 1046h0M1321 995h0M1376 999h0M1511 1063h0M1418 1020h0M1354 983h0M1474 1057h0M1368 996h0M1422 936h0M1490 1012h0M1502 1073h0M1434 990h0M1400 1057h0M1355 966h0M1369 1007h0M1492 969h0M1309 983h0M1322 1049h0M1490 1073h0M1518 1023h0M1354 1087h0M1442 1000h0M1407 1011h0M1345 976h0M1394 1073h0M1485 961h0M1331 1061h0M1450 1025h0M1377 961h0M1401 1031h0M1377 1054h0M1325 1040h0M1366 1006h0M1460 1033h0M1530 1065h0M1403 1108h0M1474 974h0M1469 994h0M1401 989h0M1332 1005h0M1392 949h0M1313 1076h0M1499 937h0M1409 1065h0M1464 955h0M1516 1010h0M1472 1023h0M1392 1088h0M1521 1000h0M1355 1042h0M1439 1110h0M1343 957h0M1461 963h0M1376 989h0M1462 959h0M1511 1034h0M1349 1079h0M1473 975h0M1334 1028h0M1358 1100h0M1513 996h0M1393 1041h0M1445 1055h0M1393 1002h0M1425 1110h0M1478 951h0M1371 945h0M1458 953h0M1379 1012h0M1464 998h0M1306 938h0M1482 1008h0M1362 1053h0M1435 980h0M1437 1021h0M1481 1065h0M1356 1014h0M1516 1014h0M1327 1074h0M1341 934h0M1496 1096h0M1497 1018h0M1457 1055h0M1531 977h0M1455 964h0M1467 1075h0M1373 960h0M1434 1031h0M1479 974h0M1398 989h0M1383 1088h0M1357 946h0M1345 1041h0M1469 993h0M1409 1031h0M1345 1053h0M1527 960h0M1508 939h0M1520 982h0M1468 977h0M1307 1034h0M1315 979h0M1530 952h0M1419 1062h0M1427 941h0M1475 958h0M1386 1104h0M1530 1004h0M1386 1084h0M1526 960h0M1397 972h0M1411 1077h0M1515 1060h0M1423 987h0M1459 1037h0M1499 1010h0M1330 1109h0M1500 979h0M1456 1101h0M1320 1000h0M1426 1040h0M1386 1047h0M1461 991h0M1337 1041h0M1509 1064h0M1481 1090h0M1305 1041h0M1443 1043h0M1459 1058h0M1473 1087h0M1411 1064h0M1388 1100h0M1431 1024h0M1421 1082h0M1464 972h0M1330 970h0M1494 971h0M1520 1081h0M1335 934h0M1471 1079h0M1390 969h0M1350 1035h0M1421 1035h0M1433 1090h0M1469 1035h0M1516 942h0M1331 1099h0M1356 1011h0M1370 1065h0M1351 1008h0M1472 1068h0M1429 1026h0M1496 965h0M1429 958h0M1432 1073h0M1319 1059h0M1445 1073h0M1466 1072h0M1447 1060h0M1470 1095h0M1313 990h0M1392 1049h0M1494 1079h0M1487 1067h0M1428 996h0M1382 1083h0M1412 1101h0M1448 983h0M1400 1042h0M1501 970h0M1366 1088h0M1357 1110h0M1322 993h0M1508 970h0M1342 1074h0M1313 1102h0M1430 982h0M1506 991h0M1379 1057h0M1333 1053h0M1349 1087h0M1410 1008h0M1460 1041h0M1359 991h0M1499 1059h0M1323 980h0M1511 1021h0M1470 1034h0M1360 942h0M1356 1055h0M1359 1041h0M1371 1020h0M1501 975h0M1434 1029h0M1420 1025h0M1381 1047h0M1311 1049h0M1369 1066h0M1422 1062h0M1463 1088h0M1423 969h0M1308 1063h0M1430 1066h0M1514 1093h0M1494 1000h0M1477 1022h0M1472 1011h0M1315 1059h0M1424 1008h0M1455 1082h0M1471 1083h0M1373 1058h0M1402 1109h0M1315 1098h0M1421 1016h0M1380 1031h0M1401 1108h0M1343 979h0M1466 942h0M1473 1073h0M1325 1108h0M1489 936h0M1461 968h0M1459 1061h0M1417 1032h0M1490 1023h0M1380 1065h0M1444 990h0M1328 967h0M1321 1015h0M1340 1005h0M1453 1040h0M1307 955h0M1458 993h0M1355 957h0M1499 955h0M1324 1103h0M1437 1043h0M1373 1036h0M1436 978h0M1347 1083h0M1343 1092h0M1372 1037h0M1472 1100h0M1441 1026h0M1439 982h0M1425 1084h0M1322 1007h0M1316 983h0M1450 1030h0M1403 1003h0M1520 1086h0M1347 933h0M1484 1054h0M1357 988h0M1442 1100h0M1395 1028h0M1445 1085h0M1401 1103h0M1328 1101h0M1422 1096h0M1514 947h0M1344 1088h0M1349 1106h0M1309 1077h0M1355 1002h0M1372 1101h0M1408 998h0M1428 977h0M1354 989h0M1336 961h0M1447 1075h0M1449 941h0M1347 954h0M1349 1094h0M1456 996h0M1321 1061h0M1409 957h0M1343 943h0M1471 1004h0M1407 1073h0M1454 1001h0M1415 1090h0M1409 1044h0M1331 948h0M1437 1033h0M1344 1042h0M1363 1069h0M1381 1002h0M1517 1067h0M1422 1086h0M1494 1072h0M1471 951h0M1345 1063h0M1451 960h0M1458 995h0M1510 1005h0M1379 1065h0M1325 979h0M1494 1022h0M1339 982h0M1495 982h0M1306 1064h0M1481 1060h0M1483 978h0M1454 1011h0M1441 1046h0M1494 1085h0M1442 997h0M1478 1109h0M1320 942h0M1447 1084h0M1398 1018h0M1477 1107h0M1345 1035h0M1516 1088h0M1320 1054h0M1386 995h0M1312 934h0M1516 954h0M1306 975h0M1445 1023h0M1326 1092h0M1464 1029h0M1483 937h0M1492 1081h0M1519 935h0M1458 970h0M1356 1094h0M1529 1038h0M1474 1046h0M1322 992h0M1477 1003h0M1311 1071h0M1518 1060h0M1430 1037h0M1467 1090h0M1502 958h0M1508 1016h0M1431 1080h0M1356 974h0M1389 1101h0M1457 1024h0M1493 1031h0M1376 1061h0M1448 971h0M1348 1077h0M1381 977h0M1444 1093h0M1397 943h0M1326 1038h0M1320 1040h0M1385 1078h0M1317 943h0M1436 1062h0M1352 1046h0M1528 1024h0M1469 1001h0M1520 1040h0M1485 1014h0M1306 1032h0M1508 1096h0M1389 1102h0M1326 1073h0M1531 1071h0M1460 1015h0M1481 1059h0M1446 998h0M1508 1087h0M1322 971h0M1328 1105h0M1529 956h0M1343 1003h0M1411 984h0M1343 1023h0M1310 1020h0M1511 968h0M1444 1013h0M1308 1055h0M1340 1030h0M1488 1088h0M1420 970h0M1330 972h0M1518 1014h0M1417 1098h0M1495 974h0M1342 1106h0M1405 1067h0M1348 1094h0M1448 1091h0M1341 1019h0M1395 935h0M1376 1030h0M1511 985h0M1376 934h0M1505 1012h0M1434 1034h0M1321 1103h0M1511 1068h0M1414 970h0M1326 1064h0M1354 1057h0M1309 1036h0M1453 1083h0M1481 1015h0M1483 1078h0M1316 1074h0M1430 1098h0M1432 963h0M1514 1067h0M1444 962h0M1463 1100h0M1437 982h0M1401 998h0M1356 985h0M1312 1109h0M1479 978h0M1335 1085h0M1311 1058h0M1350 958h0M1381 1004h0M1408 959h0M1520 949h0M1313 947h0M1475 1041h0M1365 1057h0M1323 977h0M1388 1048h0M1321 1054h0M1347 1069h0M1521 1033h0M1352 968h0M1503 980h0M1508 1102h0M1326 1073h0M1365 1017h0M1453 1051h0M1486 1096h0M1414 1035h0M1530 1004h0M1375 1053h0M1432 983h0M1447 964h0M1374 1078h0M1309 1002h0M1509 948h0M1363 997h0M1377 991h0M1462 1091h0M1445 1024h0M1390 976h0M1516 1014h0M1376 1093h0M1315 1039h0M1500 1049h0M1473 1054h0M1493 938h0M1503 1106h0M1469 1007h0M1524 1088h0M1315 1089h0M1360 1078h0M1389 980h0M1500 938h0M1453 1029h0M1310 1091h0M1377 1061h0M1513 987h0M1308 1093h0M1508 1027h0M1354 1016h0M1508 1051h0M1336 1106h0M1326 1011h0M1428 970h0M1332 1086h0M1454 1043h0M1365 1021h0M1479 939h0M1422 1024h0M1520 1067h0M1437 972h0M1339 1024h0M1480 1063h0M1425 1107h0M1313 1006h0M1340 1015h0M1487 964h0M1347 985h0M1403 1058h0M1419 1018h0M1489 1083h0M1495 970h0M1484 1063h0M1494 1063h0M1505 988h0M1485 950h0M1392 1101h0M1355 967h0M1418 1084h0M1386 1070h0M1506 1001h0M1329 978h0M1331 999h0M1371 956h0M1527 968h0M1494 1029h0M1352 993h0M1522 978h0M1305 1026h0M1319 979h0M1377 1066h0M1315 962h0M1468 1043h0M1433 953h0M1457 947h0M1450 947h0M1406 1072h0M1499 997h0M1414 1021h0M1362 1020h0M1328 992h0M1335 1005h0M1405 1088h0M1407 947h0M1400 1076h0M1342 962h0M1461 943h0M1435 1033h0M1428 1073h0M1419 1050h0M1482 1002h0M1409 1015h0M1325 1037h0M1412 1099h0M1332 1099h0M1484 1030h0M1385 1000h0M1308 1028h0M1331 949h0M1464 962h0M1412 975h0M1317 1030h0M1402 1034h0M1491 951h0M1500 1027h0M1306 1057h0M1393 1100h0M1361 939h0M1518 971h0M1443 1047h0M1352 1000h0M1370 993h0M1359 973h0M1460 1020h0M1423 984h0M1408 992h0M1496 990h0M1393 1055h0M1329 972h0M1408 934h0M1423 1085h0M1436 1007h0M1323 975h0M1452 989h0M1329 1109h0M1466 1100h0M1490 969h0M1309 1000h0M1376 1014h0M1401 950h0M1428 951h0M1447 946h0M1406 1040h0M1508 954h0M1468 1038h0M1516 972h0M1467 1076h0M1329 937h0M1373 1055h0M1506 1059h0M1476 958h0M1521 1084h0M1382 1001h0M1530 1052h0M1454 1068h0M1453 1103h0M1383 1044h0M1487 994h0M1497 991h0M1385 1013h0M1529 1010h0M1449 973h0M1446 1056h0M1428 1082h0M1388 1078h0M1335 940h0M1417 1098h0M1378 989h0M1523 1075h0M1473 1075h0M1480 1080h0M1510 1005h0M1397 1021h0M1392 1057h0M1501 1084h0M1484 977h0M1503 1008h0M1516 1011h0M1387 937h0M1323 1050h0M1427 1095h0M1378 1011h0M1495 1081h0M1464 1088h0M1359 1109h0M1305 1109h0M1340 1102h0M1453 1105h0M1315 1076h0M1435 949h0M1402 992h0M1308 993h0M1330 1010h0M1389 952h0M1445 1049h0M1323 1075h0M1489 978h0M1317 939h0M1429 1108h0M1498 1049h0M1494 1070h0M1415 1100h0M1340 1101h0M1498 971h0M1371 941h0M1452 1014h0M1525 1022h0M1333 1067h0M1425 1094h0M1317 1066h0M1477 1054h0M1422 1056h0M1403 1009h0M1480 1049h0M1417 992h0M1346 996h0M1386 1081h0M1424 934h0M1378 1103h0M1365 983h0M1418 1071h0M1530 1012h0M1406 1000h0M1308 995h0M1380 1076h0M1429 1078h0M1337 1104h0M1368 958h0M1335 1061h0M1377 1096h0M1473 1023h0M1379 1071h0M1365 1028h0M1490 1072h0M1361 1068h0M1392 966h0M1478 1045h0M1376 1083h0M1531 937h0M1431 984h0M1525 1019h0M1438 1016h0M1376 984h0M1422 1107h0M1389 938h0" stroke="#3f6f78" stroke-width="2" stroke-linecap="round" opacity="0.5"/>
<rect x="1542.7" y="932.0" width="228.5" height="179.0" fill="#72b1b0"/>
<path d="M1742 1043h0M1726 960h0M1710 1050h0M1651 1109h0M1611 1013h0M1739 1107h0M1680 1050h0M1547 958h0M1613 1055h0M1609 961h0M1629 984h0M1579 1055h0M1681 953h0M1634 1035h0M1651 937h0M1625 1028h0M1574 1106h0M1751 969h0M1555 937h0M1663 1040h0M1768 994h0M1582 1023h0M1567 1055h0M1749 988h0M1700 1044h0M1723 962h0M1705 992h0M1683 1083h0M1635 1098h0M1671 1082h0M1627 1084h0M1658 1046h0M1762 1058h0M1592 989h0M1546 962h0M1642 1085h0M1760 1094h0M1629 1051h0M1766 1043h0M1564 972h0M1675 1013h0M1715 1061h0M1681 1106h0M1723 1067h0M1669 1082h0M1624 1028h0M1587 1072h0M1641 1105h0M1605 1047h0M1728 1085h0M1732 974h0M1675 994h0M1576 1008h0M1687 1038h0M1627 993h0M1681 1072h0M1755 944h0M1561 1002h0M1689 955h0M1749 1068h0M1733 1101h0M1757 1012h0M1703 997h0M1606 938h0M1576 1019h0M1691 944h0M1683 1075h0M1619 1030h0M1615 995h0M1551 1003h0M1548 1095h0M1644 936h0M1613 982h0M1691 933h0M1646 948h0M1664 999h0M1684 1044h0M1762 1056h0M1753 998h0M1707 1041h0M1701 956h0M1567 958h0M1655 974h0M1604 1071h0M1713 1064h0M1584 1095h0M1756 982h0M1573 1091h0M1724 1027h0M1714 1014h0M1696 1017h0M1555 974h0M1647 1064h0M1765 1047h0M1617 1108h0M1620 1049h0M1722 1052h0M1765 1048h0M1574 1081h0M1676 962h0M1685 1105h0M1580 1108h0M1738 1077h0M1722 1108h0M1608 1076h0M1712 1077h0M1718 1028h0M1572 1069h0M1635 947h0M1714 999h0M1601 983h0M1544 1021h0M1615 1054h0M1751 1093h0M1554 1034h0M1712 1042h0M1740 1045h0M1604 976h0M1607 1006h0M1623 1028h0M1590 1014h0M1646 1076h0M1632 935h0M1749 992h0M1583 1105h0M1579 1070h0M1602 988h0M1649 1078h0M1739 957h0M1556 944h0M1649 948h0M1704 991h0M1684 1027h0M1669 1097h0M1720 934h0M1733 979h0M1723 1101h0M1690 1059h0M1589 1105h0M1737 1043h0M1755 1010h0M1742 1075h0M1548 958h0M1714 1105h0M1590 982h0M1747 1071h0M1576 965h0M1698 938h0M1586 1094h0M1656 981h0M1707 970h0M1594 1067h0M1767 1079h0M1752 1011h0M1547 950h0M1747 942h0M1613 1071h0M1594 1086h0M1680 1041h0M1579 958h0M1714 946h0M1767 1010h0M1697 1060h0M1750 934h0M1730 1048h0M1591 1078h0M1636 947h0M1747 1010h0M1721 934h0M1649 951h0M1587 1054h0M1648 1105h0M1604 1010h0M1562 1088h0M1585 943h0M1696 964h0M1696 1007h0M1742 973h0M1746 1010h0M1698 1005h0M1690 971h0M1733 1069h0M1581 1023h0M1637 1011h0M1615 963h0M1745 1007h0M1695 1014h0M1698 1033h0M1694 1016h0M1761 985h0M1755 1028h0M1552 1062h0M1711 967h0M1622 1073h0M1574 1054h0M1723 956h0M1598 1073h0M1704 1017h0M1708 968h0M1734 960h0M1666 1107h0M1642 1017h0M1627 1011h0M1649 1094h0M1665 954h0M1569 945h0M1648 1087h0M1598 1009h0M1626 1059h0M1754 957h0M1767 1036h0M1698 1052h0M1620 1022h0M1652 999h0M1623 936h0M1558 1096h0M1593 1011h0M1635 974h0M1684 1095h0M1720 1055h0M1761 971h0M1573 971h0M1545 1027h0M1654 1034h0M1547 1029h0M1708 1021h0M1669 1009h0M1753 1104h0M1644 993h0M1634 1028h0M1679 975h0M1652 957h0M1718 1031h0M1693 1037h0M1637 1061h0M1754 969h0M1717 951h0M1621 940h0M1736 955h0M1570 990h0M1668 1085h0M1556 1094h0M1643 1090h0M1690 1075h0M1632 1065h0M1698 1105h0M1751 1019h0M1722 1036h0M1673 1045h0M1583 1054h0M1754 1001h0M1695 985h0M1600 1099h0M1545 1047h0M1593 1015h0M1648 1078h0M1707 1053h0M1575 1088h0M1766 1094h0M1636 1059h0M1730 973h0M1616 965h0M1592 1022h0M1634 1016h0M1618 1043h0M1557 1094h0M1759 1052h0M1587 986h0M1549 981h0M1725 979h0M1713 1086h0M1715 1091h0M1692 1062h0M1645 952h0M1763 975h0M1749 988h0M1579 1007h0M1581 944h0M1643 1041h0M1623 951h0M1599 939h0M1721 1086h0M1634 1104h0M1582 1000h0M1599 998h0M1658 1010h0M1759 983h0M1769 1065h0M1694 1095h0M1544 1071h0M1595 1104h0M1662 1061h0M1602 1046h0M1546 944h0M1631 1036h0M1715 1042h0M1551 1046h0M1762 965h0M1663 1084h0M1592 1001h0M1650 1003h0M1730 1008h0M1646 1054h0M1611 944h0M1663 1106h0M1547 989h0M1593 1102h0M1749 1051h0M1693 981h0M1617 1036h0M1706 971h0M1706 1049h0M1602 996h0M1758 960h0M1726 957h0M1664 999h0M1689 1007h0M1642 957h0M1681 949h0M1568 1024h0M1765 1066h0M1681 1049h0M1563 1020h0M1658 1060h0M1738 980h0M1584 985h0M1768 968h0M1738 1084h0M1702 974h0M1642 1108h0M1672 968h0M1697 961h0M1617 964h0M1723 961h0M1593 1089h0M1557 1002h0M1593 1087h0M1672 956h0M1566 1021h0M1681 953h0M1745 1051h0M1582 997h0M1698 985h0M1747 970h0M1597 984h0M1653 970h0M1670 1099h0M1753 986h0M1686 1015h0M1681 1082h0M1697 1103h0M1605 1017h0M1610 1006h0M1768 1018h0M1617 1002h0M1608 944h0M1552 942h0M1566 1050h0M1634 1101h0M1761 1040h0M1643 1103h0M1671 1075h0M1648 1011h0M1767 1074h0M1759 952h0M1697 1074h0M1692 949h0M1697 1061h0M1703 1027h0M1590 1075h0M1582 1059h0M1649 947h0M1714 1046h0M1592 1013h0M1545 1046h0M1573 1091h0M1656 987h0M1659 992h0M1635 1025h0M1681 1088h0M1659 994h0M1747 1108h0M1691 1007h0M1604 1051h0M1552 1097h0M1587 935h0M1750 1063h0M1665 1043h0M1628 957h0M1651 1024h0M1620 1098h0M1617 1099h0M1588 968h0M1665 942h0M1550 1109h0M1588 988h0M1571 1088h0M1597 974h0M1606 977h0M1659 1038h0M1560 1037h0M1559 1075h0M1636 940h0M1546 1055h0M1692 1048h0M1718 946h0M1691 1023h0M1766 1027h0M1748 1104h0M1649 1023h0M1670 971h0M1768 984h0M1684 1077h0M1640 1064h0M1595 1051h0M1660 985h0M1560 1109h0M1567 1055h0M1669 952h0M1588 939h0M1699 983h0M1545 1104h0M1695 1080h0M1663 1084h0M1612 1064h0M1564 1084h0M1754 1044h0M1709 949h0M1700 976h0M1753 947h0M1663 940h0M1617 969h0M1741 1044h0M1738 1020h0M1566 1103h0M1556 963h0M1577 1057h0M1594 999h0M1643 1024h0M1550 1052h0M1625 1098h0M1700 1110h0M1739 1092h0M1698 1053h0M1605 1054h0M1603 1021h0M1669 1089h0M1769 995h0M1659 942h0M1570 988h0M1697 1055h0M1696 978h0M1595 941h0M1760 1097h0M1609 1069h0M1672 1085h0M1569 1070h0M1750 1079h0M1618 943h0M1643 945h0M1640 1039h0M1586 1108h0M1696 1091h0M1615 972h0M1643 1078h0M1572 1052h0M1591 1050h0M1652 1097h0M1605 1048h0M1720 941h0M1745 1109h0M1553 1014h0M1651 1054h0M1593 938h0M1563 1043h0M1756 945h0M1685 956h0M1638 1012h0M1603 1050h0M1583 971h0M1566 1070h0M1600 1096h0M1767 1080h0M1741 1082h0M1637 1068h0M1686 1089h0M1710 962h0M1626 1072h0M1657 1074h0M1721 1054h0M1703 1052h0M1675 1006h0M1736 999h0M1582 995h0M1556 1036h0M1721 1072h0M1571 1061h0M1704 1071h0M1616 955h0M1612 988h0M1687 1019h0M1655 1093h0M1586 973h0M1594 1008h0M1563 959h0M1738 993h0M1550 1014h0M1638 992h0M1610 1086h0M1626 965h0M1566 1089h0M1731 959h0M1734 974h0M1731 1021h0M1578 967h0M1681 1000h0M1766 980h0M1718 991h0M1630 1052h0M1606 963h0M1643 1013h0M1729 1060h0M1582 1082h0M1712 1006h0M1710 1084h0M1591 1002h0M1558 939h0M1718 1033h0M1569 1017h0M1727 964h0M1605 1009h0M1647 1076h0M1707 957h0M1746 1074h0M1749 967h0M1707 1074h0M1751 1100h0M1629 1087h0M1572 1070h0M1654 973h0M1626 1063h0M1768 999h0M1717 1006h0M1695 996h0M1670 940h0M1681 942h0M1612 1023h0M1751 1030h0M1721 1025h0M1698 979h0M1685 1035h0M1753 1051h0M1625 979h0M1656 950h0M1707 1053h0M1676 939h0M1649 1016h0M1669 1108h0M1620 989h0M1673 1016h0M1769 987h0M1563 952h0M1679 972h0M1624 1073h0M1600 1021h0M1735 1057h0M1736 1055h0M1701 1048h0M1760 1088h0M1562 941h0M1625 1022h0M1548 1099h0M1661 971h0M1604 981h0M1655 934h0M1580 1107h0M1684 1107h0M1582 982h0M1713 982h0M1675 1065h0M1585 993h0M1627 972h0M1552 1044h0M1683 979h0M1769 991h0M1668 1108h0M1599 1073h0M1665 1109h0M1756 1012h0M1752 992h0M1656 1087h0M1580 942h0M1657 953h0M1658 1107h0M1589 1042h0M1634 1050h0M1632 944h0M1592 1044h0M1727 1070h0M1728 998h0M1563 1057h0M1559 1053h0M1642 1070h0M1551 1086h0M1585 1007h0M1689 960h0M1635 980h0M1667 1074h0M1649 1063h0M1748 1089h0M1752 1028h0M1765 1014h0M1622 1074h0M1642 1088h0M1688 991h0M1605 990h0M1762 1094h0M1713 972h0M1621 970h0M1677 1006h0M1680 1040h0M1639 1085h0M1732 1034h0M1712 969h0M1683 1088h0M1660 1041h0M1674 1084h0M1646 976h0M1562 1070h0M1548 1067h0M1565 985h0M1560 1069h0M1707 938h0M1680 1058h0M1706 1018h0M1675 1103h0M1616 1029h0M1548 989h0M1689 1095h0M1602 955h0M1612 937h0M1659 1087h0M1646 1012h0M1750 998h0M1569 1056h0M1559 1010h0M1556 1008h0M1707 1092h0M1749 936h0M1607 934h0M1668 968h0M1703 1075h0M1571 986h0M1636 1048h0M1621 991h0M1735 1053h0M1631 1091h0M1668 1101h0M1624 940h0M1762 1006h0M1572 1097h0M1609 991h0M1655 990h0M1670 973h0M1722 1013h0M1550 1076h0M1695 1083h0M1704 1015h0M1611 1008h0M1573 1070h0M1602 1084h0M1738 959h0M1557 1108h0M1678 1026h0M1608 1067h0M1700 1069h0M1736 957h0M1599 964h0M1721 988h0M1577 1086h0M1581 963h0M1686 1053h0M1574 934h0M1762 1040h0M1568 1072h0M1764 1023h0M1570 982h0M1554 1104h0M1722 1076h0M1629 1109h0M1630 981h0M1658 969h0M1568 1029h0M1658 1026h0M1767 1057h0M1703 1074h0M1726 1094h0M1600 1030h0M1709 1027h0M1602 1074h0M1588 971h0M1722 965h0M1703 1090h0M1688 942h0M1687 993h0M1602 1067h0M1737 1057h0M1691 1061h0M1590 1089h0M1697 968h0M1699 1108h0M1619 1052h0M1669 942h0M1742 937h0M1615 1057h0M1629 971h0M1552 1030h0M1547 971h0M1681 937h0M1575 1088h0M1655 1080h0M1742 1065h0M1576 961h0M1758 1099h0M1673 998h0M1567 1099h0M1687 1048h0M1634 1020h0M1730 1015h0M1638 1071h0M1596 943h0M1660 1072h0M1757 985h0M1617 964h0M1645 941h0M1668 998h0M1738 1052h0M1609 984h0M1695 1048h0M1727 1106h0M1724 965h0M1697 1086h0M1673 1097h0M1575 995h0M1660 1094h0M1570 1050h0M1596 1081h0M1651 1045h0M1682 1048h0M1586 1032h0M1770 1100h0M1725 947h0M1736 1042h0M1630 1028h0M1613 1057h0M1672 968h0M1558 1022h0M1664 1031h0M1675 1109h0M1715 982h0M1556 1052h0M1559 971h0M1727 979h0M1669 1098h0M1698 1088h0M1713 1106h0M1758 1062h0M1562 1053h0M1557 1100h0M1650 1069h0M1713 1002h0M1601 1084h0M1571 936h0M1765 970h0M1740 1022h0M1748 1107h0M1572 1010h0M1593 981h0M1571 957h0M1612 999h0M1660 962h0M1718 948h0M1645 1020h0M1555 1011h0M1694 993h0M1735 1106h0M1675 1086h0M1584 1079h0M1746 1034h0M1626 1103h0M1548 1046h0M1555 1024h0M1657 936h0M1680 1059h0M1657 1015h0M1728 1100h0M1743 951h0M1674 966h0M1552 1026h0M1630 1016h0M1624 1109h0M1628 1014h0M1628 1013h0M1556 1096h0M1688 1017h0M1653 1095h0M1694 1011h0M1700 945h0M1730 1046h0M1686 1038h0M1594 1076h0M1674 963h0M1648 1099h0M1579 1026h0M1618 1044h0M1739 1029h0M1630 1031h0M1599 1068h0M1715 1075h0M1681 942h0M1642 957h0M1583 1062h0M1596 1032h0M1727 965h0M1754 1041h0M1735 1078h0M1587 962h0M1565 962h0M1727 1053h0M1575 963h0M1593 1046h0M1590 1072h0M1692 1021h0M1600 962h0M1748 957h0M1768 964h0M1654 1110h0M1567 1046h0M1547 983h0M1586 1054h0M1625 1080h0M1719 1110h0M1587 1099h0M1649 1001h0M1650 1090h0M1651 1055h0M1701 990h0M1741 1041h0M1611 1055h0M1683 946h0M1586 944h0M1649 948h0M1757 1013h0M1761 1033h0M1710 1104h0M1684 965h0M1674 1031h0M1588 977h0M1603 1038h0M1710 1067h0M1586 948h0M1552 1098h0M1618 1036h0M1617 1008h0M1616 947h0M1756 968h0M1612 1078h0M1621 984h0M1587 1094h0M1653 1009h0M1701 1087h0M1631 1043h0M1750 988h0M1683 1036h0M1625 1090h0M1590 975h0M1697 968h0M1724 1042h0M1696 1038h0M1665 963h0M1581 1006h0M1751 1059h0M1730 1083h0M1589 1086h0M1761 1083h0M1645 1090h0M1762 1071h0M1717 1021h0M1577 1033h0M1725 938h0M1743 1068h0M1698 1083h0M1603 1088h0M1615 1098h0M1713 1012h0M1565 1096h0M1635 1020h0M1682 1085h0M1672 967h0M1594 1035h0M1596 977h0M1622 940h0M1717 1010h0M1698 940h0M1573 978h0M1740 954h0M1547 1108h0M1620 980h0M1572 1020h0M1638 1093h0M1723 948h0M1680 960h0M1733 1006h0M1552 997h0M1705 991h0M1700 1031h0M1700 1020h0M1747 1014h0M1661 1074h0M1769 1084h0M1617 1103h0M1751 1093h0M1734 1043h0M1563 974h0M1719 1076h0M1638 1076h0M1565 1085h0M1583 997h0M1728 1057h0M1734 951h0M1586 1065h0M1709 1046h0M1594 968h0M1757 1016h0M1712 970h0M1757 1088h0M1668 1017h0M1765 980h0M1678 1083h0M1640 950h0M1624 1104h0M1653 999h0M1660 1014h0M1724 1080h0M1708 1103h0M1653 955h0M1718 934h0M1733 1050h0M1670 1066h0M1728 941h0" stroke="#3f6f78" stroke-width="2" stroke-linecap="round" opacity="0.5"/>
<rect x="1782.3" y="932.0" width="228.5" height="179.0" fill="#72b1b0"/>
<path d="M1797 1027h0M1906 1016h0M1797 959h0M2009 1008h0M1827 1084h0M1952 1003h0M1860 1064h0M1819 1001h0M1956 1012h0M1785 1028h0M1969 979h0M1832 981h0M1833 983h0M2006 933h0M1787 1078h0M1999 1030h0M1988 988h0M1854 982h0M1975 1096h0M1895 974h0M1845 1097h0M1929 1067h0M1877 1067h0M1900 1037h0M1979 1104h0M1849 1085h0M1892 1103h0M1799 1093h0M1870 1011h0M1942 1056h0M1795 991h0M1852 1094h0M1987 940h0M1804 999h0M1988 1016h0M1833 1063h0M1957 934h0M1819 1072h0M1825 1014h0M2003 1047h0M1812 1054h0M1902 1084h0M1942 1065h0M1950 974h0M2004 1039h0M1997 1053h0M1807 973h0M1861 1011h0M1876 1048h0M1985 1104h0M1872 1044h0M1875 1041h0M1984 1071h0M1860 1087h0M1863 996h0M1915 1002h0M1958 1109h0M1820 1108h0M1903 990h0M1815 1076h0M1978 979h0M1977 1023h0M1889 954h0M1796 982h0M1803 1062h0M1982 1011h0M1847 1016h0M1799 1104h0M1809 1030h0M1795 1070h0M1859 1047h0M1922 990h0M1939 1052h0M1848 1109h0M1887 1002h0M1982 1080h0M1932 942h0M1864 935h0M1809 1103h0M1931 1095h0M2003 981h0M1844 935h0M1813 1018h0M1873 1085h0M1838 987h0M1812 1009h0M1900 960h0M1802 1110h0M2002 1028h0M1892 1090h0M1925 942h0M1879 939h0M1818 1064h0M1835 1024h0M1822 949h0M1956 1106h0M1929 1009h0M1917 1057h0M1793 966h0M1859 949h0M2008 1007h0M1917 1032h0M1928 1072h0M1818 1072h0M1819 978h0M1876 1100h0M1996 955h0M1910 969h0M1787 1065h0M1890 1063h0M1925 1088h0M1797 1037h0M1784 959h0M1894 1036h0M1867 939h0M1979 985h0M1916 960h0M1788 1017h0M1847 955h0M1934 992h0M1814 982h0M1811 1072h0M1848 997h0M1851 1031h0M1927 1014h0M2000 1109h0M1863 1021h0M1851 1039h0M1903 989h0M2000 967h0M1942 1041h0M1863 1084h0M1795 1088h0M1826 1020h0M1970 1083h0M1866 1055h0M1975 1041h0M1789 996h0M2006 953h0M1785 967h0M1869 935h0M1949 988h0M1836 1038h0M1864 993h0M1926 1036h0M1991 1001h0M1999 941h0M1928 1006h0M1899 1048h0M1936 1018h0M1793 1030h0M1902 1027h0M1933 1085h0M1999 1011h0M1892 976h0M1894 939h0M1905 1040h0M1841 1013h0M1937 1059h0M1946 939h0M1879 1037h0M1971 1079h0M1888 965h0M1870 960h0M1952 980h0M1815 1045h0M1920 1103h0M1969 1099h0M1906 990h0M1791 1102h0M1810 951h0M1945 982h0M1790 945h0M1952 1093h0M1797 1022h0M1877 959h0M1859 1082h0M1886 1109h0M1929 945h0M1897 946h0M1943 1031h0M1807 1039h0M1886 1038h0M1971 1080h0M1881 966h0M1944 1079h0M1892 1085h0M1812 1001h0M1885 1107h0M2000 1008h0M1920 1023h0M1787 967h0M1839 1011h0M1815 1088h0M1853 940h0M1989 950h0M1840 1008h0M1953 951h0M1988 983h0M1877 987h0M1958 1008h0M1911 961h0M1875 1083h0M1978 1048h0M1871 1035h0M1946 1000h0M1989 1009h0M1874 1030h0M1890 943h0M1847 978h0M1802 1010h0M1959 1106h0M1866 1005h0M1966 978h0M1832 1029h0M1954 1052h0M1878 967h0M1913 1005h0M1829 977h0M1976 1043h0M1972 1032h0M1993 935h0M1806 962h0M1849 1100h0M1927 1107h0M1869 973h0M2007 1109h0M1830 967h0M1903 995h0M1928 975h0M1851 933h0M1810 987h0M1816 968h0M1932 1028h0M1952 1057h0M1924 967h0M2010 1042h0M1929 1089h0M1930 1030h0M1986 982h0M1901 1074h0M2004 989h0M1802 989h0M1884 997h0M1978 1108h0M1837 967h0M1817 943h0M1942 960h0M1877 1029h0M1785 1071h0M1853 1028h0M1985 959h0M1848 1044h0M1851 1106h0M1909 1038h0M1914 1049h0M1828 1038h0M1919 1004h0M1877 1064h0M1924 1056h0M1949 1086h0M1982 1043h0M1861 941h0M1921 1038h0M2001 970h0M1817 1018h0M1950 1009h0M1841 1078h0M1914 979h0M1863 978h0M1983 1022h0M1786 949h0M1951 986h0M1943 1064h0M1811 972h0M1976 1081h0M1852 1021h0M1935 979h0M2001 1078h0M1835 954h0M1824 984h0M2007 955h0M1874 985h0M1898 1065h0M1896 1068h0M1921 967h0M1791 983h0M1903 975h0M1868 977h0M1899 1023h0M1907 959h0M1893 953h0M1948 970h0M1817 997h0M2007 990h0M1848 966h0M1918 1046h0M1974 949h0M1877 960h0M1815 1107h0M1844 1077h0M1838 954h0M1988 1087h0M1883 935h0M1966 1035h0M1999 1062h0M1821 980h0M1930 1058h0M1967 1108h0M1878 1098h0M1832 1031h0M1811 1022h0M1854 1095h0M1818 1072h0M1887 945h0M1883 1082h0M1845 1051h0M2008 1083h0M1801 973h0M1812 1001h0M1934 999h0M1838 1011h0M1842 964h0M1922 1093h0M1841 1061h0M1900 989h0M1927 997h0M1947 1009h0M1980 1002h0M2009 1000h0M1822 959h0M1842 944h0M1854 1094h0M1800 1072h0M2009 991h0M1846 1026h0M1866 978h0M1869 978h0M1931 939h0M1979 949h0M1986 1072h0M1891 1055h0M1919 1087h0M1898 1088h0M1789 936h0M2007 1041h0M1839 1090h0M1826 1044h0M1801 1075h0M1901 1062h0M1993 977h0M1857 987h0M1911 1063h0M1869 941h0M1819 1095h0M1873 972h0M1862 1081h0M1812 936h0M1811 1070h0M1861 1096h0M1945 1027h0M1894 999h0M1809 1004h0M1903 1034h0M1872 970h0M1949 1106h0M2006 1097h0M1799 1057h0M1992 1044h0M1937 955h0M1935 1016h0M1894 953h0M1979 1029h0M1976 944h0M1961 952h0M1899 949h0M1868 1009h0M1993 985h0M1962 1071h0M1844 967h0M1957 1102h0M1839 1061h0M1895 1085h0M1829 1033h0M1858 999h0M1804 994h0M1821 937h0M1954 1041h0M1826 1028h0M1857 1075h0M1918 991h0M1847 977h0M1853 1069h0M1925 1028h0M1946 996h0M1877 1043h0M1874 962h0M1874 1108h0M1857 1052h0M1866 1012h0M1961 1001h0M1893 1013h0M1955 1033h0M1977 952h0M1877 1095h0M1934 1039h0M1826 959h0M2000 1072h0M1932 1073h0M2003 933h0M1786 1108h0M1922 946h0M1888 1054h0M1805 1039h0M1789 1016h0M1849 1086h0M1785 1079h0M1907 1105h0M1823 1035h0M1870 1014h0M1938 950h0M1911 1055h0M1921 1061h0M1791 956h0M1943 1106h0M1835 1102h0M1974 1009h0M1892 966h0M1785 1062h0M1918 1072h0M1891 1007h0M1818 1100h0M1923 1041h0M1816 1069h0M1857 1007h0M1957 987h0M1823 1066h0M1911 1081h0M1906 993h0M1928 945h0M1973 1060h0M1912 970h0M1959 972h0M1963 1060h0M1847 996h0M1827 1043h0M1902 987h0M1930 1026h0M1928 1032h0M2008 1085h0M1832 1077h0M1990 943h0M1807 968h0M1970 958h0M1899 989h0M1958 993h0M1965 989h0M2001 1103h0M1871 998h0M1805 1020h0M2010 1003h0M1840 976h0M1821 1009h0M1873 1093h0M1892 982h0M1992 1076h0M1970 1027h0M1993 989h0M1815 1012h0M1914 990h0M1969 1047h0M1953 1049h0M1962 1021h0M1968 1044h0M1955 982h0M1844 1039h0M1812 1061h0M1965 999h0M1917 941h0M1974 1037h0M1884 1077h0M1940 1041h0M1841 1020h0M2003 1098h0M1940 1066h0M1992 1103h0M1810 1095h0M1799 1097h0M1814 1075h0M1797 1044h0M1896 975h0M1889 1059h0M1830 1060h0M1859 1044h0M1914 1001h0M1834 1035h0M1839 995h0M1841 1004h0M1985 1060h0M1844 1090h0M1986 946h0M1824 977h0M1870 1056h0M1954 953h0M1911 1046h0M1843 1046h0M1954 974h0M1850 1075h0M1868 1048h0M1838 989h0M1930 1105h0M1969 1107h0M1971 1081h0M1953 1063h0M1892 1059h0M1906 953h0M1867 1058h0M1939 1044h0M1855 1057h0M1836 1061h0M1898 1073h0M1889 1055h0M1845 938h0M1847 968h0M1802 992h0M1855 1097h0M1945 963h0M1850 1000h0M1875 1009h0M1880 1046h0M1791 936h0M1925 1033h0M1952 1072h0M1938 1057h0M1796 970h0M1980 955h0M1883 995h0M1802 1012h0M1905 1036h0M1833 1058h0M1883 983h0M1944 1075h0M1872 1101h0M1954 999h0M1905 1071h0M2004 990h0M1810 1082h0M1802 970h0M1857 985h0M1843 1101h0M1885 1026h0M1789 947h0M1957 933h0M1927 1077h0M1918 1070h0M1789 1032h0M1791 1020h0M1929 934h0M1871 995h0M1847 1063h0M1790 1056h0M1978 1072h0M2005 1087h0M1918 1081h0M1842 1086h0M1795 985h0M1961 977h0M1869 960h0M1962 1104h0M1914 1036h0M2001 1057h0M1996 1109h0M1996 1009h0M1829 1065h0M1843 1015h0M1784 975h0M2005 1086h0M1989 975h0M1902 1036h0M1913 1101h0M1965 988h0M1854 941h0M1929 1099h0M1818 1104h0M1823 974h0M1904 993h0M1981 1014h0M1925 983h0M1803 1021h0M1957 1084h0M1838 967h0M2001 1073h0M1909 999h0M1950 1097h0M1894 959h0M1837 1043h0M1841 1076h0M1984 1084h0M1922 982h0M1898 1097h0M1817 1109h0M1784 1043h0M1868 1029h0M1978 1057h0M1984 1094h0M1857 953h0M1940 1059h0M1825 945h0M1887 1107h0M1838 1104h0M1908 934h0M1902 946h0M1955 1083h0M1986 1081h0M2004 1094h0M1798 1025h0M1974 1000h0M1851 1021h0M1800 1008h0M1800 1027h0M1898 1055h0M1942 962h0M1942 983h0M1807 1088h0M1991 941h0M1991 1050h0M1881 1025h0M1968 1080h0M1870 1027h0M1830 1016h0M1913 941h0M1861 969h0M1995 1060h0M1936 1010h0M1831 1093h0M1864 1032h0M1820 1080h0M1809 956h0M1981 1102h0M1916 996h0M1884 946h0M1996 1016h0M1966 997h0M1856 1007h0M1909 1026h0M1933 1109h0M1875 1066h0M1939 1046h0M1843 1072h0M1813 1011h0M1911 1102h0M1946 940h0M1934 1030h0M1850 1007h0M1852 958h0M1836 1003h0M1984 1037h0M1798 999h0M1975 985h0M1908 1022h0M1986 987h0M1994 1006h0M1799 945h0M1858 972h0M1998 1044h0M1952 935h0M1834 985h0M1925 1060h0M1820 1000h0M1848 1017h0M1911 1064h0M1895 1063h0M1893 1043h0M1975 949h0M1838 1023h0M1870 1010h0M1836 1001h0M1964 1085h0M1831 1039h0M1830 1109h0M1875 1042h0M1998 1080h0M1939 946h0M1784 1061h0M1817 1029h0M1794 983h0M1826 989h0M1980 1004h0M1886 1106h0M1826 954h0M1865 1052h0M1907 941h0M1867 954h0M1975 1048h0M1920 936h0M1819 985h0M2010 962h0M1966 999h0M1865 1002h0M1894 954h0M1981 1002h0M1968 1055h0M1811 1082h0M1940 976h0M1889 1021h0M1868 1019h0M2009 1089h0M1844 1035h0M1995 1023h0M1829 1065h0M1898 973h0M1858 1064h0M1907 937h0M1920 992h0M1999 1044h0M1848 1055h0M1807 975h0M1928 963h0M1964 1042h0M1924 1010h0M1872 1100h0M1892 974h0M1962 1079h0M1828 975h0M1965 972h0M1786 958h0M1884 1109h0M1917 1014h0M1898 971h0M1850 968h0M1967 991h0M1893 965h0M1978 1103h0M1936 985h0M1969 1045h0M2001 1074h0M1801 1018h0M1790 1019h0M1805 1094h0M1951 946h0M1994 1103h0M1932 1030h0M1807 1056h0M1886 968h0M1974 1040h0M1817 1086h0M1966 1065h0M1864 1107h0M1834 1079h0M1845 1089h0M1799 1030h0M1987 1064h0M2004 1039h0M1909 1067h0M1931 970h0M1813 1065h0M1984 967h0M1844 1096h0M1982 1108h0M1918 1087h0M1904 1078h0M1941 1099h0M1826 940h0M1789 1011h0M1860 1071h0M1936 1100h0M1935 1034h0M1800 1086h0M1914 1046h0M1956 978h0M1847 1093h0M1932 975h0M1881 985h0M1908 961h0M1860 1062h0M2010 1085h0M1980 1067h0M1872 1080h0M1921 1009h0M1941 971h0M1846 1026h0M1993 953h0M1917 1058h0M1992 967h0M1901 1082h0M1866 1025h0M1931 1040h0M1846 948h0M1944 996h0M1848 941h0M1959 937h0M1811 1106h0M1856 941h0M1926 1074h0M1836 1077h0M1851 954h0M2000 1022h0M1803 987h0M1842 1017h0M1843 953h0M1976 939h0M1828 948h0M1797 1056h0M1805 1045h0M2009 1052h0M1972 960h0M1934 969h0M1960 1046h0M1884 987h0M1816 1105h0M1930 975h0M1960 1085h0M1978 1058h0M1918 1096h0M1870 1101h0M1888 999h0M1851 1068h0M1927 1054h0M1817 1062h0M1832 955h0M1947 1052h0M1859 1080h0M1851 988h0M1900 1043h0M1952 1096h0M1850 1073h0M1804 1043h0M1860 1017h0M1942 1085h0M1822 1104h0M1973 968h0M1962 986h0M2004 1082h0M1989 1018h0M1784 977h0M1963 1089h0M1966 938h0M1843 998h0M2002 981h0M1917 961h0M1830 1109h0M1985 1082h0M1793 1077h0M1899 1109h0M1834 1028h0M1961 999h0M1991 994h0M2007 1010h0M1900 944h0M1984 1104h0M2003 1065h0M2000 1034h0M1911 951h0M1902 952h0M1837 1106h0M1856 1102h0M1878 970h0M1924 1043h0M1875 1045h0M2002 1096h0M1785 1100h0M1865 970h0M1846 1082h0M1919 1079h0M1790 965h0M1816 942h0M1921 1107h0M1798 977h0M1812 1013h0M1912 1055h0M1921 1107h0M1892 1066h0M1951 1074h0M1985 980h0M1824 1021h0M1964 1011h0M1948 957h0M2008 1032h0M1832 978h0M1912 1110h0M1849 979h0M1829 959h0M1861 1057h0M1972 1014h0M1791 1021h0M1789 1029h0M1797 1068h0M1784 969h0M1887 1097h0M1836 978h0M1815 1035h0M1968 981h0M1812 1073h0M1824 968h0M1806 1006h0M1859 946h0M1969 986h0M1822 1034h0M1878 970h0M1925 985h0M1945 1067h0M1819 992h0M1993 1064h0M1875 965h0M1848 970h0M1809 944h0M1838 1086h0M1976 980h0M1915 942h0M1980 984h0M1822 1058h0M1790 1050h0M1900 1046h0M1871 1103h0M2008 1002h0M1927 1090h0M1875 958h0M2002 1069h0M1998 969h0M1972 990h0M1885 1000h0M1835 1029h0M1834 1083h0M1785 1082h0M1905 1013h0M1965 945h0M1829 1076h0M1932 960h0M1792 980h0M1986 1005h0M1875 940h0M1822 948h0M1957 1015h0M1934 992h0M1802 1059h0M1831 1106h0M1805 1020h0M1980 947h0M1921 978h0M1882 1007h0M1851 953h0M1867 1036h0M1862 1081h0M1892 974h0M1814 1014h0M1860 1083h0M1842 1027h0M1890 1080h0M1943 992h0M1801 990h0" stroke="#3f6f78" stroke-width="2" stroke-linecap="round" opacity="0.5"/>
<path d="M1357 747h0M1440 774h0M1414 834h0M1342 814h0M1419 820h0M1310 812h0M1358 751h0M1408 874h0M1361 796h0M1525 824h0M1373 895h0M1476 774h0M1348 773h0M1417 805h0M1384 905h0M1387 741h0M1448 898h0M1520 917h0M1491 850h0M1434 762h0M1322 856h0M1467 916h0M1515 794h0M1453 832h0M1449 787h0M1337 769h0M1491 901h0M1428 826h0M1436 845h0M1498 773h0M1460 902h0M1376 743h0M1388 845h0M1490 755h0M1457 843h0M1311 796h0M1397 764h0M1327 803h0M1442 908h0M1320 781h0M1376 760h0M1407 769h0M1492 839h0M1415 748h0M1481 887h0M1446 895h0M1409 744h0M1454 897h0M1385 831h0M1515 894h0M1348 784h0M1335 775h0M1322 833h0M1395 880h0M1425 885h0M1517 902h0M1314 761h0M1438 877h0M1443 746h0M1447 918h0M1527 748h0M1524 812h0M1339 912h0M1308 740h0M1306 745h0M1493 886h0M1486 832h0M1502 797h0M1484 865h0M1478 836h0M1519 881h0M1459 854h0M1489 833h0M1503 758h0M1381 755h0M1515 910h0M1396 791h0M1511 817h0M1415 897h0M1388 795h0M1485 857h0M1505 855h0M1519 748h0M1469 866h0M1318 843h0M1441 882h0M1329 747h0M1485 762h0M1330 894h0M1427 791h0M1493 825h0M1514 894h0M1394 763h0M1367 770h0M1425 881h0M1341 909h0M1481 753h0M1506 790h0M1474 767h0M1349 806h0M1446 767h0M1349 884h0M1447 908h0M1328 832h0M1327 848h0M1380 916h0M1364 863h0M1378 847h0M1519 910h0M1480 842h0M1407 764h0M1325 784h0M1517 854h0M1352 751h0M1339 748h0M1356 814h0M1333 912h0M1438 774h0M1442 863h0M1511 785h0M1410 787h0M1432 836h0M1353 882h0M1500 776h0M1528 808h0M1479 749h0M1421 829h0M1448 823h0M1322 907h0M1506 794h0M1455 842h0M1447 743h0M1339 819h0M1529 833h0M1409 879h0M1328 796h0M1313 765h0M1483 902h0M1332 872h0M1329 797h0M1313 842h0M1359 899h0M1486 846h0M1467 876h0M1432 882h0M1447 857h0M1480 916h0M1513 888h0M1313 781h0M1318 788h0M1434 759h0M1338 758h0M1393 782h0M1478 775h0M1378 783h0M1378 879h0M1474 879h0M1385 869h0M1470 842h0M1528 759h0M1351 787h0M1397 825h0M1524 877h0M1349 793h0M1351 823h0M1367 849h0M1485 888h0M1522 791h0M1376 789h0M1399 838h0M1394 804h0M1442 862h0M1498 821h0M1415 789h0M1348 782h0M1528 889h0M1412 764h0M1387 873h0M1491 829h0M1317 806h0M1312 825h0M1376 806h0M1321 819h0M1435 910h0M1350 748h0M1427 894h0M1312 910h0M1360 754h0M1495 798h0M1468 750h0M1514 741h0M1490 868h0M1427 794h0M1488 809h0M1399 915h0M1519 894h0M1510 852h0M1384 883h0M1400 882h0M1498 826h0M1478 768h0M1499 848h0M1503 865h0M1423 776h0M1393 768h0M1355 753h0M1447 785h0M1511 795h0M1422 804h0M1462 752h0M1370 879h0M1463 872h0M1339 790h0M1434 820h0M1410 835h0M1373 904h0M1308 896h0M1510 791h0M1482 874h0M1464 744h0M1433 883h0M1518 824h0M1396 844h0M1513 807h0M1325 819h0M1341 863h0M1425 894h0M1376 846h0M1328 910h0M1494 885h0M1312 820h0M1454 778h0M1448 766h0M1495 840h0M1394 776h0M1330 811h0M1394 902h0M1427 846h0M1370 795h0M1326 739h0M1326 796h0M1513 859h0M1495 790h0M1525 787h0M1324 803h0M1523 838h0M1505 813h0M1409 848h0M1459 797h0M1361 879h0M1358 752h0M1372 800h0M1528 842h0M1474 766h0M1410 901h0M1523 751h0M1391 787h0M1425 778h0M1488 914h0M1354 889h0M1515 805h0M1416 814h0M1329 857h0M1374 869h0M1376 842h0M1487 844h0M1332 850h0M1429 903h0M1370 801h0M1346 869h0M1326 799h0M1435 918h0M1388 911h0M1364 908h0M1359 898h0M1460 766h0M1403 840h0M1343 862h0M1431 789h0M1329 795h0M1420 916h0M1466 872h0M1431 863h0M1504 752h0M1475 767h0M1399 793h0M1416 834h0M1343 749h0M1348 872h0M1382 790h0M1500 914h0M1511 767h0M1335 857h0M1434 828h0M1318 897h0M1409 916h0M1480 839h0M1422 853h0M1404 914h0M1308 834h0M1464 853h0M1323 850h0M1385 807h0M1495 887h0M1497 845h0M1480 828h0M1497 843h0M1346 865h0M1335 912h0M1378 788h0M1462 769h0M1439 804h0M1356 903h0M1442 838h0M1468 744h0M1432 826h0M1499 875h0M1408 782h0M1429 857h0M1340 770h0M1504 907h0M1483 834h0M1469 900h0M1422 812h0M1377 741h0M1307 911h0M1489 794h0M1420 859h0M1313 910h0M1319 823h0M1485 755h0M1416 810h0M1525 869h0M1484 909h0M1477 893h0M1385 847h0M1472 862h0M1523 902h0M1466 785h0M1343 885h0M1387 899h0M1380 859h0M1472 828h0M1315 762h0M1406 866h0M1437 896h0M1379 784h0M1435 800h0M1498 819h0M1391 813h0M1405 856h0M1363 792h0M1500 906h0M1310 764h0M1320 800h0M1338 768h0M1345 740h0M1486 861h0M1502 901h0M1508 896h0M1389 836h0M1488 771h0M1342 755h0M1509 792h0M1328 804h0M1347 742h0M1458 825h0M1467 787h0M1375 845h0M1316 809h0M1321 912h0M1417 750h0M1464 917h0M1379 910h0M1491 879h0M1436 870h0M1465 916h0M1482 880h0M1394 814h0M1523 863h0M1322 807h0M1395 781h0M1318 840h0M1378 851h0M1383 814h0M1356 906h0M1472 860h0M1442 748h0M1490 886h0M1400 851h0M1353 844h0M1366 804h0M1355 750h0M1410 805h0M1527 840h0M1335 810h0M1505 879h0M1432 837h0M1312 859h0M1461 830h0M1412 831h0M1336 851h0M1413 902h0M1414 842h0M1306 761h0M1332 899h0M1481 903h0M1403 747h0M1381 741h0M1372 901h0M1479 910h0M1513 916h0M1502 869h0M1524 851h0M1463 864h0M1389 768h0M1422 829h0M1437 865h0M1454 889h0M1426 813h0M1373 878h0M1342 862h0M1355 751h0M1378 838h0M1438 817h0M1424 811h0M1377 799h0M1447 874h0M1394 739h0M1522 864h0M1480 894h0M1313 905h0M1501 740h0M1440 794h0M1384 897h0M1433 882h0M1308 911h0M1510 742h0M1428 795h0M1490 845h0M1371 808h0M1421 832h0M1519 821h0M1511 885h0M1389 807h0M1497 780h0M1341 793h0M1521 904h0M1359 786h0M1398 835h0M1384 744h0M1389 840h0M1450 824h0M1424 819h0M1315 766h0M1444 858h0M1499 899h0M1481 749h0M1443 879h0M1431 779h0M1481 740h0M1394 767h0M1512 865h0M1353 889h0M1329 780h0M1454 746h0M1529 837h0M1452 886h0M1453 804h0M1378 858h0M1411 809h0M1466 760h0M1434 863h0M1386 869h0M1473 889h0M1512 744h0M1308 814h0M1419 746h0M1468 772h0M1508 911h0M1409 754h0M1344 823h0M1419 768h0M1320 917h0M1453 866h0M1317 760h0M1308 912h0M1319 848h0M1312 835h0M1436 759h0M1360 898h0M1325 798h0M1340 762h0M1312 841h0M1349 870h0M1503 828h0M1328 740h0M1384 838h0M1445 840h0M1480 889h0M1512 852h0M1334 816h0M1354 900h0M1493 851h0M1481 774h0M1409 740h0M1405 847h0M1476 768h0M1378 869h0M1402 831h0M1306 749h0M1473 793h0M1339 774h0M1450 814h0M1523 830h0M1500 908h0M1410 897h0M1474 832h0M1473 756h0M1433 780h0M1505 810h0M1469 766h0M1330 903h0M1479 749h0M1381 831h0M1310 764h0M1447 835h0M1312 886h0M1494 918h0M1450 832h0M1331 897h0M1342 901h0M1524 776h0M1526 873h0M1400 862h0M1379 871h0M1399 758h0M1352 893h0M1361 913h0M1335 742h0M1354 805h0M1419 894h0M1469 867h0M1351 891h0M1432 743h0M1308 856h0M1374 917h0M1523 823h0M1526 840h0M1472 786h0M1332 773h0M1441 797h0M1432 746h0M1365 801h0M1491 767h0M1399 810h0M1444 764h0M1310 906h0M1416 894h0M1319 829h0M1464 895h0M1487 783h0M1501 756h0M1320 886h0M1474 803h0M1399 750h0M1346 794h0M1357 749h0M1330 739h0M1512 743h0M1441 824h0M1411 894h0M1440 797h0M1476 823h0M1453 899h0M1479 763h0M1475 830h0M1374 873h0M1346 775h0M1348 904h0M1407 745h0M1422 821h0M1413 821h0M1349 834h0M1486 870h0M1451 837h0M1524 853h0M1465 787h0M1355 898h0M1386 788h0M1346 882h0M1434 796h0M1367 870h0M1445 860h0M1483 774h0M1412 781h0M1387 879h0M1342 897h0M1355 872h0M1434 917h0M1371 856h0M1444 785h0M1523 879h0M1417 843h0M1392 822h0M1446 772h0M1490 759h0M1382 857h0M1348 746h0M1502 760h0M1527 800h0M1412 893h0M1341 900h0M1401 753h0M1504 811h0M1334 845h0M1340 740h0M1433 892h0M1458 794h0M1432 896h0M1332 884h0M1441 876h0M1499 797h0M1371 835h0M1372 873h0M1499 776h0M1522 797h0M1334 866h0M1456 761h0M1331 812h0M1434 742h0M1446 883h0M1404 909h0M1456 749h0M1489 908h0M1495 879h0M1315 879h0M1386 913h0M1425 781h0M1432 779h0M1336 788h0M1400 809h0M1331 825h0M1408 858h0M1427 746h0M1442 895h0M1435 827h0M1341 856h0M1389 767h0M1462 909h0M1390 810h0M1456 754h0M1351 913h0M1463 753h0M1356 838h0M1412 817h0M1483 874h0M1502 828h0M1505 850h0M1421 839h0M1449 881h0M1442 861h0M1458 839h0M1510 785h0M1452 846h0M1469 904h0M1324 791h0M1430 845h0M1403 795h0M1440 853h0M1411 773h0M1358 758h0M1471 752h0M1388 817h0M1478 844h0M1367 746h0M1410 789h0M1428 880h0M1345 801h0M1346 795h0" stroke="#7a6cc0" stroke-width="4.6" stroke-linecap="round" opacity="0.75"/>
<path d="M1357 747h0M1440 774h0M1414 834h0M1342 814h0M1419 820h0M1310 812h0M1358 751h0M1408 874h0M1361 796h0M1525 824h0M1373 895h0M1476 774h0M1348 773h0M1417 805h0M1384 905h0M1387 741h0M1448 898h0M1520 917h0M1491 850h0M1434 762h0M1322 856h0M1467 916h0M1515 794h0M1453 832h0M1449 787h0M1337 769h0M1491 901h0M1428 826h0M1436 845h0M1498 773h0M1460 902h0M1376 743h0M1388 845h0M1490 755h0M1457 843h0M1311 796h0M1397 764h0M1327 803h0M1442 908h0M1320 781h0M1376 760h0M1407 769h0M1492 839h0M1415 748h0M1481 887h0M1446 895h0M1409 744h0M1454 897h0M1385 831h0M1515 894h0M1348 784h0M1335 775h0M1322 833h0M1395 880h0M1425 885h0M1517 902h0M1314 761h0M1438 877h0M1443 746h0M1447 918h0M1527 748h0M1524 812h0M1339 912h0M1308 740h0M1306 745h0M1493 886h0M1486 832h0M1502 797h0M1484 865h0M1478 836h0M1519 881h0M1459 854h0M1489 833h0M1503 758h0M1381 755h0M1515 910h0M1396 791h0M1511 817h0M1415 897h0M1388 795h0M1485 857h0M1505 855h0M1519 748h0M1469 866h0M1318 843h0M1441 882h0M1329 747h0M1485 762h0M1330 894h0M1427 791h0M1493 825h0M1514 894h0M1394 763h0M1367 770h0M1425 881h0M1341 909h0M1481 753h0M1506 790h0M1474 767h0M1349 806h0M1446 767h0M1349 884h0M1447 908h0M1328 832h0M1327 848h0M1380 916h0M1364 863h0M1378 847h0M1519 910h0M1480 842h0M1407 764h0M1325 784h0M1517 854h0M1352 751h0M1339 748h0M1356 814h0M1333 912h0M1438 774h0M1442 863h0M1511 785h0M1410 787h0M1432 836h0M1353 882h0M1500 776h0M1528 808h0M1479 749h0M1421 829h0M1448 823h0M1322 907h0M1506 794h0M1455 842h0M1447 743h0M1339 819h0M1529 833h0M1409 879h0M1328 796h0M1313 765h0M1483 902h0M1332 872h0M1329 797h0M1313 842h0M1359 899h0M1486 846h0M1467 876h0M1432 882h0M1447 857h0M1480 916h0M1513 888h0M1313 781h0M1318 788h0M1434 759h0M1338 758h0M1393 782h0M1478 775h0M1378 783h0M1378 879h0M1474 879h0M1385 869h0M1470 842h0M1528 759h0M1351 787h0M1397 825h0M1524 877h0M1349 793h0M1351 823h0M1367 849h0M1485 888h0M1522 791h0M1376 789h0M1399 838h0M1394 804h0M1442 862h0M1498 821h0M1415 789h0M1348 782h0M1528 889h0M1412 764h0M1387 873h0M1491 829h0M1317 806h0M1312 825h0M1376 806h0M1321 819h0M1435 910h0M1350 748h0M1427 894h0M1312 910h0M1360 754h0M1495 798h0M1468 750h0M1514 741h0M1490 868h0M1427 794h0M1488 809h0M1399 915h0M1519 894h0M1510 852h0M1384 883h0M1400 882h0M1498 826h0M1478 768h0M1499 848h0M1503 865h0M1423 776h0M1393 768h0M1355 753h0M1447 785h0M1511 795h0M1422 804h0M1462 752h0M1370 879h0M1463 872h0M1339 790h0M1434 820h0M1410 835h0M1373 904h0M1308 896h0M1510 791h0M1482 874h0M1464 744h0M1433 883h0M1518 824h0M1396 844h0M1513 807h0M1325 819h0M1341 863h0M1425 894h0M1376 846h0M1328 910h0M1494 885h0M1312 820h0M1454 778h0M1448 766h0M1495 840h0M1394 776h0M1330 811h0M1394 902h0M1427 846h0M1370 795h0M1326 739h0M1326 796h0M1513 859h0M1495 790h0M1525 787h0M1324 803h0M1523 838h0M1505 813h0M1409 848h0M1459 797h0M1361 879h0M1358 752h0M1372 800h0M1528 842h0M1474 766h0M1410 901h0M1523 751h0M1391 787h0M1425 778h0M1488 914h0M1354 889h0M1515 805h0M1416 814h0M1329 857h0M1374 869h0M1376 842h0M1487 844h0M1332 850h0M1429 903h0M1370 801h0M1346 869h0M1326 799h0M1435 918h0M1388 911h0M1364 908h0M1359 898h0M1460 766h0M1403 840h0M1343 862h0M1431 789h0M1329 795h0M1420 916h0M1466 872h0M1431 863h0M1504 752h0M1475 767h0M1399 793h0M1416 834h0M1343 749h0M1348 872h0M1382 790h0M1500 914h0M1511 767h0M1335 857h0M1434 828h0M1318 897h0M1409 916h0M1480 839h0M1422 853h0M1404 914h0M1308 834h0M1464 853h0M1323 850h0M1385 807h0M1495 887h0M1497 845h0M1480 828h0M1497 843h0M1346 865h0M1335 912h0M1378 788h0M1462 769h0M1439 804h0M1356 903h0M1442 838h0M1468 744h0M1432 826h0M1499 875h0M1408 782h0M1429 857h0M1340 770h0M1504 907h0M1483 834h0M1469 900h0M1422 812h0M1377 741h0M1307 911h0M1489 794h0M1420 859h0M1313 910h0M1319 823h0M1485 755h0M1416 810h0M1525 869h0M1484 909h0M1477 893h0M1385 847h0M1472 862h0M1523 902h0M1466 785h0M1343 885h0M1387 899h0M1380 859h0M1472 828h0M1315 762h0M1406 866h0M1437 896h0M1379 784h0M1435 800h0M1498 819h0M1391 813h0M1405 856h0M1363 792h0M1500 906h0M1310 764h0M1320 800h0M1338 768h0M1345 740h0M1486 861h0M1502 901h0M1508 896h0M1389 836h0M1488 771h0M1342 755h0M1509 792h0M1328 804h0M1347 742h0M1458 825h0M1467 787h0M1375 845h0M1316 809h0M1321 912h0M1417 750h0M1464 917h0M1379 910h0M1491 879h0M1436 870h0M1465 916h0M1482 880h0M1394 814h0M1523 863h0M1322 807h0M1395 781h0M1318 840h0M1378 851h0M1383 814h0M1356 906h0M1472 860h0M1442 748h0M1490 886h0M1400 851h0M1353 844h0M1366 804h0M1355 750h0M1410 805h0M1527 840h0M1335 810h0M1505 879h0M1432 837h0M1312 859h0M1461 830h0M1412 831h0M1336 851h0M1413 902h0M1414 842h0M1306 761h0M1332 899h0M1481 903h0M1403 747h0M1381 741h0M1372 901h0M1479 910h0M1513 916h0M1502 869h0M1524 851h0M1463 864h0M1389 768h0M1422 829h0M1437 865h0M1454 889h0M1426 813h0M1373 878h0M1342 862h0M1355 751h0M1378 838h0M1438 817h0M1424 811h0M1377 799h0M1447 874h0M1394 739h0M1522 864h0M1480 894h0M1313 905h0M1501 740h0M1440 794h0M1384 897h0M1433 882h0M1308 911h0M1510 742h0M1428 795h0M1490 845h0M1371 808h0M1421 832h0M1519 821h0M1511 885h0M1389 807h0M1497 780h0M1341 793h0M1521 904h0M1359 786h0M1398 835h0M1384 744h0M1389 840h0M1450 824h0M1424 819h0M1315 766h0M1444 858h0M1499 899h0M1481 749h0M1443 879h0M1431 779h0M1481 740h0M1394 767h0M1512 865h0M1353 889h0M1329 780h0M1454 746h0M1529 837h0M1452 886h0M1453 804h0M1378 858h0M1411 809h0M1466 760h0M1434 863h0M1386 869h0M1473 889h0M1512 744h0M1308 814h0M1419 746h0M1468 772h0M1508 911h0M1409 754h0M1344 823h0M1419 768h0M1320 917h0M1453 866h0M1317 760h0M1308 912h0M1319 848h0M1312 835h0M1436 759h0M1360 898h0M1325 798h0M1340 762h0M1312 841h0M1349 870h0M1503 828h0M1328 740h0M1384 838h0M1445 840h0M1480 889h0M1512 852h0M1334 816h0M1354 900h0M1493 851h0M1481 774h0M1409 740h0M1405 847h0M1476 768h0M1378 869h0M1402 831h0M1306 749h0M1473 793h0M1339 774h0M1450 814h0M1523 830h0M1500 908h0M1410 897h0M1474 832h0M1473 756h0M1433 780h0M1505 810h0M1469 766h0M1330 903h0M1479 749h0M1381 831h0M1310 764h0M1447 835h0M1312 886h0M1494 918h0M1450 832h0M1331 897h0M1342 901h0M1524 776h0M1526 873h0M1400 862h0M1379 871h0M1399 758h0M1352 893h0M1361 913h0M1335 742h0M1354 805h0M1419 894h0M1469 867h0M1351 891h0M1432 743h0M1308 856h0M1374 917h0M1523 823h0M1526 840h0M1472 786h0M1332 773h0M1441 797h0M1432 746h0M1365 801h0M1491 767h0M1399 810h0M1444 764h0M1310 906h0M1416 894h0M1319 829h0M1464 895h0M1487 783h0M1501 756h0M1320 886h0M1474 803h0M1399 750h0M1346 794h0M1357 749h0M1330 739h0M1512 743h0M1441 824h0M1411 894h0M1440 797h0M1476 823h0M1453 899h0M1479 763h0M1475 830h0M1374 873h0M1346 775h0M1348 904h0M1407 745h0M1422 821h0M1413 821h0M1349 834h0M1486 870h0M1451 837h0M1524 853h0M1465 787h0M1355 898h0M1386 788h0M1346 882h0M1434 796h0M1367 870h0M1445 860h0M1483 774h0M1412 781h0M1387 879h0M1342 897h0M1355 872h0M1434 917h0M1371 856h0M1444 785h0M1523 879h0M1417 843h0M1392 822h0M1446 772h0M1490 759h0M1382 857h0M1348 746h0M1502 760h0M1527 800h0M1412 893h0M1341 900h0M1401 753h0M1504 811h0M1334 845h0M1340 740h0M1433 892h0M1458 794h0M1432 896h0M1332 884h0M1441 876h0M1499 797h0M1371 835h0M1372 873h0M1499 776h0M1522 797h0M1334 866h0M1456 761h0M1331 812h0M1434 742h0M1446 883h0M1404 909h0M1456 749h0M1489 908h0M1495 879h0M1315 879h0M1386 913h0M1425 781h0M1432 779h0M1336 788h0M1400 809h0M1331 825h0M1408 858h0M1427 746h0M1442 895h0M1435 827h0M1341 856h0M1389 767h0M1462 909h0M1390 810h0M1456 754h0M1351 913h0M1463 753h0M1356 838h0M1412 817h0M1483 874h0M1502 828h0M1505 850h0M1421 839h0M1449 881h0M1442 861h0M1458 839h0M1510 785h0M1452 846h0M1469 904h0M1324 791h0M1430 845h0M1403 795h0M1440 853h0M1411 773h0M1358 758h0M1471 752h0M1388 817h0M1478 844h0M1367 746h0M1410 789h0M1428 880h0M1345 801h0M1346 795h0" stroke="#40308a" stroke-width="2.8" stroke-linecap="round" opacity="1.0"/>
<path d="M1633 871h0M1765 775h0M1598 892h0M1679 847h0M1675 813h0M1641 758h0M1645 824h0M1707 915h0M1572 863h0M1650 887h0M1748 790h0M1628 827h0M1638 907h0M1768 887h0M1721 830h0M1680 882h0M1764 877h0M1609 755h0M1584 749h0M1563 741h0M1562 829h0M1592 847h0M1624 754h0M1682 801h0M1586 901h0M1647 776h0M1618 862h0M1633 885h0M1662 909h0M1708 800h0M1634 913h0M1769 740h0M1590 765h0M1675 755h0M1749 804h0M1668 874h0M1615 874h0M1673 889h0M1738 794h0M1747 864h0M1694 874h0M1708 906h0M1616 906h0M1686 910h0M1562 907h0M1703 784h0M1681 809h0M1746 849h0M1647 862h0M1613 910h0M1616 784h0M1731 906h0M1579 787h0M1609 889h0M1696 839h0M1677 832h0M1731 758h0M1713 751h0M1751 809h0M1574 861h0M1725 829h0M1763 784h0M1589 900h0M1590 867h0M1590 910h0M1557 805h0M1703 845h0M1703 778h0M1762 773h0M1598 861h0M1598 918h0M1745 783h0M1695 789h0M1723 848h0M1598 904h0M1737 776h0M1649 911h0M1593 825h0M1589 778h0M1702 752h0M1643 851h0M1723 767h0M1595 875h0M1747 765h0M1600 812h0" stroke="#7a6cc0" stroke-width="4.6" stroke-linecap="round" opacity="0.75"/>
<path d="M1633 871h0M1765 775h0M1598 892h0M1679 847h0M1675 813h0M1641 758h0M1645 824h0M1707 915h0M1572 863h0M1650 887h0M1748 790h0M1628 827h0M1638 907h0M1768 887h0M1721 830h0M1680 882h0M1764 877h0M1609 755h0M1584 749h0M1563 741h0M1562 829h0M1592 847h0M1624 754h0M1682 801h0M1586 901h0M1647 776h0M1618 862h0M1633 885h0M1662 909h0M1708 800h0M1634 913h0M1769 740h0M1590 765h0M1675 755h0M1749 804h0M1668 874h0M1615 874h0M1673 889h0M1738 794h0M1747 864h0M1694 874h0M1708 906h0M1616 906h0M1686 910h0M1562 907h0M1703 784h0M1681 809h0M1746 849h0M1647 862h0M1613 910h0M1616 784h0M1731 906h0M1579 787h0M1609 889h0M1696 839h0M1677 832h0M1731 758h0M1713 751h0M1751 809h0M1574 861h0M1725 829h0M1763 784h0M1589 900h0M1590 867h0M1590 910h0M1557 805h0M1703 845h0M1703 778h0M1762 773h0M1598 861h0M1598 918h0M1745 783h0M1695 789h0M1723 848h0M1598 904h0M1737 776h0M1649 911h0M1593 825h0M1589 778h0M1702 752h0M1643 851h0M1723 767h0M1595 875h0M1747 765h0M1600 812h0" stroke="#40308a" stroke-width="2.8" stroke-linecap="round" opacity="1.0"/>
<path d="M1868 843h0M1837 746h0M1885 822h0M1840 908h0M1910 767h0M1962 782h0M1979 876h0M1990 814h0M1977 865h0M1937 740h0M1850 852h0M1951 851h0M1832 883h0M1823 859h0M1933 794h0M1925 891h0M1850 915h0M1839 752h0M1996 743h0M1990 889h0M1991 842h0M1867 828h0M2000 908h0M1858 792h0M1935 864h0M1839 828h0M1869 869h0M1963 797h0M1881 743h0M1972 846h0M1807 829h0M1823 814h0M1911 912h0M1905 845h0M1811 894h0M1940 756h0M1833 765h0M1824 900h0M1859 766h0M1980 812h0M1977 854h0M1792 743h0M1995 918h0M1908 901h0M1871 899h0M2005 857h0M1861 757h0M1847 772h0M1964 836h0M1936 791h0M1814 876h0M1811 846h0M1933 873h0M1825 788h0M1925 831h0M1799 772h0M1965 772h0M1998 767h0M1890 805h0M1878 804h0M1895 875h0M1831 778h0M1790 900h0M1812 916h0M2002 814h0M1833 778h0M1980 845h0M1877 783h0M1862 760h0M1829 862h0M1818 747h0M1959 906h0M1846 860h0M1980 749h0M1890 863h0M1970 884h0M1873 917h0M1883 822h0M1908 897h0M1820 844h0M1937 863h0M1843 912h0M1891 756h0M1943 874h0M1790 799h0M1824 890h0M1821 791h0M1839 836h0M1874 782h0M1877 776h0M1939 900h0M2002 895h0M1931 802h0M1843 829h0M1867 840h0M1931 797h0M1795 795h0M1887 790h0M1833 765h0M1958 907h0M1886 851h0M1953 854h0M1959 814h0M1935 766h0M2002 815h0M1851 783h0M1950 768h0M1910 841h0M1834 773h0M2002 802h0M2001 840h0M1960 834h0M1977 837h0M2005 763h0M1889 904h0M1809 793h0M1888 918h0M1947 856h0M1824 810h0M1786 779h0M1806 843h0M1894 859h0M1864 823h0M1892 775h0M1787 884h0M1864 891h0M1929 763h0M1917 918h0M1918 767h0M1950 826h0M1823 911h0M1964 840h0M1797 768h0M2008 758h0M1819 908h0M1993 809h0M1936 747h0M1857 858h0M1947 814h0M1914 845h0M1843 769h0M1902 792h0M1887 757h0M1801 838h0M1856 867h0M1809 874h0M1922 842h0M1951 876h0M1831 888h0M1789 882h0M1853 845h0M1787 797h0M1785 892h0M1861 842h0M1862 902h0M2007 813h0M1811 846h0M2007 839h0M1949 887h0M1791 772h0M1848 816h0M1841 862h0M1879 790h0M1867 889h0M1962 751h0M1940 763h0M1990 793h0M2007 877h0M1901 805h0M1975 900h0M1850 871h0M1830 866h0M1918 771h0M1832 753h0M1829 740h0M1865 819h0M1881 853h0M1905 830h0M1906 752h0M1819 816h0M1927 833h0M1878 859h0M2000 833h0M1883 754h0M1975 795h0M1957 793h0M1904 797h0M2005 761h0M1839 803h0M1913 770h0M1951 776h0M1788 815h0M1954 896h0M1940 892h0M1868 800h0M1785 859h0M1859 908h0M1787 800h0M1885 849h0M1834 857h0M1797 906h0M1825 860h0M1912 765h0M1941 814h0M1804 848h0M1893 789h0M1901 773h0M1890 763h0M1824 790h0M1863 849h0M1965 881h0M1846 890h0M1788 891h0M1918 859h0M1906 772h0M1816 856h0M1829 805h0M1786 888h0M1889 803h0M1998 803h0M1949 886h0M1981 869h0M1836 785h0M1914 914h0M1906 850h0M1872 892h0M1886 914h0M1885 913h0M1902 918h0M2004 746h0M1922 850h0M1843 753h0M2005 899h0M1968 743h0M1898 828h0M2001 819h0M1794 871h0M1915 788h0M1940 777h0M1946 785h0M1789 883h0M1803 832h0M1849 780h0M1815 818h0M1914 825h0M1989 839h0M1822 865h0M1804 879h0M1850 778h0M1878 841h0M1839 919h0M1941 807h0M1967 777h0M1858 831h0M1825 777h0M1985 781h0M1800 793h0M1982 827h0M1998 752h0M1831 812h0M1857 836h0M1882 835h0M1882 861h0M1818 819h0M1886 834h0M1821 909h0M1903 897h0M1884 752h0M1808 868h0M1922 867h0M1792 755h0M1893 875h0M1996 763h0M1866 762h0M1969 865h0M1838 910h0M1785 833h0M1889 805h0M1977 870h0M1845 849h0M1963 820h0M1852 851h0M1981 769h0M1927 764h0M1795 888h0M1860 788h0M1865 887h0M1931 809h0M1869 821h0M1798 881h0" stroke="#7a6cc0" stroke-width="4.6" stroke-linecap="round" opacity="0.75"/>
<path d="M1868 843h0M1837 746h0M1885 822h0M1840 908h0M1910 767h0M1962 782h0M1979 876h0M1990 814h0M1977 865h0M1937 740h0M1850 852h0M1951 851h0M1832 883h0M1823 859h0M1933 794h0M1925 891h0M1850 915h0M1839 752h0M1996 743h0M1990 889h0M1991 842h0M1867 828h0M2000 908h0M1858 792h0M1935 864h0M1839 828h0M1869 869h0M1963 797h0M1881 743h0M1972 846h0M1807 829h0M1823 814h0M1911 912h0M1905 845h0M1811 894h0M1940 756h0M1833 765h0M1824 900h0M1859 766h0M1980 812h0M1977 854h0M1792 743h0M1995 918h0M1908 901h0M1871 899h0M2005 857h0M1861 757h0M1847 772h0M1964 836h0M1936 791h0M1814 876h0M1811 846h0M1933 873h0M1825 788h0M1925 831h0M1799 772h0M1965 772h0M1998 767h0M1890 805h0M1878 804h0M1895 875h0M1831 778h0M1790 900h0M1812 916h0M2002 814h0M1833 778h0M1980 845h0M1877 783h0M1862 760h0M1829 862h0M1818 747h0M1959 906h0M1846 860h0M1980 749h0M1890 863h0M1970 884h0M1873 917h0M1883 822h0M1908 897h0M1820 844h0M1937 863h0M1843 912h0M1891 756h0M1943 874h0M1790 799h0M1824 890h0M1821 791h0M1839 836h0M1874 782h0M1877 776h0M1939 900h0M2002 895h0M1931 802h0M1843 829h0M1867 840h0M1931 797h0M1795 795h0M1887 790h0M1833 765h0M1958 907h0M1886 851h0M1953 854h0M1959 814h0M1935 766h0M2002 815h0M1851 783h0M1950 768h0M1910 841h0M1834 773h0M2002 802h0M2001 840h0M1960 834h0M1977 837h0M2005 763h0M1889 904h0M1809 793h0M1888 918h0M1947 856h0M1824 810h0M1786 779h0M1806 843h0M1894 859h0M1864 823h0M1892 775h0M1787 884h0M1864 891h0M1929 763h0M1917 918h0M1918 767h0M1950 826h0M1823 911h0M1964 840h0M1797 768h0M2008 758h0M1819 908h0M1993 809h0M1936 747h0M1857 858h0M1947 814h0M1914 845h0M1843 769h0M1902 792h0M1887 757h0M1801 838h0M1856 867h0M1809 874h0M1922 842h0M1951 876h0M1831 888h0M1789 882h0M1853 845h0M1787 797h0M1785 892h0M1861 842h0M1862 902h0M2007 813h0M1811 846h0M2007 839h0M1949 887h0M1791 772h0M1848 816h0M1841 862h0M1879 790h0M1867 889h0M1962 751h0M1940 763h0M1990 793h0M2007 877h0M1901 805h0M1975 900h0M1850 871h0M1830 866h0M1918 771h0M1832 753h0M1829 740h0M1865 819h0M1881 853h0M1905 830h0M1906 752h0M1819 816h0M1927 833h0M1878 859h0M2000 833h0M1883 754h0M1975 795h0M1957 793h0M1904 797h0M2005 761h0M1839 803h0M1913 770h0M1951 776h0M1788 815h0M1954 896h0M1940 892h0M1868 800h0M1785 859h0M1859 908h0M1787 800h0M1885 849h0M1834 857h0M1797 906h0M1825 860h0M1912 765h0M1941 814h0M1804 848h0M1893 789h0M1901 773h0M1890 763h0M1824 790h0M1863 849h0M1965 881h0M1846 890h0M1788 891h0M1918 859h0M1906 772h0M1816 856h0M1829 805h0M1786 888h0M1889 803h0M1998 803h0M1949 886h0M1981 869h0M1836 785h0M1914 914h0M1906 850h0M1872 892h0M1886 914h0M1885 913h0M1902 918h0M2004 746h0M1922 850h0M1843 753h0M2005 899h0M1968 743h0M1898 828h0M2001 819h0M1794 871h0M1915 788h0M1940 777h0M1946 785h0M1789 883h0M1803 832h0M1849 780h0M1815 818h0M1914 825h0M1989 839h0M1822 865h0M1804 879h0M1850 778h0M1878 841h0M1839 919h0M1941 807h0M1967 777h0M1858 831h0M1825 777h0M1985 781h0M1800 793h0M1982 827h0M1998 752h0M1831 812h0M1857 836h0M1882 835h0M1882 861h0M1818 819h0M1886 834h0M1821 909h0M1903 897h0M1884 752h0M1808 868h0M1922 867h0M1792 755h0M1893 875h0M1996 763h0M1866 762h0M1969 865h0M1838 910h0M1785 833h0M1889 805h0M1977 870h0M1845 849h0M1963 820h0M1852 851h0M1981 769h0M1927 764h0M1795 888h0M1860 788h0M1865 887h0M1931 809h0M1869 821h0M1798 881h0" stroke="#40308a" stroke-width="2.8" stroke-linecap="round" opacity="1.0"/>
<path d="M1373 1032h0M1400 945h0M1444 1023h0M1324 1069h0M1459 1027h0M1356 1080h0M1435 1039h0M1463 1051h0M1317 955h0M1460 1090h0M1501 1070h0M1518 1013h0M1448 1004h0M1394 968h0M1413 936h0M1401 936h0M1456 1031h0M1417 1035h0M1512 956h0M1513 1001h0M1421 1053h0M1515 1037h0M1396 976h0M1394 1055h0M1319 1073h0M1410 982h0M1512 1021h0M1323 1053h0M1511 1033h0M1367 1001h0M1492 1021h0M1396 1031h0M1426 1004h0M1380 986h0M1480 969h0M1526 946h0M1313 1067h0M1341 986h0M1373 1077h0M1439 1082h0M1455 998h0M1526 1054h0M1441 948h0M1374 969h0M1428 1007h0M1352 1015h0M1400 937h0M1393 1041h0M1427 1101h0M1479 954h0M1395 1004h0M1319 1092h0M1519 1018h0M1396 966h0M1433 961h0M1333 1096h0M1457 939h0M1430 1083h0M1358 1062h0M1403 960h0M1397 1021h0M1342 1074h0M1447 1023h0M1465 1071h0M1366 1039h0" stroke="#7060b8" stroke-width="6.4" stroke-linecap="round" opacity="0.75"/>
<path d="M1373 1032h0M1400 945h0M1444 1023h0M1324 1069h0M1459 1027h0M1356 1080h0M1435 1039h0M1463 1051h0M1317 955h0M1460 1090h0M1501 1070h0M1518 1013h0M1448 1004h0M1394 968h0M1413 936h0M1401 936h0M1456 1031h0M1417 1035h0M1512 956h0M1513 1001h0M1421 1053h0M1515 1037h0M1396 976h0M1394 1055h0M1319 1073h0M1410 982h0M1512 1021h0M1323 1053h0M1511 1033h0M1367 1001h0M1492 1021h0M1396 1031h0M1426 1004h0M1380 986h0M1480 969h0M1526 946h0M1313 1067h0M1341 986h0M1373 1077h0M1439 1082h0M1455 998h0M1526 1054h0M1441 948h0M1374 969h0M1428 1007h0M1352 1015h0M1400 937h0M1393 1041h0M1427 1101h0M1479 954h0M1395 1004h0M1319 1092h0M1519 1018h0M1396 966h0M1433 961h0M1333 1096h0M1457 939h0M1430 1083h0M1358 1062h0M1403 960h0M1397 1021h0M1342 1074h0M1447 1023h0M1465 1071h0M1366 1039h0" stroke="#33207a" stroke-width="4.2" stroke-linecap="round" opacity="1.0"/>
<path d="M1767 960h0M1556 1064h0M1605 949h0M1699 1039h0M1604 990h0M1712 1005h0M1753 949h0M1683 1012h0M1641 968h0M1731 1058h0M1561 1032h0M1582 958h0M1659 1017h0M1723 978h0" stroke="#7060b8" stroke-width="6.4" stroke-linecap="round" opacity="0.75"/>
<path d="M1767 960h0M1556 1064h0M1605 949h0M1699 1039h0M1604 990h0M1712 1005h0M1753 949h0M1683 1012h0M1641 968h0M1731 1058h0M1561 1032h0M1582 958h0M1659 1017h0M1723 978h0" stroke="#33207a" stroke-width="4.2" stroke-linecap="round" opacity="1.0"/>
<path d="M1888 948h0M1993 1083h0M1908 1097h0M1997 1018h0M1859 986h0M1899 1005h0M1917 1063h0M1980 951h0M1857 1050h0M1812 956h0M1937 961h0M1924 965h0M1853 982h0M1994 1037h0M1890 1054h0M1908 1029h0M1966 937h0M1966 954h0M2001 964h0M1792 1102h0" stroke="#7060b8" stroke-width="6.4" stroke-linecap="round" opacity="0.75"/>
<path d="M1888 948h0M1993 1083h0M1908 1097h0M1997 1018h0M1859 986h0M1899 1005h0M1917 1063h0M1980 951h0M1857 1050h0M1812 956h0M1937 961h0M1924 965h0M1853 982h0M1994 1037h0M1890 1054h0M1908 1029h0M1966 937h0M1966 954h0M2001 964h0M1792 1102h0" stroke="#33207a" stroke-width="4.2" stroke-linecap="round" opacity="1.0"/>
<rect x="1315.5" y="750.0" width="22.0" height="5.0" fill="#c8d25a" opacity="0.9"/>
<rect x="1315.5" y="945.0" width="22.0" height="5.0" fill="#c8d25a" opacity="0.9"/>
<rect x="1554.7" y="750.0" width="22.0" height="5.0" fill="#c8d25a" opacity="0.9"/>
<rect x="1554.7" y="945.0" width="22.0" height="5.0" fill="#c8d25a" opacity="0.9"/>
<rect x="1794.3" y="750.0" width="22.0" height="5.0" fill="#c8d25a" opacity="0.9"/>
<rect x="1794.3" y="945.0" width="22.0" height="5.0" fill="#c8d25a" opacity="0.9"/>
<text transform="translate(359.5,1423.0) rotate(-90) scale(1,1.025)" font-size="32.8" text-anchor="start" fill="#1c1c1c" stroke="#1c1c1c" stroke-width="0.45">Scramble</text>
<text transform="translate(438.8,1423.0) rotate(-90) scale(1,1.025)" font-size="32.8" text-anchor="start" fill="#1c1c1c" stroke="#1c1c1c" stroke-width="0.45">shPPP1R14D-1</text>
<text transform="translate(527.0,1423.0) rotate(-90) scale(1,1.025)" font-size="32.8" text-anchor="start" fill="#1c1c1c" stroke="#1c1c1c" stroke-width="0.45">shPPP1R14D-2</text>
<text transform="translate(676.0,1423.0) rotate(-90) scale(1,1.025)" font-size="32.8" text-anchor="start" fill="#1c1c1c" stroke="#1c1c1c" stroke-width="0.45">Scramble</text>
<text transform="translate(759.7,1424.0) rotate(-90) scale(1,1.025)" font-size="32.8" text-anchor="start" fill="#1c1c1c" stroke="#1c1c1c" stroke-width="0.45">shPPP1R14D-1</text>
<text transform="translate(847.6,1424.0) rotate(-90) scale(1,1.025)" font-size="32.8" text-anchor="start" fill="#1c1c1c" stroke="#1c1c1c" stroke-width="0.45">shPPP1R14D-2</text>
<text transform="translate(273.0,1474.3) scale(1,1.025)" font-size="32.8" text-anchor="end" fill="#1c1c1c" stroke="#1c1c1c" stroke-width="0.45">PPP1R14D</text>
<text transform="translate(273.0,1536.0) scale(1,1.025)" font-size="32.8" text-anchor="end" fill="#1c1c1c" stroke="#1c1c1c" stroke-width="0.45">MMP2</text>
<text transform="translate(273.0,1603.5) scale(1,1.025)" font-size="32.8" text-anchor="end" fill="#1c1c1c" stroke="#1c1c1c" stroke-width="0.45">MMP9</text>
<text transform="translate(273.0,1677.5) scale(1,1.025)" font-size="32.8" text-anchor="end" fill="#1c1c1c" stroke="#1c1c1c" stroke-width="0.45">GAPDH</text>
<text transform="translate(273.0,1825.5) scale(1,1.025)" font-size="32.8" text-anchor="end" fill="#1c1c1c" stroke="#1c1c1c" stroke-width="0.45">PPP1R14D</text>
<text transform="translate(273.0,1889.0) scale(1,1.025)" font-size="32.8" text-anchor="end" fill="#1c1c1c" stroke="#1c1c1c" stroke-width="0.45">Vimentin</text>
<text transform="translate(273.0,1950.5) scale(1,1.025)" font-size="32.8" text-anchor="end" fill="#1c1c1c" stroke="#1c1c1c" stroke-width="0.45">GAPDH</text>
<text transform="translate(896.0,1470.5) scale(1,1.025)" font-size="32.8" text-anchor="start" fill="#1c1c1c" stroke="#1c1c1c" stroke-width="0.45">20 kDa</text>
<text transform="translate(896.0,1545.0) scale(1,1.025)" font-size="32.8" text-anchor="start" fill="#1c1c1c" stroke="#1c1c1c" stroke-width="0.45">74 kDa</text>
<text transform="translate(896.0,1607.6) scale(1,1.025)" font-size="32.8" text-anchor="start" fill="#1c1c1c" stroke="#1c1c1c" stroke-width="0.45">92 kDa</text>
<text transform="translate(896.0,1682.0) scale(1,1.025)" font-size="32.8" text-anchor="start" fill="#1c1c1c" stroke="#1c1c1c" stroke-width="0.45">36 kDa</text>
<text transform="translate(892.5,1818.4) scale(1,1.025)" font-size="32.8" text-anchor="start" fill="#1c1c1c" stroke="#1c1c1c" stroke-width="0.45">20 kDa</text>
<text transform="translate(892.5,1887.0) scale(1,1.025)" font-size="32.8" text-anchor="start" fill="#1c1c1c" stroke="#1c1c1c" stroke-width="0.45">54 kDa</text>
<text transform="translate(892.5,1952.0) scale(1,1.025)" font-size="32.8" text-anchor="start" fill="#1c1c1c" stroke="#1c1c1c" stroke-width="0.45">36 kDa</text>
<rect x="291.8" y="1432.7" width="276.0" height="48.5" fill="url(#g1)"/>
<rect x="311.3" y="1445.5" width="59.0" height="24.4" rx="6.0" fill="#000" opacity="1.0" filter="url(#bl3)"/>
<rect x="312.3" y="1455.5" width="57.0" height="2.0" rx="1.0" fill="#444" opacity="0.5" filter="url(#bl1_5)"/>
<rect x="398.0" y="1446.5" width="58.4" height="9.5" rx="4.8" fill="#111" opacity="1.0" filter="url(#bl3)"/>
<rect x="398.0" y="1459.3" width="58.4" height="9.8" rx="4.9" fill="#111" opacity="1.0" filter="url(#bl3)"/>
<rect x="399.0" y="1450.5" width="57.0" height="13.0" rx="6.5" fill="#888" opacity="0.6" filter="url(#bl3)"/>
<rect x="478.0" y="1447.5" width="63.6" height="9.5" rx="4.8" fill="#333" opacity="1.0" filter="url(#bl3)"/>
<rect x="478.0" y="1459.3" width="63.6" height="11.2" rx="5.6" fill="#151515" opacity="1.0" filter="url(#bl3)"/>
<rect x="479.0" y="1451.5" width="62.0" height="14.0" rx="7.0" fill="#999" opacity="0.6" filter="url(#bl3)"/>
<rect x="291.8" y="1499.0" width="276.0" height="48.7" fill="url(#g2)"/>
<rect x="309.6" y="1516.4" width="70.1" height="16.6" rx="8.3" fill="#000" opacity="1.0" filter="url(#bl3)"/>
<rect x="393.0" y="1518.5" width="28.0" height="12.0" rx="6.0" fill="#666" opacity="0.8" filter="url(#bl3)"/>
<rect x="481.0" y="1515.0" width="64.0" height="9.0" rx="4.5" fill="#bbb" opacity="0.8" filter="url(#bl4)"/>
<rect x="291.8" y="1570.7" width="276.0" height="50.3" fill="url(#g3)"/>
<rect x="311.0" y="1583.5" width="64.5" height="25.0" rx="12.5" fill="#555" opacity="0.9" filter="url(#bl3)"/>
<rect x="311.3" y="1581.1" width="64.2" height="10.7" rx="5.4" fill="#000" opacity="1.0" filter="url(#bl3)"/>
<rect x="311.3" y="1600.7" width="64.2" height="11.5" rx="5.8" fill="#000" opacity="1.0" filter="url(#bl3)"/>
<rect x="394.0" y="1582.0" width="64.0" height="30.0" rx="15.0" fill="#a8a8a8" opacity="0.8" filter="url(#bl5)"/>
<rect x="478.0" y="1584.0" width="62.0" height="28.0" rx="14.0" fill="#cccccc" opacity="0.7" filter="url(#bl5)"/>
<rect x="291.8" y="1639.7" width="276.0" height="49.3" fill="url(#g4)"/>
<rect x="308.0" y="1651.8" width="81.0" height="18.4" rx="9.2" fill="#000" opacity="1.0" filter="url(#bl3)"/>
<rect x="386.0" y="1651.8" width="81.0" height="18.4" rx="9.2" fill="#000" opacity="1.0" filter="url(#bl3)"/>
<rect x="464.6" y="1651.5" width="80.4" height="18.0" rx="9.0" fill="#000" opacity="1.0" filter="url(#bl3)"/>
<rect x="289.3" y="1784.4" width="276.0" height="48.6" fill="url(#g5)"/>
<rect x="303.6" y="1799.1" width="55.7" height="16.6" rx="8.3" fill="#151515" opacity="1.0" filter="url(#bl3)"/>
<rect x="303.6" y="1815.2" width="55.7" height="12.3" rx="6.1" fill="#444" opacity="1.0" filter="url(#bl3)"/>
<rect x="404.0" y="1790.0" width="48.0" height="15.7" rx="7.9" fill="#999" opacity="0.9" filter="url(#bl4)"/>
<rect x="494.6" y="1800.6" width="59.4" height="23.8" rx="11.9" fill="#bbb" opacity="0.85" filter="url(#bl5)"/>
<rect x="289.3" y="1850.0" width="276.0" height="50.2" fill="url(#g6)"/>
<rect x="306.0" y="1858.7" width="63.5" height="12.4" rx="6.2" fill="#555" opacity="1.0" filter="url(#bl3)"/>
<rect x="301.9" y="1870.5" width="72.7" height="15.0" rx="7.5" fill="#000" opacity="1.0" filter="url(#bl3)"/>
<rect x="394.0" y="1860.5" width="65.0" height="11.5" rx="5.8" fill="#666" opacity="1.0" filter="url(#bl3)"/>
<rect x="394.0" y="1873.5" width="65.0" height="10.5" rx="5.2" fill="#555" opacity="1.0" filter="url(#bl3)"/>
<rect x="480.0" y="1857.0" width="70.0" height="12.5" rx="6.2" fill="#bbb" opacity="1.0" filter="url(#bl3)"/>
<rect x="289.3" y="1915.6" width="276.5" height="50.2" fill="url(#g7)"/>
<rect x="302.7" y="1927.7" width="81.3" height="20.0" rx="10.0" fill="#222" opacity="1.0" filter="url(#bl3)"/>
<rect x="380.0" y="1927.7" width="94.0" height="20.0" rx="10.0" fill="#222" opacity="1.0" filter="url(#bl3)"/>
<rect x="470.4" y="1926.5" width="82.2" height="20.5" rx="10.2" fill="#222" opacity="1.0" filter="url(#bl3)"/>
<rect x="607.5" y="1432.7" width="276.2" height="48.5" fill="url(#g8)"/>
<rect x="628.0" y="1445.5" width="56.5" height="22.0" rx="11.0" fill="#000" opacity="1.0" filter="url(#bl3)"/>
<rect x="718.3" y="1450.8" width="53.1" height="12.3" rx="6.1" fill="#444" opacity="1.0" filter="url(#bl3)"/>
<rect x="803.5" y="1451.5" width="56.5" height="11.6" rx="5.8" fill="#666" opacity="1.0" filter="url(#bl3)"/>
<rect x="606.8" y="1499.0" width="276.9" height="48.7" fill="url(#g9)"/>
<rect x="622.9" y="1526.5" width="66.7" height="17.6" rx="8.8" fill="#000" opacity="1.0" filter="url(#bl3)"/>
<rect x="706.3" y="1526.5" width="36.7" height="15.0" rx="7.5" fill="#1a1a1a" opacity="1.0" filter="url(#bl3)"/>
<rect x="737.0" y="1527.5" width="44.6" height="13.0" rx="6.5" fill="#555" opacity="1.0" filter="url(#bl3)"/>
<rect x="798.4" y="1525.5" width="76.9" height="13.5" rx="6.8" fill="#333" opacity="1.0" filter="url(#bl3)"/>
<rect x="606.8" y="1570.7" width="276.9" height="50.3" fill="url(#g10)"/>
<rect x="618.0" y="1585.0" width="70.0" height="21.0" rx="10.5" fill="#888" opacity="0.7" filter="url(#bl4)"/>
<rect x="617.7" y="1579.5" width="71.9" height="11.4" rx="5.7" fill="#333" opacity="1.0" filter="url(#bl3)"/>
<rect x="617.7" y="1599.0" width="71.9" height="13.2" rx="6.6" fill="#333" opacity="1.0" filter="url(#bl3)"/>
<rect x="606.8" y="1638.8" width="276.9" height="50.2" fill="url(#g11)"/>
<rect x="621.0" y="1653.5" width="81.5" height="20.0" rx="10.0" fill="#000" opacity="1.0" filter="url(#bl3)"/>
<rect x="698.5" y="1653.5" width="92.5" height="20.0" rx="10.0" fill="#000" opacity="1.0" filter="url(#bl3)"/>
<rect x="787.0" y="1653.0" width="85.0" height="20.0" rx="10.0" fill="#000" opacity="1.0" filter="url(#bl3)"/>
<rect x="606.0" y="1784.4" width="276.0" height="48.6" fill="url(#g12)"/>
<rect x="622.9" y="1804.2" width="59.9" height="18.3" rx="9.1" fill="#333" opacity="1.0" filter="url(#bl3)"/>
<rect x="708.0" y="1807.5" width="61.7" height="12.4" rx="6.2" fill="#777" opacity="1.0" filter="url(#bl3)"/>
<rect x="795.0" y="1791.5" width="68.4" height="9.0" rx="4.5" fill="#aaa" opacity="1.0" filter="url(#bl3)"/>
<rect x="795.0" y="1805.0" width="68.4" height="13.2" rx="6.6" fill="#555" opacity="1.0" filter="url(#bl3)"/>
<rect x="804.0" y="1821.2" width="57.0" height="8.1" rx="4.0" fill="#999" opacity="1.0" filter="url(#bl3)"/>
<rect x="606.0" y="1848.3" width="276.0" height="49.4" fill="url(#g13)"/>
<rect x="615.0" y="1856.0" width="77.0" height="38.0" rx="19.0" fill="#777" opacity="0.8" filter="url(#bl5)"/>
<rect x="622.9" y="1863.0" width="61.6" height="11.5" rx="5.8" fill="#222" opacity="1.0" filter="url(#bl3)"/>
<rect x="622.9" y="1874.9" width="61.6" height="12.4" rx="6.2" fill="#111" opacity="1.0" filter="url(#bl3)"/>
<rect x="798.0" y="1886.5" width="65.0" height="10.0" rx="5.0" fill="#999" opacity="1.0" filter="url(#bl3)"/>
<rect x="606.0" y="1915.6" width="276.0" height="50.2" fill="url(#g14)"/>
<rect x="615.2" y="1931.1" width="80.8" height="26.0" rx="13.0" fill="#000" opacity="1.0" filter="url(#bl3)"/>
<rect x="691.0" y="1929.5" width="97.0" height="26.0" rx="13.0" fill="#000" opacity="1.0" filter="url(#bl3)"/>
<rect x="783.7" y="1929.5" width="83.1" height="26.0" rx="13.0" fill="#000" opacity="1.0" filter="url(#bl3)"/>
<rect x="291.8" y="1432.7" width="276.0" height="48.5" fill="none" stroke="#454545" stroke-width="2.2"/>
<rect x="291.8" y="1499.0" width="276.0" height="48.7" fill="none" stroke="#454545" stroke-width="2.2"/>
<rect x="291.8" y="1570.7" width="276.0" height="50.3" fill="none" stroke="#454545" stroke-width="2.2"/>
<rect x="291.8" y="1639.7" width="276.0" height="49.3" fill="none" stroke="#454545" stroke-width="2.2"/>
<rect x="289.3" y="1784.4" width="276.0" height="48.6" fill="none" stroke="#454545" stroke-width="2.2"/>
<rect x="289.3" y="1850.0" width="276.0" height="50.2" fill="none" stroke="#454545" stroke-width="2.2"/>
<rect x="289.3" y="1915.6" width="276.5" height="50.2" fill="none" stroke="#454545" stroke-width="2.2"/>
<rect x="607.5" y="1432.7" width="276.2" height="48.5" fill="none" stroke="#454545" stroke-width="2.2"/>
<rect x="606.8" y="1499.0" width="276.9" height="48.7" fill="none" stroke="#454545" stroke-width="2.2"/>
<rect x="606.8" y="1570.7" width="276.9" height="50.3" fill="none" stroke="#454545" stroke-width="2.2"/>
<rect x="606.8" y="1638.8" width="276.9" height="50.2" fill="none" stroke="#454545" stroke-width="2.2"/>
<rect x="606.0" y="1784.4" width="276.0" height="48.6" fill="none" stroke="#454545" stroke-width="2.2"/>
<rect x="606.0" y="1848.3" width="276.0" height="49.4" fill="none" stroke="#454545" stroke-width="2.2"/>
<rect x="606.0" y="1915.6" width="276.0" height="50.2" fill="none" stroke="#454545" stroke-width="2.2"/>
<line x1="290.8" y1="1706.4" x2="575.0" y2="1706.4" stroke="#333" stroke-width="2.5"/>
<text transform="translate(421.0,1739.0) scale(1,1.025)" font-size="32.8" text-anchor="middle" fill="#1c1c1c" stroke="#1c1c1c" stroke-width="0.45">A549</text>
<line x1="606.5" y1="1706.7" x2="883.0" y2="1706.7" stroke="#333" stroke-width="2.5"/>
<text transform="translate(751.0,1738.5) scale(1,1.025)" font-size="32.8" text-anchor="middle" fill="#1c1c1c" stroke="#1c1c1c" stroke-width="0.45">PC-9</text>
<line x1="292.0" y1="1989.3" x2="566.5" y2="1989.3" stroke="#333" stroke-width="2.5"/>
<text transform="translate(428.0,2022.5) scale(1,1.025)" font-size="32.8" text-anchor="middle" fill="#1c1c1c" stroke="#1c1c1c" stroke-width="0.45">A549</text>
<line x1="608.0" y1="1988.6" x2="878.6" y2="1988.6" stroke="#333" stroke-width="2.5"/>
<text transform="translate(757.0,2022.0) scale(1,1.025)" font-size="32.8" text-anchor="middle" fill="#1c1c1c" stroke="#1c1c1c" stroke-width="0.45">PC-9</text>
<text transform="translate(367.5,2095.0) scale(1,1.025)" font-size="32.8" text-anchor="middle" fill="#1c1c1c" stroke="#1c1c1c" stroke-width="0.45">A549</text>
<line x1="131.0" y1="2115.7" x2="131.0" y2="2414.6" stroke="#474747" stroke-width="2.2"/>
<line x1="121.5" y1="2413.5" x2="576.3" y2="2413.5" stroke="#474747" stroke-width="2.2"/>
<line x1="121.5" y1="2413.5" x2="131.0" y2="2413.5" stroke="#474747" stroke-width="2.2"/>
<text transform="translate(113.5,2427.0) scale(1,1.025)" font-size="32.8" text-anchor="end" fill="#1c1c1c" stroke="#1c1c1c" stroke-width="0.45">0.0</text>
<line x1="121.5" y1="2339.1" x2="131.0" y2="2339.1" stroke="#474747" stroke-width="2.2"/>
<text transform="translate(113.5,2352.6) scale(1,1.025)" font-size="32.8" text-anchor="end" fill="#1c1c1c" stroke="#1c1c1c" stroke-width="0.45">0.5</text>
<line x1="121.5" y1="2264.6" x2="131.0" y2="2264.6" stroke="#474747" stroke-width="2.2"/>
<text transform="translate(113.5,2278.1) scale(1,1.025)" font-size="32.8" text-anchor="end" fill="#1c1c1c" stroke="#1c1c1c" stroke-width="0.45">1.0</text>
<line x1="121.5" y1="2190.1" x2="131.0" y2="2190.1" stroke="#474747" stroke-width="2.2"/>
<text transform="translate(113.5,2203.6) scale(1,1.025)" font-size="32.8" text-anchor="end" fill="#1c1c1c" stroke="#1c1c1c" stroke-width="0.45">1.5</text>
<line x1="121.5" y1="2115.7" x2="131.0" y2="2115.7" stroke="#474747" stroke-width="2.2"/>
<text transform="translate(113.5,2129.2) scale(1,1.025)" font-size="32.8" text-anchor="end" fill="#1c1c1c" stroke="#1c1c1c" stroke-width="0.45">2.0</text>
<line x1="185.8" y1="2413.5" x2="185.8" y2="2421.5" stroke="#474747" stroke-width="2.2"/>
<line x1="297.8" y1="2413.5" x2="297.8" y2="2421.5" stroke="#474747" stroke-width="2.2"/>
<line x1="409.6" y1="2413.5" x2="409.6" y2="2421.5" stroke="#474747" stroke-width="2.2"/>
<line x1="521.7" y1="2413.5" x2="521.7" y2="2421.5" stroke="#474747" stroke-width="2.2"/>
<rect x="145.2" y="2264.6" width="21.2" height="148.9" fill="#000"/>
<line x1="186.3" y1="2356.9" x2="186.3" y2="2351.7" stroke="#474747" stroke-width="2.5"/>
<line x1="180.8" y1="2351.7" x2="191.9" y2="2351.7" stroke="#474747" stroke-width="2.5"/>
<rect x="175.2" y="2356.9" width="22.2" height="56.6" fill="#9f9ea8"/>
<line x1="216.8" y1="2374.8" x2="216.8" y2="2352.5" stroke="#474747" stroke-width="2.5"/>
<line x1="211.5" y1="2352.5" x2="222.1" y2="2352.5" stroke="#474747" stroke-width="2.5"/>
<rect x="206.2" y="2374.8" width="21.2" height="38.7" fill="#7e7e7e"/>
<rect x="257.3" y="2264.6" width="21.2" height="148.9" fill="#000"/>
<line x1="297.9" y1="2331.6" x2="297.9" y2="2330.1" stroke="#474747" stroke-width="2.5"/>
<line x1="292.6" y1="2330.1" x2="303.1" y2="2330.1" stroke="#474747" stroke-width="2.5"/>
<rect x="287.3" y="2331.6" width="21.1" height="81.9" fill="#9f9ea8"/>
<line x1="328.5" y1="2318.2" x2="328.5" y2="2315.2" stroke="#474747" stroke-width="2.5"/>
<line x1="323.2" y1="2315.2" x2="333.8" y2="2315.2" stroke="#474747" stroke-width="2.5"/>
<rect x="318.0" y="2318.2" width="21.0" height="95.3" fill="#7e7e7e"/>
<rect x="369.4" y="2264.6" width="21.2" height="148.9" fill="#000"/>
<line x1="409.9" y1="2349.5" x2="409.9" y2="2348.7" stroke="#474747" stroke-width="2.5"/>
<line x1="404.7" y1="2348.7" x2="415.2" y2="2348.7" stroke="#474747" stroke-width="2.5"/>
<rect x="399.4" y="2349.5" width="21.1" height="64.0" fill="#9f9ea8"/>
<line x1="439.9" y1="2388.2" x2="439.9" y2="2387.4" stroke="#474747" stroke-width="2.5"/>
<line x1="434.6" y1="2387.4" x2="445.2" y2="2387.4" stroke="#474747" stroke-width="2.5"/>
<rect x="429.3" y="2388.2" width="21.2" height="25.3" fill="#7e7e7e"/>
<rect x="481.0" y="2264.6" width="21.3" height="148.9" fill="#000"/>
<line x1="521.6" y1="2355.4" x2="521.6" y2="2342.0" stroke="#474747" stroke-width="2.5"/>
<line x1="516.3" y1="2342.0" x2="527.0" y2="2342.0" stroke="#474747" stroke-width="2.5"/>
<rect x="511.0" y="2355.4" width="21.3" height="58.1" fill="#9f9ea8"/>
<line x1="552.4" y1="2382.2" x2="552.4" y2="2370.3" stroke="#474747" stroke-width="2.5"/>
<line x1="547.1" y1="2370.3" x2="557.7" y2="2370.3" stroke="#474747" stroke-width="2.5"/>
<rect x="541.8" y="2382.2" width="21.2" height="31.3" fill="#7e7e7e"/>
<path d="M166 2267 H172 Q174 2267 174 2270 V2381" fill="none" stroke="#111" stroke-width="3.4" stroke-linecap="round"/>
<path d="M195 2354.5 H201 Q203 2355 203 2358 V2362" fill="none" stroke="#999" stroke-width="2.5" stroke-linecap="round"/>
<rect x="150.6" y="2160.1" width="30.5" height="10.5" fill="#000"/>
<text transform="translate(186.3,2176.4) scale(1,1.025)" font-size="32.8" text-anchor="start" fill="#1c1c1c" stroke="#1c1c1c" stroke-width="0.45">Scramble</text>
<rect x="150.6" y="2193.2" width="30.5" height="10.5" fill="#9f9ea8"/>
<text transform="translate(183.9,2209.3) scale(1,1.025)" font-size="32.8" text-anchor="start" fill="#1c1c1c" stroke="#1c1c1c" stroke-width="0.45">shPPP1R14D-1</text>
<rect x="150.6" y="2225.6" width="30.5" height="10.5" fill="#7e7e7e"/>
<text transform="translate(184.5,2237.5) scale(1,1.025)" font-size="32.8" text-anchor="start" fill="#1c1c1c" stroke="#1c1c1c" stroke-width="0.45">shPPP1R14D-2</text>
<path d="M183.8,2337.8L185.1,2341.2L188.7,2341.4L185.9,2343.7L186.9,2347.2L183.8,2345.2L180.7,2347.2L181.7,2343.7L178.9,2341.4L182.5,2341.2ZM196.2,2337.8L197.5,2341.2L201.1,2341.4L198.3,2343.7L199.3,2347.2L196.2,2345.2L193.1,2347.2L194.1,2343.7L191.3,2341.4L194.9,2341.2Z" fill="#1e1e1e"/>
<path d="M217.0,2335.8L218.3,2339.2L221.9,2339.4L219.1,2341.7L220.1,2345.2L217.0,2343.2L213.9,2345.2L214.9,2341.7L212.1,2339.4L215.7,2339.2Z" fill="#1e1e1e"/>
<path d="M291.8,2314.8L293.1,2318.2L296.7,2318.4L293.9,2320.7L294.9,2324.2L291.8,2322.2L288.7,2324.2L289.7,2320.7L286.9,2318.4L290.5,2318.2ZM304.2,2314.8L305.5,2318.2L309.1,2318.4L306.3,2320.7L307.3,2324.2L304.2,2322.2L301.1,2324.2L302.1,2320.7L299.3,2318.4L302.9,2318.2Z" fill="#1e1e1e"/>
<path d="M322.8,2298.8L324.1,2302.2L327.7,2302.4L324.9,2304.7L325.9,2308.2L322.8,2306.2L319.7,2308.2L320.7,2304.7L317.9,2302.4L321.5,2302.2ZM335.2,2298.8L336.5,2302.2L340.1,2302.4L337.3,2304.7L338.3,2308.2L335.2,2306.2L332.1,2308.2L333.1,2304.7L330.3,2302.4L333.9,2302.2Z" fill="#1e1e1e"/>
<path d="M397.6,2332.3L398.9,2335.7L402.5,2335.9L399.7,2338.2L400.7,2341.7L397.6,2339.7L394.5,2341.7L395.5,2338.2L392.7,2335.9L396.3,2335.7ZM410.0,2332.3L411.3,2335.7L414.9,2335.9L412.1,2338.2L413.1,2341.7L410.0,2339.7L406.9,2341.7L407.9,2338.2L405.1,2335.9L408.7,2335.7ZM422.4,2332.3L423.7,2335.7L427.3,2335.9L424.5,2338.2L425.5,2341.7L422.4,2339.7L419.3,2341.7L420.3,2338.2L417.5,2335.9L421.1,2335.7Z" fill="#1e1e1e"/>
<path d="M427.6,2371.8L428.9,2375.2L432.5,2375.4L429.7,2377.7L430.7,2381.2L427.6,2379.2L424.5,2381.2L425.5,2377.7L422.7,2375.4L426.3,2375.2ZM440.0,2371.8L441.3,2375.2L444.9,2375.4L442.1,2377.7L443.1,2381.2L440.0,2379.2L436.9,2381.2L437.9,2377.7L435.1,2375.4L438.7,2375.2ZM452.4,2371.8L453.7,2375.2L457.3,2375.4L454.5,2377.7L455.5,2381.2L452.4,2379.2L449.3,2381.2L450.3,2377.7L447.5,2375.4L451.1,2375.2Z" fill="#1e1e1e"/>
<path d="M522.0,2325.3L523.3,2328.7L526.9,2328.9L524.1,2331.2L525.1,2334.7L522.0,2332.7L518.9,2334.7L519.9,2331.2L517.1,2328.9L520.7,2328.7Z" fill="#1e1e1e"/>
<path d="M546.8,2355.3L548.1,2358.7L551.7,2358.9L548.9,2361.2L549.9,2364.7L546.8,2362.7L543.7,2364.7L544.7,2361.2L541.9,2358.9L545.5,2358.7ZM559.2,2355.3L560.5,2358.7L564.1,2358.9L561.3,2361.2L562.3,2364.7L559.2,2362.7L556.1,2364.7L557.1,2361.2L554.3,2358.9L557.9,2358.7Z" fill="#1e1e1e"/>
<text transform="translate(43.0,2270.0) rotate(-90) scale(1,1.025)" font-size="32.8" text-anchor="middle" fill="#1c1c1c" stroke="#1c1c1c" stroke-width="0.45">Relative protein level</text>
<text transform="translate(197.0,2432.0) rotate(-90) scale(1,1.025)" font-size="32.8" text-anchor="end" fill="#1c1c1c" stroke="#1c1c1c" stroke-width="0.45">PPP1R14D</text>
<text transform="translate(312.0,2432.0) rotate(-90) scale(1,1.025)" font-size="32.8" text-anchor="end" fill="#1c1c1c" stroke="#1c1c1c" stroke-width="0.45">MMP2</text>
<text transform="translate(423.5,2432.0) rotate(-90) scale(1,1.025)" font-size="32.8" text-anchor="end" fill="#1c1c1c" stroke="#1c1c1c" stroke-width="0.45">MMP9</text>
<text transform="translate(528.5,2432.0) rotate(-90) scale(1,1.025)" font-size="32.8" text-anchor="end" fill="#1c1c1c" stroke="#1c1c1c" stroke-width="0.45">Vimentin</text>
<text transform="translate(923.5,2096.5) scale(1,1.025)" font-size="32.8" text-anchor="middle" fill="#1c1c1c" stroke="#1c1c1c" stroke-width="0.45">PC-9</text>
<line x1="762.9" y1="2129.4" x2="762.9" y2="2414.6" stroke="#474747" stroke-width="2.2"/>
<line x1="754.9" y1="2413.5" x2="1190.4" y2="2413.5" stroke="#474747" stroke-width="2.2"/>
<line x1="754.9" y1="2413.5" x2="762.9" y2="2413.5" stroke="#474747" stroke-width="2.2"/>
<text transform="translate(746.9,2427.0) scale(1,1.025)" font-size="32.8" text-anchor="end" fill="#1c1c1c" stroke="#1c1c1c" stroke-width="0.45">0.0</text>
<line x1="754.9" y1="2342.5" x2="762.9" y2="2342.5" stroke="#474747" stroke-width="2.2"/>
<text transform="translate(746.9,2356.0) scale(1,1.025)" font-size="32.8" text-anchor="end" fill="#1c1c1c" stroke="#1c1c1c" stroke-width="0.45">0.5</text>
<line x1="754.9" y1="2271.4" x2="762.9" y2="2271.4" stroke="#474747" stroke-width="2.2"/>
<text transform="translate(746.9,2284.9) scale(1,1.025)" font-size="32.8" text-anchor="end" fill="#1c1c1c" stroke="#1c1c1c" stroke-width="0.45">1.0</text>
<line x1="754.9" y1="2200.4" x2="762.9" y2="2200.4" stroke="#474747" stroke-width="2.2"/>
<text transform="translate(746.9,2213.9) scale(1,1.025)" font-size="32.8" text-anchor="end" fill="#1c1c1c" stroke="#1c1c1c" stroke-width="0.45">1.5</text>
<line x1="754.9" y1="2129.4" x2="762.9" y2="2129.4" stroke="#474747" stroke-width="2.2"/>
<text transform="translate(746.9,2142.9) scale(1,1.025)" font-size="32.8" text-anchor="end" fill="#1c1c1c" stroke="#1c1c1c" stroke-width="0.45">2.0</text>
<line x1="815.7" y1="2413.5" x2="815.7" y2="2421.5" stroke="#474747" stroke-width="2.2"/>
<line x1="922.5" y1="2413.5" x2="922.5" y2="2421.5" stroke="#474747" stroke-width="2.2"/>
<line x1="1030.0" y1="2413.5" x2="1030.0" y2="2421.5" stroke="#474747" stroke-width="2.2"/>
<line x1="1137.5" y1="2413.5" x2="1137.5" y2="2421.5" stroke="#474747" stroke-width="2.2"/>
<rect x="777.3" y="2271.4" width="20.1" height="142.1" fill="#000"/>
<line x1="816.1" y1="2362.4" x2="816.1" y2="2356.7" stroke="#474747" stroke-width="2.5"/>
<line x1="811.1" y1="2356.7" x2="821.2" y2="2356.7" stroke="#474747" stroke-width="2.5"/>
<rect x="806.0" y="2362.4" width="20.3" height="51.1" fill="#9f9ea8"/>
<line x1="845.5" y1="2370.9" x2="845.5" y2="2362.4" stroke="#474747" stroke-width="2.5"/>
<line x1="840.5" y1="2362.4" x2="850.5" y2="2362.4" stroke="#474747" stroke-width="2.5"/>
<rect x="835.5" y="2370.9" width="20.0" height="42.6" fill="#7e7e7e"/>
<rect x="883.8" y="2271.4" width="20.0" height="142.1" fill="#000"/>
<line x1="923.0" y1="2331.1" x2="923.0" y2="2324.0" stroke="#474747" stroke-width="2.5"/>
<line x1="918.0" y1="2324.0" x2="928.0" y2="2324.0" stroke="#474747" stroke-width="2.5"/>
<rect x="913.0" y="2331.1" width="20.0" height="82.4" fill="#9f9ea8"/>
<line x1="952.5" y1="2316.9" x2="952.5" y2="2314.1" stroke="#474747" stroke-width="2.5"/>
<line x1="947.5" y1="2314.1" x2="957.5" y2="2314.1" stroke="#474747" stroke-width="2.5"/>
<rect x="942.6" y="2316.9" width="19.8" height="96.6" fill="#7e7e7e"/>
<rect x="990.6" y="2271.4" width="21.8" height="142.1" fill="#000"/>
<line x1="1030.0" y1="2363.8" x2="1030.0" y2="2361.7" stroke="#474747" stroke-width="2.5"/>
<line x1="1024.8" y1="2361.7" x2="1035.3" y2="2361.7" stroke="#474747" stroke-width="2.5"/>
<rect x="1019.5" y="2363.8" width="21.1" height="49.7" fill="#9f9ea8"/>
<line x1="1060.0" y1="2338.2" x2="1060.0" y2="2336.8" stroke="#474747" stroke-width="2.5"/>
<line x1="1054.7" y1="2336.8" x2="1065.3" y2="2336.8" stroke="#474747" stroke-width="2.5"/>
<rect x="1049.4" y="2338.2" width="21.2" height="75.3" fill="#7e7e7e"/>
<rect x="1097.0" y="2271.4" width="23.0" height="142.1" fill="#000"/>
<line x1="1137.9" y1="2366.6" x2="1137.9" y2="2363.8" stroke="#474747" stroke-width="2.5"/>
<line x1="1132.5" y1="2363.8" x2="1143.4" y2="2363.8" stroke="#474747" stroke-width="2.5"/>
<rect x="1127.0" y="2366.6" width="21.8" height="46.9" fill="#9f9ea8"/>
<line x1="1167.0" y1="2376.6" x2="1167.0" y2="2358.1" stroke="#474747" stroke-width="2.5"/>
<line x1="1161.5" y1="2358.1" x2="1172.5" y2="2358.1" stroke="#474747" stroke-width="2.5"/>
<rect x="1156.0" y="2376.6" width="22.0" height="36.9" fill="#7e7e7e"/>
<rect x="777.3" y="2155.9" width="30.5" height="10.5" fill="#000"/>
<text transform="translate(815.7,2172.3) scale(1,1.025)" font-size="32.8" text-anchor="start" fill="#1c1c1c" stroke="#1c1c1c" stroke-width="0.45">Scramble</text>
<rect x="777.3" y="2188.8" width="30.5" height="10.5" fill="#9f9ea8"/>
<text transform="translate(813.4,2205.2) scale(1,1.025)" font-size="32.8" text-anchor="start" fill="#1c1c1c" stroke="#1c1c1c" stroke-width="0.45">shPPP1R14D-1</text>
<rect x="777.3" y="2221.4" width="30.5" height="10.5" fill="#7e7e7e"/>
<text transform="translate(813.4,2233.4) scale(1,1.025)" font-size="32.8" text-anchor="start" fill="#1c1c1c" stroke="#1c1c1c" stroke-width="0.45">shPPP1R14D-2</text>
<path d="M809.8,2337.6L811.1,2341.0L814.7,2341.2L811.9,2343.5L812.9,2347.0L809.8,2345.0L806.7,2347.0L807.7,2343.5L804.9,2341.2L808.5,2341.0ZM822.2,2337.6L823.5,2341.0L827.1,2341.2L824.3,2343.5L825.3,2347.0L822.2,2345.0L819.1,2347.0L820.1,2343.5L817.3,2341.2L820.9,2341.0Z" fill="#1e1e1e"/>
<path d="M839.8,2342.1L841.1,2345.5L844.7,2345.7L841.9,2348.0L842.9,2351.5L839.8,2349.5L836.7,2351.5L837.7,2348.0L834.9,2345.7L838.5,2345.5ZM852.2,2342.1L853.5,2345.5L857.1,2345.7L854.3,2348.0L855.3,2351.5L852.2,2349.5L849.1,2351.5L850.1,2348.0L847.3,2345.7L850.9,2345.5Z" fill="#1e1e1e"/>
<path d="M912.0,2307.6L913.3,2311.0L916.9,2311.2L914.1,2313.5L915.1,2317.0L912.0,2315.0L908.9,2317.0L909.9,2313.5L907.1,2311.2L910.7,2311.0ZM924.4,2307.6L925.7,2311.0L929.3,2311.2L926.5,2313.5L927.5,2317.0L924.4,2315.0L921.3,2317.0L922.3,2313.5L919.5,2311.2L923.1,2311.0ZM936.8,2307.6L938.1,2311.0L941.7,2311.2L938.9,2313.5L939.9,2317.0L936.8,2315.0L933.7,2317.0L934.7,2313.5L931.9,2311.2L935.5,2311.0Z" fill="#1e1e1e"/>
<path d="M943.6,2297.2L944.9,2300.6L948.5,2300.8L945.7,2303.1L946.7,2306.6L943.6,2304.6L940.5,2306.6L941.5,2303.1L938.7,2300.8L942.3,2300.6ZM956.0,2297.2L957.3,2300.6L960.9,2300.8L958.1,2303.1L959.1,2306.6L956.0,2304.6L952.9,2306.6L953.9,2303.1L951.1,2300.8L954.7,2300.6ZM968.4,2297.2L969.7,2300.6L973.3,2300.8L970.5,2303.1L971.5,2306.6L968.4,2304.6L965.3,2306.6L966.3,2303.1L963.5,2300.8L967.1,2300.6Z" fill="#1e1e1e"/>
<path d="M1017.6,2344.6L1018.9,2348.0L1022.5,2348.2L1019.7,2350.5L1020.7,2354.0L1017.6,2352.0L1014.5,2354.0L1015.5,2350.5L1012.7,2348.2L1016.3,2348.0ZM1030.0,2344.6L1031.3,2348.0L1034.9,2348.2L1032.1,2350.5L1033.1,2354.0L1030.0,2352.0L1026.9,2354.0L1027.9,2350.5L1025.1,2348.2L1028.7,2348.0ZM1042.4,2344.6L1043.7,2348.0L1047.3,2348.2L1044.5,2350.5L1045.5,2354.0L1042.4,2352.0L1039.3,2354.0L1040.3,2350.5L1037.5,2348.2L1041.1,2348.0Z" fill="#1e1e1e"/>
<path d="M1047.6,2320.1L1048.9,2323.5L1052.5,2323.7L1049.7,2326.0L1050.7,2329.5L1047.6,2327.5L1044.5,2329.5L1045.5,2326.0L1042.7,2323.7L1046.3,2323.5ZM1060.0,2320.1L1061.3,2323.5L1064.9,2323.7L1062.1,2326.0L1063.1,2329.5L1060.0,2327.5L1056.9,2329.5L1057.9,2326.0L1055.1,2323.7L1058.7,2323.5ZM1072.4,2320.1L1073.7,2323.5L1077.3,2323.7L1074.5,2326.0L1075.5,2329.5L1072.4,2327.5L1069.3,2329.5L1070.3,2326.0L1067.5,2323.7L1071.1,2323.5Z" fill="#1e1e1e"/>
<path d="M1131.8,2347.3L1133.1,2350.7L1136.7,2350.9L1133.9,2353.2L1134.9,2356.7L1131.8,2354.7L1128.7,2356.7L1129.7,2353.2L1126.9,2350.9L1130.5,2350.7ZM1144.2,2347.3L1145.5,2350.7L1149.1,2350.9L1146.3,2353.2L1147.3,2356.7L1144.2,2354.7L1141.1,2356.7L1142.1,2353.2L1139.3,2350.9L1142.9,2350.7Z" fill="#1e1e1e"/>
<path d="M1167.0,2344.6L1168.3,2348.0L1171.9,2348.2L1169.1,2350.5L1170.1,2354.0L1167.0,2352.0L1163.9,2354.0L1164.9,2350.5L1162.1,2348.2L1165.7,2348.0Z" fill="#1e1e1e"/>
<text transform="translate(680.0,2270.0) rotate(-90) scale(1,1.025)" font-size="32.8" text-anchor="middle" fill="#1c1c1c" stroke="#1c1c1c" stroke-width="0.45">Relative protein level</text>
<text transform="translate(829.0,2432.0) rotate(-90) scale(1,1.025)" font-size="32.8" text-anchor="end" fill="#1c1c1c" stroke="#1c1c1c" stroke-width="0.45">PPP1R14D</text>
<text transform="translate(935.0,2432.0) rotate(-90) scale(1,1.025)" font-size="32.8" text-anchor="end" fill="#1c1c1c" stroke="#1c1c1c" stroke-width="0.45">MMP2</text>
<text transform="translate(1042.4,2432.0) rotate(-90) scale(1,1.025)" font-size="32.8" text-anchor="end" fill="#1c1c1c" stroke="#1c1c1c" stroke-width="0.45">MMP9</text>
<text transform="translate(1148.0,2432.0) rotate(-90) scale(1,1.025)" font-size="32.8" text-anchor="end" fill="#1c1c1c" stroke="#1c1c1c" stroke-width="0.45">Vimentin</text>
<line x1="1332.4" y1="1383.9" x2="1332.4" y2="1796.0" stroke="#474747" stroke-width="2.2"/>
<line x1="1321.4" y1="1794.9" x2="1950.6" y2="1794.9" stroke="#474747" stroke-width="2.2"/>
<line x1="1321.4" y1="1794.9" x2="1332.4" y2="1794.9" stroke="#474747" stroke-width="2.2"/>
<text transform="translate(1310.9,1803.9) scale(1,1.025)" font-size="32.8" text-anchor="end" fill="#1c1c1c" stroke="#1c1c1c" stroke-width="0.45">0</text>
<line x1="1321.4" y1="1657.9" x2="1332.4" y2="1657.9" stroke="#474747" stroke-width="2.2"/>
<text transform="translate(1310.9,1666.9) scale(1,1.025)" font-size="32.8" text-anchor="end" fill="#1c1c1c" stroke="#1c1c1c" stroke-width="0.45">500</text>
<line x1="1321.4" y1="1520.9" x2="1332.4" y2="1520.9" stroke="#474747" stroke-width="2.2"/>
<text transform="translate(1310.9,1529.9) scale(1,1.025)" font-size="32.8" text-anchor="end" fill="#1c1c1c" stroke="#1c1c1c" stroke-width="0.45">1000</text>
<line x1="1321.4" y1="1383.9" x2="1332.4" y2="1383.9" stroke="#474747" stroke-width="2.2"/>
<text transform="translate(1310.9,1392.9) scale(1,1.025)" font-size="32.8" text-anchor="end" fill="#1c1c1c" stroke="#1c1c1c" stroke-width="0.45">1500</text>
<line x1="1485.3" y1="1794.9" x2="1485.3" y2="1805.9" stroke="#474747" stroke-width="2.2"/>
<line x1="1794.0" y1="1794.9" x2="1794.0" y2="1805.9" stroke="#474747" stroke-width="2.2"/>
<line x1="1401.8" y1="1439.8" x2="1401.8" y2="1424.2" stroke="#474747" stroke-width="2.5"/>
<line x1="1387.3" y1="1424.2" x2="1416.4" y2="1424.2" stroke="#474747" stroke-width="2.5"/>
<rect x="1372.8" y="1439.8" width="58.1" height="355.1" fill="#000"/>
<line x1="1486.0" y1="1612.4" x2="1486.0" y2="1602.0" stroke="#474747" stroke-width="2.5"/>
<line x1="1471.4" y1="1602.0" x2="1500.7" y2="1602.0" stroke="#474747" stroke-width="2.5"/>
<rect x="1456.8" y="1612.4" width="58.5" height="182.5" fill="#9f9ea8"/>
<line x1="1570.3" y1="1579.8" x2="1570.3" y2="1553.8" stroke="#474747" stroke-width="2.5"/>
<line x1="1555.8" y1="1553.8" x2="1584.8" y2="1553.8" stroke="#474747" stroke-width="2.5"/>
<rect x="1541.3" y="1579.8" width="58.0" height="215.1" fill="#7e7e7e"/>
<line x1="1710.2" y1="1711.9" x2="1710.2" y2="1702.3" stroke="#474747" stroke-width="2.5"/>
<line x1="1695.7" y1="1702.3" x2="1724.7" y2="1702.3" stroke="#474747" stroke-width="2.5"/>
<rect x="1681.2" y="1711.9" width="58.0" height="83.0" fill="#000"/>
<line x1="1794.3" y1="1787.2" x2="1794.3" y2="1785.6" stroke="#474747" stroke-width="2.5"/>
<line x1="1779.7" y1="1785.6" x2="1809.0" y2="1785.6" stroke="#474747" stroke-width="2.5"/>
<rect x="1765.0" y="1787.2" width="58.7" height="7.7" fill="#9f9ea8"/>
<line x1="1877.6" y1="1782.3" x2="1877.6" y2="1776.8" stroke="#474747" stroke-width="2.5"/>
<line x1="1863.1" y1="1776.8" x2="1892.1" y2="1776.8" stroke="#474747" stroke-width="2.5"/>
<rect x="1848.6" y="1782.3" width="58.0" height="12.6" fill="#7e7e7e"/>
<rect x="1655.6" y="1425.7" width="31.9" height="10.5" fill="#000"/>
<text transform="translate(1695.4,1443.2) scale(1,1.025)" font-size="32.8" text-anchor="start" fill="#1c1c1c" stroke="#1c1c1c" stroke-width="0.45">Scramble</text>
<rect x="1655.6" y="1460.0" width="31.9" height="10.5" fill="#9f9ea8"/>
<text transform="translate(1695.4,1475.5) scale(1,1.025)" font-size="32.8" text-anchor="start" fill="#1c1c1c" stroke="#1c1c1c" stroke-width="0.45">shPPP1R14D-1</text>
<rect x="1655.6" y="1494.7" width="31.9" height="10.5" fill="#7e7e7e"/>
<text transform="translate(1695.4,1507.8) scale(1,1.025)" font-size="32.8" text-anchor="start" fill="#1c1c1c" stroke="#1c1c1c" stroke-width="0.45">shPPP1R14D-2</text>
<path d="M1471.8,1584.3L1473.1,1587.7L1476.7,1587.9L1473.9,1590.2L1474.9,1593.7L1471.8,1591.7L1468.7,1593.7L1469.7,1590.2L1466.9,1587.9L1470.5,1587.7ZM1484.2,1584.3L1485.5,1587.7L1489.1,1587.9L1486.3,1590.2L1487.3,1593.7L1484.2,1591.7L1481.1,1593.7L1482.1,1590.2L1479.3,1587.9L1482.9,1587.7ZM1496.6,1584.3L1497.9,1587.7L1501.5,1587.9L1498.7,1590.2L1499.7,1593.7L1496.6,1591.7L1493.5,1593.7L1494.5,1590.2L1491.7,1587.9L1495.3,1587.7Z" fill="#1e1e1e"/>
<path d="M1557.4,1537.7L1558.7,1541.1L1562.3,1541.3L1559.5,1543.6L1560.5,1547.1L1557.4,1545.1L1554.3,1547.1L1555.3,1543.6L1552.5,1541.3L1556.1,1541.1ZM1569.8,1537.7L1571.1,1541.1L1574.7,1541.3L1571.9,1543.6L1572.9,1547.1L1569.8,1545.1L1566.7,1547.1L1567.7,1543.6L1564.9,1541.3L1568.5,1541.1ZM1582.2,1537.7L1583.5,1541.1L1587.1,1541.3L1584.3,1543.6L1585.3,1547.1L1582.2,1545.1L1579.1,1547.1L1580.1,1543.6L1577.3,1541.3L1580.9,1541.1Z" fill="#1e1e1e"/>
<path d="M1782.6,1761.8L1783.9,1765.2L1787.5,1765.4L1784.7,1767.7L1785.7,1771.2L1782.6,1769.2L1779.5,1771.2L1780.5,1767.7L1777.7,1765.4L1781.3,1765.2ZM1795.0,1761.8L1796.3,1765.2L1799.9,1765.4L1797.1,1767.7L1798.1,1771.2L1795.0,1769.2L1791.9,1771.2L1792.9,1767.7L1790.1,1765.4L1793.7,1765.2ZM1807.4,1761.8L1808.7,1765.2L1812.3,1765.4L1809.5,1767.7L1810.5,1771.2L1807.4,1769.2L1804.3,1771.2L1805.3,1767.7L1802.5,1765.4L1806.1,1765.2Z" fill="#1e1e1e"/>
<path d="M1863.9,1755.3L1865.2,1758.7L1868.8,1758.9L1866.0,1761.2L1867.0,1764.7L1863.9,1762.7L1860.8,1764.7L1861.8,1761.2L1859.0,1758.9L1862.6,1758.7ZM1876.3,1755.3L1877.6,1758.7L1881.2,1758.9L1878.4,1761.2L1879.4,1764.7L1876.3,1762.7L1873.2,1764.7L1874.2,1761.2L1871.4,1758.9L1875.0,1758.7ZM1888.7,1755.3L1890.0,1758.7L1893.6,1758.9L1890.8,1761.2L1891.8,1764.7L1888.7,1762.7L1885.6,1764.7L1886.6,1761.2L1883.8,1758.9L1887.4,1758.7Z" fill="#1e1e1e"/>
<text transform="translate(1218.0,1591.5) rotate(-90) scale(1,1.025)" font-size="32.8" text-anchor="middle" fill="#1c1c1c" stroke="#1c1c1c" stroke-width="0.45">Migration cell number</text>
<text transform="translate(1475.0,1849.0) scale(1,1.025)" font-size="32.8" text-anchor="middle" fill="#1c1c1c" stroke="#1c1c1c" stroke-width="0.45">A549</text>
<text transform="translate(1797.0,1849.0) scale(1,1.025)" font-size="32.8" text-anchor="middle" fill="#1c1c1c" stroke="#1c1c1c" stroke-width="0.45">PC-9</text>
<line x1="1361.4" y1="2006.2" x2="1361.4" y2="2420.4" stroke="#474747" stroke-width="2.2"/>
<line x1="1350.4" y1="2419.3" x2="1983.3" y2="2419.3" stroke="#474747" stroke-width="2.2"/>
<line x1="1350.4" y1="2419.3" x2="1361.4" y2="2419.3" stroke="#474747" stroke-width="2.2"/>
<text transform="translate(1344.4,2428.6) scale(1,1.025)" font-size="32.8" text-anchor="end" fill="#1c1c1c" stroke="#1c1c1c" stroke-width="0.45">0</text>
<line x1="1350.4" y1="2336.7" x2="1361.4" y2="2336.7" stroke="#474747" stroke-width="2.2"/>
<text transform="translate(1344.4,2346.0) scale(1,1.025)" font-size="32.8" text-anchor="end" fill="#1c1c1c" stroke="#1c1c1c" stroke-width="0.45">100</text>
<line x1="1350.4" y1="2254.1" x2="1361.4" y2="2254.1" stroke="#474747" stroke-width="2.2"/>
<text transform="translate(1344.4,2263.4) scale(1,1.025)" font-size="32.8" text-anchor="end" fill="#1c1c1c" stroke="#1c1c1c" stroke-width="0.45">200</text>
<line x1="1350.4" y1="2171.4" x2="1361.4" y2="2171.4" stroke="#474747" stroke-width="2.2"/>
<text transform="translate(1344.4,2180.7) scale(1,1.025)" font-size="32.8" text-anchor="end" fill="#1c1c1c" stroke="#1c1c1c" stroke-width="0.45">300</text>
<line x1="1350.4" y1="2088.8" x2="1361.4" y2="2088.8" stroke="#474747" stroke-width="2.2"/>
<text transform="translate(1344.4,2098.1) scale(1,1.025)" font-size="32.8" text-anchor="end" fill="#1c1c1c" stroke="#1c1c1c" stroke-width="0.45">400</text>
<line x1="1350.4" y1="2006.2" x2="1361.4" y2="2006.2" stroke="#474747" stroke-width="2.2"/>
<text transform="translate(1344.4,2015.5) scale(1,1.025)" font-size="32.8" text-anchor="end" fill="#1c1c1c" stroke="#1c1c1c" stroke-width="0.45">500</text>
<line x1="1515.9" y1="2419.3" x2="1515.9" y2="2430.3" stroke="#474747" stroke-width="2.2"/>
<line x1="1825.2" y1="2419.3" x2="1825.2" y2="2430.3" stroke="#474747" stroke-width="2.2"/>
<line x1="1432.0" y1="2101.2" x2="1432.0" y2="2028.5" stroke="#474747" stroke-width="2.5"/>
<line x1="1417.4" y1="2028.5" x2="1446.5" y2="2028.5" stroke="#474747" stroke-width="2.5"/>
<rect x="1402.9" y="2101.2" width="58.1" height="318.1" fill="#000"/>
<line x1="1516.1" y1="2391.2" x2="1516.1" y2="2387.1" stroke="#474747" stroke-width="2.5"/>
<line x1="1501.4" y1="2387.1" x2="1530.8" y2="2387.1" stroke="#474747" stroke-width="2.5"/>
<rect x="1486.8" y="2391.2" width="58.6" height="28.1" fill="#9f9ea8"/>
<line x1="1601.3" y1="2304.5" x2="1601.3" y2="2272.2" stroke="#474747" stroke-width="2.5"/>
<line x1="1586.8" y1="2272.2" x2="1615.9" y2="2272.2" stroke="#474747" stroke-width="2.5"/>
<rect x="1572.3" y="2304.5" width="58.1" height="114.8" fill="#7e7e7e"/>
<line x1="1742.0" y1="2388.7" x2="1742.0" y2="2381.3" stroke="#474747" stroke-width="2.5"/>
<line x1="1727.7" y1="2381.3" x2="1756.4" y2="2381.3" stroke="#474747" stroke-width="2.5"/>
<rect x="1713.3" y="2388.7" width="57.5" height="30.6" fill="#000"/>
<line x1="1826.8" y1="2407.7" x2="1826.8" y2="2401.1" stroke="#474747" stroke-width="2.5"/>
<line x1="1812.3" y1="2401.1" x2="1841.3" y2="2401.1" stroke="#474747" stroke-width="2.5"/>
<rect x="1797.8" y="2407.7" width="58.0" height="11.6" fill="#9f9ea8"/>
<line x1="1911.0" y1="2403.6" x2="1911.0" y2="2401.1" stroke="#474747" stroke-width="2.5"/>
<line x1="1896.3" y1="2401.1" x2="1925.7" y2="2401.1" stroke="#474747" stroke-width="2.5"/>
<rect x="1881.7" y="2403.6" width="58.6" height="15.7" fill="#7e7e7e"/>
<rect x="1687.6" y="2047.1" width="33.5" height="11.0" fill="#000"/>
<text transform="translate(1729.2,2065.8) scale(1,1.025)" font-size="32.8" text-anchor="start" fill="#1c1c1c" stroke="#1c1c1c" stroke-width="0.45">Scramble</text>
<rect x="1687.6" y="2082.1" width="33.5" height="11.0" fill="#9f9ea8"/>
<text transform="translate(1726.9,2098.7) scale(1,1.025)" font-size="32.8" text-anchor="start" fill="#1c1c1c" stroke="#1c1c1c" stroke-width="0.45">shPPP1R14D-1</text>
<rect x="1687.6" y="2117.6" width="33.5" height="11.0" fill="#7e7e7e"/>
<text transform="translate(1726.9,2131.0) scale(1,1.025)" font-size="32.8" text-anchor="start" fill="#1c1c1c" stroke="#1c1c1c" stroke-width="0.45">shPPP1R14D-2</text>
<path d="M1502.8,2372.1L1504.1,2375.5L1507.7,2375.7L1504.9,2378.0L1505.9,2381.5L1502.8,2379.5L1499.7,2381.5L1500.7,2378.0L1497.9,2375.7L1501.5,2375.5ZM1515.2,2372.1L1516.5,2375.5L1520.1,2375.7L1517.3,2378.0L1518.3,2381.5L1515.2,2379.5L1512.1,2381.5L1513.1,2378.0L1510.3,2375.7L1513.9,2375.5ZM1527.6,2372.1L1528.9,2375.5L1532.5,2375.7L1529.7,2378.0L1530.7,2381.5L1527.6,2379.5L1524.5,2381.5L1525.5,2378.0L1522.7,2375.7L1526.3,2375.5Z" fill="#1e1e1e"/>
<path d="M1587.1,2258.1L1588.4,2261.5L1592.0,2261.7L1589.2,2264.0L1590.2,2267.5L1587.1,2265.5L1584.0,2267.5L1585.0,2264.0L1582.2,2261.7L1585.8,2261.5ZM1599.5,2258.1L1600.8,2261.5L1604.4,2261.7L1601.6,2264.0L1602.6,2267.5L1599.5,2265.5L1596.4,2267.5L1597.4,2264.0L1594.6,2261.7L1598.2,2261.5ZM1611.9,2258.1L1613.2,2261.5L1616.8,2261.7L1614.0,2264.0L1615.0,2267.5L1611.9,2265.5L1608.8,2267.5L1609.8,2264.0L1607.0,2261.7L1610.6,2261.5Z" fill="#1e1e1e"/>
<path d="M1812.0,2387.6L1813.3,2391.0L1816.9,2391.2L1814.1,2393.5L1815.1,2397.0L1812.0,2395.0L1808.9,2397.0L1809.9,2393.5L1807.1,2391.2L1810.7,2391.0ZM1824.4,2387.6L1825.7,2391.0L1829.3,2391.2L1826.5,2393.5L1827.5,2397.0L1824.4,2395.0L1821.3,2397.0L1822.3,2393.5L1819.5,2391.2L1823.1,2391.0ZM1836.8,2387.6L1838.1,2391.0L1841.7,2391.2L1838.9,2393.5L1839.9,2397.0L1836.8,2395.0L1833.7,2397.0L1834.7,2393.5L1831.9,2391.2L1835.5,2391.0Z" fill="#1e1e1e"/>
<path d="M1901.8,2383.0L1903.1,2386.4L1906.7,2386.6L1903.9,2388.9L1904.9,2392.4L1901.8,2390.4L1898.7,2392.4L1899.7,2388.9L1896.9,2386.6L1900.5,2386.4ZM1914.2,2383.0L1915.5,2386.4L1919.1,2386.6L1916.3,2388.9L1917.3,2392.4L1914.2,2390.4L1911.1,2392.4L1912.1,2388.9L1909.3,2386.6L1912.9,2386.4Z" fill="#1e1e1e"/>
<text transform="translate(1263.5,2233.0) rotate(-90) scale(1,1.025)" font-size="32.8" text-anchor="middle" fill="#1c1c1c" stroke="#1c1c1c" stroke-width="0.45">Invasion cell number</text>
<text transform="translate(1503.5,2475.0) scale(1,1.025)" font-size="32.8" text-anchor="middle" fill="#1c1c1c" stroke="#1c1c1c" stroke-width="0.45">A549</text>
<text transform="translate(1842.0,2475.0) scale(1,1.025)" font-size="32.8" text-anchor="middle" fill="#1c1c1c" stroke="#1c1c1c" stroke-width="0.45">PC-9</text></svg></body></html>
